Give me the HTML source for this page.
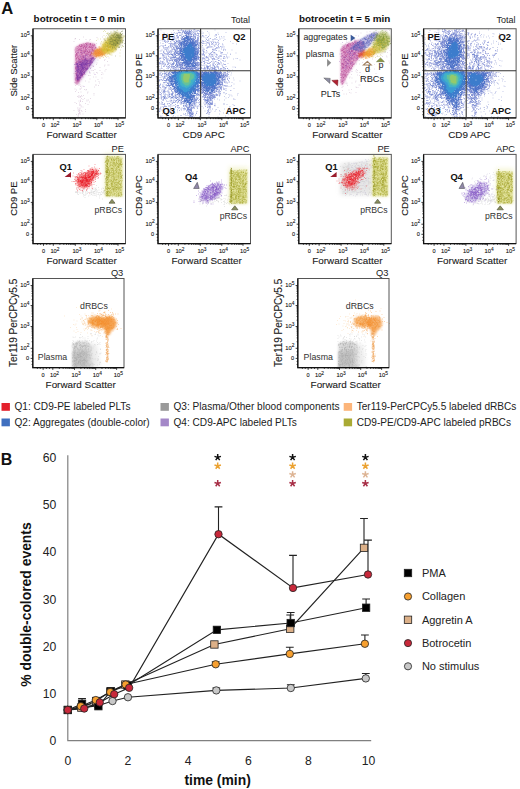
<!DOCTYPE html><html><head><meta charset="utf-8"><style>html,body{margin:0;padding:0;background:#fff;}body{width:520px;height:789px;overflow:hidden}</style></head><body><svg width="520" height="789" viewBox="0 0 520 789" style="font-family:'Liberation Sans',sans-serif;display:block">
<style>.h{stroke:#1a1a1a;stroke-width:0.1px}</style>
<defs><filter id="b1" x="-50%" y="-50%" width="200%" height="200%"><feGaussianBlur stdDeviation="1.2"/></filter><filter id="b2" x="-50%" y="-50%" width="200%" height="200%"><feGaussianBlur stdDeviation="2.2"/></filter><filter id="b3" x="-50%" y="-50%" width="200%" height="200%"><feGaussianBlur stdDeviation="3.5"/></filter></defs>
<rect width="520" height="789" fill="#fff"/>
<path d="M167 74h0m38 0h0m-11 1h0m-43 2h0m0 0h0m-1 1h0m9 1h0m13 0h0m7 1h0m2-1h0m27 0h0m2 1h0m-62 3h0m61 4h0m-8 1h0m-8-1h0m-26 1h0m8 2h0m39 0h0m-2 5h0m-22-2h0m-38 5h0m11-1h0m21 0h0m27 1h0m3-1h0m-5 4h0m-1-1h0m-5 0h0m-21-1h0m-10 1h0m-5 1h0m-10-1h0m0 2h0m33 2h0m6 0h0m14-2h0m-24 3h0m-5 2h0m-8-1h0m1 4h0m20 0h0m2-2h0m23 0h0m-23 4h0m-28 0h0m-4 4h0m15-2h0m8 0h0m26 1h0m5 1h0m-8 3h0m-46 0h0m-4 0h0m-2-2h0m-6 1h0m11 4h0m4-2h0m29 0h0m13 1h0m6 2h0m-39 0h0m-21 1h0m39 2h0m24 4h0m-2 0h0m-6 0h0m-17-1h0m-10 1h0m-33-1h0m5 4h0m32 0h0m0 0h0m22-1h0m-9 3h0m-18 0h0m-10 1h0m-9 1h0m-6 0h0m33 2h0m22 0h0m-2 3h0m-10-1h0m-13 0h0m-3 0h0m-15 0h0m-4 2h0m-13 0h0m-1 0h0m12 3h0m3-2h0m22 2h0m5-1h0m2 1h0m9-1h0m2 3h0m-3 1h0m-41 0h0m-14-2h0m14 5h0m1-1h0m14 0h0m3 0h0m12 3h0m-5 0h0m-37 4h0m30 0h0m24-2h0m-8 3h0m-34 0h0m-3 1h0m12 2h0m7 2h0m13-2h0m7 1h0m1 3h0m-40 0h0m-10-1h0m43 5h0m0 0h0m5 1h0m-39 0h0m-7 0h0m12 5h0m26-2h0m-16 5h0m-4 0h0m-9-1h0m-10 0h0m3 2h0m19 0h0m4 4h0m-14 0h0m-11-1h0m24 3h0m13 1h0m0 3h0m-21 1h0m-4 0h0m-8 2h0m3 1h0m6-1h0m17 4h0m-15 2h0m8 1h0m3 0h0m-3 2h0m-9 1h0m-4-1h0m-11 3h0m29-1h0m-3 5h0m-5-2h0m-18 0h0m18 12h0m-23 2h0m23 2h0m-12 4h0m-6 2h0m4 3h0" stroke="#d8c8d8" stroke-width="1.6" stroke-linecap="round" transform="scale(0.5)"/>
<polygon points="75.2,47.5 80.0,44.5 88.0,42.5 95.0,44.0 97.5,52.0 92.0,62.0 84.0,74.0 78.0,84.0 75.2,84.0" fill="#cc5ca2" opacity="0.6" filter="url(#b1)"/>
<path d="M174 86h0m0 0h0m3 0h0m12 3h0m-1-1h0m-3 0h0m0 1h0m-3-1h0m-1 0h0m0 1h0m0-2h0m-1 0h0m0 1h0m-1 0h0m-1 1h0m-2-2h0m-1 1h0m-2-1h0m0 2h0m0 0h0m-1 0h0m-1-2h0m0 0h0m-3 2h0m0-1h0m-2 0h0m-3 1h0m0 0h0m-3 0h0m-2 2h0m1 0h0m0 1h0m1-2h0m3 2h0m0-1h0m0 1h0m1-1h0m1-1h0m0 1h0m3 0h0m0-1h0m1 0h0m0 2h0m2-1h0m2-1h0m0 1h0m1 1h0m2-2h0m4 0h0m0 2h0m2 0h0m0-2h0m4 2h0m0 0h0m0-1h0m0 0h0m2 0h0m0 1h0m0-2h0m2 0h0m2 5h0m-1 0h0m-4 0h0m0-2h0m-1 2h0m0-1h0m-2 1h0m0-1h0m-1-1h0m-2 2h0m-1 0h0m0-1h0m-1 1h0m0-2h0m-1 0h0m-1 2h0m-3-1h0m-1-1h0m0 2h0m-2 0h0m0-1h0m-1 0h0m-1-1h0m-1 0h0m-1 2h0m0-1h0m-1 1h0m0-2h0m0 1h0m-4 0h0m0-1h0m0 0h0m-1 1h0m-1-1h0m-3 1h0m-1 0h0m-1-1h0m-2 1h0m-2 2h0m3 1h0m1 1h0m1 0h0m4-1h0m0 1h0m0 0h0m1 0h0m1 0h0m1 0h0m1-2h0m0 1h0m1 0h0m2 0h0m4 0h0m0 1h0m0-1h0m4 0h0m8-1h0m1 1h0m1-1h0m1 2h0m3 0h0m2-2h0m0 0h0m-4 5h0m-1 0h0m-1-1h0m0 0h0m0-1h0m-2 2h0m-1-2h0m-1 2h0m-1-1h0m-1 1h0m-1-1h0m0 0h0m-1 0h0m-4-1h0m0 1h0m-1-1h0m-1 1h0m0 0h0m-2 1h0m0-1h0m-1-1h0m-2 2h0m-2 0h0m-2 0h0m-1-1h0m-3 0h0m0-1h0m0 1h0m-3 1h0m-2 0h0m-1-1h0m-2 0h0m1 3h0m3 0h0m2-1h0m0 2h0m6 0h0m0-2h0m0 0h0m2 2h0m2-1h0m2 0h0m0 1h0m2-1h0m1 1h0m0-1h0m0-1h0m3 0h0m1 2h0m0-2h0m1 2h0m0-1h0m0 0h0m1 0h0m1 0h0m1 0h0m0 1h0m1 0h0m2-2h0m0 2h0m0-2h0m2 0h0m2 1h0m1-1h0m1 1h0m1-1h0m1 0h0m0 2h0m1-1h0m1 0h0m0 1h0m1-1h0m1 0h0m-1 2h0m0 2h0m-1 0h0m-1-1h0m-1 1h0m-1 0h0m0 0h0m-2-2h0m0 2h0m-1 0h0m-2 0h0m0 0h0m-1 0h0m0-2h0m0 1h0m-1 1h0m0-2h0m-2 0h0m-1 0h0m-1 2h0m-1-2h0m0 0h0m-4 2h0m-1-1h0m-1 0h0m-1 1h0m-1-2h0m-1 1h0m0 0h0m-2 1h0m-1 0h0m0 0h0m-1 0h0m-1-1h0m-1-1h0m-1 1h0m0-1h0m-1 2h0m-2 0h0m-1-2h0m-1 0h0m-1 1h0m-1 1h0m0-1h0m-1 1h0m0 0h0m-2-2h0m1 5h0m0 0h0m0-1h0m0 1h0m1-1h0m2 1h0m0 0h0m4 0h0m3-1h0m1 1h0m1 0h0m0-2h0m1 1h0m6-1h0m1 1h0m1-1h0m1 1h0m1-1h0m1 0h0m0 0h0m0 0h0m1 1h0m2-1h0m1 2h0m0 0h0m1-1h0m0 1h0m1-1h0m10 0h0m-2 4h0m-6-2h0m-2 1h0m-1 0h0m-1-1h0m-1 1h0m-4 1h0m-1-2h0m-3 2h0m0-2h0m-1 1h0m-2 0h0m0 1h0m-1 0h0m0-2h0m-2 1h0m0 1h0m-1 0h0m-2-2h0m0 2h0m-4 0h0m0-2h0m-2 2h0m-3-2h0m-2 1h0m0 0h0m0 0h0m0 1h0m0 3h0m1-2h0m2 1h0m0 1h0m1-2h0m2 2h0m0 0h0m1-1h0m2 0h0m2 0h0m3-1h0m0 1h0m0-1h0m2 2h0m0-1h0m0 1h0m3-1h0m1 1h0m2 0h0m4-2h0m4 2h0m2-2h0m1 2h0m1-1h0m0 0h0m1 0h0m1 2h0m0 1h0m-1 0h0m-3-1h0m-1 2h0m-2-1h0m0-1h0m-4 0h0m-2 1h0m-1 1h0m-2-2h0m-1 1h0m0 1h0m-1 0h0m-2-2h0m0 1h0m-1 1h0m-1-1h0m0 0h0m-1-1h0m0 2h0m-1-2h0m0 2h0m-1 0h0m-2 0h0m-1 0h0m-1-2h0m-1 0h0m0 2h0m-4-2h0m0 1h0m-1 0h0m-1 2h0m2 2h0m4 0h0m2-2h0m0 0h0m1 2h0m2 0h0m1-1h0m2 0h0m2 1h0m1-2h0m1 2h0m0 0h0m2-2h0m1 2h0m1-1h0m1 1h0m0 0h0m2 0h0m1-1h0m1 1h0m0-2h0m1 2h0m1 0h0m2-1h0m1 1h0m1 0h0m-1 3h0m-1 0h0m-2-1h0m-1 1h0m-3 0h0m-3 0h0m-8-1h0m0-1h0m0 2h0m-2-1h0m0 0h0m0 0h0m-1-1h0m0 1h0m-1 1h0m0-2h0m0 0h0m0 2h0m-2-2h0m-3 2h0m-1-1h0m-1 0h0m-1 0h0m-1 1h0m-1 1h0m2 0h0m0 0h0m1 1h0m3-1h0m0 0h0m0 0h0m2 2h0m0-1h0m0 0h0m0 0h0m0 1h0m1-1h0m2 0h0m0-1h0m1 2h0m3-2h0m0 2h0m4 0h0m2-1h0m0 1h0m0 0h0m0-2h0m1 0h0m1 1h0m1-1h0m3 2h0m3 0h0m1-2h0m0 1h0m-3 3h0m-4 0h0m0 0h0m-2 0h0m0 0h0m-2 1h0m-1-2h0m-1 0h0m-1 0h0m0 2h0m-2 0h0m-3 0h0m-3-2h0m-1 2h0m0-2h0m-2 1h0m0 1h0m-1 0h0m-1 0h0m-2-2h0m-1 1h0m0-1h0m-1 5h0m1-1h0m2 1h0m2-1h0m0 1h0m1-2h0m0 1h0m2-1h0m2 1h0m1 0h0m1 1h0m1 0h0m2-1h0m1-1h0m0 1h0m1 0h0m1 0h0m2 0h0m2 1h0m2-2h0m2 0h0m1 1h0m-3 2h0m-1 2h0m-2 0h0m0-2h0m0 1h0m-1 1h0m0-1h0m-1-1h0m0 1h0m-2-1h0m-1 1h0m-2 1h0m0 0h0m-1 0h0m-1-1h0m-1-1h0m-1 2h0m-2 0h0m-1-1h0m-1-1h0m-1 0h0m-1 2h0m-1-1h0m0 1h0m-1-2h0m0 0h0m-1 2h0m-1-2h0m0 2h0m0-1h0m0 2h0m1 2h0m0-1h0m2-1h0m2 2h0m2-1h0m0-1h0m1 1h0m2 1h0m1 0h0m2-1h0m0 1h0m1 0h0m1-2h0m4 1h0m1-1h0m2 1h0m1-1h0m0 0h0m1 0h0m-5 3h0m-1 2h0m-2-1h0m-2-1h0m0 0h0m-1 1h0m0 1h0m-1-2h0m0 2h0m-1 0h0m-4-2h0m-1 2h0m0-1h0m-1 1h0m-1-2h0m-1 0h0m0 2h0m0-2h0m-1 3h0m0 2h0m1-2h0m1 1h0m0-1h0m1 2h0m1 0h0m0-2h0m2 2h0m0-2h0m0 0h0m2 1h0m2-1h0m0 2h0m5 0h0m0 0h0m0 0h0m0-2h0m1 3h0m-1 1h0m-1 1h0m-2 0h0m0 0h0m-1-2h0m-1 0h0m0 2h0m-2 0h0m0 0h0m-2 0h0m0-2h0m0 1h0m-5 1h0m-1-1h0m-1-1h0m0 1h0m0-1h0m1 4h0m0-1h0m0 1h0m0-1h0m1 1h0m1-1h0m1 0h0m1 1h0m2 1h0m1 0h0m3 0h0m2-1h0m0-1h0m0 0h0m0 2h0m-2 1h0m-3 2h0m-1 0h0m-2-1h0m-1 1h0m0-2h0m-1 0h0m0 2h0m0-1h0m-1 0h0m0-1h0m-1 2h0m-2 1h0m0 2h0m1-2h0m1 0h0m2 1h0m0 1h0m0-2h0m2 2h0m1 0h0m2-2h0m1 0h0m-2 3h0m-3 0h0m0 1h0m0 1h0m0 0h0m-1 0h0m-1-1h0m0 0h0m-2 1h0m-1-1h0m0-1h0m1 5h0m2-2h0m0 2h0m1-2h0m1 1h0m0 1h0m1-2h0m1 0h0m1 0h0m-2 4h0m-3 0h0m-3 0h0m3 2h0m0 0h0" stroke="#b03888" stroke-width="1.8" stroke-linecap="round" stroke-opacity="0.5" transform="scale(0.5)"/>
<path d="M174 86h0m1 0h0m11 2h0m-1 0h0m-7-1h0m0 0h0m-2 2h0m-5 0h0m-3 0h0m-1-1h0m-5 1h0m2 2h0m6 0h0m3 0h0m1 1h0m5-2h0m3 2h0m5 0h0m1-2h0m3 2h0m-1 1h0m-2 1h0m-1 0h0m0 1h0m-2-2h0m-8 0h0m-2 0h0m-8 0h0m-2 2h0m-3 0h0m-7-1h0m-2 0h0m0 2h0m2 2h0m1-2h0m4 1h0m1 1h0m2-2h0m2 1h0m0 0h0m5 1h0m2 0h0m2 0h0m4-1h0m0 1h0m0-2h0m3 2h0m3-1h0m3 0h0m5-1h0m1 2h0m-2 1h0m-8 2h0m-1 0h0m-1-1h0m0 1h0m-3 0h0m-1 0h0m-1-2h0m-3 2h0m-4-1h0m0-1h0m-6 1h0m-8 0h0m0-1h0m-2 2h0m-2 1h0m3 0h0m1 1h0m1 0h0m4 0h0m4-1h0m13 1h0m0-1h0m0 1h0m1-1h0m10 0h0m3 2h0m0 0h0m0 0h0m1-1h0m1 0h0m0-1h0m-3 4h0m-1 0h0m-2-1h0m-1 2h0m0-1h0m-1-1h0m-5 0h0m-1 2h0m-1 0h0m-6 0h0m-1-2h0m0 1h0m-5 0h0m0 0h0m-2 1h0m-2 0h0m-1 0h0m-1-1h0m-1 1h0m0-1h0m-1-1h0m0 1h0m-2 0h0m-1 0h0m2 4h0m1-1h0m1-1h0m6 1h0m2-1h0m1 2h0m1 0h0m0-1h0m1 1h0m5-1h0m2-1h0m2 0h0m6 1h0m5 4h0m-2-2h0m0 2h0m-13-1h0m-1-1h0m-2 2h0m-3-1h0m-4 1h0m-2-2h0m-2 1h0m0 0h0m-2-1h0m0 1h0m-7 0h0m-1 0h0m6 4h0m1-1h0m2 0h0m5 0h0m4-1h0m1 0h0m2 1h0m2-1h0m3 2h0m4-1h0m3-1h0m2 2h0m0-2h0m2 2h0m-3 1h0m-1 2h0m-7-1h0m-10-1h0m-1 0h0m-15 3h0m4 0h0m1 2h0m5-2h0m2 0h0m1 1h0m0-1h0m4 1h0m6 1h0m7 0h0m3-1h0m-4 2h0m-7 1h0m-4 1h0m-2-1h0m-2-1h0m-3 1h0m-4 1h0m-3 0h0m3 1h0m0 1h0m1 0h0m3 1h0m0-2h0m7 0h0m2 0h0m3 1h0m4-1h0m3 1h0m-6 2h0m-1 0h0m-2 1h0m-4-1h0m-3 2h0m-2 0h0m-4 0h0m-2-2h0m-5 1h0m-1 1h0m1 3h0m2-1h0m0-1h0m0 0h0m3 2h0m5-1h0m1 0h0m0 1h0m5-1h0m0 1h0m1 0h0m1-2h0m3 4h0m-1 0h0m0-1h0m-4 0h0m-1 0h0m-5 1h0m-4 1h0m-4-1h0m-3 2h0m0 1h0m3 1h0m1 0h0m3-1h0m2 1h0m4-1h0m4 1h0m-1 1h0m0 1h0m-1-1h0m-2 1h0m-1 0h0m-5-1h0m-5 2h0m-1 0h0m3 1h0m2 1h0m0 1h0m1-2h0m0 1h0m7 0h0m3-1h0m-4 4h0m-2 1h0m0-2h0m-6 1h0m0 1h0m-6 3h0m9 0h0m5 1h0m-2 1h0m-10 4h0m4-2h0m3 4h0m-7-1h0m-1 1h0" stroke="#e0a8d0" stroke-width="1.6" stroke-linecap="round" stroke-opacity="0.7" transform="scale(0.5)"/>
<polygon points="76.5,63.0 86.0,59.5 96.5,56.5 91.0,65.0 83.0,75.0 78.5,81.0 76.5,81.0" fill="#8a4cb4" opacity="0.5" filter="url(#b2)"/>
<path d="M184 116h0m1 0h0m1 0h0m1 0h0m0-1h0m5-1h0m-2 3h0m0 0h0m-1 2h0m-3-1h0m-1-1h0m-1 1h0m-1 0h0m0 1h0m-1-1h0m0-1h0m-6 2h0m-4 0h0m-1 0h0m-5 2h0m3 1h0m1-1h0m0-1h0m0 0h0m3 1h0m0 0h0m2 0h0m0 1h0m1-1h0m3-1h0m2 1h0m1 0h0m2-1h0m0 0h0m3 1h0m1-1h0m-2 3h0m-1 1h0m-1-1h0m0 2h0m-1-2h0m-2 1h0m0-1h0m0 2h0m0-2h0m-2 0h0m-3 0h0m-1 0h0m-1 2h0m-1-1h0m0 0h0m-3 0h0m-1 1h0m-1-2h0m0 2h0m-2 0h0m0 0h0m0-1h0m-1 0h0m-5 1h0m0-1h0m0 1h0m0-1h0m-2 1h0m-5 3h0m1 0h0m0 0h0m1 0h0m0-1h0m0 1h0m1 0h0m2 0h0m4-2h0m1 2h0m0 0h0m1-1h0m1 0h0m1 0h0m0-1h0m1 1h0m1 0h0m1 0h0m1 1h0m1-2h0m0 2h0m0 0h0m1-2h0m0 1h0m0 1h0m2-2h0m2 1h0m0 1h0m1-1h0m1 0h0m1 0h0m1-1h0m0 1h0m2 1h0m0-1h0m2-1h0m-3 4h0m0 0h0m-1-1h0m0 0h0m-1 2h0m0 0h0m-3-1h0m-3 0h0m0-1h0m0 1h0m-2 0h0m0-1h0m-2 1h0m0 0h0m0 1h0m-2-2h0m-1 0h0m-1 1h0m-1 1h0m-1 0h0m0 0h0m-1-1h0m0-1h0m0 0h0m0 0h0m-1 1h0m-1-1h0m0 0h0m0 0h0m-1 0h0m-3 1h0m-1 1h0m-1-2h0m-1 3h0m2 0h0m0 1h0m1 0h0m0-1h0m0 2h0m0-1h0m0 0h0m3 0h0m3 0h0m1 1h0m0-2h0m1 1h0m1 1h0m0 0h0m1-1h0m2 1h0m2 0h0m4 0h0m4-2h0m1 0h0m-3 5h0m-2 0h0m-3 0h0m-2-2h0m0 1h0m-2 1h0m0-1h0m-1 0h0m0 1h0m0-1h0m-1-1h0m0 2h0m0-2h0m-3 0h0m-1 2h0m-3-1h0m0 1h0m-1-2h0m0 2h0m-1-2h0m-1 0h0m-1 1h0m-1 4h0m1 0h0m0-2h0m2 2h0m0-1h0m0-1h0m0 1h0m1 0h0m1 1h0m0 0h0m2-1h0m3-1h0m1 2h0m0-1h0m0 0h0m2-1h0m1 2h0m2-1h0m2 1h0m1-2h0m1 2h0m1-2h0m0 1h0m-2 2h0m-2 2h0m-3-2h0m-2 2h0m-1 0h0m-1-2h0m-1 0h0m-1 2h0m0 0h0m0-2h0m-1 0h0m-2 0h0m-3 2h0m0-2h0m-1 1h0m0 0h0m1 4h0m1-2h0m0 1h0m1-1h0m2 1h0m0 1h0m2 0h0m0-2h0m0 0h0m0 2h0m1-2h0m1 1h0m1 1h0m0-1h0m2-1h0m1 1h0m1 0h0m0 1h0m1-2h0m0 0h0m0 2h0m-4 2h0m0 1h0m0-1h0m-1-1h0m0 1h0m-1 1h0m0 0h0m0-2h0m0 0h0m-1 0h0m-1 1h0m-1-1h0m-1 1h0m-3 0h0m-2 1h0m0-1h0m-1 2h0m2 1h0m1 0h0m0-1h0m0 2h0m1-2h0m3 2h0m1-1h0m0 1h0m0-1h0m2 0h0m0-1h0m0 0h0m1 1h0m0 1h0m-2 3h0m-1 0h0m-1-2h0m0 1h0m-1 1h0m-1-1h0m-2 1h0m0 0h0m0-2h0m0 2h0m-1-2h0m-1 0h0m0 1h0m0 2h0m0 2h0m0-1h0m0 1h0m1 0h0m1-1h0m0-1h0m0 2h0m2-1h0m0-1h0m0 0h0m1 0h0m1 0h0m1 0h0m-3 4h0m0 0h0m-1-1h0m-1 1h0m-1-1h0m0 0h0" stroke="#7434a4" stroke-width="1.8" stroke-linecap="round" stroke-opacity="0.5" transform="scale(0.5)"/>
<path d="M174 92h0m-11 9h0m6 3h0m4-2h0m-7 3h0m-3 1h0m-7-1h0m15 5h0m4 0h0m-2 1h0m-2 1h0m-2 0h0m-3 0h0m-5 1h0m-1-2h0m2 5h0m4-2h0m2 1h0m0 1h0m2 0h0m1 0h0m1 1h0m-2 1h0m-14 4h0m1 0h0m4-2h0m3 1h0m2 1h0m0-1h0m4-1h0m1 2h0m0 0h0m10-1h0m4 4h0m-3 0h0m-3 0h0m-7-1h0m-4-1h0m-5 1h0m-5 0h0m-7 4h0m3-1h0m8 1h0m1-1h0m3-1h0m5 2h0m3 0h0m1-1h0m0 1h0m-6 1h0m-2 0h0m0 1h0m-1 0h0m-1 1h0m-1-1h0m0 1h0m0-2h0m0 0h0m0 1h0m-2 0h0m0 1h0m-1-2h0m-6 0h0m-6 0h0m4 4h0m7 1h0m1-1h0m3 0h0m5 1h0m2 0h0m3-2h0m1 2h0m4 0h0m7-2h0m-5 5h0m-4-2h0m-1 2h0m-1-1h0m-8-1h0m-1 1h0m-1-1h0m-3 0h0m1 4h0m4 1h0m0-1h0m6-1h0m1 0h0m-2 4h0m-8 1h0m-6 0h0m-7 0h0m20 1h0m8 0h0m1 2h0m10 3h0m-20 0h0m-3-1h0m-5 1h0m4 5h0m2 19h0" stroke="#7e3cac" stroke-width="1.8" stroke-linecap="round" stroke-opacity="0.5" transform="scale(0.5)"/>
<ellipse cx="100.5" cy="52.0" rx="8.5" ry="4.3" transform="rotate(-22 100.5 52.0)" fill="#f3a050" opacity="0.85" filter="url(#b1)"/>
<path d="M208 91h0m6 0h0m1 0h0m0 0h0m5 3h0m-11 0h0m-1-1h0m-8 2h0m-1-2h0m-2 1h0m-4 4h0m2 0h0m1 0h0m2 0h0m1-2h0m0 2h0m1-1h0m1 1h0m2-1h0m0 1h0m3 0h0m0-2h0m3 0h0m0 2h0m1 0h0m0 0h0m1-2h0m0 0h0m2 2h0m1-1h0m6 0h0m-1 3h0m-3-1h0m0 1h0m-5 1h0m-1 0h0m-1-1h0m-1 0h0m0-1h0m-1 0h0m0 2h0m0 0h0m0 0h0m0 0h0m-2-1h0m0-1h0m-1 2h0m-1-2h0m0 1h0m0 1h0m-1 0h0m0 0h0m0 0h0m-1-2h0m-2 0h0m0 2h0m0-2h0m-1 2h0m0-1h0m-1 1h0m-1-2h0m0 2h0m0 0h0m0 0h0m0-2h0m0 0h0m-1 2h0m-1-2h0m0 1h0m0 0h0m-1 1h0m-2 0h0m-2 0h0m-1-1h0m2 4h0m0-1h0m1 0h0m0 0h0m0-1h0m1 0h0m1 2h0m1-2h0m0 0h0m0 2h0m1-1h0m1 0h0m0 1h0m1 0h0m1-2h0m0 1h0m0 1h0m1-1h0m0 0h0m0 0h0m0 1h0m1-2h0m0 2h0m0-1h0m1 1h0m1-2h0m0 1h0m0-1h0m1 2h0m0-2h0m0 0h0m1 2h0m0-1h0m1 1h0m0 0h0m0-2h0m0 1h0m1-1h0m0 0h0m0 1h0m1 0h0m0-1h0m0 1h0m1-1h0m1 2h0m2 0h0m1-1h0m0 1h0m1-1h0m1 0h0m-1 2h0m-2 2h0m-2-2h0m0 2h0m-1-1h0m-1 0h0m0-1h0m-1 0h0m0 2h0m-1-1h0m0 0h0m-1-1h0m0 2h0m-1 0h0m0-2h0m0 1h0m-1 0h0m0 1h0m-1-2h0m0 0h0m0 1h0m-1 0h0m0 1h0m0-1h0m-1 1h0m0-1h0m0 1h0m-1-2h0m0 1h0m0-1h0m-1 1h0m0-1h0m0 0h0m0 2h0m-1-1h0m0 0h0m0 0h0m0 1h0m0-1h0m-1 0h0m0 0h0m-1 0h0m-1 1h0m0 0h0m0-1h0m0 1h0m-1-2h0m-1 1h0m0 0h0m-1 1h0m0-2h0m0 2h0m-1-2h0m-2 1h0m-3 1h0m-1-2h0m-1 4h0m2-1h0m3 1h0m3 0h0m1-1h0m0 1h0m0 0h0m2-1h0m1 2h0m0 0h0m0-1h0m1 1h0m1 0h0m0 0h0m0 0h0m1-2h0m0 0h0m0 2h0m1-1h0m1-1h0m1 2h0m0-2h0m0 1h0m0 1h0m1-1h0m1 0h0m0 0h0m1-1h0m1 2h0m0-2h0m0 0h0m0 1h0m0 0h0m1 0h0m0 1h0m1-2h0m1 0h0m1 1h0m0 0h0m1 2h0m-4 0h0m-1 2h0m-1-1h0m-2-1h0m-1 0h0m-1 0h0m-1 1h0m-1 0h0m0-1h0m-2 0h0m-1 1h0m-1 0h0m0-1h0m0 1h0m-1 1h0m0-1h0m-2-1h0m3 3h0m7 0h0m0 3h0" stroke="#f08a30" stroke-width="1.8" stroke-linecap="round" stroke-opacity="0.5" transform="scale(0.5)"/>
<ellipse cx="110.0" cy="45.5" rx="10.0" ry="7.0" transform="rotate(-40 110.0 45.5)" fill="#dcc844" opacity="0.8" filter="url(#b1)"/>
<path d="M223 71h0m8 6h0m-11 0h0m-4 2h0m0 1h0m3-1h0m5 1h0m1 0h0m4 0h0m0-1h0m16-1h0m-2 4h0m-8 0h0m-5-1h0m-1 1h0m-1 0h0m-1 0h0m0 0h0m-1 1h0m-1-2h0m-2 1h0m-4 1h0m-6 0h0m-11 3h0m6-2h0m3 2h0m0-2h0m0 1h0m3 0h0m1 0h0m0-1h0m1 2h0m1-1h0m0-1h0m3 0h0m0 0h0m0 2h0m0 0h0m1-1h0m1 0h0m1 1h0m2-2h0m0 1h0m1 1h0m1 0h0m1-1h0m2 1h0m0-2h0m1 1h0m0-1h0m0 0h0m1 2h0m2 0h0m5 2h0m-5 1h0m0 0h0m-4 0h0m-1-1h0m-1-1h0m0 1h0m-2 0h0m0 1h0m-2-2h0m0 2h0m0-1h0m0 0h0m-1 1h0m0 0h0m-1-2h0m0 0h0m-1 2h0m-1-2h0m0 1h0m0-1h0m0 2h0m0 0h0m0-2h0m-1 2h0m0-1h0m0 1h0m0-2h0m-1 0h0m0 2h0m0 0h0m0 0h0m-1 0h0m0-1h0m0 1h0m-1-1h0m0 1h0m-1-1h0m0 1h0m0-1h0m0 0h0m-1 0h0m-2 0h0m-1 1h0m0 0h0m-2-1h0m-1 0h0m-1 1h0m-2 0h0m1 2h0m1 1h0m1 0h0m1-2h0m1 2h0m1-2h0m1 0h0m0 0h0m0 1h0m0 1h0m2-1h0m0 1h0m0 0h0m1 0h0m2-1h0m1-1h0m0 1h0m0 1h0m0 0h0m2-1h0m0-1h0m1 2h0m0-2h0m0 1h0m0 1h0m1 0h0m1-1h0m0 0h0m1-1h0m1 1h0m0-1h0m1 1h0m0 0h0m0-1h0m1 1h0m0 0h0m1 1h0m1 0h0m1-2h0m3 1h0m1 1h0m0 1h0m-6 0h0m0 1h0m0-1h0m-1 2h0m0-2h0m0 0h0m-1 2h0m0-1h0m-1 0h0m0-1h0m0 0h0m-1 0h0m-2 1h0m0 0h0m0 0h0m0 1h0m-1-2h0m0 0h0m0 2h0m-1-1h0m-1-1h0m0 0h0m0 2h0m-1 0h0m-1-1h0m0 0h0m0 1h0m0-1h0m0 1h0m-1-1h0m0-1h0m-1 1h0m-3-1h0m-1 1h0m0-1h0m0 1h0m-1-1h0m-2 2h0m0-1h0m-3 0h0m-3 4h0m4 0h0m2-2h0m0 2h0m1-1h0m0 1h0m4 0h0m0 0h0m0-1h0m1 1h0m2 0h0m0 0h0m1-1h0m1 1h0m3-2h0m1 1h0m0 1h0m2 0h0m2 0h0m0 0h0m2-1h0m1-1h0m0 1h0m3-1h0m1 4h0m-3-1h0m-1 0h0m-2 1h0m-2 0h0m-2-1h0m0 1h0m-2 1h0m0-2h0m-2 0h0m0 2h0m-1-2h0m0 0h0m0 1h0m0 0h0m0 1h0m-1-1h0m0 0h0m0 0h0m-2 1h0m0 0h0m-1 0h0m-1 0h0m0-2h0m0 1h0m0-1h0m-1 0h0m-1 1h0m-1 0h0m0 1h0m0-2h0m-2 0h0m0 0h0m0 2h0m-2-2h0m0 2h0m-1-1h0m-13 0h0m7 2h0m3 2h0m4-2h0m2 0h0m1 1h0m5 0h0m2-1h0m0 0h0m0 0h0m6 0h0m0 1h0m2-1h0m0 2h0m1-1h0m1-1h0m2 0h0m0 2h0m3-2h0m-9 4h0m-3 0h0m-2 0h0m-1 0h0m-6 0h0m0-1h0m-8 2h0m4 1h0m0 2h0m3-2h0m6 0h0m5 1h0m-4 4h0m-5 0h0m-12-2h0m8 4h0" stroke="#d4b828" stroke-width="1.8" stroke-linecap="round" stroke-opacity="0.5" transform="scale(0.5)"/>
<ellipse cx="115.5" cy="39.5" rx="7.8" ry="7.0" transform="rotate(-40 115.5 39.5)" fill="#b0ac50" opacity="0.75" filter="url(#b1)"/>
<path d="M228 62h0m17 0h0m-1 1h0m-1 0h0m-10 2h0m-1-1h0m-1 0h0m-16 4h0m3 0h0m1-1h0m2-1h0m8 2h0m1-2h0m1 1h0m4-1h0m5 2h0m1-1h0m0-1h0m0 0h0m4 1h0m-1 3h0m-1-1h0m0 0h0m0 1h0m-1-1h0m-1 2h0m-1-2h0m0 2h0m-2 0h0m-1 0h0m0-2h0m-1 2h0m0-1h0m-1 1h0m0 0h0m0-2h0m0 2h0m-2-1h0m0 1h0m0 0h0m0-2h0m-3 1h0m-1-1h0m-1 1h0m-2 1h0m0 0h0m-1 0h0m-2-1h0m-6 0h0m3 2h0m0 2h0m5 0h0m2 0h0m0-2h0m0 2h0m1 0h0m2 0h0m1-1h0m0 0h0m2-1h0m1 2h0m1 0h0m0-2h0m1 1h0m0 0h0m0 1h0m1 0h0m0-2h0m1 0h0m0 0h0m1 0h0m1 2h0m0-1h0m0 1h0m1-2h0m1 1h0m2 2h0m-1 0h0m-1 2h0m0-2h0m-1 2h0m0-2h0m-1 1h0m0-1h0m-1 1h0m0 0h0m0 1h0m-1-2h0m0 0h0m0 0h0m0 2h0m-1 0h0m-1-2h0m0 1h0m0-1h0m0 1h0m-2-1h0m-1 1h0m0-1h0m0 2h0m0-2h0m-1 1h0m0 0h0m-1-1h0m0 2h0m-2-2h0m0 1h0m0-1h0m-6 2h0m0-1h0m-1-1h0m-1 1h0m-5 0h0m2 3h0m2 0h0m1 0h0m0-1h0m2 0h0m1 2h0m0-2h0m0 0h0m1 1h0m0 1h0m1 0h0m1 0h0m1-1h0m2 1h0m0-2h0m1 1h0m0 0h0m0 1h0m1-1h0m0-1h0m0 2h0m1 0h0m0 0h0m1-1h0m0-1h0m0 0h0m1 0h0m0 1h0m2 0h0m1-1h0m0 0h0m0 1h0m0 0h0m1 1h0m0-2h0m1 1h0m2 0h0m4 2h0m0 0h0m-2 2h0m-2-2h0m-1 0h0m0 2h0m0-2h0m0 1h0m-2 0h0m0-1h0m-1 1h0m-1-1h0m0 0h0m0 0h0m-1 1h0m0 0h0m-1-1h0m0 0h0m-1 2h0m-1 0h0m0 0h0m-1-1h0m0 1h0m-1-2h0m-1 1h0m0 0h0m0 0h0m-1-1h0m0 1h0m0-1h0m-1 1h0m-1 1h0m0-1h0m-2 0h0m-1 1h0m0 0h0m-2 0h0m0 0h0m-1 0h0m0 0h0m-1-1h0m-1 0h0m-3-1h0m-5 0h0m1 5h0m1-1h0m5 1h0m2-1h0m1 1h0m2-1h0m0 0h0m1-1h0m0 0h0m1 0h0m1 2h0m1-2h0m1 1h0m0 0h0m0-1h0m0 1h0m1 1h0m0-1h0m1 1h0m0-2h0m1 1h0m1-1h0m1 2h0m0-1h0m1 0h0m0-1h0m0 0h0m1 1h0m0 1h0m0-1h0m0 0h0m2-1h0m0 0h0m3 0h0m0 1h0m2 1h0m0-1h0m3 0h0m0-1h0m4 3h0m-9 1h0m-2 0h0m0 0h0m-1-1h0m-2 0h0m0 0h0m-1 0h0m0 1h0m0-1h0m-1 1h0m-1 1h0m-1 0h0m0-2h0m-1 1h0m0 0h0m0 0h0m-1 0h0m-2 0h0m0 0h0m0 0h0m0 0h0m-2 1h0m-1 0h0m0 0h0m-1-1h0m-1 1h0m-2-2h0m-1 2h0m0-1h0m-4-1h0m1 4h0m8 1h0m0 0h0m3-2h0m0 1h0m2 0h0m1-1h0m1 0h0m0 1h0m0 0h0m3 0h0m8 1h0m3-1h0m2 2h0m-8 2h0m0-1h0m-1 0h0m-1 1h0m-3-1h0m-4 0h0m-1 1h0m-1-1h0m-3 1h0m0 0h0m-5-1h0m0 0h0m-4 0h0m-2-1h0m11 4h0m6 0h0m1 1h0m0 1h0m-17 1h0m16 12h0" stroke="#6c7838" stroke-width="1.8" stroke-linecap="round" stroke-opacity="0.45" transform="scale(0.5)"/>
<path d="M209 61h0m25 0h0m1-1h0m-6 3h0m-7 0h0m-6 2h0m-5-2h0m-4 0h0m7 4h0m0 0h0m2 0h0m7-1h0m3 2h0m2-2h0m8 2h0m12 3h0m-7-2h0m-4 1h0m-5 0h0m-4-1h0m0 2h0m-4 0h0m0-2h0m-1 2h0m-3-1h0m-3 0h0m-4 1h0m-5 0h0m3 3h0m4 0h0m4 0h0m1-1h0m0-1h0m5 0h0m1 1h0m3 0h0m3 1h0m0 0h0m1-2h0m2 0h0m13 2h0m0-2h0m0 1h0m-2 2h0m-10 2h0m-4 0h0m-3-2h0m0 2h0m-1 0h0m-4 0h0m-4-1h0m-4 1h0m-1-1h0m-3 1h0m-4 0h0m-12 1h0m5 0h0m8 0h0m1 1h0m5-1h0m2 2h0m3 0h0m1-2h0m1 2h0m1 0h0m2-1h0m1-1h0m2 2h0m1-2h0m2 0h0m0 0h0m1 0h0m1 0h0m1 1h0m1-1h0m3 2h0m0-1h0m0 0h0m4-1h0m1 4h0m0 0h0m-3 0h0m-3 1h0m0-1h0m-3-1h0m-1 1h0m-1 1h0m-3 0h0m-1 0h0m-1 0h0m-1-1h0m-4 0h0m0 1h0m-3-2h0m-2 2h0m0-1h0m-1-1h0m-4 2h0m-3-2h0m-6 2h0m-10-2h0m18 4h0m6 1h0m1-2h0m0 2h0m1-2h0m0 0h0m3 1h0m1 0h0m0 0h0m1 1h0m1-2h0m0 2h0m1 0h0m0-1h0m2-1h0m1 0h0m0 0h0m1 2h0m0-1h0m0 0h0m1 1h0m2 0h0m1-2h0m3 1h0m8 1h0m-13 2h0m-2 1h0m-7-2h0m-4 2h0m-1 0h0m0 0h0m0-1h0m-1-1h0m-1 1h0m0 1h0m-2 0h0m-4 0h0m0 3h0m1-1h0m2 1h0m5-2h0m5 2h0m1-2h0m3 0h0m2 0h0m5 0h0m1 0h0m1 1h0m1-1h0m8 3h0m-2 2h0m-5-1h0m-1 0h0m-1-1h0m-3 0h0m-1 0h0m0 1h0m-3 0h0m-2-1h0m-3 1h0m-13 1h0m-2-2h0m-2 1h0m2 4h0m3-1h0m10 1h0m1-1h0m1-1h0m1 2h0m2-1h0m0-1h0m2 0h0m3 0h0m0 2h0m9 2h0m-11 1h0m-5-2h0m-2 1h0m-3 1h0m-7-2h0m-6 2h0m-4-2h0m-1 1h0m3 4h0m10-1h0m4-1h0m7 2h0m14 2h0m-22 1h0m4 3h0m2 0h0m16 2h0m-28 0h0" stroke="#c0bc50" stroke-width="1.6" stroke-linecap="round" stroke-opacity="0.55" transform="scale(0.5)"/>
<path d="M157 168h0m3 1h0m6 3h0m-4 0h0m-1 1h0m0 5h0m-4 7h0m1 6h0m-1 3h0m3 0h0m1 0h0m0-1h0m8 4h0m-6 0h0m-2 3h0m0 3h0m0-1h0m-3 0h0m1 4h0m0 4h0m1 0h0m1 0h0m2 2h0m3 2h0m-4 0h0m-7 2h0m3 0h0m2 1h0m3 4h0m-3-1h0m-1 1h0m0-1h0m-2 0h0m-1 0h0m2 3h0m0 0h0m6 0h0m-4 2h0m-1 0h0m-2 3h0m0 0h0m1 0h0m3 0h0m5 0h0m-10 4h0" stroke="#dcc8dc" stroke-width="1.6" stroke-linecap="round" transform="scale(0.5)"/>
<path d="M778 59h0m-8 3h0m2-1h0m2 1h0m5-1h0m-14 4h0m-8-1h0m-4 1h0m-13-2h0m-6 1h0m-12 2h0m23 0h0m7 0h0m8 1h0m14 3h0m-3 1h0m-13-1h0m-4 0h0m-4 1h0m-5-1h0m-7 1h0m-4-2h0m-22 2h0m-10 0h0m-12-2h0m40 4h0m3-1h0m45 0h0m-28 5h0m-2 0h0m-9-1h0m-50 3h0m20 1h0m23 0h0m17 0h0m9-2h0m23 4h0m-6 0h0m-2 0h0m-14 1h0m-9-2h0m-1 1h0m-10 1h0m-46-1h0m16 2h0m9 0h0m11 0h0m1 2h0m5-1h0m13 0h0m27 3h0m-6 1h0m-1 0h0m-35-2h0m-7 0h0m-35 1h0m0 1h0m-9-1h0m4 2h0m13 0h0m11 0h0m6 0h0m14 2h0m40 0h0m0 0h0m-17 1h0m-35 2h0m-13-1h0m-10 0h0m-6-1h0m-6 1h0m3 2h0m3 1h0m7 0h0m80 0h0m4 4h0m-34 0h0m-7-1h0m-7-1h0m-6 2h0m-21-1h0m-12-1h0m44 4h0m14 0h0m18 1h0m6 1h0m-7 0h0m-4 1h0m-73 1h0m-1 0h0m-4 0h0m20 3h0m18-2h0m18 1h0m19 0h0m20-1h0m0 2h0m-8 2h0m-8 1h0m-11 0h0m-8-1h0m-7 1h0m-22 0h0m-25 3h0m30-1h0m4 0h0m48-1h0m-14 5h0m0-1h0m-15 0h0m-56 2h0m5 0h0m17 2h0m5-1h0m3 0h0m17 1h0m42 0h0m-42 2h0m-11 1h0m-18 0h0m-8 0h0m-6-2h0m-10 1h0m28 2h0m2 2h0m6 0h0m13-1h0m47-1h0m-17 4h0m-13-1h0m-60 1h0m71 2h0m-21 3h0m0 2h0m-52 2h0m8-1h0m0 0h0m18 1h0m22-1h0m1 1h0m4 0h0m9-1h0m-34 3h0m-3 1h0m-15-1h0m17 4h0m6 0h0m0 0h0m32 2h0m-49 2h0m-6-1h0m-3 3h0m21-1h0m4 1h0m18 3h0m-4 0h0m-6 1h0m-6 0h0m-21-1h0m-7-1h0m6 3h0m5 0h0m18 2h0m16-2h0m1 2h0m1 0h0m-16 3h0m-38 0h0m-5-1h0m0 3h0m11 1h0m19 0h0m1-2h0m10 1h0m12 0h0m-30 3h0m-10 0h0m-2 1h0m-11-2h0m13 3h0m24 2h0m2 0h0m-25 1h0m-9 2h0m-2 2h0m28-1h0m1 1h0m3 0h0m-13 4h0m-18 2h0m13-1h0m14 5h0m-13 0h0m-11 3h0m5 0h0m9-2h0" stroke="#dccadc" stroke-width="1.6" stroke-linecap="round" transform="scale(0.5)"/>
<polygon points="340.8,49.0 343.5,45.5 350.0,43.0 358.0,40.0 364.0,42.0 363.0,52.0 356.0,62.0 348.0,74.0 343.0,84.5 340.8,84.5" fill="#cc60a6" opacity="0.6" filter="url(#b1)"/>
<path d="M725 83h0m-1 0h0m-3 0h0m0-1h0m-1 0h0m-8 0h0m0 0h0m-3 1h0m-5 2h0m1 0h0m4 0h0m1 0h0m0 0h0m1-1h0m1 2h0m1 0h0m3-1h0m1 0h0m1 1h0m1-1h0m0 1h0m1 0h0m1 0h0m1-1h0m0 1h0m1-1h0m1 0h0m0 0h0m3 3h0m-1 1h0m-1-2h0m-2 1h0m0 0h0m-2 0h0m-1 1h0m0-1h0m0 1h0m-2 0h0m0-1h0m-2 1h0m-1-2h0m-2 1h0m0 0h0m0 0h0m-1 0h0m-1-1h0m-1 2h0m-2 0h0m-1-2h0m0 0h0m-1 2h0m0-2h0m-1 2h0m-1-2h0m-2 1h0m-1 0h0m0 0h0m-1-1h0m-1 2h0m-1-1h0m0-1h0m0 0h0m-1 1h0m-2 1h0m0 0h0m-1 0h0m-6 2h0m2-1h0m3 2h0m1 0h0m0-1h0m0-1h0m1 1h0m0 1h0m1-1h0m0 0h0m0-1h0m1 0h0m0 2h0m1-1h0m0-1h0m1 2h0m2-2h0m0 2h0m1-2h0m0 2h0m2-1h0m1 1h0m1 0h0m0 0h0m3 0h0m1-1h0m2 1h0m0 0h0m0-2h0m1 1h0m1 0h0m0-1h0m1 0h0m1 0h0m0 0h0m1 2h0m1-2h0m1 1h0m3 0h0m0-1h0m1 2h0m1-2h0m0 2h0m0 0h0m2-1h0m0 0h0m1-1h0m0 0h0m0 0h0m-1 3h0m0 2h0m0-2h0m-3 0h0m-3 0h0m-1 1h0m-3-1h0m0 2h0m-1-1h0m-1 0h0m0 0h0m0 1h0m-2-1h0m-1 1h0m0 0h0m-2-1h0m0-1h0m-2 1h0m-1-1h0m-4 1h0m-1 1h0m0-2h0m-2 1h0m-2 0h0m0 0h0m0-1h0m-1 2h0m-2-2h0m-1 2h0m0-1h0m-4 0h0m-1 0h0m0 1h0m-1 0h0m-1-2h0m-1 1h0m-3 4h0m2-1h0m1 1h0m1-1h0m1 0h0m0 1h0m2-1h0m1-1h0m0 1h0m1 1h0m1-1h0m2 0h0m4 0h0m0 1h0m1-2h0m1 0h0m1 1h0m0 1h0m1-2h0m0 0h0m2 0h0m2 0h0m3 2h0m2 0h0m1-2h0m0 0h0m1 1h0m1 0h0m2 0h0m0-1h0m2 1h0m3-1h0m1 1h0m1 1h0m0 0h0m1 0h0m2 0h0m0 3h0m-1-2h0m-1 2h0m-2-1h0m0-1h0m-2 1h0m-1 0h0m-1 1h0m0-2h0m-1 2h0m-2-2h0m0 2h0m0-1h0m0-1h0m-1 0h0m-1 2h0m0-1h0m-1 1h0m0 0h0m-5-1h0m0-1h0m0 0h0m0 0h0m-2 0h0m0 2h0m-1 0h0m0 0h0m-1 0h0m-4-1h0m0 0h0m-1 1h0m0-2h0m-3 2h0m-3 0h0m-1-1h0m-2 1h0m0-1h0m-1-1h0m0 2h0m-1-1h0m-1 0h0m0 0h0m-1 1h0m0 0h0m-1-1h0m0 0h0m-1 1h0m-1-1h0m0 0h0m0 3h0m2-1h0m3 1h0m1 0h0m0 1h0m1-1h0m0 1h0m0 0h0m1-1h0m1 1h0m2-2h0m0 2h0m1-1h0m0 0h0m1-1h0m2 1h0m1 0h0m1-1h0m0 0h0m1 1h0m3 0h0m0-1h0m0 0h0m1 1h0m0-1h0m1 1h0m2-1h0m4 1h0m1-1h0m1 1h0m3-1h0m0 1h0m2 0h0m0-1h0m0 1h0m2-1h0m0 1h0m0-1h0m0 1h0m0 0h0m3-1h0m1 2h0m0-1h0m1 1h0m-2 2h0m0 0h0m-2 1h0m-1 0h0m0-2h0m-1 0h0m-1 1h0m-1-1h0m-1 1h0m-2-1h0m-2 1h0m0-1h0m-1 2h0m0-2h0m-1 0h0m0 2h0m-1-1h0m-1 1h0m0-2h0m0 1h0m-2 1h0m-4-1h0m0-1h0m-1 2h0m0-1h0m0-1h0m-1 2h0m-2 0h0m-1-2h0m-1 1h0m-1 0h0m-3 0h0m0 0h0m-1-1h0m-1 2h0m0-2h0m-2 1h0m-1-1h0m-1 1h0m-3 1h0m1 3h0m4-1h0m0 0h0m0 0h0m1 0h0m1-1h0m1 1h0m0 1h0m2-1h0m1 1h0m0 0h0m1-2h0m1 0h0m0 0h0m2 1h0m1 1h0m1-2h0m3 1h0m3 0h0m1 0h0m1 0h0m0-1h0m0 0h0m1 1h0m1-1h0m1 1h0m1 0h0m0 1h0m1-1h0m3-1h0m1 0h0m2 0h0m0 0h0m0 2h0m2-1h0m1-1h0m-2 5h0m-1 0h0m-1-1h0m0 0h0m0 1h0m-1-1h0m-1-1h0m-1 0h0m0 1h0m-1-1h0m-1 0h0m0 2h0m-1-2h0m-2 2h0m-1-2h0m0 2h0m-3 0h0m-1-2h0m-1 0h0m-1 2h0m0-1h0m-1-1h0m-3 2h0m-1-2h0m0 2h0m-2-2h0m-3 2h0m0-1h0m0 1h0m0-1h0m-2-1h0m0 2h0m0-2h0m0 2h0m-2 0h0m-2-1h0m0 1h0m0 0h0m-1-2h0m-1 0h0m-1 2h0m0-2h0m-2 2h0m1 1h0m4 0h0m0 1h0m0-1h0m1 1h0m0 0h0m0-1h0m0 1h0m1 0h0m0-1h0m2 2h0m1-1h0m0-1h0m1 0h0m2 1h0m1 1h0m0-1h0m1-1h0m1 0h0m0 0h0m2 1h0m0-1h0m0 2h0m0-1h0m0 0h0m2 1h0m1 0h0m1 0h0m4-1h0m0 1h0m0 0h0m1-2h0m1 2h0m1-1h0m0 1h0m0-1h0m2 0h0m1 0h0m1-1h0m0 2h0m1-2h0m0 2h0m2-2h0m-2 3h0m-1 2h0m0-2h0m0 2h0m-2-1h0m0-1h0m-1 0h0m0 1h0m-5 1h0m-1-1h0m0-1h0m-1 0h0m-1 0h0m-2 0h0m-2 2h0m0-1h0m-1 1h0m0-1h0m-1-1h0m0 1h0m0 1h0m-3 0h0m-1 0h0m-2-2h0m-2 2h0m-1-2h0m0 1h0m0 1h0m-1 0h0m-1 0h0m-1-1h0m-1 0h0m0-1h0m-3 2h0m0 1h0m1 0h0m0 2h0m1 0h0m3-1h0m0 0h0m1 1h0m1-1h0m3 1h0m3-2h0m0 1h0m1-1h0m1 2h0m1 0h0m1-1h0m1 0h0m0 0h0m1-1h0m2 2h0m4-1h0m1-1h0m2 1h0m3 0h0m-1 3h0m-6 0h0m0 0h0m-1-1h0m-1 2h0m-1-2h0m-1 2h0m-1-2h0m-1 1h0m-1-1h0m-2 0h0m0 1h0m-3 1h0m-1-1h0m-1-1h0m-1 0h0m-1 1h0m-1 1h0m0-1h0m-2 0h0m0 1h0m-5-1h0m0 2h0m1 1h0m1-1h0m0 0h0m1 1h0m0-1h0m0 1h0m0 1h0m1-1h0m1 1h0m0 0h0m2 0h0m1-2h0m1 0h0m0 1h0m2 0h0m1-1h0m0 2h0m1-2h0m1 1h0m0 0h0m3-1h0m2 0h0m0 2h0m0-1h0m1-1h0m0 1h0m2 1h0m0-1h0m2 1h0m0 0h0m0-1h0m1 1h0m2-1h0m-1 2h0m-2 0h0m-1 2h0m0-2h0m-2 2h0m0-1h0m-1-1h0m0 0h0m-2 1h0m-2 1h0m-2-1h0m-1 1h0m-2 0h0m0-1h0m-1-1h0m-1 2h0m0 0h0m-2-1h0m-2 1h0m0-2h0m0 0h0m-1 1h0m-1 1h0m0-2h0m-1 0h0m-1 0h0m0 2h0m-1 0h0m1 2h0m2 1h0m0 0h0m1 0h0m0 0h0m2 0h0m0 0h0m2-2h0m1 1h0m1-1h0m1 0h0m1 0h0m0 0h0m2 1h0m0 0h0m1 0h0m2 1h0m2 0h0m1 0h0m2-2h0m1 0h0m0 1h0m-2 3h0m0-1h0m-1 2h0m0 0h0m-2 0h0m-1-2h0m0 1h0m0-1h0m-1 1h0m-2-1h0m-1 1h0m-1-1h0m0 1h0m-2-1h0m0 1h0m-3 1h0m-2-2h0m0 1h0m-1-1h0m0 1h0m-1 1h0m0 0h0m-1-2h0m-1 2h0m-1-1h0m1 4h0m0 0h0m3 0h0m1 0h0m1 0h0m3-2h0m0 1h0m2 1h0m0-2h0m3 2h0m0-1h0m1 0h0m1 1h0m3 0h0m1-2h0m-3 3h0m-1 0h0m-1 2h0m-2-1h0m-1 1h0m-2-2h0m-2 1h0m0 1h0m0-1h0m-1-1h0m-3 2h0m-2 0h0m0 0h0m-1 0h0m0 2h0m1 0h0m4 1h0m0-1h0m3-1h0m2 1h0m0 0h0m1-1h0m2 0h0m0 0h0m2 1h0m0-1h0m-3 5h0m-2-1h0m-2 0h0m0 0h0m-1 0h0m-1 1h0m-1-1h0m-1-1h0m0 2h0m0-1h0m-1 1h0m-2-2h0m-2 2h0m0-2h0m0 0h0m0 3h0m0 1h0m0-1h0m2 0h0m0 0h0m0 2h0m1-2h0m0 0h0m2 0h0m2 1h0m1-1h0m1 2h0m0-1h0m1 1h0m0 0h0m2-2h0m-2 5h0m0-1h0m-3-1h0m-1 1h0m0-1h0m-1 2h0m0 0h0m-2-2h0m-1 2h0m0 0h0m0-2h0m-2 2h0m0 0h0m1 1h0m0 2h0m2 0h0m1 0h0m0-2h0m1 0h0m2 0h0m1 0h0m1 2h0m-1 2h0m-1 0h0m-1 1h0m0-2h0m0 2h0m-1 0h0m0 0h0m-1 0h0m-3-1h0m-1-1h0m0 2h0m1 3h0m1-1h0m0 0h0m0-1h0m1 0h0m0 1h0m1 1h0m2 0h0m-1 1h0m-1 2h0m-1-1h0m0 1h0m-2-1h0m2 3h0" stroke="#b03c8c" stroke-width="1.8" stroke-linecap="round" stroke-opacity="0.45" transform="scale(0.5)"/>
<path d="M721 83h0m-2 0h0m-1 0h0m-18 3h0m8-2h0m2 2h0m8-2h0m2 1h0m1 4h0m-3-2h0m-5 1h0m-20 1h0m-4 2h0m9 1h0m1-2h0m3 2h0m3-1h0m0 1h0m1-2h0m3 2h0m2-2h0m4 1h0m1-1h0m0 2h0m1 0h0m1 0h0m0 0h0m0-2h0m1 1h0m1 0h0m3 0h0m3 3h0m-2-1h0m-8 0h0m-3 0h0m-2 1h0m-7 0h0m-2-1h0m0 1h0m-1 0h0m-4 1h0m-7-2h0m0 1h0m-4 0h0m-2 4h0m0 0h0m3-1h0m2-1h0m11 0h0m1 0h0m3 2h0m5-1h0m0-1h0m7 1h0m2 0h0m0 1h0m4-2h0m1 0h0m3 0h0m-3 3h0m0 0h0m-5 2h0m-3-2h0m-2 0h0m-7 0h0m0 0h0m-1 1h0m-5 1h0m-7-1h0m-1-1h0m-2 1h0m-1 1h0m-2 0h0m-3-1h0m-1 4h0m6-2h0m4 0h0m2 1h0m1 0h0m0 1h0m5 0h0m12-1h0m3 1h0m0-2h0m0 0h0m2 0h0m2 2h0m2 0h0m-1 3h0m-2-2h0m-1 1h0m-6-1h0m-8 1h0m-1-1h0m-1 1h0m-1 1h0m-4-1h0m-3 0h0m-2 0h0m-5 1h0m-3 3h0m3-1h0m1-1h0m1 2h0m2-1h0m14 1h0m1 0h0m4 0h0m2-1h0m1-1h0m2 1h0m5 1h0m0 0h0m-10 2h0m-6-1h0m-2 0h0m-1 1h0m-2 0h0m-3-1h0m-2 1h0m-4 1h0m-3-1h0m-3 3h0m3-1h0m1 0h0m4 0h0m1 1h0m1 1h0m1-2h0m0 2h0m2-2h0m1 1h0m3-1h0m7 2h0m3-1h0m2-1h0m3 0h0m1 0h0m-1 4h0m-4 0h0m-2-1h0m-3 0h0m-1 1h0m-8 0h0m-1 0h0m-5 1h0m-1-1h0m-1-1h0m-4 0h0m-4 0h0m1 5h0m3-2h0m2 2h0m2-1h0m1-1h0m2 0h0m1 0h0m2 2h0m0 0h0m2 0h0m2 0h0m4-1h0m0-1h0m5 4h0m-1-1h0m-1 2h0m-3-1h0m-1 1h0m-8-1h0m0 1h0m-2-1h0m-5 1h0m0 0h0m-3-1h0m-1 1h0m0 0h0m2 3h0m4-1h0m0 1h0m3 0h0m5-2h0m1 0h0m3 2h0m2 0h0m1 0h0m2-1h0m2-1h0m-6 4h0m0-1h0m-2 1h0m-2-1h0m-3 2h0m-1-1h0m-1 0h0m0 0h0m-4 0h0m-6 1h0m1 1h0m6 1h0m0 1h0m7-1h0m4 1h0m-1 1h0m-5 0h0m-6 2h0m0-1h0m-1 1h0m-3 0h0m1 2h0m2-1h0m4 0h0m1 1h0m1 0h0m3 1h0m3 0h0m-2 2h0m0-1h0m-2 1h0m-3 0h0m-11-1h0m0 4h0m7 0h0m4-1h0m1 0h0m1 2h0m1 0h0m0-2h0m-7 3h0m-2 0h0m-1 1h0m-3 2h0m0 2h0m7 3h0m-1 0h0m-2-2h0m-4 1h0m-1 4h0m2-2h0m4 0h0m0 5h0m0 0h0m-1-2h0m-1 2h0m-3-1h0m-1 0h0m1 4h0m3 1h0m-3 1h0m-1 2h0m1 1h0" stroke="#e8b0d8" stroke-width="1.6" stroke-linecap="round" stroke-opacity="0.7" transform="scale(0.5)"/>
<path d="M717 72h0m-23 5h0m14 1h0m2 2h0m0 2h0m-25 3h0m9 0h0m4-1h0m8 2h0m9-1h0m0 4h0m-7-1h0m-18 4h0m13 0h0m1-1h0m2-1h0m2 1h0m8-1h0m3 1h0m-10 4h0m0 0h0m0 0h0m-3 0h0m0-2h0m-2 2h0m-3 0h0m1 1h0m1 1h0m0 1h0m4-1h0m3 1h0m0-1h0m1 1h0m-6 3h0m-7-1h0m-1 0h0m-3 0h0m-1 0h0m0 4h0m2 0h0m3-1h0m1 0h0m0 0h0m2 0h0m2 0h0m2 1h0m0-2h0m11 0h0m1 4h0m-5-1h0m-3 0h0m0 0h0m-1 1h0m-2-1h0m-1 2h0m-3-1h0m0 1h0m0-1h0m-1 0h0m0-1h0m0 2h0m-2-1h0m-1 0h0m0 1h0m-1-2h0m-2 0h0m-15 3h0m3 0h0m16 1h0m1 1h0m1 0h0m4 0h0m1 0h0m0-1h0m2 0h0m3 1h0m6 2h0m-3 1h0m-8-2h0m-1 0h0m0 0h0m-3 0h0m-1 0h0m-2 2h0m-1-1h0m-4 0h0m-5 0h0m-4 0h0m-1 4h0m2 0h0m4-1h0m0 0h0m1 0h0m4-1h0m6 1h0m1 0h0m2 0h0m2-1h0m10 1h0m-3 3h0m-6-1h0m-3 2h0m-1 0h0m0-2h0m-5 0h0m0 2h0m-4-2h0m-1 2h0m-2 0h0m-1 2h0m4-1h0m2 1h0m1 0h0m0 0h0m8 4h0m-1 0h0m-5-2h0m-5 2h0m-1-1h0m-2-1h0m-12 0h0m7 5h0m3-2h0m5 1h0m2-1h0m0 2h0m0 0h0m2-1h0m3 1h0m2 0h0m0-2h0m5 2h0m-10 2h0m-5-1h0m-1 2h0m0 0h0m-7 2h0m6-1h0m1 1h0m7 1h0m-8 2h0m-1-1h0m-1 2h0m-2 0h0m-6 3h0m12-2h0m7 0h0m4 0h0m0 5h0m-16 3h0" stroke="#8a48b0" stroke-width="1.8" stroke-linecap="round" stroke-opacity="0.4" transform="scale(0.5)"/>
<polygon points="350.0,49.0 356.0,42.5 366.0,36.0 376.0,31.5 379.0,35.0 371.0,44.0 362.0,52.0" fill="#8078c8" opacity="0.5" filter="url(#b1)"/>
<path d="M752 65h0m-9 2h0m1 0h0m0 1h0m3-2h0m1 2h0m0 0h0m1-2h0m1 1h0m2 1h0m1 0h0m2-1h0m0 0h0m2 3h0m-2 0h0m0 0h0m0-1h0m-2 2h0m0 0h0m0-1h0m-2-1h0m-1 2h0m-1-1h0m-1-1h0m0 1h0m0 1h0m-1 0h0m0-1h0m-1 1h0m-2 0h0m0-1h0m0-1h0m-1 0h0m-1 0h0m0 1h0m-1 0h0m-2 0h0m-1 0h0m-3 1h0m-3 3h0m3-2h0m1 1h0m3-1h0m0 1h0m1-1h0m0 0h0m0 0h0m1 2h0m1-1h0m0-1h0m0 2h0m1 0h0m1-1h0m0-1h0m0 0h0m3 0h0m0 2h0m1-2h0m0 1h0m3 0h0m1 1h0m0-2h0m1 1h0m0 0h0m0 1h0m0 2h0m0-1h0m0 0h0m-2 2h0m0-1h0m0-1h0m0 1h0m-1 0h0m-1-1h0m-1 2h0m0-2h0m-1 2h0m-1 0h0m-1-2h0m0 0h0m-1 2h0m0-2h0m-1 2h0m0-2h0m-2 1h0m-1-1h0m-1 2h0m-1-1h0m-1 1h0m0-2h0m-1 2h0m-3-2h0m-2 1h0m-2 0h0m0 1h0m0-1h0m-1 1h0m0-1h0m-1 0h0m-2 1h0m-4 3h0m0 0h0m2-2h0m2 1h0m3 0h0m2-1h0m1 0h0m0 1h0m0 0h0m0-1h0m2 0h0m0 1h0m1 0h0m1-1h0m0 2h0m2-1h0m2 1h0m2-1h0m0 1h0m2-2h0m1 2h0m0 0h0m1 0h0m0 0h0m1 0h0m3 0h0m0 0h0m0 0h0m1-2h0m0 0h0m-2 3h0m-1 0h0m-4 1h0m0 1h0m-1-2h0m0 1h0m-1-1h0m-2 2h0m0-2h0m-3 1h0m0-1h0m0 1h0m-1 1h0m0-2h0m-8 2h0m0 0h0m-4-2h0m-4 2h0m0 0h0m0 0h0m-7 3h0m3-1h0m0 0h0m0 1h0m2-1h0m0 0h0m1 1h0m1 0h0m1 0h0m0-2h0m2 2h0m2-2h0m0 2h0m0 0h0m1-2h0m1 1h0m0-1h0m0 2h0m1 0h0m0-2h0m0 2h0m0 0h0m1-1h0m0 1h0m1-2h0m4 2h0m0-2h0m0 1h0m1 0h0m0-1h0m2 1h0m1-1h0m0 0h0m1 2h0m0-2h0m1 1h0m3 1h0m-1 1h0m0 0h0m-2 0h0m-1 2h0m0 0h0m-1-1h0m-2-1h0m-1 0h0m-1 1h0m-2-1h0m-1 0h0m0 1h0m-1 0h0m-1 0h0m-2 0h0m0 0h0m0 0h0m0 0h0m-2 0h0m-1 1h0m-3-1h0m-1-1h0m-2 1h0m0 1h0m-1 0h0m-1-1h0m0 0h0m-1-1h0m-3 2h0m0-1h0m-2 1h0m-3 3h0m3-1h0m1 1h0m1-1h0m0 1h0m1-1h0m0 1h0m1 0h0m0-2h0m1 2h0m0 0h0m0-2h0m0 0h0m2 1h0m1-1h0m0 0h0m0 1h0m1-1h0m2 1h0m0 1h0m4-2h0m1 0h0m3 0h0m1 2h0m0-2h0m0 2h0m1-2h0m1 2h0m1 0h0m0-2h0m3 0h0m1 1h0m1 1h0m1-2h0m0 1h0m2-1h0m-4 4h0m-2 0h0m0 1h0m-1 0h0m-2-1h0m0 1h0m-1-1h0m0-1h0m-1 1h0m0 0h0m-1 1h0m-1-1h0m0 0h0m-1-1h0m0 1h0m-1 0h0m-1 0h0m-1 1h0m0-2h0m-2 1h0m-1 1h0m0-1h0m0-1h0m-1 2h0m0-1h0m-1 1h0m0 0h0m-2-1h0m0-1h0m-1 1h0m-3 1h0m-2-2h0m0 2h0m-1-2h0m0 0h0m-1 0h0m0 1h0m-1 1h0m0-2h0m-6 5h0m0 0h0m2-2h0m1 0h0m0 2h0m2-2h0m0 0h0m1 0h0m0 2h0m0-2h0m1 2h0m0 0h0m1-2h0m3 0h0m2 2h0m0 0h0m2-2h0m1 0h0m2 0h0m1 1h0m0 0h0m2 0h0m0-1h0m0 1h0m1-1h0m1 0h0m1 1h0m0-1h0m4 1h0m1 1h0m1-2h0m-2 3h0m-1 1h0m-1 0h0m0 0h0m-1 0h0m-2 0h0m-2 1h0m0-1h0m-1-1h0m-4 1h0m-2 0h0m-2-1h0m0 1h0m-2-1h0m0 2h0m-1-2h0m-1 0h0m-2 0h0m-4 0h0m14 3h0m4 1h0m0-1h0m2 2h0m1-1h0m0 1h0m1-2h0" stroke="#5058b8" stroke-width="1.8" stroke-linecap="round" stroke-opacity="0.45" transform="scale(0.5)"/>
<ellipse cx="363.0" cy="54.0" rx="4.5" ry="2.8" transform="rotate(-30 363.0 54.0)" fill="#e4583a" opacity="0.7" filter="url(#b1)"/>
<path d="M729 101h0m-3 2h0m1-1h0m1 2h0m0 0h0m7-1h0m1 3h0m-2 0h0m-1-1h0m-2 1h0m0-1h0m-1 0h0m0 1h0m0-1h0m-1 0h0m0 2h0m-1-1h0m-1 0h0m0-1h0m-1 2h0m0-1h0m0 0h0m-1 1h0m-2-1h0m-2 0h0m0 1h0m-4 0h0m1 1h0m1 2h0m1 0h0m0-1h0m2 0h0m0 1h0m0-2h0m1 1h0m0-1h0m1 1h0m0 1h0m0-2h0m1 2h0m1-2h0m0 1h0m0-1h0m1 2h0m0 0h0m0-2h0m1 0h0m1 2h0m0-1h0m1-1h0m0 1h0m1 0h0m1 1h0m0-2h0m1 0h0m0 0h0m-5 3h0m-2 2h0m-1-2h0m-3 1h0m0-1h0m0 2h0m-2-2h0m0 0h0m-2 1h0m0 0h0m1 3h0m3 1h0m2-1h0m8 1h0" stroke="#d84030" stroke-width="1.8" stroke-linecap="round" stroke-opacity="0.5" transform="scale(0.5)"/>
<ellipse cx="370.0" cy="52.5" rx="7.5" ry="4.0" transform="rotate(-28 370.0 52.5)" fill="#f3aa44" opacity="0.8" filter="url(#b1)"/>
<path d="M750 88h0m2 4h0m-5 3h0m-1 0h0m-6 0h0m-3 3h0m1 0h0m1-1h0m3 0h0m2 0h0m1 0h0m1 0h0m1 0h0m0-1h0m3 2h0m0 0h0m1-1h0m2 3h0m0 1h0m-1 0h0m-1-2h0m-1 2h0m0-2h0m-2 1h0m-1 1h0m-2-2h0m0 1h0m-3-1h0m-1 2h0m-1 0h0m0-1h0m-1 0h0m-1-1h0m-1 1h0m0 1h0m-4 2h0m1 0h0m1 0h0m1 0h0m1 0h0m1 1h0m1-1h0m0 1h0m0 0h0m1-1h0m1 0h0m0 0h0m1 1h0m1-1h0m0 0h0m0-1h0m1 1h0m1 0h0m2 1h0m0-1h0m1 1h0m0-1h0m0-1h0m0 2h0m1-2h0m0 1h0m0-1h0m1 1h0m1-1h0m3 0h0m-4 3h0m-1 1h0m0-1h0m0 2h0m-1 0h0m0-1h0m-1 1h0m-1-2h0m0 0h0m-1 0h0m0 0h0m-1 0h0m-2 0h0m-1 2h0m-1-1h0m0 1h0m-1 0h0m0-2h0m-1 2h0m0 0h0m0-2h0m0 1h0m0-1h0m-1 2h0m-1 0h0m0 0h0m-1-1h0m0 1h0m0-2h0m-1 1h0m0 1h0m0-2h0m0 2h0m-1 0h0m0-2h0m0 0h0m-1 0h0m0 0h0m-2 1h0m-3 1h0m-1 0h0m-4 3h0m5-2h0m1 0h0m1 2h0m1 0h0m1-2h0m1 1h0m0 0h0m0-1h0m1 2h0m0-2h0m0 0h0m1 1h0m0-1h0m1 2h0m0 0h0m1-1h0m0 0h0m0 0h0m1-1h0m0 2h0m0 0h0m1-1h0m1-1h0m0 2h0m0-1h0m1 1h0m0 0h0m0-1h0m0 1h0m1 0h0m0 0h0m1-1h0m0-1h0m0 1h0m0-1h0m1 0h0m1 2h0m0 0h0m0-2h0m0 2h0m2-2h0m1 0h0m1 1h0m-4 3h0m-1 1h0m-1 0h0m-3-2h0m0 0h0m-2 0h0m0 2h0m0-1h0m-1 0h0m-1-1h0m0 1h0m0-1h0m-5 0h0m0 2h0m-1-2h0m-2 0h0m0 2h0m0 0h0m-1-1h0m-9 1h0m7 3h0m3-2h0m5 2h0m0-1h0m5-1h0m2 0h0m0 1h0m-5 2h0m-3 0h0m-4 2h0" stroke="#f09c28" stroke-width="1.8" stroke-linecap="round" stroke-opacity="0.5" transform="scale(0.5)"/>
<ellipse cx="380.5" cy="44.5" rx="9.5" ry="7.5" transform="rotate(-45 380.5 44.5)" fill="#d0c860" opacity="0.75" filter="url(#b1)"/>
<ellipse cx="383.0" cy="39.0" rx="7.5" ry="7.5" transform="rotate(-45 383.0 39.0)" fill="#b0b85c" opacity="0.7" filter="url(#b1)"/>
<path d="M752 61h0m11 1h0m2-1h0m1 1h0m7 3h0m-2-2h0m-3 2h0m-7-1h0m-13 0h0m0 2h0m5 2h0m2 0h0m7 0h0m0 0h0m3-2h0m1 2h0m5-1h0m3-1h0m-3 4h0m0-1h0m-2 0h0m-1 0h0m0 0h0m-1 2h0m-1 0h0m-1-2h0m0 0h0m-2 1h0m-4 1h0m0-1h0m0 1h0m-3 0h0m0-1h0m-2 1h0m0 0h0m-1-1h0m-2-1h0m-9 5h0m1 0h0m0 0h0m7-2h0m3 2h0m1-1h0m0 0h0m2 1h0m2-1h0m0 0h0m1-1h0m0 1h0m2 0h0m0 0h0m1-1h0m0 1h0m1 0h0m1 0h0m3 0h0m0 0h0m1 0h0m0-1h0m0 2h0m4 0h0m0-1h0m0-1h0m1 1h0m0 1h0m1 0h0m2-1h0m3 1h0m0 3h0m-1-1h0m-1 1h0m0-1h0m-2 1h0m-1-1h0m0 1h0m-1-2h0m-5 2h0m0 0h0m-1-2h0m0 0h0m0 0h0m0 0h0m0 2h0m-1-1h0m0 0h0m0 0h0m0 1h0m-1 0h0m-1-2h0m0 2h0m-3-2h0m0 1h0m-1-1h0m-1 0h0m0 2h0m-1 0h0m0 0h0m-4 0h0m0-2h0m-1 0h0m-3 0h0m-1 2h0m-2 0h0m-10 0h0m5 3h0m6 0h0m2-2h0m3 2h0m0 0h0m1-1h0m0 1h0m1-2h0m1 1h0m0-1h0m1 0h0m0 2h0m0 0h0m1-1h0m0-1h0m1 1h0m0-1h0m1 2h0m0-1h0m1 1h0m0-2h0m2 1h0m1 0h0m0 1h0m0-1h0m0-1h0m1 2h0m0-1h0m1 1h0m0 0h0m0 0h0m0 0h0m1 0h0m0-2h0m0 2h0m1-2h0m0 2h0m1-2h0m0 0h0m0 1h0m1-1h0m3 2h0m1-1h0m5-1h0m0 5h0m0 0h0m-1 0h0m-2 0h0m0 0h0m-1-2h0m-1 0h0m0 1h0m-2-1h0m-3 0h0m-2 1h0m-1 0h0m-1-1h0m-1 0h0m-1 1h0m0 1h0m-1-2h0m0 1h0m0-1h0m0 0h0m-1 0h0m0 1h0m-1-1h0m-1 1h0m0-1h0m-1 2h0m0-2h0m0 1h0m-1 1h0m-1-1h0m0-1h0m-1 0h0m0 2h0m0-1h0m-1 1h0m-2-2h0m-1 0h0m-7 5h0m3-1h0m3 1h0m4 0h0m1 0h0m1-1h0m1 1h0m1-2h0m0 1h0m0-1h0m2 1h0m0 0h0m0 0h0m1-1h0m1 0h0m0 0h0m0 2h0m1-2h0m0 1h0m0 1h0m1-1h0m1 1h0m1 0h0m0-2h0m1 1h0m1-1h0m1 0h0m0 0h0m1 2h0m0-1h0m2 0h0m2 1h0m0-1h0m1 1h0m0-2h0m1 0h0m2 0h0m3 3h0m0 0h0m-1 1h0m-2 1h0m-1-1h0m-1-1h0m0 2h0m0 0h0m-1-1h0m-3-1h0m-1 1h0m-1-1h0m-1 1h0m-3 1h0m0-1h0m-2-1h0m0 2h0m-2-2h0m0 2h0m0-2h0m0 1h0m-1-1h0m-1 0h0m-1 2h0m0 0h0m-1-2h0m-1 0h0m-1 0h0m0 0h0m-1 0h0m-1 2h0m-1-1h0m-1 0h0m-1 0h0m-1 1h0m-2-1h0m-1 1h0m-7 0h0m9 1h0m0 2h0m5-1h0m2-1h0m0 0h0m0 1h0m1 0h0m0 0h0m1 0h0m0 0h0m0-1h0m1 0h0m0 2h0m1-1h0m1 1h0m1-2h0m0 0h0m3 1h0m0 0h0m1 0h0m0-1h0m1 0h0m0 0h0m1 2h0m0 0h0m1 0h0m1-2h0m1 2h0m1 0h0m1-1h0m3-1h0m0 1h0m1 0h0m-5 2h0m-2 1h0m-1 1h0m-1-1h0m0 1h0m0-2h0m-1 2h0m-1 0h0m-1-1h0m0 0h0m-1 1h0m-1-1h0m0 1h0m0 0h0m-10-2h0m-3 2h0m-3-2h0m0 2h0m-1-1h0m12 2h0m1 1h0m5-1h0m0 0h0m1 1h0m0-1h0m3 0h0m2 2h0m2 1h0m-6 0h0m-3 1h0m-4-1h0m-5 2h0m-4 2h0m10 1h0m10-2h0m1 2h0m-21 3h0m-3 2h0m8 3h0" stroke="#7a9838" stroke-width="1.8" stroke-linecap="round" stroke-opacity="0.45" transform="scale(0.5)"/>
<path d="M768 70h0m1 7h0m-10 0h0m6 1h0m2 2h0m2-1h0m7-1h0m3 4h0m-2 0h0m-10-1h0m-3 2h0m-3-1h0m0 0h0m-2 0h0m-1 1h0m-5-2h0m-1 5h0m1-2h0m0 0h0m2 1h0m1 1h0m1-1h0m2 1h0m1 0h0m5 0h0m5 0h0m2 0h0m0 3h0m-3 0h0m-2-1h0m-5-1h0m0 0h0m-1 1h0m0-1h0m-2 2h0m-3-1h0m-1-1h0m0 2h0m-2-1h0m-3-1h0m-2 5h0m1-2h0m0 1h0m3 1h0m1-2h0m0 1h0m3 1h0m0 0h0m2 0h0m0-1h0m1-1h0m2 0h0m1 1h0m5-1h0m3 0h0m-7 4h0m-1 0h0m0 1h0m-1-1h0m0-1h0m-1 2h0m0-2h0m-1 1h0m0-1h0m0 1h0m-1 1h0m-2-1h0m-1 1h0m-1 0h0m-2 0h0m0-1h0m0-1h0m-1 0h0m-1 1h0m0 1h0m-1-2h0m-1 2h0m-1-2h0m-3 0h0m0 0h0m-3 5h0m5-2h0m2 0h0m2 2h0m3-1h0m0-1h0m1 0h0m1 2h0m1-2h0m0 1h0m1 0h0m2 1h0m0 0h0m3-2h0m5 2h0m0-1h0m-6 3h0m-1 1h0m-1-2h0m0 2h0m-1-2h0m-1 0h0m-1 1h0m-1 0h0m-2 0h0m-1 0h0m-1-1h0m0 0h0m0 0h0m0 1h0m0 0h0m-3 1h0m-2-2h0m-2 0h0m-1 1h0m-7 0h0m-1 1h0m1 3h0m5-2h0m0 1h0m5 0h0m1 1h0m0-2h0m0 2h0m3 0h0m3 0h0m2 0h0m0 0h0m1 0h0m1-2h0m9 1h0m-8 2h0m-2 1h0m-5-1h0m-2 0h0m0 2h0m-1-2h0m-2 2h0m-3-2h0m0 0h0m0 4h0m2-1h0m2 1h0m0-1h0m6 0h0m9 3h0m-4 2h0m-14 0h0m2 1h0m5 1h0" stroke="#c8b830" stroke-width="1.8" stroke-linecap="round" stroke-opacity="0.5" transform="scale(0.5)"/>
<path d="M322 60h0m25 1h0m9 0h0m74-1h0m22 5h0m-37-2h0m-11 1h0m-55 1h0m-21 1h0m0 2h0m1 0h0m6 0h0m8-2h0m5 0h0m56 1h0m3-1h0m11 0h0m18 0h0m1 3h0m-18 1h0m-86 0h0m-14-1h0m84 5h0m40-1h0m5 0h0m0 3h0m-4 0h0m-120 4h0m126-1h0m11 4h0m-14-2h0m-127 0h0m1 5h0m152 2h0m-7-1h0m-145 5h0m127 1h0m-44 1h0m-85-1h0m-1 2h0m0 2h0m146 3h0m-14-1h0m-130 3h0m152 4h0m-17 0h0m-135 2h0m141 1h0m0-1h0m-3 6h0m17 3h0m-3 0h0m-5 1h0m13 2h0m-24 7h0m10 7h0m4 0h0m1 1h0m-151 2h0m0 2h0m8 0h0m8 1h0m121 0h0m1 0h0m7 0h0m-5 3h0m3 3h0m-1 4h0m5 6h0m1 4h0m-9 4h0m21-2h0m-16 3h0m4 3h0m-5 3h0m-1 2h0m-4 0h0m10 4h0m-16 3h0m0 1h0m9 0h0m1 0h0m-14 5h0m3 2h0m2-1h0m23 0h0m-1 3h0m-13 0h0m-4-1h0m-9 4h0m10-1h0m5 0h0m-7 3h0m-5 1h0m-17 2h0m4 2h0m10 0h0m18-2h0m1 0h0m2 1h0m-151 6h0m147 4h0m-12 0h0m-5-1h0m-1 0h0m-1 0h0m-17 4h0m38-1h0m1 0h0m-9 2h0m-1 1h0m-23 1h0m-32-2h0m3 3h0m42 2h0m12-1h0m4 4h0m-26 0h0m-6-2h0m-2 1h0m-76 4h0m55-2h0m20 1h0m10 0h0m28 0h0m-3 3h0m-18 0h0m-97 0h0m-15 1h0m1 3h0m8-1h0m95-1h0m18 0h0m11 0h0m-17 4h0m-33 1h0m-18 0h0m-1 0h0m-36-2h0m-2 0h0m-5 1h0m-9-1h0m-1 2h0m-13-1h0m-9 0h0m-2 1h0m-1-1h0m30 2h0m85 0h0" stroke="#b2bae2" stroke-width="1.8" stroke-linecap="round" transform="scale(0.5)"/>
<path d="M389 59h0m-26 0h0m-6 2h0m1 1h0m4-1h0m2 0h0m2 1h0m1-1h0m0 1h0m4-1h0m1-1h0m4 0h0m2 1h0m1-1h0m3 0h0m1 1h0m0 0h0m4-1h0m3 0h0m0 2h0m3 0h0m2-1h0m2 0h0m2 1h0m0 1h0m-5 0h0m-4 0h0m0 2h0m-3 0h0m-1-2h0m-19 0h0m-1 0h0m-1 2h0m-4 0h0m-2 0h0m0 0h0m-2 0h0m-11 3h0m6-1h0m2-1h0m1 1h0m5 1h0m4 0h0m0-2h0m26 1h0m0 0h0m1 1h0m1 0h0m3-1h0m0-1h0m2 1h0m0 1h0m0 0h0m3-1h0m33 3h0m-1-1h0m0 1h0m-20 1h0m-7 0h0m-8 0h0m-2 0h0m-2-1h0m-2-1h0m-3 0h0m-24 0h0m-3 2h0m-1 0h0m-1 0h0m-4-1h0m-1 1h0m-1 0h0m-25-1h0m0 2h0m0 0h0m3 2h0m16-1h0m1 1h0m1-2h0m5 0h0m0 0h0m2 1h0m1 1h0m39 0h0m2-1h0m7-1h0m2 0h0m1 2h0m9-1h0m13-1h0m9 2h0m-6 1h0m-3 2h0m-9 0h0m-6-2h0m-3 1h0m-15-1h0m0 2h0m-1 0h0m-1-2h0m0 1h0m-38-1h0m-1 2h0m0-2h0m-1 0h0m-3 1h0m-3 0h0m-1-1h0m-1 2h0m-2-1h0m-1-1h0m-8 2h0m-2-2h0m-5 5h0m6-1h0m0 1h0m1-2h0m2 1h0m0-1h0m5 2h0m1-1h0m2 1h0m3-2h0m3 0h0m45 0h0m0 2h0m0 0h0m16-1h0m4 1h0m1-2h0m8 1h0m0 1h0m4-1h0m4 0h0m6-1h0m-3 3h0m-11 2h0m-4 0h0m-4-1h0m-3-1h0m-4 1h0m-3 1h0m-1 0h0m-1-1h0m-1 0h0m-53-1h0m-3 2h0m-2-1h0m-2-1h0m-4 2h0m-4-1h0m0 1h0m-5 0h0m-2-2h0m0 1h0m-1 1h0m-3-1h0m5 3h0m3-1h0m1 0h0m7 0h0m7 0h0m1 2h0m1-1h0m47 0h0m1 1h0m1 0h0m3-1h0m3 1h0m7-2h0m2 1h0m1 1h0m2-1h0m5 0h0m4 0h0m3-1h0m1 1h0m2 1h0m3-1h0m0-1h0m9 4h0m-7-1h0m-1 2h0m-5 0h0m0-1h0m-6 0h0m-1-1h0m-1 2h0m-1-1h0m-4 1h0m0-1h0m-1-1h0m-5 1h0m-3-1h0m-4 0h0m0 0h0m-7 0h0m-50 0h0m0 0h0m-1 1h0m0 1h0m-1-1h0m-3-1h0m0 0h0m0 2h0m-2-2h0m0 0h0m-1 2h0m-1-2h0m-2 0h0m-12 0h0m-2 4h0m4 0h0m3-1h0m0 1h0m0 0h0m9 1h0m1-2h0m0 1h0m2 1h0m1 0h0m1-2h0m60 1h0m7 0h0m7 1h0m1 0h0m8-2h0m1 2h0m1 0h0m6-1h0m10-1h0m-2 3h0m0 2h0m-3-2h0m-3 2h0m-1-2h0m-3 2h0m0 0h0m-10-2h0m-2 2h0m0-2h0m-4 2h0m-1-1h0m-1-1h0m-1 2h0m-68 0h0m0 0h0m-2-2h0m-3 2h0m-1-2h0m-4 0h0m-1 2h0m-2 0h0m-2 0h0m-2 0h0m-3-1h0m-1-1h0m1 3h0m3 1h0m4 0h0m1 1h0m3-2h0m5 0h0m3 2h0m0 0h0m60-2h0m2 2h0m5-2h0m2 0h0m11 0h0m4 2h0m1-1h0m2-1h0m1 1h0m4-1h0m5 2h0m5-2h0m3 4h0m-4 0h0m0 0h0m-14 1h0m-3 0h0m0-2h0m-3 1h0m-1 0h0m0-1h0m-1 0h0m-12 2h0m-5-2h0m-3 1h0m-57-1h0m-3 1h0m-1-1h0m-7 1h0m-4 0h0m-1-1h0m-2 0h0m-6 1h0m-2 2h0m5 1h0m1-1h0m5 0h0m1 0h0m1 2h0m3-1h0m1 1h0m1-2h0m1 0h0m1 0h0m1 0h0m0 2h0m3-1h0m60-1h0m1 1h0m0 0h0m0-1h0m1 1h0m6 1h0m11-1h0m1 1h0m12-2h0m3 2h0m4 1h0m-2 0h0m-1 2h0m-12-1h0m-1-1h0m-1 0h0m0 1h0m-5-1h0m-1 1h0m-1 1h0m-3 0h0m-6-1h0m-4-1h0m-1 1h0m0 1h0m-65-2h0m-3 0h0m-2 2h0m0-1h0m-1-1h0m0 2h0m-4 0h0m-3 0h0m-1-2h0m-1 0h0m-3 2h0m-2 0h0m3 3h0m0 0h0m1-1h0m2-1h0m3 0h0m3 1h0m0-1h0m1 0h0m1 2h0m1 0h0m2-1h0m0 0h0m2-1h0m63 0h0m1 2h0m1-2h0m0 1h0m1-1h0m1 1h0m1 1h0m10-1h0m1 0h0m3 0h0m2 0h0m3 1h0m4-2h0m1 1h0m1 0h0m10-1h0m4 1h0m4 0h0m1 3h0m-4 1h0m-6-1h0m-1 1h0m-1-1h0m-1-1h0m-2 2h0m-4-2h0m-2 2h0m-7 0h0m0-1h0m-2 0h0m-3 0h0m-2 0h0m-5 1h0m0 0h0m-4-1h0m-1-1h0m-68 2h0m-3 0h0m-5-1h0m-3 0h0m-2-1h0m0 1h0m-1 0h0m-6 4h0m2 0h0m4 0h0m1 0h0m2-1h0m2 1h0m1 0h0m1-2h0m0 2h0m7-1h0m1 1h0m1 0h0m1 0h0m1 0h0m61 0h0m1 0h0m1 0h0m3 0h0m2-2h0m1 1h0m1-1h0m0 2h0m1-1h0m2 1h0m4-2h0m2 2h0m4-2h0m5 0h0m2 1h0m4-1h0m0 2h0m9-2h0m3 2h0m4-2h0m1 2h0m-7 1h0m-1 0h0m-5 1h0m-5-1h0m-2 1h0m-3 1h0m-3 0h0m0-2h0m-2 1h0m0-1h0m-2 2h0m0-2h0m-7 2h0m-1-1h0m-8-1h0m-3 0h0m0 1h0m-62 1h0m-2-2h0m-1 0h0m-4 1h0m-2 0h0m-2 0h0m-4 1h0m-2-1h0m-6-1h0m-1 0h0m0 0h0m-1 1h0m2 4h0m7-2h0m5 2h0m0-2h0m2 0h0m1 1h0m3 1h0m0-1h0m1-1h0m1 1h0m1 0h0m0-1h0m3 2h0m54-2h0m0 1h0m6-1h0m5 0h0m0 0h0m4 1h0m0 0h0m2 0h0m1 1h0m9 0h0m11-1h0m1 0h0m0 0h0m8 0h0m0 0h0m5 1h0m-3 1h0m-7 1h0m-4 1h0m-1 0h0m-4-2h0m-1 0h0m-3 1h0m-5-1h0m-2 2h0m-1 0h0m-6 0h0m-4 0h0m-1-2h0m-2 0h0m0 0h0m-3 1h0m-1 1h0m-67 0h0m-1-2h0m-1 1h0m-7 0h0m-2 0h0m0 0h0m0 0h0m-1-1h0m-3 1h0m-2 1h0m-1 1h0m1 1h0m2 0h0m1 1h0m2 0h0m0-2h0m1 2h0m2-1h0m2-1h0m2 2h0m5-2h0m1 2h0m0-1h0m1-1h0m2 1h0m2-1h0m3 1h0m54-1h0m0 0h0m9 2h0m1-1h0m0-1h0m6 1h0m2 0h0m2 0h0m7-1h0m0 2h0m1 0h0m2-2h0m5 0h0m3 1h0m2 0h0m1 1h0m3-2h0m4 2h0m4 1h0m-2 0h0m-5 1h0m-6-1h0m-3 0h0m0 1h0m-4-1h0m-4 2h0m0-1h0m-2 0h0m-4 0h0m-1 1h0m-8-1h0m-6 1h0m-3-1h0m-4-1h0m0 1h0m-1 0h0m0 0h0m-53-1h0m-1 1h0m-1-1h0m0 1h0m-1-1h0m-3 2h0m-3-2h0m-1 0h0m-4 0h0m-1 1h0m-2-1h0m-10 0h0m0 4h0m5-1h0m4 1h0m1-1h0m1 0h0m4 1h0m1-1h0m2 2h0m1-1h0m0 0h0m2-1h0m3 1h0m1 0h0m1-1h0m1 1h0m1-1h0m0 2h0m52-1h0m11-1h0m24 0h0m2 1h0m1 1h0m1 0h0m8-2h0m1 2h0m6-1h0m3 4h0m0 0h0m-4 0h0m-2-1h0m-1 0h0m-1-1h0m0 0h0m-4 2h0m-2 0h0m-4 0h0m-1-2h0m-26 2h0m0 0h0m0-2h0m-1 2h0m0-2h0m-3 2h0m-3 0h0m0-2h0m-4 2h0m0 0h0m-51 0h0m-1-1h0m0 1h0m-1-1h0m0 0h0m-3-1h0m-4 0h0m-2 2h0m-1-2h0m-2 2h0m-10 0h0m-1-1h0m18 2h0m0 1h0m3-1h0m4 1h0m1-1h0m1 2h0m1-1h0m1 1h0m0-1h0m0-1h0m0 0h0m2 0h0m2 1h0m1-1h0m1 1h0m3 1h0m7 0h0m1 0h0m25 0h0m3-1h0m0-1h0m0 0h0m1 0h0m9 0h0m3 0h0m0 1h0m4-1h0m1 0h0m1 0h0m3 1h0m0 0h0m1 0h0m4 0h0m0 0h0m2 0h0m3 0h0m1 1h0m0 0h0m0-1h0m1-1h0m1 1h0m0 0h0m1 1h0m4 0h0m3-1h0m2 0h0m4-1h0m2 1h0m3-1h0m4 5h0m-14 0h0m-112 0h0m-11 3h0m4-1h0m7-1h0m3 1h0m116 0h0m1 0h0m2 0h0m0 0h0m0 1h0m4-2h0m3 1h0m-1 4h0m-2-2h0m0 1h0m-1-1h0m0 2h0m-4-2h0m-121 0h0m-3 0h0m-1 1h0m0 0h0m-4 0h0m-1-1h0m-2 2h0m0-1h0m2 3h0m3 0h0m0-1h0m131 2h0m1 0h0m3 2h0m-4 0h0m-1-1h0m-127 0h0m-2 1h0m-4 1h0m7 3h0m128-1h0m4 0h0m-2 4h0m-2-2h0m-4 1h0m-1-1h0m-123 1h0m-2 1h0m-1-1h0m-1-1h0m-3 0h0m0 1h0m-1 1h0m-1-1h0m0 3h0m131 0h0m3 1h0m0 0h0m6 0h0m-3 2h0m-3 0h0m-3-1h0m-120 0h0m0 0h0m-2 0h0m-9 5h0m3-2h0m0 1h0m4 1h0m3-2h0m127 4h0m-3 1h0m0-1h0m0-1h0m-2 0h0m-1 0h0m-1 1h0m-121 0h0m-1 1h0m-6-2h0m-1 1h0m0 0h0m-1 0h0m0 3h0m3 0h0m4-1h0m3 0h0m0 2h0m1-2h0m2 1h0m1 1h0m112-2h0m3 2h0m5 1h0m-3 1h0m-1 1h0m-1-1h0m-4 0h0m0 1h0m0-2h0m-3 2h0m-100-1h0m-1 0h0m-2 0h0m-6-1h0m-1 2h0m-1-1h0m-3 1h0m-4-1h0m-4 1h0m1 1h0m4 2h0m3 0h0m1 0h0m0 0h0m9-1h0m107-1h0m5 5h0m-7-2h0m-2 1h0m-1 0h0m-2 0h0m-32 1h0m-66 0h0m0-1h0m-2-1h0m0 1h0m-4-1h0m-2 1h0m-3 0h0m-1 1h0m-5 0h0m-2-1h0m-1 4h0m5-1h0m4 1h0m1-2h0m3 2h0m7-1h0m61 1h0m4-1h0m34-1h0m2 2h0m1 0h0m0-2h0m1 1h0m-1 3h0m-1 1h0m-3-1h0m-1 1h0m0-2h0m-2 1h0m0 1h0m0 0h0m-34 0h0m-63-2h0m-4 0h0m-10 0h0m-1 0h0m-3 0h0m4 3h0m1 0h0m1 2h0m2 0h0m9-2h0m2 2h0m61-2h0m7 1h0m2 0h0m1 0h0m0-1h0m23 2h0m8-2h0m-30 5h0m-3-2h0m-9 1h0m-59-1h0m-4 2h0m0-1h0m-1 0h0m-2 0h0m-8 1h0m0-2h0m-3 1h0m4 3h0m3 1h0m0-1h0m4-1h0m11 2h0m57-1h0m8 0h0m2 0h0m20-1h0m-4 5h0m-16-1h0m-12-1h0m-46 2h0m-4-1h0m-1 0h0m-3-1h0m0 0h0m-1 1h0m-2 0h0m-4 1h0m-3-1h0m-7-1h0m-3 3h0m2 1h0m17-1h0m2 2h0m1 0h0m2-1h0m0 0h0m2 0h0m2-1h0m3 0h0m1 2h0m1-1h0m4 1h0m34-1h0m4 1h0m0-1h0m1-1h0m9 2h0m3 0h0m14-1h0m5 3h0m-5 0h0m0 1h0m0-2h0m-1 1h0m-10 0h0m-1-1h0m-3 2h0m-11 0h0m0 0h0m-7-1h0m-30 1h0m-11 0h0m-6-2h0m-3 2h0m-3-2h0m-3 0h0m-1 1h0m-6-1h0m0 2h0m-2 0h0m-1 0h0m-2-2h0m0 2h0m-4-1h0m9 4h0m1 0h0m7 0h0m2 0h0m2-2h0m3 2h0m4-1h0m6 1h0m2 0h0m0-1h0m0 0h0m0 0h0m36 1h0m4 0h0m2 0h0m12-2h0m5 0h0m3 2h0m1 0h0m2 0h0m8-1h0m1 0h0m-9 3h0m0 0h0m-1 1h0m-1-2h0m-1 1h0m0-1h0m-3 1h0m0 1h0m-4-2h0m-16 1h0m-1 0h0m-6 0h0m-21-1h0m-8 2h0m-4 0h0m-4 0h0m0-2h0m-10 1h0m-8-1h0m-2 0h0m-2 0h0m-2 2h0m-1-2h0m-4 1h0m-2 3h0m1-1h0m6 0h0m0 0h0m6 1h0m4 1h0m5-1h0m15-1h0m1 0h0m4 2h0m2-2h0m3 1h0m1 1h0m1 0h0m0-2h0m19 1h0m1-1h0m6 1h0m23-1h0m1 0h0m2 2h0m4 0h0m-7 2h0m-1 0h0m0-1h0m-1 2h0m-48-1h0m-5 0h0m-4 1h0m-4-1h0m-8 0h0m-6 0h0m-14 1h0m0-1h0m-3 0h0m-4-1h0m-2 3h0m1 1h0m1-1h0m8 2h0m2 0h0m6-2h0m3 1h0m2 0h0m3 1h0m4-2h0m46 1h0m21-1h0m2 1h0m5-1h0m-2 3h0m-1 1h0m0-1h0m-3 1h0m0 0h0m-1-1h0m-2 2h0m-20-1h0m0 1h0m-6 0h0m-16 0h0m-46 0h0m42 1h0m3 1h0m5 1h0m12 0h0m4 0h0m27-1h0m-33 4h0m-1 0h0m-4 0h0m-2-2h0m-6 0h0m10 3h0m0 0h0m6 0h0" stroke="#98a2dc" stroke-width="2" stroke-linecap="round" transform="scale(0.5)"/>
<path d="M370 62h0m4 0h0m5 0h0m5 2h0m-1 0h0m-1 0h0m-1-1h0m0 1h0m-2-1h0m0 2h0m-1-2h0m0 1h0m0 1h0m-2-1h0m0 0h0m-1-1h0m-1 2h0m-1-1h0m0 1h0m0 0h0m-2-2h0m-1 1h0m-1 0h0m0 1h0m-3-1h0m3 2h0m1 1h0m1-1h0m0 0h0m0 1h0m1-1h0m1 0h0m0 0h0m0 2h0m1-2h0m1 1h0m0 0h0m1 0h0m0-1h0m0 2h0m1-2h0m0 1h0m1 1h0m1-1h0m1-1h0m0 2h0m0-1h0m0 0h0m1 0h0m3 0h0m0 1h0m4 0h0m0 3h0m-1-1h0m-4-1h0m-1 0h0m-4 2h0m0-1h0m-1-1h0m0 1h0m-1-1h0m-3 1h0m0 1h0m-1 0h0m-1-1h0m-1 1h0m-7 1h0m0 0h0m2 2h0m1-1h0m0 0h0m1-1h0m1 1h0m10 0h0m2 0h0m1-1h0m0 0h0m0 2h0m0 0h0m1-2h0m0 2h0m1-1h0m0-1h0m0 1h0m1 0h0m2 1h0m1-2h0m1 0h0m1 2h0m1-1h0m1-1h0m0 3h0m0 2h0m0 0h0m0 0h0m-4-1h0m-1 1h0m-2 0h0m-2 0h0m-1-2h0m-11 0h0m-1 0h0m-1 2h0m-1 0h0m-2-2h0m0 0h0m0 0h0m-1 1h0m-1 0h0m-1 0h0m-5 4h0m6-1h0m1 0h0m0-1h0m1 0h0m0 0h0m1 0h0m18 0h0m2 2h0m1-1h0m0-1h0m0 2h0m2-1h0m0-1h0m0 0h0m0 2h0m3 0h0m3-2h0m0 2h0m1 2h0m-1 1h0m0 0h0m-1-2h0m-1 2h0m-1-2h0m-1 0h0m0 2h0m-1 0h0m-3-2h0m-25 0h0m0 0h0m-1 1h0m-2-1h0m0 1h0m0 0h0m-3 1h0m0-1h0m0 1h0m-2-1h0m-1 1h0m0-1h0m-3 4h0m2-1h0m3 1h0m2-2h0m1 1h0m1-1h0m0 0h0m0 2h0m0 0h0m2-1h0m0 1h0m1-2h0m0 1h0m0-1h0m30 0h0m0 2h0m2-2h0m0 2h0m2-2h0m0 2h0m0 1h0m0 2h0m0-1h0m-1-1h0m0 2h0m0 0h0m0-1h0m-33-1h0m-1 1h0m0 1h0m-1-2h0m0 1h0m-1-1h0m0 1h0m-2 0h0m0 1h0m-5-2h0m0 1h0m-4 4h0m1-2h0m1 0h0m1 2h0m1 0h0m2-1h0m0 1h0m4-2h0m0 2h0m1-1h0m0 1h0m3-2h0m0 1h0m35 0h0m1-1h0m1 0h0m1 3h0m-2 2h0m0 0h0m-1-1h0m0 1h0m-1-2h0m0 0h0m-34 2h0m0 0h0m-1 0h0m0 0h0m-1-1h0m-1-1h0m-2 2h0m-2-2h0m-1 1h0m0 1h0m-1 0h0m-1 0h0m0-2h0m-4 2h0m0 2h0m1 1h0m3 0h0m1-2h0m0 1h0m2 0h0m0-1h0m0 0h0m0 2h0m1-2h0m1 1h0m1-1h0m0 0h0m0 1h0m2 0h0m0 0h0m35 0h0m0 1h0m1-1h0m0-1h0m0 0h0m1 0h0m2 1h0m-2 2h0m0 1h0m0 0h0m-1 1h0m-1-1h0m0 0h0m-35 1h0m-1-2h0m0 1h0m-5-1h0m0 0h0m0 2h0m0-1h0m-3 0h0m-2 0h0m1 3h0m1-1h0m0 2h0m1-1h0m0-1h0m2 2h0m0 0h0m1-1h0m2 0h0m1-1h0m2 2h0m0 0h0m35-2h0m0 1h0m0 1h0m1-2h0m1 0h0m0 2h0m2-2h0m0 0h0m-1 4h0m-1-1h0m0 1h0m0 0h0m-2-1h0m-1 0h0m-34 0h0m-1 2h0m-2 0h0m-1 0h0m0 0h0m0-2h0m-1 2h0m-1-1h0m0 1h0m-1 0h0m0-2h0m-1 0h0m0 2h0m-3-2h0m0 2h0m0 0h0m-1 0h0m0-1h0m0 0h0m-6 2h0m1 1h0m0 0h0m1-1h0m1 1h0m1 0h0m0 1h0m3 0h0m0-1h0m1-1h0m1 1h0m0-1h0m0 0h0m5 0h0m0 2h0m1 0h0m0-1h0m1 0h0m1 1h0m0-1h0m36 1h0m1-2h0m3 1h0m-2 4h0m0 0h0m-1-2h0m-1 1h0m-36 1h0m-5-2h0m-2 0h0m-1 1h0m0 1h0m-3 0h0m-1-1h0m-2-1h0m-1 1h0m0 3h0m2 0h0m1 0h0m1 0h0m1-1h0m1 1h0m0-1h0m0 2h0m2-1h0m1 1h0m2 0h0m2 0h0m0 0h0m1-2h0m0 2h0m1-1h0m0 0h0m1 0h0m0 0h0m35 0h0m0 0h0m0 0h0m1 1h0m0 0h0m0-1h0m1 1h0m0-2h0m0 1h0m1-1h0m1 1h0m0 0h0m-1 3h0m0 0h0m-1 0h0m-1 1h0m0-2h0m-2 2h0m-1-1h0m-1 1h0m0 0h0m0 0h0m-30 0h0m-1 0h0m0-1h0m0-1h0m0 0h0m-1 0h0m0 1h0m0 1h0m-1-1h0m0 1h0m-2-2h0m0 2h0m-2-1h0m-1-1h0m0 2h0m0-2h0m0 1h0m0 0h0m-2 1h0m-1 0h0m-1 0h0m-2-1h0m-2 0h0m-2 2h0m1 1h0m4 0h0m0-1h0m1 1h0m2 0h0m0 1h0m1 0h0m0-1h0m1 0h0m0-1h0m2 1h0m0 0h0m0 1h0m2 0h0m1-2h0m0 0h0m0 1h0m1 0h0m0 0h0m3 0h0m0 0h0m27 1h0m1 0h0m2-2h0m0 1h0m1-1h0m3 5h0m-1 0h0m-1-1h0m-1 0h0m-2 1h0m-2 0h0m0-1h0m0 1h0m-25 0h0m-1 0h0m-2-1h0m-1 1h0m-3-1h0m0-1h0m-2 1h0m0 1h0m0-2h0m-1 1h0m-1 0h0m-1 1h0m0-2h0m-2 0h0m-3 0h0m-1 2h0m-1 2h0m1 0h0m2-1h0m4 1h0m0-1h0m0 0h0m1 2h0m1 0h0m0 0h0m1-1h0m1-1h0m2 2h0m0-2h0m0 0h0m1 1h0m2-1h0m2 1h0m1 0h0m0 0h0m0 0h0m1 1h0m0-1h0m2 1h0m22-2h0m1 0h0m0 1h0m1 1h0m0-2h0m1 2h0m0 0h0m1-1h0m0-1h0m1 1h0m0 1h0m1-1h0m1 1h0m1 0h0m-1 3h0m-1-1h0m-1 0h0m-2 0h0m0 0h0m0 1h0m0-1h0m-1-1h0m-23 1h0m0 1h0m0-1h0m-3 1h0m-1-1h0m0 1h0m0-2h0m0 0h0m-1 2h0m0-1h0m0-1h0m0 0h0m-1 1h0m0-1h0m-1 0h0m0 0h0m0 1h0m-1 0h0m0-1h0m0 0h0m-1 2h0m0-2h0m0 0h0m-2 2h0m0-2h0m-2 1h0m-1 1h0m-1-1h0m-1-1h0m-1 1h0m-1 1h0m0-1h0m-4-1h0m-1 0h0m1 4h0m2 1h0m0-1h0m4 1h0m0-1h0m2 1h0m0 0h0m0 0h0m0-1h0m3 0h0m3 1h0m0-2h0m0 0h0m2 1h0m1 1h0m1 0h0m0 0h0m1-2h0m4 1h0m1 1h0m1 0h0m0 0h0m0 0h0m1 0h0m1 0h0m2 0h0m4 0h0m6 0h0m1 0h0m1 0h0m2-1h0m0 0h0m1 0h0m3 1h0m1-2h0m18 0h0m1 2h0m1-2h0m0 0h0m1 1h0m1 0h0m3 0h0m0 0h0m6 1h0m3-2h0m0 2h0m3 0h0m-2 1h0m-1 2h0m-1 0h0m-2 0h0m-1-1h0m-1 0h0m-2-1h0m-2 2h0m-3-1h0m-1-1h0m-1 2h0m0-2h0m-1 0h0m-16 1h0m0-1h0m-2 2h0m0 0h0m-2-1h0m0-1h0m-1 0h0m-1 0h0m0 0h0m-1 1h0m0-1h0m-1 1h0m0-1h0m-1 1h0m0 1h0m0 0h0m-1 0h0m0-1h0m-2 1h0m-1-1h0m-1 1h0m0-2h0m0 0h0m-1 1h0m0 1h0m0-2h0m0 0h0m-1 2h0m0-1h0m0 0h0m-1 0h0m0 0h0m0 1h0m-1-2h0m-1 2h0m0-2h0m-1 2h0m-1-1h0m-1 1h0m-1-1h0m-1 1h0m0 0h0m-1-2h0m-1 1h0m-1 0h0m0 1h0m-1-1h0m0 1h0m-1-1h0m-1 1h0m-1 0h0m0-1h0m-1 0h0m0 0h0m0-1h0m-2 2h0m0-1h0m0-1h0m-1 2h0m-1-1h0m0 0h0m-1 0h0m0-1h0m-1 0h0m-2 0h0m0 0h0m-7 0h0m0 0h0m10 4h0m0 0h0m0-1h0m0 1h0m2-1h0m0 0h0m2 0h0m1 0h0m2 0h0m4 0h0m1 2h0m0-1h0m0 0h0m1 0h0m0 0h0m0-1h0m2 1h0m0 0h0m1-1h0m0 0h0m0 0h0m2 0h0m1 1h0m0 0h0m0-1h0m1 1h0m0-1h0m1 2h0m0-2h0m2 1h0m1 1h0m0-1h0m1 0h0m2 1h0m3-2h0m1 0h0m0 1h0m1 0h0m2 0h0m0 0h0m36 4h0m-2 0h0m-1 0h0m-8 0h0m-9 0h0m-6 0h0m-65 0h0m-6 1h0m3 2h0m1 0h0m0 0h0m0 0h0m1-1h0m3-1h0m1 1h0m0-1h0m0 1h0m55-1h0m0 0h0m1 0h0m0 0h0m4 0h0m0 2h0m1-2h0m0 0h0m0 1h0m1 0h0m1 0h0m2 0h0m27-1h0m0 1h0m0 0h0m1 0h0m1-1h0m1 2h0m1-1h0m0 1h0m1-2h0m0 2h0m0 0h0m1-1h0m0-1h0m0 2h0m0 0h0m1 0h0m1-1h0m5 1h0m0 0h0m2 3h0m-3 0h0m0-1h0m-3-1h0m-1 2h0m0-1h0m-2-1h0m-1 1h0m-2-1h0m-1 0h0m-33 0h0m0 0h0m-1 1h0m0 0h0m-63 0h0m-2-1h0m0 0h0m0 2h0m-1-1h0m-1 0h0m-3 0h0m0 1h0m0-1h0m-2-1h0m-1 1h0m-1 0h0m0 4h0m2 0h0m2 0h0m1-2h0m1 0h0m2 1h0m66 0h0m0-1h0m1 1h0m0-1h0m0 1h0m38 0h0m0 1h0m1-2h0m1 1h0m0 0h0m0 0h0m1-1h0m0 2h0m0 0h0m1-2h0m1 1h0m0 1h0m0 0h0m1-1h0m0-1h0m1 2h0m2-1h0m0-1h0m1 0h0m2 1h0m-3 3h0m-1 0h0m-1 0h0m-2 1h0m0-1h0m-1 1h0m-1-1h0m-2 1h0m0-2h0m0 0h0m-105 2h0m-1 0h0m-2-1h0m-5 1h0m-1-1h0m-2 2h0m3 0h0m0 1h0m3 1h0m1 0h0m0 0h0m1-1h0m1 1h0m0-2h0m104 0h0m2 2h0m1 0h0m0 0h0m1 0h0m0-2h0m0 0h0m1 1h0m0 0h0m1-1h0m0 0h0m4 1h0m-1 2h0m-1 2h0m-1-2h0m-2 2h0m0-2h0m-1 0h0m-4 2h0m-102 0h0m-1-2h0m-1 1h0m-2 0h0m-1 1h0m0-2h0m0 0h0m-2 2h0m-2 0h0m2 3h0m2 0h0m70 0h0m0-1h0m35-1h0m1 2h0m1-1h0m1 1h0m1-2h0m1 0h0m1 0h0m1 0h0m1 0h0m-1 5h0m0-2h0m0 0h0m-1 1h0m-1-1h0m-3 0h0m-1 1h0m0 1h0m0-2h0m0 0h0m-1 2h0m-34 0h0m0-2h0m-1 1h0m0-1h0m-63 0h0m-3 2h0m-1-2h0m-1 2h0m-3 3h0m1 0h0m4-1h0m3-1h0m2 2h0m0 0h0m1 0h0m60 0h0m0-2h0m1 2h0m0 0h0m0-1h0m32 0h0m1-1h0m0 0h0m1 2h0m1-1h0m1 0h0m1 1h0m0-2h0m1 0h0m0 1h0m1 0h0m2 1h0m0-1h0m1 1h0m-4 2h0m-3 1h0m-1 0h0m0-2h0m-32 1h0m-1 0h0m0 1h0m-2 0h0m0-2h0m-4 1h0m0-1h0m-54 2h0m0-1h0m-3-1h0m-1 0h0m-1 0h0m-1 1h0m0-1h0m-1 0h0m0 0h0m-1 0h0m-1 0h0m-1 0h0m0 0h0m-1 1h0m-2 3h0m6-1h0m3 1h0m2 1h0m3 0h0m57-1h0m29 0h0m1 1h0m0-1h0m1 1h0m0-2h0m1 0h0m0 0h0m1 1h0m0-1h0m1 0h0m0 0h0m0 0h0m2 0h0m1 0h0m0 2h0m2-2h0m0 1h0m1-1h0m-2 3h0m-4 1h0m-2 1h0m0-1h0m-1 1h0m0 0h0m-1-2h0m-1 1h0m-24 1h0m-1-1h0m0 1h0m-1-1h0m-1-1h0m-1 0h0m0 1h0m0-1h0m-1 2h0m0-1h0m0 0h0m-4-1h0m-2 1h0m0 0h0m-1 0h0m0 1h0m0-1h0m-49 0h0m-1 1h0m-2 0h0m-3-1h0m-12 3h0m1 1h0m13-1h0m6 1h0m0-1h0m0-1h0m47 0h0m1 2h0m0-1h0m1 0h0m0 0h0m0-1h0m1 2h0m0-2h0m4 2h0m1 0h0m1-1h0m0 0h0m1-1h0m1 2h0m0-2h0m1 0h0m18 2h0m1 0h0m1-2h0m0 0h0m0 1h0m1-1h0m2 2h0m1 0h0m0 0h0m1-2h0m3 2h0m2 0h0m1-2h0m0 0h0m-6 3h0m0 0h0m-3 2h0m0 0h0m-1-1h0m0-1h0m-1 2h0m0 0h0m-2 0h0m-2-1h0m-10 0h0m0 0h0m-4 1h0m-2 0h0m0-1h0m0 0h0m-1-1h0m-1 1h0m0-1h0m-1 2h0m-1 0h0m-4 0h0m-3-1h0m-2-1h0m-43 2h0m-1-1h0m-3 0h0m-3 0h0m-1-1h0m-15 1h0m-1-1h0m12 5h0m3 0h0m1 0h0m0-1h0m2 0h0m0-1h0m0 1h0m5-1h0m4 2h0m39 0h0m1 0h0m0-2h0m2 2h0m8-2h0m1 0h0m0 0h0m3 1h0m0-1h0m1 2h0m0-1h0m1-1h0m0 1h0m1 1h0m0 0h0m0-1h0m1 1h0m0 0h0m0-1h0m0-1h0m1 2h0m0-2h0m1 0h0m0 0h0m1 2h0m2 0h0m0 0h0m0-2h0m1 2h0m1 0h0m0-1h0m0-1h0m1 1h0m0-1h0m1 0h0m0 1h0m1 0h0m1-1h0m0 0h0m0 1h0m2 1h0m6 0h0m1 0h0m-1 1h0m-2 2h0m-2-1h0m0-1h0m-2 1h0m0 0h0m-1 0h0m-1 0h0m0 1h0m-1-1h0m0 0h0m0 0h0m0 1h0m-1 0h0m0-2h0m-1 2h0m-1-1h0m-2 0h0m-1 1h0m-1-2h0m-2 0h0m-1 1h0m0 0h0m-2 1h0m0-2h0m-2 2h0m0 0h0m-1-1h0m-1 0h0m0-1h0m-9 0h0m-1 0h0m-1 2h0m-2-1h0m0-1h0m-1 0h0m-1 1h0m0 0h0m-34 1h0m-2-2h0m-1 0h0m-1 1h0m0 0h0m-2-1h0m-1 2h0m-1-1h0m-5-1h0m0 1h0m-1-1h0m-1 1h0m-4-1h0m-1 2h0m-9-1h0m-2 3h0m1 0h0m1 1h0m1 0h0m1-2h0m8 1h0m1 0h0m0 0h0m2 1h0m4-1h0m0-1h0m1 1h0m2 1h0m1 0h0m2 0h0m0-2h0m0 0h0m0 1h0m0 0h0m4 1h0m2-2h0m1 1h0m2 1h0m28 0h0m0-1h0m4 1h0m18-1h0m3 1h0m0 0h0m1 0h0m0-1h0m2 1h0m2 0h0m0-1h0m2 1h0m0-2h0m1 0h0m2 2h0m0-1h0m1-1h0m0 0h0m1 2h0m1-1h0m0 0h0m1-1h0m0 0h0m1 1h0m1 1h0m0 1h0m-2 0h0m-2 2h0m0-2h0m-1 2h0m-1 0h0m-1-2h0m-2 1h0m0 1h0m-1-1h0m0-1h0m-2 2h0m0-1h0m0-1h0m-3 1h0m-3-1h0m-1 0h0m-2 0h0m-14 1h0m-3 1h0m0-1h0m-3 1h0m0-1h0m-1 0h0m-25 0h0m-2-1h0m-1 0h0m-2 2h0m-2-2h0m-1 0h0m-2 2h0m0-1h0m-2 0h0m-5 0h0m0-1h0m-1 0h0m-1 0h0m-1 0h0m-1 2h0m-13 0h0m0-2h0m0 0h0m-1 1h0m-1 0h0m21 2h0m7 1h0m1 1h0m0-1h0m2 1h0m1 0h0m2 0h0m3-1h0m24 1h0m1-1h0m2 0h0m1-1h0m1 1h0m2-1h0m15 2h0m0 0h0m1-1h0m1 1h0m2 0h0m0-2h0m1 2h0m0-1h0m1 1h0m0 0h0m1-1h0m3-1h0m0 1h0m0 0h0m1 0h0m1 1h0m1-2h0m0 0h0m1 0h0m0 3h0m-3 0h0m-2 1h0m0 0h0m-1 0h0m0-1h0m-2 1h0m0 1h0m-1-2h0m0 0h0m-1 1h0m-1-1h0m0 0h0m-1 0h0m-1 1h0m-18-1h0m-2 1h0m0-1h0m-1 1h0m0 0h0m0-1h0m-1 2h0m-2 0h0m-19-1h0m-1 0h0m-2 1h0m-2-2h0m-1 2h0m-3-2h0m-2 2h0m-4-2h0m-3 0h0m12 5h0m0-2h0m1 1h0m3-1h0m1 0h0m2 2h0m0-2h0m1 0h0m17 0h0m1 2h0m0-2h0m2 2h0m0-1h0m3-1h0m20 1h0m1 0h0m0-1h0m0 1h0m1 0h0m1 1h0m3-1h0m2 1h0m0 0h0m1-2h0m2 2h0m-1 3h0m0-2h0m-1 2h0m0 0h0m-1-1h0m0 0h0m0-1h0m-2 2h0m-1-1h0m0 1h0m0-2h0m-1 0h0m-27 1h0m-1 0h0m-1 1h0m-2-2h0m-2 1h0m-1 0h0m0 0h0m-1 1h0m-8 0h0m0 0h0m-1-1h0m-1 0h0m-5-1h0m-3 0h0m3 4h0m1-1h0m2 2h0m1 0h0m0-1h0m2 1h0m1-1h0m4-1h0m1 0h0m0 1h0m2-1h0m1 0h0m0 2h0m0-1h0m2 1h0m0-1h0m1-1h0m0 1h0m2 1h0m3-1h0m0 1h0m-3 3h0m-3 0h0m-1 0h0m-3-2h0m-1 2h0m0-2h0m-1 1h0m-1 0h0m-1 1h0m0 0h0m-1-1h0m-2 0h0m-3 3h0m1 1h0m4 0h0m0-2h0m0 0h0m1 1h0m1 1h0m0-2h0m1 2h0m2 0h0m1-2h0m2 1h0m2-1h0m-2 4h0m0 1h0m0-2h0m-1 0h0m-1 2h0m0-1h0m0 0h0m-1-1h0m-1 1h0m-1-1h0m-1 0h0m-1 2h0m0-1h0m-1-1h0m-1 1h0m-1 2h0m2 2h0m2-1h0m1 1h0m0-2h0m0 1h0m2 1h0m1 0h0m1 0h0m1-1h0m3 1h0m-1 2h0m-1 0h0m-2 0h0m0 1h0m-1-1h0m-1-1h0m-1 1h0m-1-1h0m-2 2h0m3 1h0m1 2h0m0-2h0m2 2h0m1 0h0m0-2h0m1 2h0m1-1h0m0-1h0m-1 5h0m-3-2h0m-1 2h0" stroke="#7486d0" stroke-width="2.1" stroke-linecap="round" transform="scale(0.5)"/>
<path d="M372 74h0m1-1h0m0-1h0m0 2h0m1-1h0m0 0h0m0 1h0m1-2h0m0 1h0m0 1h0m2-1h0m4 4h0m0 0h0m-1-1h0m-1 0h0m0 0h0m0 0h0m-1-1h0m-1 0h0m0 0h0m0 0h0m0 2h0m-1-2h0m0 0h0m0 2h0m0-1h0m-1 0h0m0 0h0m0 1h0m-1-2h0m0 2h0m-1-2h0m0 1h0m-1-1h0m0 2h0m0 0h0m0-1h0m-1-1h0m0 1h0m0 0h0m-2 1h0m-1 0h0m-2 2h0m1 1h0m0 0h0m1 0h0m0-1h0m1-1h0m0 0h0m1 1h0m0 0h0m0-1h0m1 0h0m2 2h0m1-1h0m0 0h0m0 0h0m0 0h0m0 0h0m1-1h0m0 1h0m0-1h0m1 1h0m1-1h0m0 0h0m0 1h0m0 0h0m0 1h0m1-2h0m0 1h0m0 0h0m0-1h0m0 2h0m1-1h0m0 0h0m0 1h0m1-1h0m0 1h0m0 0h0m0-2h0m1 0h0m0 0h0m1 0h0m1 1h0m1-1h0m1 2h0m5 3h0m0 0h0m-3 0h0m-1-1h0m0 1h0m-1-1h0m-3-1h0m0 1h0m0 1h0m-1-1h0m-1-1h0m0 2h0m-3-1h0m-1 0h0m-1-1h0m0 2h0m-1-2h0m0 0h0m0 1h0m0 1h0m-1-2h0m0 1h0m-1-1h0m0 0h0m0 1h0m0 0h0m0-1h0m-1 0h0m0 2h0m0-1h0m-1-1h0m0 1h0m0 0h0m0 0h0m0 1h0m0-1h0m-1-1h0m0 2h0m0-1h0m0 1h0m0 0h0m-2 0h0m-2-1h0m0 0h0m0 0h0m-1 1h0m0 0h0m-2 2h0m1 1h0m0 0h0m0 0h0m1-2h0m0 1h0m0 1h0m0-2h0m2 0h0m0 0h0m1 1h0m0 0h0m1 0h0m1 0h0m1 0h0m0 1h0m0-1h0m3 0h0m0 0h0m0 1h0m0 0h0m1-2h0m0 1h0m0-1h0m0 0h0m1 0h0m0 0h0m0 2h0m2-1h0m1-1h0m0 0h0m0 0h0m0 0h0m0 2h0m1-2h0m0 2h0m1-1h0m0-1h0m0 1h0m0 1h0m2-2h0m0 1h0m0-1h0m0 2h0m1-1h0m0 0h0m0 1h0m1-1h0m0 0h0m0-1h0m0 2h0m1-2h0m0 1h0m0 0h0m0 1h0m1-1h0m1 0h0m0 1h0m1-1h0m0 0h0m1 0h0m0 1h0m0 0h0m1-2h0m0 2h0m0 0h0m0-1h0m0 1h0m1 0h0m2 3h0m0 0h0m0 0h0m0 0h0m-1 0h0m-1 0h0m-1-1h0m-2 1h0m0-2h0m0 2h0m-1-2h0m0 0h0m0 2h0m-1-2h0m0 1h0m-1-1h0m0 0h0m0 0h0m0 2h0m-1-1h0m0-1h0m0 1h0m-1 1h0m-1-2h0m0 2h0m0 0h0m-1-2h0m-2 0h0m0 0h0m-2 1h0m0 1h0m0-1h0m-1 0h0m-1 0h0m-1 0h0m-1-1h0m0 2h0m0 0h0m0-1h0m-1-1h0m0 0h0m-1 0h0m0 0h0m0 0h0m0 1h0m-1 0h0m0 1h0m0 0h0m-1-2h0m0 0h0m-1 0h0m0 2h0m-1 0h0m0-1h0m-1 0h0m0 0h0m0-1h0m0 0h0m-2 1h0m-1 0h0m-1 0h0m0 2h0m0 2h0m1-2h0m0 2h0m0 0h0m1-1h0m0-1h0m3 0h0m0 0h0m1 1h0m0 1h0m1-2h0m0 1h0m1 0h0m1-1h0m0 2h0m0 0h0m1-2h0m0 1h0m1-1h0m0 1h0m1-1h0m0 1h0m2 0h0m0-1h0m8 0h0m0 1h0m1-1h0m0 1h0m0 1h0m1-1h0m1-1h0m1 2h0m0 0h0m1-2h0m0 0h0m1 1h0m1-1h0m0 1h0m0-1h0m1 1h0m0 0h0m0-1h0m0 2h0m0 0h0m1-2h0m0 2h0m1-2h0m-2 5h0m-2-2h0m0 1h0m0-1h0m-1 0h0m-1 1h0m0 1h0m0 0h0m0 0h0m-1-2h0m0 1h0m-1 1h0m-15-1h0m0 0h0m0 1h0m-1-2h0m-1 0h0m0 0h0m0 2h0m0 0h0m0 0h0m-1 0h0m0-2h0m-1 0h0m-1 1h0m-1 0h0m-2 0h0m-3 2h0m0 1h0m0-1h0m1 2h0m1-2h0m1 2h0m0 0h0m0 0h0m0 0h0m1-1h0m0 1h0m2-1h0m1 0h0m0 1h0m1-1h0m0-1h0m0 2h0m0-1h0m0 0h0m0 0h0m0-1h0m0 1h0m1 0h0m1-1h0m16 0h0m1 0h0m0 0h0m0 0h0m0 1h0m1-1h0m0 1h0m0 1h0m0-2h0m1 0h0m0 1h0m0 1h0m1-1h0m0 1h0m0-1h0m0 1h0m0 0h0m2-1h0m0-1h0m0 0h0m1 0h0m0 3h0m-1 2h0m-1-2h0m-1 0h0m0 1h0m0 0h0m0-1h0m-1 1h0m0 0h0m0 1h0m-21-1h0m-1 0h0m0 1h0m0 0h0m0 0h0m-1-1h0m-2-1h0m0 1h0m0 0h0m-1-1h0m0 0h0m0 2h0m0 0h0m-2 0h0m0-1h0m-1 3h0m1 0h0m0 1h0m1-1h0m1-1h0m0 0h0m1 1h0m0-1h0m0 0h0m1 1h0m24-1h0m1 1h0m0-1h0m0 2h0m0-2h0m0 0h0m0 2h0m1-1h0m1 0h0m0 0h0m2-1h0m0 2h0m1 3h0m0-1h0m-1 1h0m-2-2h0m0 1h0m0-1h0m-1 2h0m0-1h0m-1-1h0m0 1h0m0 1h0m0 0h0m-1-2h0m0 1h0m0 1h0m-1 0h0m0-1h0m-22 1h0m-1 0h0m0 0h0m0-1h0m0 0h0m0 0h0m-1 1h0m0 0h0m0-1h0m0 1h0m0-1h0m-1 0h0m0 0h0m0 1h0m-1 0h0m-1 0h0m0-1h0m-1 1h0m0-2h0m0 0h0m1 5h0m0 0h0m2 0h0m0-1h0m1 1h0m1 0h0m0 0h0m0-1h0m0-1h0m1 1h0m0-1h0m0 0h0m0 0h0m1 2h0m0-2h0m0 0h0m0 1h0m1-1h0m20 2h0m1 0h0m0-2h0m1 1h0m0-1h0m0 1h0m0 1h0m1-1h0m0-1h0m0 0h0m0 0h0m1 2h0m0 0h0m0-2h0m0 0h0m1 2h0m0-2h0m1 0h0m0 0h0m0 0h0m0 1h0m1-1h0m-1 5h0m-1 0h0m-1-1h0m-1 1h0m0 0h0m-1 0h0m0-1h0m-1 0h0m0-1h0m0 0h0m-1 0h0m0 0h0m0 1h0m0 0h0m0 0h0m-1 1h0m0-1h0m0 0h0m-1 1h0m-17-1h0m-1 0h0m0 0h0m-1 0h0m0 0h0m0 1h0m0 0h0m-1-1h0m-1-1h0m0 0h0m-1 1h0m0 1h0m-1 0h0m0-1h0m-1 0h0m-1 0h0m0-1h0m0 0h0m2 4h0m0-1h0m1 2h0m0-2h0m2 1h0m0-1h0m1 2h0m0 0h0m0-2h0m0 0h0m1 2h0m1 0h0m0-1h0m0-1h0m1 1h0m0 1h0m1-2h0m0 1h0m11 1h0m1 0h0m1-1h0m0 1h0m0 0h0m1-1h0m1-1h0m0 1h0m1-1h0m1 1h0m0-1h0m0 0h0m0 1h0m1 1h0m0-2h0m1 1h0m1 1h0m0 0h0m1-2h0m1 2h0m0-2h0m1 3h0m-1 0h0m-1 0h0m-1 2h0m0-2h0m0 0h0m-1 2h0m0-2h0m-1 1h0m0-1h0m-2 1h0m0 0h0m0-1h0m-1 1h0m-1 1h0m0 0h0m0-1h0m-1 1h0m0-1h0m-1 0h0m0-1h0m-1 2h0m0-1h0m-10-1h0m-1 1h0m0 1h0m0 0h0m0-1h0m0 0h0m0-1h0m0 0h0m-1 2h0m0-1h0m0 0h0m-1 1h0m0-2h0m-1 2h0m0 0h0m0-1h0m-1 0h0m-2 0h0m-1 1h0m0-1h0m0 1h0m-1-2h0m1 4h0m1 0h0m0-1h0m2 1h0m0-1h0m1 2h0m1 0h0m1 0h0m0 0h0m0-2h0m0 0h0m1 1h0m0-1h0m1 0h0m1 2h0m0 0h0m0-2h0m0 1h0m0 0h0m1-1h0m0 0h0m0 0h0m0 2h0m1-1h0m1 0h0m2 1h0m1 0h0m0 0h0m1 0h0m0 0h0m0-1h0m1 1h0m0-2h0m0 1h0m0 0h0m0-1h0m1 1h0m0-1h0m0 2h0m0-1h0m1 0h0m0 0h0m1-1h0m0 0h0m2 1h0m1 1h0m0-2h0m0 1h0m0-1h0m1 2h0m0-2h0m1 0h0m1 0h0m1 0h0m-2 4h0m0 0h0m-1-1h0m0 1h0m-1 1h0m-1 0h0m0-1h0m0 0h0m-1 0h0m-2-1h0m0 0h0m-1 1h0m-1 1h0m0-1h0m-1 0h0m0 0h0m0 1h0m-1-1h0m-1-1h0m-1 2h0m0-2h0m-1 0h0m0 0h0m-1 1h0m0 1h0m0-2h0m-1 2h0m0-1h0m0 1h0m0-2h0m-1 1h0m-1 1h0m0-2h0m-1 1h0m0 0h0m0-1h0m-1 2h0m0-1h0m0 0h0m0-1h0m0 0h0m-1 1h0m-1 1h0m0 0h0m-1 0h0m0-1h0m-1 3h0m0-1h0m3 1h0m2 1h0m0-1h0m2-1h0m0 0h0m0 1h0m1 1h0m0-1h0m0-1h0m0 1h0m0-1h0m0 1h0m1 0h0m1 1h0m0 0h0m0-2h0m0 0h0m1 2h0m0 0h0m0-2h0m0 1h0m0-1h0m1 0h0m1 0h0m0 0h0m0 1h0m0-1h0m1 2h0m0-1h0m0-1h0m0 1h0m0-1h0m1 2h0m0 0h0m0-1h0m1 1h0m0 0h0m0 0h0m0-2h0m0 1h0m1 1h0m1-1h0m0 1h0m2-2h0m0 1h0m2-1h0m1 1h0m1 1h0m0 0h0m1 0h0m0 0h0m0 0h0m1 3h0m-1-2h0m-1 2h0m0 0h0m0 0h0m-1 0h0m-1 0h0m-1 0h0m0-2h0m-1 1h0m0 1h0m-1 0h0m0-2h0m-1 1h0m0-1h0m-1 1h0m-1 1h0m0 0h0m-3-2h0m-1 2h0m0-2h0m0 0h0m-1 2h0m0-2h0m-2 2h0m0 0h0m0-2h0m-1 0h0m-1 0h0m-1 1h0m0-1h0m-2 2h0m0-1h0m3 2h0m0 1h0m1-1h0m0 0h0m1 0h0m0 0h0m1 0h0m0 1h0m2 0h0m1 0h0m1-1h0m1 1h0m1-1h0m2 1h0m0 0h0m2-1h0m0 1h0m1-1h0m1 1h0m0-1h0m0 0h0m1 1h0m-30 10h0m0 0h0m-1 0h0m-7 0h0m-2 0h0m0 0h0m-4 2h0m0-1h0m0 0h0m0 2h0m0 0h0m1-1h0m0-1h0m0 2h0m0 0h0m1-2h0m0 2h0m1-1h0m0 0h0m0-1h0m1 0h0m0 0h0m0 2h0m0 0h0m1-1h0m0-1h0m1 0h0m1 1h0m0-1h0m0 0h0m1 0h0m0 1h0m0-1h0m1 0h0m40 1h0m1 0h0m0 0h0m0-1h0m1 2h0m1 0h0m0 0h0m1-1h0m8 1h0m1 0h0m1-1h0m0 1h0m1-2h0m0 2h0m0 0h0m0 0h0m1-1h0m0 1h0m1-1h0m1 0h0m0 1h0m0 0h0m1-1h0m0-1h0m0 0h0m0 0h0m0 1h0m1-1h0m0 1h0m0-1h0m0 1h0m0-1h0m2 1h0m0 0h0m1-1h0m1 0h0m0 0h0m0 0h0m0 1h0m0 1h0m3-2h0m0 1h0m0 0h0m0 0h0m0 1h0m0 0h0m0 0h0m0 0h0m0 0h0m1-1h0m0-1h0m0 1h0m0-1h0m0 0h0m0 2h0m0 0h0m1-2h0m0 0h0m0 0h0m0 1h0m1 0h0m0 1h0m1-1h0m0 1h0m1-2h0m0 1h0m0 0h0m0 0h0m0 0h0m1 0h0m0 1h0m1-1h0m0 1h0m1-2h0m0 0h0m0 1h0m0 0h0m1-1h0m0 0h0m0 2h0m0 0h0m1-2h0m0 0h0m0 1h0m1 0h0m0-1h0m0 2h0m1-2h0m0 2h0m0 0h0m1-1h0m5 4h0m0 0h0m0 0h0m0-1h0m-2 1h0m0 0h0m-1-2h0m0 1h0m-1-1h0m0 0h0m-1 0h0m0 2h0m-1-2h0m0 2h0m-1-2h0m0 0h0m0 1h0m-1 1h0m-1-2h0m-3 0h0m0 0h0m-1 0h0m0 0h0m-1 0h0m0 0h0m-1 0h0m0 0h0m0 0h0m-2 0h0m0 0h0m0 0h0m-4 0h0m0 0h0m-2 0h0m-2 0h0m0 0h0m0 0h0m-1 0h0m0 0h0m0 0h0m-1 0h0m-1 0h0m0 0h0m-1 2h0m-1-2h0m0 1h0m0 1h0m0-1h0m0 0h0m-1 0h0m-1-1h0m0 0h0m0 0h0m0 2h0m0 0h0m-1 0h0m-1 0h0m-1-1h0m-4-1h0m-1 0h0m0 0h0m0 2h0m0 0h0m0-1h0m0 1h0m0-1h0m-1-1h0m0 1h0m-1-1h0m0 0h0m0 0h0m0 2h0m0-1h0m-1-1h0m0 0h0m0 1h0m-48-1h0m-1 0h0m-1 0h0m0 1h0m-4 0h0m-1 0h0m-3 4h0m2 0h0m0 0h0m3-2h0m0 0h0m1 1h0m0 1h0m1-1h0m0 1h0m1 0h0m50-2h0m0 1h0m2 1h0m0-1h0m1 1h0m0-1h0m0 0h0m4 1h0m0 0h0m1-1h0m1 0h0m0 0h0m0 1h0m0 0h0m1 0h0m1-2h0m0 0h0m1 1h0m22 0h0m0-1h0m0 2h0m1-2h0m0 0h0m0 2h0m1-1h0m0 0h0m1 0h0m0 1h0m1-1h0m1-1h0m0 1h0m0 1h0m1-2h0m2 1h0m0 1h0m0-1h0m0 0h0m0-1h0m1 2h0m0 0h0m1 0h0m0-1h0m2-1h0m-1 4h0m0 0h0m0 1h0m0-2h0m-2 1h0m0 0h0m0 1h0m0 0h0m0-2h0m-2 2h0m0 0h0m0-1h0m0-1h0m-1 0h0m-1 0h0m-1 0h0m0 1h0m-1 1h0m-2-2h0m0 2h0m-26-2h0m0 0h0m0 1h0m-1 0h0m0 0h0m0 0h0m0 1h0m0-1h0m0 1h0m-1-2h0m0 1h0m-4 0h0m0 1h0m0-2h0m-1 2h0m0 0h0m-1 0h0m0-1h0m0 0h0m0 1h0m-1-2h0m-50 1h0m-1-1h0m0 2h0m-1-1h0m0 0h0m-1 0h0m-1-1h0m0 1h0m0 0h0m0 1h0m0-1h0m-2 0h0m0 1h0m-1-2h0m0 0h0m0 5h0m0-2h0m1 1h0m1 1h0m0-2h0m1 0h0m0 2h0m1-1h0m1-1h0m1 2h0m0 0h0m0-1h0m0 0h0m1 0h0m0 0h0m1-1h0m50 2h0m0 0h0m1-1h0m0 0h0m1 0h0m0 0h0m4 1h0m1-1h0m0 1h0m0 0h0m2 0h0m0 0h0m0-2h0m24 0h0m0 1h0m1-1h0m1 0h0m0 1h0m1 0h0m0-1h0m0 1h0m1-1h0m0 2h0m1-2h0m0 2h0m1 0h0m1-1h0m0-1h0m0 1h0m2 1h0m0 0h0m0 3h0m-1 0h0m0 0h0m-1-2h0m0 0h0m-1 1h0m-1-1h0m0 1h0m0 1h0m-1-1h0m0 0h0m-1-1h0m0 2h0m-1-2h0m-24 2h0m-1 0h0m0-1h0m0 1h0m-1-1h0m0 1h0m-1 0h0m0 0h0m0-1h0m0 0h0m-2-1h0m0 0h0m-3 2h0m-1-2h0m0 1h0m-1 0h0m0-1h0m-2 0h0m-48 0h0m0 0h0m-2 2h0m-1-1h0m-1 0h0m0-1h0m-1 2h0m0 0h0m0-2h0m-1 1h0m0-1h0m-4 1h0m0 2h0m2 1h0m0 0h0m0 0h0m0-1h0m1 0h0m1 1h0m0-1h0m0 0h0m1 0h0m0 1h0m1 1h0m0 0h0m1-2h0m0 1h0m1 1h0m1-2h0m1 1h0m0-1h0m0 0h0m1 1h0m1-1h0m46 2h0m0 0h0m2-1h0m0 0h0m0 1h0m0 0h0m1 0h0m5 0h0m1 0h0m1 0h0m1 0h0m0 0h0m1 0h0m22 0h0m2 0h0m0-2h0m0 2h0m1-2h0m1 0h0m1 0h0m0 0h0m1 2h0m0-2h0m1 2h0m0-1h0m0 4h0m0-1h0m-1-1h0m0 0h0m0 1h0m-1 0h0m0 1h0m-1-1h0m0 0h0m-1 0h0m0 0h0m-1 1h0m0-2h0m0 2h0m-1-1h0m0 1h0m-1-2h0m0 0h0m-20 2h0m0 0h0m0 0h0m-1-1h0m-1-1h0m-1 2h0m0 0h0m0-2h0m0 0h0m-1 0h0m0 1h0m0-1h0m-1 0h0m-1 1h0m-4-1h0m-1 2h0m0-2h0m0 0h0m-1 1h0m0 0h0m-1-1h0m0 0h0m0 0h0m-48 2h0m0 0h0m0 0h0m0-2h0m0 0h0m-1 2h0m-2-1h0m0 0h0m0 1h0m-3 0h0m0-1h0m-1 0h0m-1 0h0m-1 0h0m2 2h0m1 1h0m1-1h0m0 1h0m1 0h0m1 0h0m1 0h0m3 1h0m0 0h0m0 0h0m0 0h0m1 0h0m0-1h0m0 0h0m0 0h0m1 0h0m0-1h0m43 2h0m0 0h0m0 0h0m1-2h0m0 2h0m1 0h0m7-2h0m1 2h0m0 0h0m0 0h0m0-2h0m0 1h0m0 0h0m3 0h0m0-1h0m1 1h0m1-1h0m1 1h0m13 1h0m1 0h0m1 0h0m0 0h0m0 0h0m1 0h0m1 0h0m3 0h0m0 0h0m0-2h0m1 1h0m2 0h0m0 1h0m1-2h0m1 1h0m-3 2h0m-1 1h0m-2 0h0m0 1h0m0 0h0m0-1h0m0 0h0m0-1h0m-1 2h0m0-1h0m0-1h0m-1 2h0m0-2h0m-1 1h0m0 1h0m0 0h0m0-2h0m-1 2h0m0-2h0m-1 1h0m0 1h0m0 0h0m0-2h0m-1 2h0m-1 0h0m0 0h0m-1 0h0m0 0h0m0-1h0m-2 0h0m0 0h0m-1 0h0m0 1h0m0-1h0m-1 0h0m0 0h0m0 1h0m-3 0h0m0 0h0m0 0h0m0-1h0m-1 0h0m0 1h0m0-1h0m-1 1h0m0 0h0m0 0h0m-1 0h0m0-2h0m0 2h0m0 0h0m-1-1h0m0 0h0m0 0h0m0 0h0m0 1h0m0-2h0m-1 2h0m-1-1h0m0-1h0m-1 1h0m0-1h0m-1 0h0m-1 0h0m-9 1h0m0 1h0m0-1h0m-1 0h0m0 1h0m-1-1h0m0 1h0m0-2h0m-1 2h0m-1-1h0m-1 0h0m-40 0h0m0-1h0m0 2h0m0 0h0m-3 0h0m-2-1h0m0 1h0m-1 0h0m0-2h0m-1 0h0m3 3h0m1 1h0m1-1h0m0 1h0m0 1h0m2-1h0m0 0h0m1 1h0m40-2h0m1 2h0m0-1h0m1 1h0m0-1h0m1 1h0m0 0h0m2-1h0m8-1h0m0 1h0m1-1h0m0 0h0m0 1h0m1 0h0m0 0h0m0 1h0m0-2h0m1 2h0m0 0h0m0-1h0m1 0h0m0-1h0m0 0h0m1 1h0m2 1h0m0-1h0m0-1h0m0 1h0m0 0h0m1 1h0m1-1h0m0 0h0m1 1h0m0-2h0m0 1h0m0 0h0m1-1h0m1 2h0m0 0h0m0-1h0m0 0h0m0-1h0m1 2h0m1-1h0m1 0h0m1 0h0m0 0h0m1-1h0m0 1h0m1 1h0m0 0h0m0 0h0m0-1h0m1-1h0m1 0h0m0 1h0m2 1h0m0-2h0m1 0h0m0 1h0m0 0h0m1 1h0m1-1h0m0 2h0m-1 0h0m-1 1h0m0 0h0m0-1h0m-1 0h0m0 2h0m-1-1h0m0 0h0m-1-1h0m0 0h0m0 0h0m-1 2h0m0 0h0m0-2h0m0 0h0m-1 2h0m0 0h0m-1-1h0m0 1h0m-1-1h0m-1-1h0m-1 2h0m0-2h0m-1 2h0m0 0h0m-1-1h0m0-1h0m-1 2h0m0-2h0m0 0h0m0 0h0m-1 0h0m-1 1h0m-1 1h0m0 0h0m0 0h0m0-1h0m0-1h0m-1 2h0m0-2h0m-1 1h0m0 1h0m-1-2h0m-3 0h0m-10 0h0m-2 2h0m-2 0h0m-2 0h0m0-1h0m-1-1h0m-1 1h0m0 0h0m0 0h0m-1 0h0m0 1h0m-34 0h0m0-1h0m-1-1h0m0 1h0m-1-1h0m-1 1h0m-1 0h0m-1 0h0m-1 0h0m0-1h0m-1 0h0m3 3h0m0 0h0m1 1h0m0 0h0m1 1h0m1-2h0m1 2h0m0-1h0m1 1h0m2 0h0m29 0h0m1 0h0m1-2h0m1 1h0m0 0h0m1 1h0m0-2h0m0 0h0m1 1h0m1-1h0m2 1h0m14 0h0m0-1h0m1 0h0m0 1h0m1-1h0m1 0h0m1 0h0m0 1h0m1 1h0m1-2h0m0 1h0m0-1h0m1 2h0m0-1h0m0 0h0m0-1h0m0 1h0m0 0h0m1 0h0m0-1h0m1 0h0m2 1h0m2 1h0m1-1h0m0-1h0m0 1h0m1 0h0m0-1h0m0 1h0m0-1h0m1 2h0m0-1h0m1 0h0m1 0h0m-2 2h0m0 0h0m-1 0h0m-1 0h0m-1 2h0m-1 0h0m-1-1h0m0 1h0m0 0h0m-1 0h0m0-1h0m-2-1h0m-1 0h0m0 0h0m-1 1h0m-3-1h0m-1 0h0m-20 2h0m0-2h0m-1 0h0m-1 2h0m-1-1h0m0 0h0m0-1h0m-2 0h0m-26 2h0m-1-1h0m-1 0h0m0 1h0m0-1h0m-3-1h0m-1 0h0m0 2h0m0-1h0m0-1h0m-1 2h0m-2-2h0m5 3h0m1 1h0m0-1h0m1 2h0m1-1h0m0 0h0m2 0h0m0 0h0m1-1h0m1 2h0m0 0h0m0 0h0m21-2h0m1 0h0m0 0h0m0 1h0m1-1h0m2 0h0m1 1h0m0-1h0m0 1h0m2 0h0m0-1h0m1 1h0m0 0h0m-2 4h0m-2 0h0m0-1h0m-1 0h0m-1 1h0m-1 0h0m-1-2h0m0 1h0m-1 0h0m0 1h0m-1 0h0m0 0h0m0-2h0m-1 2h0m0-2h0m-1 1h0m-12 0h0m0 0h0m-1 1h0m0-1h0m-1 1h0m0-1h0m-1 0h0m0 1h0m-1 0h0m0 0h0m0-2h0m0 0h0m-1 0h0m-2 1h0m-2 0h0m0-1h0m4 5h0m1 0h0m0 0h0m1-1h0m0-1h0m1 1h0m0 0h0m0-1h0m0 1h0m2 0h0m2-1h0m10 2h0m1 0h0m0-1h0m0-1h0m1 1h0m0 0h0m1 1h0m1 0h0m0 0h0m0-2h0m0 1h0m1 1h0m1-1h0m1 1h0m0 0h0m0-1h0m1 0h0m-2 2h0m-1 2h0m-1-1h0m-1-1h0m-1 0h0m-1 1h0m0 1h0m-1 0h0m0-2h0m0 1h0m-2 1h0m0-1h0m0 0h0m-4 0h0m-1 1h0m-1 0h0m0-1h0m0 0h0m-1 0h0m0 1h0m-1-1h0m0 1h0m0-1h0m-2 0h0m-2 0h0m0 1h0m0-1h0m0-1h0m-1 1h0m0 0h0m-1 0h0m0 0h0m0 3h0m5 1h0m0-1h0m1 1h0m1 0h0m1 0h0m0-2h0m1 2h0m0 0h0m0 0h0m0-2h0m0 1h0m0 0h0m1 1h0m0 0h0m1-2h0m1 2h0m0-2h0m0 0h0m1 2h0m2 0h0m0-2h0m1 2h0m0 0h0m0 0h0m0-1h0m1-1h0m1 2h0m0 0h0m0-2h0m0 1h0m1 1h0m0-1h0m1-1h0m1 2h0m0-2h0m0 1h0m1-1h0m0 0h0m1 0h0m1 3h0m-3 2h0m-1 0h0m-1 0h0m0-2h0m-1 1h0m-3-1h0m0 0h0m-1 1h0m-1 0h0m-1-1h0m-1 1h0m0 1h0m0 0h0m0-2h0m-2 1h0m0 0h0m0-1h0m-1 1h0m0-1h0m-1 2h0m0-2h0m-1 2h0m0-1h0m0-1h0m-1 1h0m0-1h0m3 5h0m1 0h0m1-2h0m0 1h0m0 0h0m1-1h0m1 1h0m1-1h0m1 2h0m0 0h0m0-2h0m1 1h0m1 1h0m0-2h0m1 2h0m0-1h0m1 0h0m0-1h0m2 0h0m-3 3h0m0 0h0m-1 1h0m0 0h0m-1 0h0m0 1h0m-1-1h0" stroke="#4e72c8" stroke-width="2.3" stroke-linecap="round" transform="scale(0.5)"/>
<path d="M381 89h0m0 0h0m0-1h0m0 1h0m0 0h0m-1 0h0m-1-1h0m0 0h0m0 1h0m-4 3h0m2-1h0m0-1h0m0 2h0m2-2h0m0 1h0m0-1h0m0 1h0m0-1h0m0 1h0m0 0h0m0-1h0m0 1h0m0-1h0m0 1h0m0-1h0m1 1h0m0-1h0m0 1h0m0 0h0m0-1h0m0 0h0m0 2h0m0 0h0m0 0h0m1-1h0m0 0h0m0-1h0m0 0h0m1 0h0m0 1h0m0 1h0m1-1h0m0-1h0m0 1h0m0 0h0m0 0h0m0 1h0m0 0h0m3 3h0m0 0h0m-1 0h0m-1-1h0m0 1h0m0-2h0m-1 2h0m-1-1h0m-1-1h0m-2 2h0m0 0h0m0-1h0m-1-1h0m0 1h0m0 0h0m0 0h0m0 1h0m-1-2h0m0 2h0m0 0h0m0 0h0m-1-2h0m-1 0h0m0 0h0m0 1h0m0 0h0m-1 0h0m-1 1h0m-1-1h0m0 0h0m0 0h0m-4 4h0m1 0h0m1 0h0m0 0h0m1-1h0m1 1h0m1-1h0m0 0h0m1 0h0m0 0h0m0-1h0m0 1h0m0 1h0m0 0h0m1-2h0m0 0h0m0 0h0m0 1h0m1-1h0m0 0h0m0 2h0m0 0h0m1-2h0m0 0h0m0 0h0m0 1h0m0 1h0m0 0h0m0 0h0m0 0h0m1-1h0m0-1h0m0 0h0m0 2h0m0 0h0m1-1h0m1-1h0m0 1h0m0-1h0m0 0h0m0 1h0m1-1h0m0 2h0m1-2h0m0 0h0m0 2h0m0 0h0m0 0h0m0 0h0m1-1h0m0-1h0m0 2h0m1-1h0m0 0h0m1 1h0m0 0h0m1 0h0m2 0h0m0 2h0m-1-1h0m0 0h0m0 2h0m-1 0h0m0-2h0m0 1h0m0 1h0m-1-2h0m0 0h0m0 0h0m0 2h0m0 0h0m-1-2h0m-1 1h0m0 1h0m-1 0h0m0-1h0m0 1h0m-1-2h0m0 0h0m0 2h0m0 0h0m0-1h0m-1 0h0m0-1h0m-1 0h0m0 2h0m0 0h0m0 0h0m0-1h0m0 0h0m0 1h0m-1-2h0m0 0h0m0 1h0m0 0h0m0 0h0m-1-1h0m0 0h0m0 0h0m0 0h0m0 2h0m0-1h0m0 1h0m0-1h0m0 0h0m0 0h0m0 0h0m-1-1h0m0 1h0m-1-1h0m0 0h0m0 1h0m-2-1h0m0 1h0m-1 0h0m-1-1h0m0 0h0m0 1h0m0 1h0m0 0h0m-1-1h0m0 0h0m0-1h0m0 1h0m-1 1h0m0-1h0m0 1h0m-1-2h0m0 1h0m0 0h0m0 0h0m-2 3h0m0-1h0m0 0h0m0 2h0m0 0h0m0 0h0m1 0h0m0 0h0m1 0h0m1-2h0m0 2h0m0 0h0m1 0h0m0 0h0m1 0h0m0-1h0m0 0h0m0 0h0m0 0h0m0 0h0m1 1h0m0-2h0m0 2h0m0-1h0m0 0h0m0-1h0m0 0h0m1 2h0m0-1h0m0 0h0m1 1h0m0-1h0m0-1h0m0 0h0m0 1h0m1 0h0m0-1h0m1 2h0m0-2h0m0 1h0m0-1h0m0 0h0m1 2h0m0 0h0m0 0h0m0 0h0m0 0h0m0-1h0m0-1h0m0 1h0m0-1h0m0 0h0m0 0h0m0 1h0m1 1h0m0 0h0m0-1h0m0-1h0m0 1h0m1 1h0m0 0h0m0 0h0m0 0h0m0-1h0m0 0h0m1-1h0m0 0h0m0 0h0m0 1h0m1 0h0m0-1h0m1 2h0m0 0h0m0-1h0m0 0h0m1 1h0m0-2h0m1 1h0m0 0h0m1-1h0m0 0h0m0 1h0m0 1h0m1-1h0m0 1h0m1-2h0m0 1h0m0 0h0m0-1h0m0 2h0m0 0h0m0 0h0m0 0h0m1-1h0m-1 3h0m0 1h0m0-2h0m0 0h0m-1 0h0m0 1h0m-1 0h0m0 0h0m0 1h0m0-1h0m0-1h0m0 0h0m-1 2h0m0-2h0m0 1h0m-1 0h0m0 0h0m0-1h0m-1 1h0m0 1h0m-1 0h0m0 0h0m0-2h0m0 0h0m0 0h0m-1 2h0m0-2h0m0 1h0m0 1h0m0-1h0m-1 0h0m0 0h0m-1 0h0m0-1h0m-1 1h0m0 1h0m0 0h0m0 0h0m0-1h0m-1 0h0m0 0h0m0-1h0m0 0h0m-1 1h0m-1 0h0m0 0h0m-1 1h0m0-2h0m-1 1h0m0 1h0m0-1h0m0-1h0m-1 2h0m0 0h0m0-1h0m0-1h0m0 0h0m-1 0h0m0 0h0m0 2h0m-1-2h0m0 0h0m-1 0h0m0 0h0m0 0h0m-2 0h0m3 4h0m1 0h0m0 0h0m0 0h0m0 1h0m0-1h0m1 1h0m0 0h0m0-2h0m1 1h0m0-1h0m0 0h0m1 2h0m0 0h0m0-1h0m0 0h0m0 0h0m1-1h0m0 1h0m0 0h0m0-1h0m1 1h0m0-1h0m1 2h0m0-2h0m0 1h0m0 0h0m1 1h0m0-2h0m0 0h0m0 0h0m1 2h0m0-1h0m0-1h0m0 1h0m1-1h0m0 0h0m1 2h0m0-1h0m1 1h0m0-1h0m0 0h0m0 0h0m0 0h0m1 1h0m0 0h0m0 0h0m0 0h0m0-1h0m0-1h0m0 1h0m0-1h0m1 2h0m1 0h0m1 0h0m0-1h0m0-1h0m0 1h0m0-1h0m0 1h0m0-1h0m1 2h0m0-2h0m1 0h0m0 1h0m1-1h0m-1 3h0m-1 2h0m0-2h0m-1 1h0m0-1h0m-1 2h0m0-1h0m0 1h0m0-2h0m-1 2h0m0 0h0m0 0h0m-1 0h0m-1 0h0m0-1h0m0-1h0m-1 1h0m0-1h0m0 0h0m0 0h0m0 0h0m0 0h0m-2 2h0m0-2h0m0 0h0m0 0h0m0 0h0m-1 2h0m0-1h0m-1 0h0m0-1h0m-1 2h0m0 0h0m0-1h0m0-1h0m-1 1h0m0 0h0m0 1h0m0-2h0m0 0h0m-1 2h0m0 0h0m0-1h0m0 1h0m0-2h0m-1 1h0m0 0h0m0 0h0m0 0h0m-1 0h0m0 0h0m0 0h0m0 1h0m0 0h0m1 2h0m1 1h0m0-2h0m1 0h0m1 2h0m0 0h0m0 0h0m0-1h0m1 0h0m0-1h0m1 0h0m0 1h0m0 0h0m0 0h0m0-1h0m1 2h0m0-2h0m0 1h0m1 1h0m0 0h0m0-1h0m0 0h0m0-1h0m0 0h0m1 0h0m1 1h0m2-1h0m0 1h0m1-1h0m-2 5h0m0-1h0m-1 0h0m0 1h0m0 0h0m0-2h0m-1 1h0m0 0h0m0 1h0m0-2h0m0 0h0m-1 1h0m0 1h0m0-2h0m0 0h0m-1 1h0m0 1h0m0-1h0m0-1h0m-1 1h0m0 0h0m0 0h0m0-1h0m-1 2h0m0-1h0m0 1h0m0-2h0m-1 1h0m-1 0h0m0 0h0m0-1h0m2 4h0m2-1h0m0 0h0m1 0h0m0 1h0m0-1h0m1 0h0m7 23h0m-3 0h0m-9 0h0m-1 0h0m0 0h0m-2 0h0m-9 0h0m-12 3h0m1 0h0m3-1h0m0 0h0m0 1h0m0 0h0m1-2h0m1 1h0m0 0h0m0 0h0m0 0h0m0 0h0m1 0h0m0 1h0m0 0h0m1-2h0m0 0h0m0 1h0m1 0h0m1-1h0m1 1h0m0-1h0m0 1h0m1-1h0m0 1h0m26-1h0m0 0h0m0 0h0m0 0h0m0 1h0m1-1h0m0 1h0m0-1h0m0 1h0m0 0h0m0 0h0m0 0h0m1-1h0m0 0h0m1 0h0m1 1h0m0-1h0m37 5h0m-2 0h0m0 0h0m0-1h0m-1 0h0m0 0h0m0 0h0m-1 0h0m-2 0h0m0 1h0m-1 0h0m0-1h0m0 0h0m0 0h0m0 0h0m0 0h0m0 0h0m-1 1h0m-1 0h0m0 0h0m-1-1h0m-2 0h0m0 0h0m0 1h0m0 0h0m-2-1h0m0 1h0m-1 0h0m-1 0h0m-1-1h0m0 1h0m0 0h0m-1-1h0m-1 0h0m-1 0h0m0 1h0m0 0h0m-14-2h0m0 0h0m-1 0h0m0 0h0m-2 0h0m0 2h0m0-1h0m-1 1h0m0-2h0m0 0h0m0 0h0m0 0h0m-1 0h0m0 0h0m-34 0h0m-1 0h0m0 0h0m0 0h0m-1 0h0m0 1h0m-1 1h0m0 0h0m-1-1h0m0 0h0m0 1h0m0 0h0m-1 0h0m-1-2h0m0 0h0m0 0h0m0 2h0m0-1h0m0 1h0m-1-1h0m0 1h0m-3 2h0m0 1h0m0 0h0m1-2h0m0 0h0m0 1h0m0 1h0m1-2h0m1 0h0m0 0h0m0 1h0m1 0h0m0 0h0m1-1h0m1 1h0m0-1h0m0 1h0m1 0h0m38 0h0m1 0h0m1-1h0m0 2h0m1-1h0m0-1h0m0 0h0m0 2h0m1-2h0m0 2h0m11 0h0m0 0h0m0 0h0m1 0h0m1 0h0m1-2h0m0 1h0m1 0h0m0 1h0m1-1h0m0 0h0m0-1h0m0 0h0m0 0h0m0 0h0m0 2h0m0 0h0m0 0h0m1-2h0m0 1h0m0-1h0m0 0h0m0 0h0m0 2h0m0 0h0m0 0h0m1-1h0m0 0h0m0 0h0m0 0h0m1 0h0m0-1h0m1 0h0m0 0h0m0 2h0m1-1h0m0 1h0m0 0h0m1-1h0m0-1h0m0 1h0m0-1h0m0 0h0m1 1h0m0 1h0m1 0h0m1-2h0m1 1h0m0-1h0m0 1h0m0 1h0m1-1h0m1 0h0m0-1h0m0 0h0m0 0h0m1 1h0m0 0h0m0-1h0m0 2h0m1-1h0m0 0h0m0 0h0m0-1h0m0 1h0m0 1h0m0 0h0m1-2h0m0 1h0m0-1h0m0 0h0m0 2h0m0 0h0m1-1h0m0 1h0m0-1h0m0-1h0m0 2h0m1-2h0m0 1h0m0 1h0m0 0h0m1-2h0m0 1h0m0 2h0m0 2h0m-1-2h0m0 0h0m0 2h0m-1-2h0m-1 0h0m0 2h0m0 0h0m-1-2h0m0 0h0m0 1h0m0 0h0m-1 0h0m0 0h0m-1-1h0m0 1h0m0-1h0m-1 0h0m0 0h0m0 0h0m0 2h0m0-1h0m0 1h0m-1 0h0m0-1h0m0 0h0m-1-1h0m0 1h0m0 1h0m0-1h0m-1-1h0m0 2h0m0 0h0m0-1h0m0 1h0m-1-1h0m0 0h0m0 0h0m0 0h0m-1-1h0m0 0h0m0 2h0m0-1h0m-1 0h0m0 1h0m0-1h0m-1-1h0m0 0h0m0 2h0m0 0h0m0 0h0m-1-2h0m0 1h0m-1 1h0m-1-2h0m0 2h0m0 0h0m-1-2h0m0 2h0m0-1h0m0 0h0m-1-1h0m0 0h0m0 2h0m0 0h0m0 0h0m-1-2h0m0 2h0m0 0h0m0-1h0m-1-1h0m0 2h0m-1-1h0m0 1h0m0-2h0m-1 0h0m-1 2h0m-10 0h0m-1-1h0m-1 0h0m0 1h0m-40 0h0m0-1h0m0 0h0m0-1h0m-1 1h0m0 1h0m-1 0h0m-1-2h0m-2 0h0m0 0h0m-1 2h0m0-1h0m0-1h0m-1 1h0m0-1h0m0 0h0m-1 0h0m3 4h0m1-1h0m2 2h0m0-1h0m0 0h0m0-1h0m1 0h0m0 1h0m0 0h0m1-1h0m38 1h0m1-1h0m2 2h0m0-1h0m0-1h0m11 2h0m0-2h0m1 2h0m0-2h0m0 1h0m0 0h0m0-1h0m0 1h0m1 1h0m0-1h0m0 0h0m0-1h0m0 0h0m1 2h0m0-1h0m0 0h0m1 0h0m0 0h0m1 1h0m0-1h0m0-1h0m0 1h0m0 0h0m0-1h0m1 0h0m0 2h0m0 0h0m0-1h0m0-1h0m1 2h0m0-1h0m0-1h0m0 0h0m0 0h0m1 2h0m0-1h0m0 1h0m0 0h0m1-2h0m0 0h0m1 1h0m0 1h0m1-1h0m0 0h0m1-1h0m0 0h0m0 2h0m1-2h0m0 0h0m0 2h0m1 0h0m0-2h0m0 0h0m0 2h0m1 0h0m0 0h0m0-1h0m0 0h0m0-1h0m1 1h0m0 1h0m0-1h0m1 0h0m0-1h0m0 0h0m0 0h0m0 0h0m0 0h0m0 0h0m1 0h0m0 1h0m1-1h0m0 2h0m1-2h0m0 2h0m1-1h0m0 0h0m0 0h0m2-1h0m0 1h0m0 0h0m0 1h0m0 0h0m0 0h0m0 0h0m1 0h0m1 0h0m1 0h0m0 0h0m-1 3h0m0 0h0m0 0h0m0 0h0m-1-1h0m0 1h0m-1-2h0m0 0h0m0 0h0m0 1h0m0 1h0m-1-1h0m-1 1h0m0 0h0m0-1h0m0 0h0m0 1h0m0 0h0m0 0h0m0-1h0m-1-1h0m0 1h0m0 1h0m0-1h0m-1 1h0m0 0h0m-1-2h0m-1 2h0m0 0h0m0 0h0m0-2h0m0 0h0m-1 1h0m0 0h0m-1 0h0m0 1h0m0 0h0m0-2h0m0 0h0m-1 2h0m0-1h0m0-1h0m-1 2h0m0-1h0m0 0h0m0-1h0m-1 0h0m0 1h0m0 0h0m0-1h0m-1 1h0m0 1h0m0-1h0m0 0h0m0 1h0m0-2h0m0 0h0m0 0h0m-1 1h0m0 0h0m0 1h0m0 0h0m0 0h0m0 0h0m0-1h0m-1 0h0m0 0h0m0-1h0m-1 0h0m0 0h0m0 1h0m-1 1h0m0 0h0m-1-2h0m-1 2h0m0-1h0m0-1h0m0 0h0m0 0h0m-1 2h0m0 0h0m0-1h0m0 0h0m0 0h0m-1 1h0m0-2h0m0 0h0m-1 0h0m0 0h0m-1 0h0m-10 1h0m-1-1h0m0 0h0m-2 2h0m-1 0h0m0 0h0m0-2h0m0 0h0m-1 2h0m0 0h0m-39-1h0m0 1h0m0 0h0m0-1h0m-1-1h0m-1 2h0m-1-1h0m0 0h0m0-1h0m-1 0h0m-1 0h0m3 4h0m0-1h0m0 0h0m1 1h0m0-1h0m0 1h0m0-1h0m0 0h0m1 2h0m2 0h0m0-2h0m0 1h0m1 0h0m0 0h0m36 1h0m1-2h0m0 1h0m1 1h0m0-2h0m0 1h0m0-1h0m1 2h0m0-2h0m0 1h0m1-1h0m0 1h0m0 0h0m1-1h0m0 1h0m0 0h0m1-1h0m0 0h0m10 0h0m1 1h0m0 0h0m0 0h0m1 1h0m0 0h0m0-2h0m0 1h0m1 1h0m0 0h0m0 0h0m0-2h0m1 1h0m0 0h0m1 1h0m0-1h0m0-1h0m1 2h0m0 0h0m0 0h0m0-2h0m0 1h0m1-1h0m0 1h0m1 0h0m0 0h0m0-1h0m1 2h0m0 0h0m0-2h0m0 0h0m1 1h0m1 1h0m0 0h0m0-2h0m0 0h0m1 2h0m0-1h0m1 1h0m1 0h0m0 0h0m0-1h0m0-1h0m1 2h0m0-2h0m0 1h0m1 1h0m0-2h0m1 2h0m0 0h0m0 0h0m0-1h0m0 0h0m1 1h0m0-2h0m0 1h0m0 0h0m0-1h0m0 0h0m1 2h0m0-2h0m0 0h0m0 0h0m0 1h0m0-1h0m1 0h0m0 1h0m1 1h0m0 0h0m0 0h0m0-1h0m0-1h0m0 1h0m1-1h0m0 0h0m0 1h0m0 1h0m1-1h0m1 0h0m-2 3h0m-1 0h0m0 1h0m0 0h0m0 0h0m0-2h0m-1 2h0m0 0h0m0-2h0m0 2h0m-1 0h0m0 0h0m0-2h0m0 0h0m-1 1h0m-1-1h0m-1 2h0m0-1h0m0-1h0m-1 2h0m0-1h0m-1 0h0m0 1h0m0-1h0m0-1h0m0 0h0m0 0h0m0 0h0m-1 1h0m0 0h0m0 0h0m-1-1h0m-1 2h0m-1-2h0m0 0h0m-1 2h0m0-2h0m-1 2h0m0-1h0m0 0h0m0 0h0m0 0h0m0 0h0m0-1h0m0 0h0m0 0h0m-1 2h0m0 0h0m0-1h0m0 0h0m0-1h0m0 0h0m0 0h0m-1 2h0m0-2h0m0 0h0m-1 1h0m0-1h0m0 0h0m-1 0h0m0 1h0m0 0h0m0-1h0m-1 2h0m0-2h0m-1 1h0m0 1h0m0-2h0m-1 0h0m0 0h0m0 0h0m-13 2h0m0-2h0m0 0h0m-1 2h0m0-1h0m-1 1h0m0-1h0m0-1h0m-1 2h0m0-1h0m0 1h0m0-2h0m0 0h0m-1 2h0m0-1h0m0 0h0m0-1h0m-1 2h0m0 0h0m0-2h0m0 0h0m-1 2h0m-34-1h0m0 0h0m-1-1h0m0 0h0m0 0h0m-2 2h0m0-1h0m0-1h0m-2 2h0m0 0h0m0-2h0m1 5h0m0 0h0m2 0h0m1-1h0m0 0h0m1-1h0m1 0h0m31 0h0m1 0h0m0 1h0m1 1h0m0 0h0m1 0h0m0-2h0m0 1h0m1 0h0m0 1h0m0-2h0m2 0h0m0 0h0m0 0h0m1 0h0m18 2h0m0-1h0m0 0h0m1 1h0m0-1h0m1-1h0m0 0h0m1 2h0m0-2h0m0 0h0m1 2h0m0-2h0m0 0h0m0 1h0m0-1h0m0 1h0m1 0h0m0 0h0m1 1h0m0 0h0m1 0h0m0-1h0m1 1h0m0-1h0m0 0h0m1-1h0m0 0h0m1 2h0m1 0h0m0-1h0m0-1h0m1 1h0m1-1h0m0 0h0m0 0h0m0 0h0m0 1h0m1 0h0m1-1h0m-5 3h0m-1 0h0m-1 0h0m-2 0h0m-3 0h0m0 0h0m-2 0h0m-1 0h0m-22 2h0m0-1h0m-1 0h0m0-1h0m0 0h0m-1 1h0m0 0h0m0 0h0m0-1h0m-1 2h0m-1-1h0m0 0h0m0 0h0m0-1h0m-1 1h0m0 0h0m0-1h0m0 1h0m-1 1h0m-1 0h0m-26 0h0m0 0h0m0-1h0m-1 0h0m0 0h0m0 0h0m-1 1h0m-2-1h0m0 1h0m0 3h0m0-2h0m2 2h0m0-1h0m0-1h0m0 1h0m0 0h0m0 0h0m1 1h0m0 0h0m0-2h0m0 0h0m1 2h0m0 0h0m0 0h0m1 0h0m1 0h0m0 0h0m21 0h0m1-2h0m1 2h0m0-2h0m0 1h0m1 0h0m1 0h0m0-1h0m1 2h0m0-2h0m1 1h0m0 0h0m1-1h0m0 0h0m0 0h0m1 2h0m1 0h0m1-2h0m0 0h0m-2 3h0m-1 1h0m-1 1h0m0-1h0m0-1h0m0 0h0m-1 1h0m0 1h0m0 0h0m0 0h0m-1-1h0m0-1h0m-1 0h0m-1 1h0m-1 0h0m-1 0h0m-2 1h0m-1 0h0m-14-1h0m-1 1h0m-1-1h0m-1-1h0m-1 2h0m0-1h0m0-1h0m-2 2h0m-1-1h0m0-1h0m-1 0h0m0 3h0m0 0h0m0 0h0m2 1h0m0-1h0m0 2h0m0 0h0m0 0h0m1 0h0m0-2h0m0 0h0m0 1h0m0 0h0m1 1h0m1-2h0m1 2h0m0-2h0m1 2h0m0 0h0m0-1h0m1 0h0m0 0h0m1 1h0m0 0h0m0-2h0m2 2h0m7 0h0m1 0h0m1 0h0m2-2h0m1 0h0m2 2h0m0-2h0m1 2h0m0 0h0m0 0h0m0-2h0m0 1h0m1 1h0m1-1h0m0 0h0m0 0h0m0-1h0m1 0h0m2 1h0m0 0h0m-3 2h0m0 0h0m0 1h0m-1 1h0m0-2h0m0 0h0m-1 0h0m0 2h0m0-1h0m-1 1h0m0 0h0m0-1h0m0 0h0m-1 1h0m0-2h0m0 0h0m-1 1h0m0-1h0m-1 0h0m0 0h0m-1 1h0m-1 1h0m0-2h0m0 0h0m-1 2h0m0-2h0m0 0h0m-1 2h0m0-2h0m0 0h0m-1 1h0m0 1h0m-1 0h0m-1-1h0m0 1h0m0-1h0m0 1h0m0 0h0m-1-1h0m0 1h0m-1 0h0m-1 0h0m-1-1h0m0-1h0m-1 1h0m0 1h0m0-2h0m0 0h0m0 0h0m0 0h0m-1 2h0m0 0h0m0-2h0m-2 1h0m0 0h0m0-1h0m-1 1h0m-1 1h0m-1-2h0m0 0h0m2 4h0m3-1h0m0 1h0m1-1h0m1 0h0m0 0h0m1 0h0m1 0h0m0 1h0m1-1h0m1 2h0m0 0h0m1-2h0m1 2h0m0-2h0m0 1h0m0-1h0m1 1h0m2 0h0m2 1h0m1-1h0m0-1h0m0 1h0m1-1h0m0 1h0m1-1h0m0 1h0m-3 4h0m0-2h0m-1 2h0m0-1h0m0 1h0m0 0h0m0-1h0m0-1h0m0 0h0m-1 1h0m0 1h0m-1-1h0m0 1h0m0-2h0m-2 0h0m0 0h0m-2 2h0m0 0h0m0-2h0m0 0h0m-1 0h0m-1 1h0m-1 0h0m0 1h0m-1-2h0m0 0h0m-1 0h0m-1 0h0m6 3h0m0 0h0m1 1h0m0 0h0m0-1h0m1 2h0m0 0h0m0 0h0m0 0h0m0-2h0m2 2h0m0-1h0m0 0h0m0 0h0m0 0h0m1-1h0m1 1h0m0-1h0m0 0h0m1 2h0m1 0h0m0-2h0m0 0h0m0 3h0m-1 1h0m-2 0h0m0-1h0m0 0h0m-1 1h0m0-1h0" stroke="#3c7ccc" stroke-width="2.6" stroke-linecap="round" transform="scale(0.5)"/>
<path d="M358 146h0m0 0h0m1 0h0m0 0h0m1 0h0m1 0h0m0 0h0m1 0h0m3-2h0m0 1h0m0 0h0m0-1h0m0 0h0m1 1h0m0 0h0m0-1h0m0 1h0m1 0h0m0-1h0m0 1h0m0 0h0m1-1h0m0 0h0m0 1h0m0-1h0m0 1h0m1 0h0m0 0h0m0-1h0m0 1h0m0 0h0m0 0h0m0-1h0m1 1h0m0-1h0m0 0h0m0 1h0m0 0h0m0-1h0m1 0h0m0 0h0m0 1h0m0-1h0m1 1h0m0 0h0m0-1h0m0 1h0m1 0h0m0-1h0m0 1h0m0 0h0m0 0h0m1 0h0m0-1h0m0 0h0m0 1h0m0 0h0m0-1h0m0 1h0m1-1h0m1 1h0m0 0h0m0-1h0m0 0h0m0 1h0m0 0h0m1-1h0m0 0h0m0 1h0m0 0h0m0 0h0m1 0h0m0 0h0m0 0h0m0-1h0m0 1h0m1-1h0m0 0h0m0 0h0m0 1h0m1-1h0m0 1h0m1 0h0m0-1h0m0 0h0m0 0h0m1 0h0m0 0h0m0 0h0m0 1h0m1-1h0m0 1h0m0 0h0m0-1h0m1 1h0m0 0h0m0 0h0m1-1h0m0 1h0m0 0h0m0-1h0m1 0h0m0 1h0m0 0h0m0 0h0m0 0h0m0 1h0m0 0h0m0 0h0m1-2h0m0 1h0m0-1h0m0 2h0m1-1h0m0-1h0m0 0h0m1 2h0m0 0h0m0 0h0m3 2h0m-2 0h0m0-1h0m0 2h0m0 0h0m0-1h0m-1-1h0m0 0h0m0 2h0m0-1h0m-1-1h0m0 1h0m-25-1h0m-2 0h0m0 0h0m0 2h0m0-1h0m-1 1h0m0 0h0m0-1h0m0 1h0m0-1h0m0 0h0m-1 0h0m0 0h0m0 1h0m-1-1h0m-1 0h0m0 1h0m-1-1h0m0 1h0m-2 1h0m0 0h0m0 2h0m0 0h0m1-1h0m0 0h0m0 1h0m1-1h0m0-1h0m0 2h0m1-1h0m0-1h0m0 0h0m0 1h0m0 0h0m0 1h0m0 0h0m1-1h0m0 0h0m0 0h0m1 0h0m0-1h0m0 0h0m0 1h0m0 1h0m1-1h0m0 1h0m0 0h0m31-1h0m0 0h0m0-1h0m0 0h0m0 2h0m1 0h0m2 2h0m-1 0h0m0 0h0m-1 1h0m0 0h0m-1-1h0m0 1h0m-1 0h0m0 0h0m0-1h0m-30-1h0m-1 2h0m0-1h0m0-1h0m-1 1h0m-1 1h0m0 0h0m0 0h0m0-2h0m-1 1h0m0-1h0m0 0h0m-1 1h0m0 1h0m0-1h0m0 1h0m0-1h0m-1 0h0m1 4h0m0-2h0m1 1h0m1 1h0m0-2h0m0 1h0m1 1h0m0-2h0m0 0h0m0 0h0m0 1h0m1-1h0m0 1h0m0-1h0m0 0h0m0 0h0m29 2h0m0 0h0m1 0h0m0 0h0m0 0h0m0 0h0m1 0h0m0-2h0m1 2h0m0-1h0m0-1h0m0 1h0m0-1h0m0 5h0m0-1h0m0-1h0m0 0h0m-1 1h0m0-1h0m0 0h0m0 0h0m0 0h0m0 0h0m-1 0h0m-29 1h0m-1 0h0m-1 1h0m0-2h0m0 2h0m-1-1h0m0 1h0m0 0h0m0 0h0m0 0h0m0-2h0m-1 1h0m0 0h0m0-1h0m0 0h0m-1 2h0m0 0h0m0 0h0m0-1h0m0 0h0m0 0h0m0-1h0m-1 1h0m2 2h0m1 1h0m0-1h0m1 2h0m0-1h0m0-1h0m0 0h0m1 1h0m0-1h0m0 0h0m0 1h0m0 0h0m1-1h0m0 2h0m1 0h0m0 0h0m0 0h0m0 0h0m23 0h0m1 0h0m1 0h0m0 0h0m0-1h0m0 0h0m1 1h0m0-1h0m0 0h0m1 1h0m0-2h0m0 0h0m0 1h0m0 1h0m0-2h0m1 2h0m0-2h0m0 0h0m0 0h0m0 0h0m1 0h0m0 4h0m-1 1h0m0 0h0m0-1h0m-1 0h0m0-1h0m-1 2h0m0-2h0m0 0h0m0 0h0m0 0h0m-1 1h0m0 0h0m-1 1h0m0-1h0m0 0h0m0-1h0m-23 1h0m-1 1h0m0-1h0m0-1h0m-1 2h0m0 0h0m0 0h0m-1-2h0m-1 2h0m0-2h0m-1 2h0m0 0h0m0-1h0m0 1h0m0-1h0m0 0h0m0 0h0m1 4h0m0-2h0m0 1h0m1 1h0m0-1h0m0 0h0m0-1h0m0 1h0m0 0h0m0-1h0m1 0h0m1 2h0m0-2h0m0 0h0m0 0h0m0 0h0m1 2h0m0 0h0m0-1h0m0 1h0m18 0h0m0 0h0m1 0h0m1-2h0m0 2h0m1 0h0m0 0h0m0 0h0m0-1h0m0-1h0m0 0h0m0 1h0m1-1h0m1 2h0m0-2h0m0 0h0m1 0h0m0 1h0m2 0h0m-4 4h0m-1-1h0m0-1h0m0 0h0m-1 2h0m0-1h0m0-1h0m0 0h0m-1 0h0m0 0h0m0 0h0m-1 1h0m0 0h0m0-1h0m-1 1h0m0 0h0m0 1h0m0 0h0m-1 0h0m0-1h0m-11 1h0m0 0h0m-1-1h0m0 0h0m-1 0h0m-1 0h0m0 1h0m0 0h0m-1-1h0m0 0h0m0 0h0m0-1h0m0 0h0m-1 1h0m0 0h0m0 1h0m0-2h0m0 0h0m0 1h0m0 1h0m0-1h0m-1 0h0m0-1h0m0 0h0m-1 1h0m0-1h0m0 0h0m0 1h0m0 1h0m-1-1h0m-1 1h0m3 1h0m0 1h0m0 0h0m0 0h0m1-1h0m0 1h0m2 1h0m0-1h0m0-1h0m0 1h0m1 1h0m1 0h0m0 0h0m0 0h0m0-1h0m0 0h0m1 1h0m0 0h0m0 0h0m1 0h0m0-2h0m1 2h0m0-2h0m1 2h0m0-2h0m0 1h0m1 0h0m1 1h0m1 0h0m0 0h0m1 0h0m1 0h0m0-2h0m1 2h0m0 0h0m0-1h0m0-1h0m0 1h0m0 0h0m0-1h0m1 1h0m0-1h0m0 1h0m0 0h0m1 1h0m0-2h0m0 0h0m1 1h0m0-1h0m0 1h0m1 1h0m0 0h0m0-2h0m0 1h0m1 0h0m0 0h0m0-1h0m0 0h0m-3 4h0m0-1h0m-1 1h0m0-1h0m-1 1h0m0-1h0m0 2h0m0 0h0m0-1h0m-1 0h0m0 1h0m0 0h0m0-2h0m-1 1h0m0 1h0m0 0h0m0-1h0m0-1h0m0 0h0m-1 2h0m0-1h0m0 1h0m0 0h0m0-1h0m0 0h0m0-1h0m-1 0h0m-1 1h0m0 0h0m0 1h0m-1-1h0m0 0h0m0 0h0m0 1h0m-1-1h0m0 0h0m0-1h0m0 0h0m-1 0h0m0 0h0m0 0h0m0 1h0m0-1h0m-1 1h0m0 0h0m0 0h0m-1 0h0m0-1h0m0 0h0m-1 2h0m0 0h0m0-2h0m-1 0h0m-1 0h0m-1 0h0m5 3h0m1 2h0m0-2h0m0 0h0m0 1h0m0 0h0m0-1h0m1 0h0m0 0h0m0 1h0m0-1h0m1 0h0m0 0h0m0 0h0m1 2h0m0 0h0m0 0h0m0-1h0m0 0h0m0 0h0m0 0h0m1-1h0m0 0h0m1 0h0m0 0h0m0 0h0m1 0h0m0 1h0m0 0h0m0 0h0m1-1h0m0 0h0m1 1h0m0-1h0m0 1h0m1 0h0m0-1h0m0 0h0m0 0h0m1 1h0m-5 2h0m-1 0h0m0 0h0m-1 0h0m0 0h0m-2 0h0" stroke="#3a9ad4" stroke-width="3" stroke-linecap="round" transform="scale(0.5)"/>
<path d="M364 146h0m0 0h0m1 0h0m1 0h0m0 0h0m1 0h0m0 0h0m0 0h0m0 0h0m1 0h0m1 0h0m1 0h0m0 0h0m0 0h0m2 0h0m0 0h0m2 0h0m0 0h0m1 0h0m0 0h0m1 0h0m0 0h0m0 0h0m0 0h0m1 0h0m1 0h0m2 0h0m0 0h0m1 0h0m1 0h0m0 0h0m1 0h0m0 0h0m0 0h0m1 0h0m0 0h0m2 0h0m0 0h0m2 3h0m0-1h0m0 0h0m-2 0h0m0 0h0m0 0h0m0 0h0m0 1h0m0-1h0m0 1h0m-1-2h0m0 0h0m0 0h0m0 0h0m0 0h0m0 2h0m-1-2h0m0 0h0m0 0h0m0 1h0m0 1h0m-1-2h0m0 0h0m0 0h0m0 2h0m0-1h0m0 1h0m0-1h0m-1-1h0m0 0h0m0 0h0m0 1h0m-1-1h0m-2 0h0m0 0h0m-1 0h0m-1 0h0m0 0h0m0 0h0m0 0h0m-1 0h0m0 0h0m0 0h0m0 0h0m-1 0h0m-1 0h0m0 0h0m0 0h0m-1 0h0m0 0h0m-1 0h0m-1 0h0m0 0h0m0 0h0m0 0h0m-1 0h0m0 0h0m-1 0h0m0 0h0m0 0h0m0 0h0m-2 0h0m-1 0h0m0 0h0m0 0h0m0 1h0m0 0h0m0 0h0m-1-1h0m0 0h0m0 1h0m0 0h0m0 1h0m0-1h0m0 1h0m0 0h0m0-1h0m-1-1h0m0 2h0m0 0h0m0 0h0m0 0h0m-1 0h0m0-1h0m0 0h0m-3 3h0m0 1h0m0 0h0m1-2h0m0 0h0m0 1h0m0 1h0m0 0h0m0 0h0m1-1h0m0 1h0m0 0h0m0 0h0m1-1h0m0 0h0m0-1h0m0 1h0m23 0h0m0 1h0m0 0h0m1-1h0m0 0h0m0 0h0m0 0h0m0-1h0m0 2h0m0 0h0m1-1h0m0-1h0m0 1h0m0 1h0m0 0h0m1-1h0m0 0h0m0 0h0m0-1h0m0 2h0m0 0h0m0 0h0m0 0h0m1-1h0m-1 3h0m0 0h0m-1 0h0m0 1h0m0-1h0m0 0h0m0 1h0m0 0h0m0-1h0m-1 1h0m0 0h0m0 0h0m0 0h0m0-1h0m0-1h0m0 0h0m0 0h0m-1 2h0m0-1h0m0 1h0m0-2h0m-22 0h0m0 1h0m0 1h0m-1 0h0m-1-2h0m0 0h0m-1 0h0m0 0h0m-1 0h0m0 2h0m0-1h0m0 0h0m0 1h0m0 3h0m0-1h0m0 0h0m1 1h0m0-2h0m0 1h0m0 0h0m0-1h0m1 2h0m0-1h0m0-1h0m0 2h0m0-2h0m0 1h0m1 0h0m0 0h0m19 1h0m2 0h0m0 0h0m0-1h0m0 0h0m0-1h0m0 1h0m0 1h0m0 0h0m1-2h0m0 1h0m1 1h0m0-2h0m0 0h0m0 1h0m1 0h0m0 0h0m0 0h0m1 0h0m0 1h0m0 0h0m0 0h0m0-1h0m0-1h0m1 0h0m0 0h0m0 1h0m1 0h0m-3 3h0m0 1h0m-1-2h0m0 2h0m0-2h0m-1 2h0m0 0h0m0 0h0m0 0h0m0 0h0m0 0h0m0-2h0m0 0h0m-1 0h0m-2 0h0m0 2h0m0-1h0m-1 0h0m-1 1h0m-14-1h0m0 1h0m-1 0h0m0 0h0m0 0h0m0-1h0m-1 0h0m0 1h0m0 0h0m0-2h0m0 1h0m-1 0h0m0-1h0m0 0h0m-1 0h0m0 2h0m-1-1h0m0 1h0m0 0h0m0 0h0m0 0h0m0-2h0m0 0h0m0 0h0m0 0h0m-1 2h0m1 1h0m0 1h0m1 1h0m0-2h0m0 0h0m1 0h0m0 0h0m0 1h0m0-1h0m1 2h0m0-2h0m0 0h0m0 2h0m0-2h0m0 0h0m0 0h0m1 2h0m15-1h0m1-1h0m1 2h0m0 0h0m0-1h0m0-1h0m0 1h0m0 0h0m1 1h0m0 0h0m0 0h0m0-2h0m0 1h0m0 0h0m0-1h0m2 0h0m0 1h0m0-1h0m0 1h0m0 0h0m1-1h0m0 1h0m0-1h0m-2 4h0m0 1h0m0-2h0m-1 1h0m0 0h0m0 1h0m0 0h0m0-2h0m-1 0h0m0 0h0m0 1h0m-1 1h0m0-1h0m-1 1h0m0-1h0m0 0h0m0 0h0m0-1h0m0 1h0m0 0h0m-1 1h0m0-1h0m0 1h0m0 0h0m0 0h0m0 0h0m0-1h0m0 1h0m-1-1h0m0 1h0m-10-1h0m0 0h0m0 0h0m-1 0h0m0 1h0m-1-1h0m0 0h0m-1 0h0m0-1h0m0 0h0m-1 1h0m0 1h0m0-1h0m0 1h0m0-2h0m0 0h0m0 0h0m0 2h0m-1 0h0m0 0h0m0-1h0m0-1h0m-1 2h0m0-2h0m0 0h0m0 4h0m0 0h0m0 0h0m0 0h0m1 0h0m0 0h0m0-1h0m0 0h0m1 2h0m0-1h0m1 1h0m0-1h0m0 0h0m0-1h0m0 0h0m0 1h0m0-1h0m1 2h0m0-2h0m0 0h0m0 1h0m0-1h0m1 2h0m0 0h0m0-2h0m0 1h0m0-1h0m0 1h0m0-1h0m1 2h0m0-2h0m0 0h0m1 2h0m0 0h0m0 0h0m0-1h0m0 0h0m0 0h0m1 1h0m0-2h0m1 2h0m0 0h0m1 0h0m0 0h0m0 0h0m1 0h0m0 0h0m0 0h0m0 0h0m0 0h0m1 0h0m2 0h0m0-2h0m0 1h0m1 0h0m0-1h0m0 1h0m1 1h0m0 0h0m0-1h0m1 1h0m0-1h0m0 0h0m1 0h0m0 0h0m0 1h0m1-2h0m0 1h0m0 0h0m0 0h0m1 0h0m-2 2h0m-1 0h0m-2 2h0m0-1h0m0-1h0m-1 2h0m0 0h0m0 0h0m0-2h0m0 0h0m0 0h0m-1 2h0m0 0h0m0-2h0m0 0h0m0 0h0m-1 2h0m0 0h0m0-1h0m-1 1h0m0-1h0m0-1h0m0 0h0m-1 1h0m0 1h0m0-1h0m0 0h0m0 1h0m0-2h0m-2 1h0m-1-1h0m0 0h0m-1 1h0m0 1h0m0-2h0m-1 0h0m0 0h0m0 0h0m-1 0h0m0 0h0m-1 0h0m0 0h0m-1 0h0m8 3h0m0 0h0m1 0h0m0 1h0m0-1h0m1 0h0m0 0h0m0 0h0" stroke="#42b2c6" stroke-width="3.4" stroke-linecap="round" transform="scale(0.5)"/>
<path d="M382 148h0m0 0h0m-1 0h0m0 0h0m0 1h0m0 0h0m0-1h0m-1 1h0m0 0h0m-1-1h0m0 1h0m0-1h0m0 1h0m0-1h0m0 0h0m0 0h0m-1 1h0m0 0h0m-1-1h0m0 1h0m0 0h0m0 0h0m0-1h0m-1 1h0m0 0h0m-1 0h0m0 0h0m0 0h0m-1-1h0m0 0h0m-1 1h0m0-1h0m0 1h0m0-1h0m-1 1h0m0-1h0m0 0h0m0 1h0m0 0h0m-1-1h0m-1 0h0m0 1h0m0 0h0m-1 0h0m0-1h0m0 1h0m0 0h0m0 0h0m0 0h0m0 0h0m-1 0h0m0 0h0m0 0h0m0-1h0m0 1h0m0 0h0m0 0h0m-4 1h0m0 2h0m0 0h0m1-2h0m0 1h0m0-1h0m0 2h0m0 0h0m1-2h0m0 0h0m0 0h0m0 2h0m0-2h0m0 0h0m0 2h0m1-1h0m0-1h0m0 2h0m1 0h0m0 0h0m0 0h0m10-1h0m0 0h0m1 0h0m0-1h0m0 2h0m1 0h0m0 0h0m0-2h0m1 0h0m0 0h0m0 2h0m0 0h0m1-1h0m0 0h0m0 0h0m0-1h0m0 1h0m0-1h0m0 1h0m0 0h0m0 1h0m0 0h0m1-2h0m0 0h0m0 1h0m0 1h0m0 0h0m1-1h0m0 1h0m0 0h0m0-1h0m0 0h0m0 1h0m1-1h0m0 0h0m0 1h0m1-1h0m0 0h0m0-1h0m0 1h0m0 1h0m0 0h0m0 3h0m0-1h0m-1 0h0m0 1h0m0-1h0m0 1h0m-1 0h0m0 0h0m0-2h0m0 2h0m0-2h0m-1 1h0m0 0h0m0 1h0m0 0h0m0-2h0m-1 0h0m-1 1h0m0 0h0m0-1h0m0 0h0m-1 1h0m0 1h0m0-2h0m0 0h0m-1 2h0m0 0h0m0-1h0m0 0h0m-1 0h0m0-1h0m0 0h0m0 0h0m0 0h0m-10 1h0m0 1h0m0-1h0m-1-1h0m0 0h0m0 0h0m0 0h0m0 1h0m0 1h0m0-1h0m0 1h0m0-1h0m0 0h0m0 0h0m-1 1h0m0-1h0m0 0h0m0 0h0m-1-1h0m0 2h0m0 0h0m0 0h0m-1 0h0m0 3h0m1 0h0m1 0h0m0-2h0m0 0h0m0 0h0m0 1h0m0 0h0m1 1h0m0 0h0m0 0h0m0 0h0m0-2h0m0 0h0m0 1h0m0 0h0m1-1h0m0 1h0m9 1h0m1 0h0m0 0h0m0 0h0m0-2h0m1 0h0m0 1h0m0-1h0m0 1h0m0-1h0m1 1h0m0 0h0m0 1h0m1-1h0m0-1h0m1 0h0m0 0h0m0 0h0m0 1h0m0 0h0m0 1h0m1-2h0m0 1h0m0 0h0m0-1h0m0 1h0m0 0h0m1-1h0m0 1h0m0-1h0m-4 3h0m0 0h0m0 2h0m0 0h0m0 0h0m0-2h0m-1 1h0m0 1h0m0-1h0m0 0h0m0 0h0m0 1h0m0-1h0m0 0h0m0 0h0m0 0h0m0-1h0m0 0h0m-1 1h0m0 0h0m0 1h0m0-2h0m0 1h0m0 1h0m-1 0h0m0-2h0m0 0h0m-1 1h0m0 1h0m0-2h0m-8 1h0m0-1h0m-1 2h0m0 0h0m0 0h0m0 0h0m0 0h0m0-1h0m0-1h0m0 0h0m0 0h0m0 0h0m0 0h0m0 0h0m-1 1h0m0-1h0m-2 0h0m2 5h0m0-1h0m1-1h0m0 0h0m0 1h0m1 1h0m0-2h0m1 2h0m0 0h0m0 0h0m0 0h0m0-1h0m0 0h0m1 0h0m1 1h0m1 0h0m0 0h0m0 0h0m1 0h0m1 0h0m0 0h0m1 0h0m1 0h0m0-1h0m0 1h0m0 0h0m1 0h0m0 0h0m0 0h0m0-1h0m0 0h0m0 0h0m1-1h0m0 2h0m0-2h0m0 1h0m0-1h0m1 1h0m0 0h0m0-1h0m0 1h0m0-1h0m0 0h0m0 1h0m1 1h0m-2 3h0m0-1h0m0 1h0m-1 0h0m0 0h0m0-1h0m0 1h0m0-1h0m0 1h0m0 0h0m0-2h0m0 0h0m-1 1h0m0 0h0m0 1h0m0-1h0m0 0h0m0 1h0m0 0h0m0-2h0m0 0h0m-1 2h0m0-1h0m0 1h0m0-2h0m0 0h0m-1 1h0m0-1h0m-1 1h0m0 0h0m0-1h0m0 0h0m0 0h0m0 0h0m-1 2h0m0-1h0m0 0h0m0 0h0m0-1h0m-1 1h0m0 1h0m0 0h0m0 0h0m0-2h0m0 0h0m-1 1h0m0 0h0m0 1h0m0-1h0m-1 0h0m0 1h0m0-2h0m-1 0h0m0 1h0m0 0h0m0-1h0m-1 0h0m0 0h0m4 3h0m0 1h0m0 0h0m1-1h0m0 1h0m0 0h0m0 0h0m0 0h0m0 0h0m0 0h0m0-1h0m0 0h0m0 0h0m0 1h0m1-1h0m0 1h0m0-1h0m0 0h0m1 0h0m0 1h0m0 0h0m0 0h0m1-1h0m0 1h0m0 0h0m0 0h0m1 0h0m0-1h0" stroke="#64c29c" stroke-width="3.6" stroke-linecap="round" transform="scale(0.5)"/>
<path d="M369 150h0m0 1h0m0 1h0m0 0h0m1-1h0m0 0h0m0 1h0m0 0h0m0 0h0m1-2h0m0 0h0m0 1h0m0-1h0m0 1h0m0 0h0m0 1h0m1-1h0m0-1h0m0 2h0m1-2h0m0 0h0m0 0h0m0 2h0m1-2h0m0 1h0m0-1h0m0 1h0m0 0h0m0 0h0m0 0h0m0-1h0m0 1h0m1 0h0m0 0h0m0-1h0m0 0h0m0 1h0m0-1h0m0 0h0m0 2h0m1-2h0m0 1h0m0 1h0m0 0h0m0 0h0m0 0h0m1-2h0m0 1h0m0 1h0m0 0h0m0 0h0m1-1h0m0-1h0m0 0h0m0 0h0m0 2h0m0 2h0m0 0h0m0 0h0m0-1h0m-1 2h0m0 0h0m0 0h0m0 0h0m0-2h0m-1 2h0m0 0h0m0-2h0m0 0h0m0 2h0m0-1h0m-1-1h0m0 0h0m0 1h0m0 0h0m0 1h0m0 0h0m0-1h0m0 0h0m-1-1h0m0 0h0m0 1h0m0-1h0m0 0h0m0 2h0m0-1h0m0 1h0m-1-2h0m0 0h0m0 0h0m0 0h0m0 1h0m0 0h0m0 1h0m0-1h0m0 0h0m0 1h0m0-1h0m-1-1h0m0 0h0m0 2h0m0 0h0m0 0h0m-1-2h0m0 0h0m0 0h0m0 0h0m0 2h0m0-1h0m0 1h0m0-1h0m0 0h0m-1-1h0m0 0h0m0 1h0m0 0h0m0 1h0m0-2h0m0 0h0m0 2h0m0 0h0m0 0h0m0 0h0m0 0h0m-1 0h0m0 0h0m0 0h0m-1 0h0m0 0h0m0-1h0m0 2h0m0 1h0m0 0h0m0 0h0m1 1h0m0 0h0m0-1h0m0 0h0m0-1h0m0 1h0m0-1h0m0 0h0m0 1h0m1-1h0m0 0h0m0 1h0m0 1h0m0 0h0m0-1h0m0-1h0m1 2h0m0 0h0m0-2h0m0 0h0m0 1h0m0 0h0m0-1h0m0 1h0m1 1h0m0 0h0m0-1h0m0 0h0m1-1h0m0 0h0m0 0h0m0 0h0m1 2h0m0 0h0m0-2h0m0 1h0m0 0h0m0 1h0m1 0h0m0-1h0m0 0h0m1 0h0m0 1h0m0 0h0m0 0h0m1-2h0m0 0h0m0 0h0m0 0h0m0 1h0m-1 3h0m0 0h0m0 0h0m-1 1h0m0-2h0m0 0h0m-1 2h0m0-2h0m0 1h0m0 0h0m0 1h0m0-1h0m-1 1h0m0 0h0m0 0h0m0 0h0m0 0h0m0-2h0m0 0h0m-1 1h0m0 1h0m0-1h0m0 1h0m0-1h0m0-1h0m0 0h0m0 0h0m-1 2h0m0 0h0m0-1h0m0 1h0m0 0h0m0-2h0m0 0h0m0 0h0m-1 1h0m0 1h0m0 0h0m0-2h0m0 0h0m0 0h0m-1 2h0m0-1h0m0 0h0m0 1h0m-1-1h0m2 3h0m0-1h0m1 1h0m0-1h0m0 0h0m0 1h0m0-1h0m0 1h0m0 0h0m0-1h0m0 0h0m0 0h0m1 1h0m0 0h0m0 0h0m0 0h0m0-1h0m0 0h0m0 0h0m0 0h0m1 0h0m0 1h0m0-1h0m1 0h0m0 1h0m1-1h0m0 1h0m0 0h0m0 0h0m1-1h0m0 1h0" stroke="#94ca6c" stroke-width="3.8" stroke-linecap="round" transform="scale(0.5)"/>
<path d="M860 61h0m16-1h0m2 0h0m58 0h0m41 0h0m-18 4h0m-81 0h0m-2 1h0m-3 0h0m-3-1h0m-12 1h0m19 1h0m82 1h0m27 0h0m2 1h0m11-1h0m0 2h0m-31 1h0m-5-1h0m-2 2h0m-100-2h0m-2 0h0m0 0h0m-9 0h0m112 5h0m5 0h0m6 0h0m4-2h0m9 1h0m11 1h0m-18 2h0m-116-1h0m-7 1h0m-6-1h0m0 4h0m1-1h0m8 2h0m8-2h0m130 0h0m-4 5h0m-6-1h0m-126-1h0m0 1h0m-12 4h0m1 0h0m14-1h0m123 1h0m10 0h0m4 2h0m-4 1h0m-14-1h0m-124-1h0m-8 2h0m-1 0h0m7 1h0m138 5h0m-9 0h0m0 0h0m-5 2h0m23 1h0m-9 1h0m-146 8h0m148 11h0m-7 3h0m1 1h0m9-1h0m4 1h0m-12 3h0m-143-2h0m140 5h0m4 0h0m6 3h0m-150-1h0m1 3h0m1 1h0m151-2h0m-16 3h0m-136 4h0m1 0h0m1 0h0m144 6h0m2 0h0m3 2h0m6 6h0m-10 0h0m7 4h0m2 2h0m-8 1h0m7 2h0m5 1h0m-15 4h0m-1-2h0m-5 5h0m8-2h0m13 5h0m-2-1h0m-9 4h0m-3 1h0m-16 5h0m26 1h0m-14 0h0m-1 2h0m-9 0h0m-5 2h0m7-1h0m6 1h0m-4 3h0m-17 2h0m34 2h0m-17 2h0m-22 0h0m0 4h0m34-1h0m5 2h0m-27 3h0m1 5h0m-4 3h0m29 0h0m-27 1h0m0 2h0m-6 0h0m-1 0h0m-32 0h0m24 3h0m1-2h0m0 1h0m13 0h0m12 0h0m2 0h0m-19 2h0m-39 0h0m32 5h0m6-1h0m11-1h0m13 3h0m-10 2h0m-96-1h0m-3 1h0m2 1h0m5 2h0m3-1h0m78-1h0m12 0h0m12 0h0m1 5h0m-13 0h0m-20-1h0m-11 1h0m-6 0h0m-1-2h0m-1 0h0m-17 1h0m-76 1h0m73 1h0m40 0h0m24 0h0" stroke="#b2bae2" stroke-width="1.8" stroke-linecap="round" transform="scale(0.5)"/>
<path d="M920 59h0m-4 0h0m-3 0h0m-23 0h0m-1 0h0m-4 0h0m0 3h0m4-2h0m0 2h0m1 0h0m1-1h0m1 0h0m6 0h0m0 1h0m1 0h0m5-1h0m5-1h0m0 1h0m1 0h0m1 0h0m1-1h0m1 1h0m4 1h0m2-2h0m4 2h0m2-1h0m0-1h0m2 0h0m0 1h0m9 4h0m-6-1h0m-2-1h0m-3 0h0m-4 0h0m-2 2h0m0 0h0m-1-2h0m-2 1h0m-1 1h0m-1-2h0m0 0h0m0 1h0m-4-1h0m-5 1h0m-4-1h0m0 0h0m-2 1h0m-2-1h0m0 2h0m-1 0h0m-1-2h0m-1 0h0m-3 2h0m-1-1h0m-2 0h0m-1-1h0m-2 0h0m2 3h0m4 2h0m2-2h0m1 1h0m5 0h0m0 0h0m0-1h0m21 1h0m2 0h0m0 0h0m2 0h0m5 1h0m7-2h0m1 2h0m0-1h0m1-1h0m6 1h0m7 1h0m4 3h0m-4-2h0m-1 0h0m0 1h0m-7-1h0m-1 1h0m-5 0h0m-1-1h0m-5 0h0m-5 1h0m-2 0h0m-37 1h0m-1-2h0m-4 1h0m-8 4h0m5 0h0m2-2h0m1 0h0m2 2h0m2-1h0m42-1h0m0 0h0m2 2h0m1-1h0m9 0h0m5 1h0m4-2h0m1 2h0m6 1h0m-15 1h0m0 0h0m-1 0h0m-9 0h0m-2 0h0m0-1h0m0 1h0m-44-1h0m-4 1h0m-3 1h0m-2-2h0m-7 5h0m2 0h0m2-1h0m1 1h0m3-1h0m1 1h0m0 0h0m2-1h0m0-1h0m48 0h0m2 2h0m19 0h0m5 0h0m1-2h0m1 0h0m2 2h0m12 1h0m0 2h0m-2-1h0m-16-1h0m-1 1h0m-3-1h0m-2 2h0m-8-2h0m0 1h0m-2 1h0m-2-1h0m-4 0h0m0 1h0m-51 0h0m-5-1h0m-2-1h0m5 3h0m52 0h0m6 0h0m9 0h0m10 1h0m11 1h0m4-1h0m6 0h0m2 0h0m0-1h0m-3 5h0m-6-2h0m-1 2h0m-6 0h0m-4-1h0m-1 0h0m-7 0h0m-6-1h0m-1 0h0m-1 1h0m-4-1h0m-8 2h0m-53-2h0m0 0h0m0 2h0m0-1h0m-1 0h0m0 0h0m0 0h0m-2 1h0m-2-2h0m0 2h0m-3-1h0m-5 1h0m0-1h0m-10 4h0m4 0h0m8-1h0m2 1h0m5-2h0m1 1h0m3-1h0m53 1h0m0-1h0m1 1h0m4-1h0m1 1h0m2 1h0m4-2h0m1 0h0m0 2h0m11-2h0m0 0h0m3 0h0m19 1h0m1 0h0m-1 4h0m-6 0h0m0 0h0m-1-1h0m-2 0h0m-3-1h0m0 0h0m0 2h0m-1-1h0m-1 0h0m-1-1h0m0 1h0m-1-1h0m0 1h0m-3 0h0m-2 1h0m-2-2h0m0 0h0m-5 1h0m-9-1h0m-1 2h0m-1 0h0m-1-1h0m-1-1h0m-3 2h0m-55-2h0m-2 1h0m-3-1h0m-2 1h0m-11 0h0m-3 3h0m3 0h0m6 1h0m2-1h0m1 0h0m3 1h0m1-2h0m0 0h0m1 0h0m3 1h0m0 0h0m1-1h0m1 0h0m52 0h0m2 1h0m3 0h0m1 1h0m2-1h0m1 0h0m0-1h0m2 2h0m1-2h0m10 2h0m4-1h0m2 1h0m0-1h0m2 1h0m3-2h0m2 1h0m4-1h0m4 2h0m2-1h0m0 0h0m6 1h0m11 3h0m-12-2h0m-5 0h0m-6 1h0m0 1h0m-1 0h0m-1 0h0m0-2h0m-13 0h0m-2 1h0m-2 1h0m-1-2h0m-1 1h0m-7 1h0m-3-1h0m-1 0h0m-66 1h0m0 0h0m-3 0h0m-6 0h0m-1-1h0m0 1h0m-4-2h0m-1 0h0m-1 2h0m-1-2h0m-1 2h0m-1 0h0m6 1h0m3 2h0m4-2h0m0 0h0m1 2h0m70-2h0m9 2h0m4-2h0m0 0h0m7 0h0m2 2h0m8-2h0m1 2h0m5 0h0m0-1h0m21-1h0m3 0h0m-2 5h0m-2 0h0m-14 0h0m-3 0h0m-3 0h0m0-1h0m-9 0h0m-1-1h0m-1 2h0m-2-2h0m-1 1h0m-2-1h0m-1 2h0m-10-2h0m0 1h0m-1-1h0m-2 0h0m-3 2h0m-3 0h0m-1-2h0m0 2h0m-4-1h0m-61-1h0m-4 2h0m-2 0h0m-3 0h0m-1-1h0m0 1h0m-1-2h0m-6 1h0m-1-1h0m0 1h0m-2 0h0m3 3h0m2 1h0m2 0h0m2-1h0m1 1h0m0-2h0m1 1h0m1-1h0m2 0h0m1 2h0m1-2h0m69 0h0m1 2h0m1 0h0m2-1h0m7 0h0m10-1h0m11 1h0m0 0h0m1 0h0m7-1h0m12 2h0m4-1h0m0-1h0m-1 3h0m-1 0h0m-2 0h0m-7 0h0m-4 0h0m-6 0h0m0 2h0m-7 0h0m-17-1h0m-7-1h0m-2 0h0m-1 1h0m-64 1h0m-2-1h0m-1 0h0m0-1h0m-4 0h0m-1 2h0m0-1h0m0-1h0m0 0h0m-4 1h0m0 1h0m-2 0h0m-2-2h0m-1 0h0m6 3h0m3 2h0m0-1h0m7-1h0m0 0h0m1 2h0m0 0h0m59 0h0m1-2h0m4 0h0m4 0h0m7 2h0m1-2h0m18 0h0m1 0h0m1 0h0m0 2h0m1-2h0m1 2h0m2-1h0m1-1h0m1 2h0m5 0h0m9-2h0m-7 4h0m-1-1h0m-6 2h0m-2-1h0m-7-1h0m-19 1h0m-9-1h0m-5 2h0m0-2h0m-59 0h0m-5 0h0m0 1h0m-4-1h0m-4 1h0m0 1h0m0 0h0m-1-1h0m0-1h0m-1 1h0m-1 1h0m-4-1h0m2 2h0m2 2h0m6-1h0m0 0h0m2-1h0m4 2h0m1 0h0m1-1h0m58 1h0m3-2h0m0 1h0m10-1h0m2 2h0m3-2h0m23 0h0m0 2h0m4 0h0m2-1h0m3 1h0m0 0h0m0 0h0m6 2h0m-1 0h0m-3-1h0m0 2h0m-2-1h0m-2 1h0m0-1h0m-1-1h0m-1 0h0m-5 2h0m0 0h0m-5-1h0m-1-1h0m-3 0h0m-15 2h0m-1-2h0m-1 2h0m-3 0h0m-9 0h0m-2 0h0m-69 0h0m0 0h0m-5 0h0m0-1h0m-2 1h0m-4-1h0m1 3h0m2 0h0m6-1h0m1 2h0m1-2h0m1 0h0m1 0h0m1 1h0m1 0h0m2 1h0m0-2h0m2 2h0m0-2h0m59 1h0m2 0h0m1-1h0m9 1h0m1 1h0m2 0h0m5 0h0m2-2h0m0 1h0m11-1h0m4 2h0m1-1h0m1 1h0m1-2h0m7 2h0m0 0h0m2-2h0m3 1h0m4-1h0m-3 4h0m-3 1h0m-4 0h0m-3-1h0m-1 1h0m0-1h0m-1-1h0m-1 0h0m-7 2h0m0 0h0m-8-1h0m-3 0h0m-2 0h0m-7 0h0m-5-1h0m-5 2h0m0-1h0m-1 1h0m-1 0h0m-58-1h0m-2-1h0m-1 0h0m-4 1h0m-4 0h0m-3 0h0m-1 0h0m0 0h0m-3-1h0m-1 0h0m7 5h0m2-2h0m1 0h0m1 0h0m3 2h0m5 0h0m1-2h0m1 1h0m4 0h0m1 1h0m49-2h0m3 0h0m1 2h0m7-1h0m2 1h0m0 0h0m9-1h0m16 1h0m0-2h0m6 1h0m4 0h0m1-1h0m0 0h0m2 2h0m1-1h0m2-1h0m3 2h0m0-1h0m-2 4h0m-12-1h0m-6-1h0m-1 2h0m-1-2h0m-8 1h0m-15 0h0m0-1h0m-3 1h0m-4 1h0m0 0h0m-1 0h0m0 0h0m-1-2h0m-3 0h0m-44 1h0m0 1h0m0-1h0m-1 1h0m-3-1h0m-4-1h0m-4 2h0m-3-1h0m-4 1h0m4 1h0m2 1h0m1-1h0m7 2h0m1-2h0m5 1h0m1 1h0m0-1h0m0-1h0m1 2h0m0-1h0m2 0h0m0 0h0m0 0h0m1 0h0m1 1h0m3 0h0m1 0h0m2 0h0m27 0h0m2 0h0m0-1h0m1-1h0m0 1h0m1 1h0m4-2h0m4 2h0m2-2h0m1 0h0m4 0h0m1 0h0m1 2h0m2-2h0m1 1h0m5 1h0m1-2h0m1 1h0m1 0h0m3 0h0m0-1h0m0 0h0m1 0h0m2 0h0m1 0h0m3 0h0m6 2h0m1 0h0m0-1h0m0-1h0m2 2h0m3-1h0m7 4h0m-128 3h0m7-1h0m0 1h0m119-2h0m1 1h0m1 0h0m1-1h0m2 0h0m1 0h0m4 2h0m2-1h0m-1 3h0m-2 1h0m-1-1h0m-3-1h0m0 0h0m-123 0h0m-4 0h0m-1 2h0m-2-2h0m0 1h0m-2-1h0m0 2h0m-3-2h0m0 1h0m-2 0h0m5 2h0m0 1h0m2-1h0m129 2h0m1-2h0m0 0h0m0 0h0m2 2h0m3 0h0m1-1h0m1 2h0m-4 0h0m-5 1h0m-121 1h0m-2-2h0m-4 2h0m-5-1h0m0-1h0m-3 3h0m3 1h0m2 1h0m1-1h0m129 1h0m0-2h0m0 0h0m2 2h0m5 3h0m-3 0h0m-6-1h0m-1 1h0m-120 0h0m-5-2h0m0 1h0m-2 1h0m-2 1h0m1 1h0m1-1h0m3 1h0m3 1h0m123-1h0m3 0h0m3 1h0m-1 2h0m-4-1h0m-1 2h0m-3-2h0m-1 1h0m-119 0h0m-1 1h0m-2 0h0m-8 1h0m1 1h0m3-1h0m1 1h0m0 1h0m1-2h0m3 2h0m121 0h0m0 0h0m0-2h0m2 3h0m-2 1h0m0 1h0m-1-1h0m-120-1h0m-3 1h0m-5 3h0m0 1h0m6-2h0m1 2h0m1-2h0m1 0h0m3 0h0m116 2h0m1-2h0m-2 3h0m-1 0h0m-1 2h0m-2 0h0m-109-2h0m-2 2h0m-3-2h0m0 2h0m-4-1h0m-2 1h0m-4-2h0m2 4h0m2-1h0m12 1h0m0 1h0m1-1h0m1 1h0m4 0h0m99 0h0m6 0h0m-8 3h0m-1 0h0m-97-2h0m-15 1h0m-2 0h0m2 3h0m80-1h0m29 0h0m1 0h0m3 0h0m2 1h0m-1 2h0m-6 1h0m-1-1h0m-1 2h0m-22 0h0m-1 0h0m-2-1h0m0-1h0m-1 0h0m-4 1h0m-1 1h0m0-2h0m-67 2h0m-1 0h0m-3-2h0m-9 0h0m1 3h0m1 1h0m1-1h0m2 2h0m0-2h0m3 1h0m3 1h0m73-2h0m0 0h0m2 2h0m3-2h0m18 2h0m3 0h0m-2 3h0m-3 0h0m-16 0h0m0 0h0m-2-1h0m0-1h0m-1 2h0m-1-2h0m-6 2h0m-2-1h0m-61 0h0m-8-1h0m0 0h0m-3 1h0m-2 0h0m-4 1h0m10 1h0m5 0h0m5 2h0m4 0h0m2 0h0m54-2h0m9 1h0m16-1h0m7 5h0m-3-2h0m0 1h0m-1 0h0m-17 1h0m-5-2h0m-4 1h0m-43 0h0m-1 0h0m-2 1h0m-8-2h0m-2 0h0m-3 2h0m-11-1h0m-5-1h0m-1 0h0m-2 0h0m0 4h0m1 1h0m2-1h0m0 1h0m3-1h0m2-1h0m3 2h0m5-2h0m7 0h0m1 2h0m3-2h0m3 1h0m2 0h0m3 1h0m38 0h0m3-2h0m10 1h0m1 1h0m1 0h0m0-2h0m1 1h0m1 0h0m13-1h0m2 2h0m0-1h0m2 3h0m0 0h0m-3 0h0m-1 0h0m-1-1h0m-1 2h0m0-2h0m-9 2h0m0 0h0m-7-2h0m-2 0h0m-8 1h0m-1 1h0m-40 0h0m-9-1h0m-8 1h0m-2-2h0m-1 0h0m-7 0h0m-1 2h0m-2-2h0m-1 1h0m-1 0h0m-2-1h0m-3 1h0m0 0h0m8 4h0m5 0h0m1-1h0m4 0h0m5 0h0m0-1h0m1 2h0m0-2h0m4 2h0m2-1h0m3-1h0m2 1h0m4-1h0m1 0h0m2 0h0m2 0h0m33 0h0m1 2h0m16-2h0m1 0h0m0 1h0m1-1h0m6 2h0m1 0h0m1-2h0m2 3h0m-5 2h0m-1 0h0m-2-1h0m-2 1h0m-1-1h0m-1-1h0m-17 2h0m-1-1h0m-2 1h0m-26 0h0m0-1h0m-1 0h0m-1 0h0m-7 1h0m-1-2h0m-7 2h0m-1 0h0m-6-2h0m-5 2h0m-4-2h0m-1 0h0m-1 2h0m-6-2h0m-5 5h0m3-1h0m1 1h0m30-1h0m2-1h0m10 0h0m47 0h0m2 2h0m0-2h0m1 2h0m0-1h0m5 1h0m1-1h0m3 2h0m-6 2h0m-2-1h0m-1-1h0m-1 0h0m-1 2h0m-18-1h0m-8 0h0m-21 1h0m0-1h0m-4-1h0m-1 2h0m-2-2h0m-1 0h0m-11 1h0m-2 1h0m0-2h0m-6 0h0m-5 2h0m-3-1h0m-4-1h0m-4 1h0m-3-1h0m2 3h0m7 1h0m3 1h0m4 0h0m4 0h0m8-2h0m10 1h0m4 1h0m3 0h0m1-1h0m24 1h0m1 0h0m0-1h0m20 0h0m5 1h0m3-1h0m1 2h0m-1 0h0m-1 0h0m0 1h0m-1 1h0m-1-1h0m-24-1h0m-1 2h0m-5 0h0m0 0h0m-18 0h0m-30-1h0m-1-1h0m-2 1h0m-4 1h0m-2-1h0m-7 1h0m1 1h0m2 1h0m3-1h0m0 1h0m2 1h0m4-1h0m1 0h0m2 1h0m1-1h0m2 1h0m1-2h0m2 0h0m0 1h0m28 1h0m0-1h0m3 1h0m0-1h0m3 1h0m3 0h0m1-2h0m1 1h0m5 1h0m5-1h0m25 0h0m1-1h0m1 0h0m-3 4h0m0-1h0m-35 1h0m0 1h0m-2 0h0m-3 0h0m-39-1h0m-5 0h0m5 2h0m36 0h0m13 0h0m2 0h0" stroke="#98a2dc" stroke-width="2" stroke-linecap="round" transform="scale(0.5)"/>
<path d="M913 64h0m-2 0h0m0 0h0m-1 0h0m-14 4h0m2 0h0m5 0h0m3-2h0m0 1h0m1-1h0m1 0h0m0 2h0m1-2h0m1 2h0m2-1h0m1 1h0m1 0h0m4 0h0m4 2h0m0 1h0m0 0h0m-1-1h0m-2 0h0m-1-1h0m-2 2h0m-2 0h0m-1-1h0m0 0h0m-1 0h0m-1-1h0m0 2h0m-1-1h0m-3-1h0m-1 0h0m-2 0h0m0 2h0m-2-2h0m0 2h0m-1 0h0m0 0h0m-4-2h0m-4 2h0m-1 0h0m-1 0h0m0 0h0m0 0h0m-1 0h0m0 0h0m-1 3h0m1-1h0m1-1h0m0 0h0m1 1h0m0 1h0m1 0h0m1-2h0m1 1h0m1 1h0m3-2h0m1 0h0m0 1h0m0 1h0m1 0h0m1 0h0m0 0h0m2-1h0m0 0h0m1 0h0m0 1h0m3-2h0m0 0h0m0 0h0m1 0h0m0 2h0m1-1h0m2-1h0m0 2h0m1-2h0m0 2h0m2-2h0m0 0h0m2 0h0m1 0h0m0 0h0m2 0h0m2 0h0m0 0h0m0 1h0m3 0h0m1 1h0m0 1h0m-2 0h0m0 0h0m0 1h0m-1 0h0m-1-1h0m-1 0h0m0 2h0m-2-2h0m0 2h0m-1 0h0m-1-1h0m-1 1h0m0 0h0m-1-2h0m0 1h0m0 1h0m-1 0h0m-5-2h0m-1 0h0m-1 0h0m0 0h0m0 0h0m-7 0h0m0 0h0m0 0h0m0 0h0m-1 0h0m0 2h0m-1-1h0m-1 0h0m-1 1h0m0 0h0m-1-2h0m-1 1h0m-2 1h0m-3 0h0m-1-1h0m-3 0h0m0 0h0m0 2h0m1 2h0m1-2h0m0 1h0m0-1h0m0 2h0m1-1h0m1 1h0m1 0h0m1 0h0m1-1h0m2 0h0m1 1h0m21-1h0m2-1h0m1 0h0m1 1h0m0 1h0m1 0h0m1 0h0m1-1h0m1-1h0m2 0h0m1 4h0m-1 1h0m-1-1h0m-1 0h0m0 1h0m-2-1h0m-1-1h0m0 1h0m0 1h0m-4-2h0m-23 2h0m0-1h0m-1 0h0m0 1h0m0 0h0m-1-2h0m0 2h0m-1 0h0m-1-2h0m-1 0h0m0 2h0m0-1h0m-2 1h0m-1-2h0m-1 1h0m0 1h0m-3-1h0m-3 1h0m2 1h0m1 0h0m1 2h0m1-1h0m0 0h0m0-1h0m1 1h0m0 1h0m0-2h0m1 1h0m0 0h0m1-1h0m0 2h0m0-2h0m1 0h0m1 0h0m0 2h0m0 0h0m1-1h0m0-1h0m3 1h0m26 0h0m1 0h0m1 0h0m0 0h0m1-1h0m0 0h0m0 1h0m2 0h0m0 1h0m1-1h0m0 0h0m1 0h0m1 0h0m0 0h0m0 3h0m0 0h0m-2 0h0m-2 0h0m0 0h0m-30-1h0m-2 2h0m-1 0h0m0-1h0m-1 1h0m-1-2h0m0 0h0m-2 2h0m-1 0h0m0 0h0m-1-2h0m-1 2h0m-1-2h0m0 0h0m-1 1h0m0-1h0m-1 5h0m3 0h0m1 0h0m0-2h0m1 2h0m0-2h0m2 0h0m0 1h0m0-1h0m1 2h0m0-2h0m1 2h0m1-2h0m0 2h0m1-2h0m32 0h0m3 2h0m1-1h0m0-1h0m0 0h0m1 1h0m0-1h0m0 0h0m1 2h0m-1 3h0m-1-1h0m-3 0h0m0 0h0m-1-1h0m0 0h0m0 1h0m0 0h0m-1-1h0m-31 1h0m-2 0h0m0-1h0m-1 2h0m-1 0h0m-1-1h0m-1 0h0m0 1h0m-1-2h0m-3 2h0m-1-2h0m-2 1h0m0 2h0m0 0h0m1 2h0m1-1h0m4 0h0m0 1h0m4-2h0m3 2h0m31-2h0m1 0h0m1 1h0m0 1h0m1-1h0m0-1h0m2 0h0m0 2h0m0 0h0m1-2h0m-1 4h0m-3-1h0m-34 1h0m-1 1h0m0 0h0m0-1h0m-1 0h0m0 1h0m-1 0h0m0 0h0m0-1h0m-3-1h0m0 0h0m0 2h0m0 0h0m0-1h0m-1 1h0m-3-2h0m-2 0h0m0 2h0m-2-1h0m-7 2h0m1 0h0m0 1h0m2 0h0m3 1h0m0 0h0m0 0h0m0-2h0m2 2h0m0 0h0m1 0h0m0 0h0m2-1h0m0 0h0m1 0h0m0 0h0m0-1h0m1 2h0m1-2h0m0 2h0m0 0h0m1-2h0m3 0h0m0 0h0m0 1h0m0 1h0m1-1h0m1 0h0m0 1h0m0 0h0m34-2h0m3 2h0m0 0h0m1-2h0m0 2h0m0 0h0m1-1h0m0 1h0m0 0h0m1 0h0m21 0h0m1 0h0m-2 1h0m-20 0h0m-1 2h0m-3-2h0m-1 2h0m0 0h0m-35 0h0m-1-2h0m-2 2h0m0-2h0m0 0h0m-2 2h0m-1-2h0m0 1h0m0 0h0m0 1h0m0-1h0m-1-1h0m0 0h0m0 1h0m-2 1h0m-2 0h0m-1-1h0m-1 1h0m-2-2h0m-1 1h0m0 0h0m0 1h0m-1-1h0m-1-1h0m0 0h0m-1 0h0m-1 3h0m2 0h0m2 1h0m1-1h0m3 1h0m0 0h0m0 1h0m1 0h0m0-1h0m0-1h0m1 2h0m1-1h0m1 1h0m0-2h0m3 0h0m0 1h0m1 1h0m0-2h0m3 1h0m36-1h0m1 2h0m0 0h0m1 0h0m0 0h0m0 0h0m1-2h0m0 2h0m18-1h0m2-1h0m0 1h0m1 0h0m0 1h0m1-2h0m0 2h0m4 0h0m3 0h0m0 1h0m-1 2h0m0-2h0m-2 1h0m-1-1h0m0 1h0m-2-1h0m-1 2h0m0-1h0m-21-1h0m-1 2h0m0-2h0m-1 1h0m-1-1h0m-1 2h0m-1-2h0m-34 0h0m-1 2h0m0-2h0m0 0h0m-1 2h0m-1 0h0m-1 0h0m0-2h0m-2 1h0m0-1h0m0 0h0m0 0h0m-1 2h0m0 0h0m-1 0h0m-3 0h0m-1-1h0m0-1h0m-2 2h0m-1 0h0m0-2h0m-3 0h0m-1 0h0m3 4h0m0 0h0m2-1h0m4 2h0m2 0h0m2 0h0m1 0h0m1-1h0m2 0h0m0 0h0m1 0h0m1 0h0m2-1h0m31 0h0m0 1h0m1 0h0m0-1h0m2 0h0m1 2h0m0-1h0m1-1h0m0 1h0m0 0h0m2-1h0m0 0h0m20 0h0m1 1h0m1 1h0m2 0h0m0-2h0m2 2h0m1-1h0m0 0h0m0 1h0m2 0h0m2 0h0m1-2h0m0 2h0m2-2h0m0 5h0m-3 0h0m0-2h0m-6 2h0m-1 0h0m-1-1h0m-1 0h0m0 0h0m-1 1h0m-21-2h0m-1 1h0m0-1h0m-1 1h0m-1 1h0m-1-2h0m-1 1h0m0-1h0m-5 1h0m-29 1h0m-1-2h0m-1 2h0m0-1h0m-1-1h0m0 0h0m-3 2h0m0-2h0m-1 2h0m-1-1h0m0 0h0m-1-1h0m-1 1h0m-1 1h0m0-2h0m-5 0h0m-3 5h0m1-2h0m0 1h0m1-1h0m1 0h0m2 0h0m5 0h0m0 2h0m2-2h0m1 2h0m5-1h0m1 1h0m28 0h0m2-1h0m0-1h0m0 1h0m3 0h0m0 0h0m1 1h0m27 0h0m0-1h0m0 0h0m1 0h0m3-1h0m2 2h0m0-2h0m2 0h0m2 0h0m-4 4h0m-3 0h0m-1 1h0m0-2h0m-4 0h0m-22 0h0m-1 2h0m0-2h0m0 0h0m-1 1h0m0 1h0m-2-2h0m-2 0h0m-2 1h0m0 0h0m0-1h0m-1 1h0m0 0h0m0-1h0m0 0h0m-27 0h0m-2 1h0m0 0h0m0-1h0m0 0h0m-2 0h0m0 1h0m0 0h0m-1-1h0m0 1h0m-2 0h0m-2-1h0m-2 0h0m0 1h0m0 1h0m-1-1h0m0 1h0m-1-2h0m0 2h0m-1-2h0m0 2h0m-2 0h0m0 0h0m0-1h0m-2 1h0m-1-1h0m-1 1h0m-2-2h0m1 3h0m1 2h0m2-1h0m1 1h0m0 0h0m1-1h0m0 0h0m1 0h0m0 0h0m1-1h0m3 0h0m1 0h0m2 0h0m2 2h0m0 0h0m0 0h0m1-2h0m0 1h0m1-1h0m0 0h0m2 1h0m0 0h0m2 0h0m0 0h0m2-1h0m23 2h0m1-2h0m2 0h0m1 0h0m0 0h0m1 0h0m1 2h0m2 0h0m1-1h0m0 0h0m1 1h0m0-2h0m28 0h0m0 0h0m2 2h0m2 0h0m0-2h0m-1 5h0m0-2h0m-1 0h0m-29 0h0m-3 1h0m-4 1h0m-1-1h0m0 1h0m0-2h0m-1 0h0m-1 2h0m0-2h0m-1 2h0m0-2h0m-1 0h0m0 2h0m-18 0h0m-1 0h0m-2-2h0m0 0h0m-1 2h0m0-2h0m-1 1h0m0-1h0m-1 1h0m-4 0h0m0-1h0m-1 0h0m-1 0h0m-1 2h0m-2-2h0m-2 0h0m-1 0h0m-1 2h0m-2 0h0m0-1h0m-2 1h0m0-2h0m-1 0h0m-3 0h0m11 3h0m1 0h0m2 2h0m1 0h0m0-1h0m2 1h0m0-2h0m0 1h0m2 1h0m0-1h0m0-1h0m1 2h0m1-2h0m0 0h0m3 1h0m0 0h0m1 0h0m1 1h0m1-2h0m18 2h0m0-1h0m1 0h0m1 1h0m0 0h0m0-1h0m1 1h0m2-2h0m1 2h0m0-2h0m2 2h0m2 0h0m0 0h0m14-2h0m1 1h0m5-1h0m1 0h0m0 2h0m1 0h0m8-1h0m0-1h0m2 2h0m1 3h0m-1 0h0m0-2h0m-1 1h0m0-1h0m-10 2h0m0-1h0m-1 1h0m0 0h0m-1-1h0m-3-1h0m0 1h0m-1 1h0m0-1h0m-1 1h0m-16-1h0m-3 1h0m0-2h0m-1 1h0m0-1h0m-1 1h0m-1 0h0m0 0h0m-1 0h0m0 0h0m0-1h0m0 0h0m-1 2h0m0 0h0m0 0h0m-1-1h0m-1-1h0m-1 2h0m0-2h0m-1 1h0m0 0h0m-1 1h0m-1-1h0m0 0h0m-1 1h0m0-1h0m-1 0h0m-4 0h0m-3 0h0m-1 1h0m0-1h0m0-1h0m-1 0h0m-1 2h0m-1 0h0m0 0h0m-1 0h0m0-1h0m-1 1h0m0-2h0m-1 0h0m-4 0h0m-1 2h0m-3 0h0m0-1h0m-1 1h0m-2-2h0m8 4h0m0 0h0m5-1h0m1 0h0m2 1h0m0 0h0m0-1h0m1 2h0m1-2h0m0 0h0m1 2h0m0-1h0m1 1h0m1-1h0m1-1h0m0 1h0m0-1h0m1 2h0m0-1h0m0-1h0m0 0h0m0 0h0m1 0h0m1 2h0m0-2h0m0 1h0m1 0h0m1-1h0m1 2h0m1 0h0m0-1h0m0-1h0m0 1h0m2 0h0m1 1h0m0-1h0m0 0h0m1 0h0m0 0h0m1 1h0m0 0h0m0-1h0m1-1h0m2 2h0m0 0h0m0-1h0m1 0h0m0 0h0m1 1h0m1-2h0m1 1h0m46 4h0m-1 0h0m-4 0h0m-1 0h0m-5 0h0m-2 0h0m-4 0h0m-5 0h0m-19 0h0m-53 0h0m-11 3h0m3 0h0m3-2h0m1 1h0m2 1h0m1-1h0m1-1h0m1 1h0m1 0h0m52-1h0m1 0h0m1 1h0m3-1h0m0 2h0m0 0h0m1-2h0m0 1h0m0 1h0m1-1h0m0 1h0m0 0h0m1-1h0m0-1h0m0 2h0m0 0h0m2-1h0m19 0h0m1 0h0m0-1h0m1 0h0m0 0h0m1 0h0m1 0h0m0 0h0m2 0h0m0 0h0m1 0h0m0 1h0m1 0h0m0-1h0m1 0h0m1 1h0m1-1h0m1 0h0m1 2h0m1 0h0m0 0h0m1-2h0m1 1h0m0-1h0m0 0h0m0 2h0m1-1h0m0 1h0m1-2h0m0 0h0m1 1h0m0 0h0m1 1h0m1-2h0m0 1h0m3 1h0m-1 1h0m0 1h0m-1 0h0m-1 0h0m-1 1h0m0-1h0m0 1h0m-1-1h0m-2-1h0m-1 0h0m-1 1h0m0-1h0m-36 0h0m-2 0h0m0 0h0m-1 2h0m-62-2h0m-1 1h0m-1-1h0m0 1h0m-2 0h0m0 1h0m-1-2h0m0 1h0m-1 1h0m-4-1h0m0 1h0m1 2h0m0 0h0m2-1h0m2 0h0m2 0h0m0 2h0m1-2h0m64 0h0m0 2h0m1-1h0m0 1h0m41-1h0m1 1h0m1 0h0m0 0h0m1-1h0m1 0h0m1-1h0m1 2h0m0-2h0m0 5h0m0-2h0m-4 1h0m-1-1h0m-1 1h0m-1 0h0m-1 0h0m0-1h0m-1 0h0m-38 1h0m0-1h0m-1 2h0m-65-2h0m-1 2h0m-2-1h0m-2 2h0m1 1h0m1 1h0m3 0h0m0 0h0m65-2h0m0 2h0m1-2h0m0 1h0m39 1h0m1 0h0m0-2h0m0 1h0m1 1h0m1-1h0m0 0h0m1 0h0m3-1h0m-4 4h0m0 1h0m-1-2h0m0 0h0m-1 1h0m0 0h0m0-1h0m-1 0h0m-1 1h0m-1 1h0m0-1h0m-38-1h0m-70 0h0m0 1h0m0 0h0m-1 3h0m2 0h0m0 0h0m2-1h0m2 0h0m65 2h0m1-1h0m37 0h0m1 0h0m1 1h0m0-1h0m0-1h0m2 2h0m0-2h0m1 1h0m2 0h0m-1 2h0m-5 1h0m-2 0h0m0 0h0m-1 1h0m0 0h0m-1 0h0m-34-1h0m-1-1h0m-62 2h0m0 0h0m-1-1h0m-2 0h0m-1 1h0m-1-2h0m-1 1h0m0 1h0m-5 2h0m0-1h0m4 2h0m3-1h0m0-1h0m3 2h0m0 0h0m0-2h0m1 0h0m63 1h0m35 0h0m0-1h0m2 1h0m0 0h0m1 0h0m1 1h0m0-1h0m1-1h0m1 2h0m-2 2h0m-2 1h0m-1-1h0m-1 0h0m-1 0h0m-1 1h0m-1 0h0m-30-1h0m-1 1h0m0 0h0m-1-1h0m-1 0h0m0-1h0m0 0h0m-55 1h0m0 0h0m-1 1h0m-1 0h0m-1 0h0m0-2h0m-3 0h0m0 2h0m-1-2h0m-4 1h0m0-1h0m-1 0h0m-2 1h0m0 1h0m-2-2h0m-1 0h0m3 3h0m3 0h0m2 0h0m1 1h0m1 1h0m0 0h0m1-1h0m4 1h0m0 0h0m1-2h0m0 0h0m1 2h0m0-1h0m52 0h0m3 1h0m0-2h0m29 2h0m3 0h0m1-2h0m1 1h0m0 0h0m1 1h0m0-1h0m0-1h0m2 1h0m0-1h0m1 1h0m1-1h0m-3 5h0m0-2h0m0 0h0m-2 1h0m-2 1h0m0-1h0m0-1h0m-2 1h0m-1 0h0m0 0h0m-1 1h0m0 0h0m-21 0h0m-2 0h0m-1 0h0m-1 0h0m-1-1h0m0 0h0m0 0h0m0 1h0m0 0h0m-1-1h0m0 1h0m0-2h0m-1 0h0m-3 1h0m-1 0h0m0 1h0m0-2h0m-49 1h0m-3-1h0m-5 2h0m-16 3h0m1-2h0m0 0h0m18 1h0m0 0h0m1-1h0m4 0h0m1 1h0m46 1h0m0-2h0m1 2h0m0-2h0m2 1h0m4 1h0m1-2h0m0 1h0m1-1h0m1 0h0m0 0h0m1 1h0m0 0h0m1 0h0m2 1h0m0-1h0m0 0h0m1 0h0m1 1h0m12 0h0m4 0h0m0-2h0m0 0h0m0 1h0m0-1h0m2 1h0m1 1h0m0-1h0m0-1h0m2 0h0m1 0h0m2 0h0m-2 3h0m-1 0h0m-2 1h0m0-1h0m-1 1h0m-1-1h0m-2 2h0m-1 0h0m-2-1h0m-1 0h0m0 0h0m0 0h0m0 1h0m-1-1h0m0 1h0m-8 0h0m0-1h0m-1 0h0m0 1h0m-1 0h0m0-1h0m0-1h0m-1 2h0m0-2h0m-1 2h0m0-1h0m-1 0h0m0-1h0m-1 1h0m-1-1h0m-3 1h0m-6 1h0m-1 0h0m-1 0h0m-2 0h0m0-1h0m-45 1h0m0 0h0m0-2h0m-1 0h0m-5 1h0m-3 1h0m-3-1h0m-3 1h0m-5-2h0m0 0h0m0 1h0m-2-1h0m-1 1h0m0 1h0m-1-1h0m0-1h0m2 4h0m2 1h0m3 0h0m2 0h0m3-1h0m3 1h0m1-1h0m1-1h0m5 2h0m1-2h0m1 2h0m1 0h0m1-2h0m0 1h0m1-1h0m1 2h0m0 0h0m0-2h0m1 2h0m38 0h0m2-2h0m1 2h0m2 0h0m12-2h0m3 0h0m0 0h0m2 2h0m1-2h0m1 2h0m1 0h0m0 0h0m0-2h0m1 2h0m0-1h0m0 0h0m1-1h0m1 2h0m1 0h0m2 0h0m0-2h0m1 2h0m0-2h0m1 2h0m0-2h0m1 2h0m3-2h0m2 1h0m-4 2h0m0 0h0m-1 2h0m-1-2h0m-2 1h0m0 0h0m-2 1h0m0 0h0m-3-1h0m0 1h0m0 0h0m-1 0h0m0 0h0m0-1h0m-1-1h0m-2 2h0m-1 0h0m0-2h0m-1 1h0m-1 1h0m0-2h0m-4 0h0m-1 0h0m-11 2h0m-3-1h0m-37 0h0m-1 1h0m-2-2h0m-1 1h0m-1 0h0m0-1h0m-1 2h0m0-2h0m-2 0h0m-2 2h0m0-2h0m-2 2h0m-1-2h0m-2 2h0m-1 0h0m0-1h0m-1 0h0m-4 0h0m-2-1h0m-1 0h0m-1 0h0m6 4h0m2-1h0m2 1h0m1 0h0m2-1h0m1 2h0m1 0h0m3-2h0m1 0h0m2 2h0m0 0h0m0-1h0m37 1h0m2-1h0m0-1h0m18 2h0m1-1h0m4 1h0m1 0h0m3-2h0m1 1h0m1 1h0m0-1h0m1-1h0m0 0h0m5 0h0m0 0h0m-4 3h0m-1 1h0m-1 0h0m-2 0h0m0-1h0m-1 0h0m-1 2h0m-1 0h0m-1 0h0m-2 0h0m0-2h0m0 0h0m-1 2h0m-1-1h0m-19-1h0m-2 1h0m-27 1h0m-1 0h0m0-2h0m-3 0h0m-1 1h0m-1 0h0m-2 0h0m-1 0h0m-1 1h0m-2-2h0m-1 0h0m-5 2h0m0 0h0m-1-1h0m-1 0h0m0-1h0m-1 0h0m-1 2h0m0-2h0m-1 2h0m0-2h0m0 0h0m-3 1h0m5 3h0m1 0h0m3 0h0m16-1h0m0 1h0m1 0h0m2 0h0m23-1h0m1 1h0m2 0h0m0-1h0m1 1h0m1 0h0m1 0h0m18 0h0m1-1h0m0 1h0m1-1h0m4 0h0m1 1h0m1 1h0m0-2h0m0 1h0m0-1h0m3 0h0m0 5h0m0 0h0m0 0h0m-1-1h0m-1 0h0m0-1h0m-4 2h0m-2-2h0m0 0h0m0 0h0m-1 1h0m-1 0h0m-1 1h0m0-2h0m-1 2h0m-18 0h0m-1-2h0m-4 1h0m0 1h0m0 0h0m0-2h0m-22 1h0m0 0h0m-1-1h0m-2 2h0m-1-1h0m2 3h0m3 0h0m1 1h0m0-2h0m0 1h0m1 0h0m20 0h0m2-1h0m1 0h0m1 1h0m22 0h0m1-1h0m2 0h0m2 2h0m0-2h0m0 0h0m2 1h0m1 2h0m-1 2h0m0 0h0m0 0h0m0 0h0m-5 0h0m-22-2h0m-2 0h0m-3 1h0m-1-1h0m-1 2h0m0 0h0m-1-2h0m-12 2h0m0-1h0m-2 0h0m0-1h0m-3 0h0m-1 2h0m0-1h0m-1 0h0m0-1h0m-3 0h0m0 0h0m-1 2h0m2 2h0m5-1h0m4 0h0m1 0h0m0 1h0m0-1h0m0 0h0m1 2h0m8 0h0m3 0h0m0-1h0m5 0h0m2-1h0m0 0h0m22 0h0m1 0h0m1 1h0m1 0h0m2 0h0m-2 2h0m0 0h0m-28 2h0m-2-2h0m-2 0h0m-1 0h0m0 2h0m-2-1h0m-1 0h0m-1 1h0m-5 0h0m-1-1h0m0-1h0m-5 1h0m3 2h0m0 1h0m2 1h0m0-1h0m1-1h0m2 2h0m2 0h0m0-1h0m1-1h0m0 1h0m1 1h0m1 0h0m3 0h0m2-1h0m0-1h0m2 0h0m-4 4h0m0-1h0m0 0h0m-1 0h0m-2 0h0m0 0h0m-2 1h0m0-1h0m-1 1h0m-1 0h0m0 1h0m-1-2h0m-3 2h0m-2 0h0m1 1h0m2 0h0m0 0h0m2 2h0m1-2h0m2 2h0m0-1h0m3-1h0m-3 5h0m-1-2h0m-1 2h0m-2-2h0m0 0h0m-1 1h0m-3-1h0m2 3h0m0 1h0m2-1h0" stroke="#7486d0" stroke-width="2.1" stroke-linecap="round" transform="scale(0.5)"/>
<path d="M913 77h0m0-1h0m-3 0h0m0 1h0m-1-1h0m0 0h0m-2 1h0m-1 0h0m0 0h0m0-1h0m-1 0h0m0 0h0m-2 0h0m-1 0h0m-2 0h0m0 0h0m0 0h0m-1 0h0m-3 4h0m0 0h0m0 0h0m1-1h0m1 0h0m0-1h0m0 2h0m1-2h0m0 1h0m0 0h0m0 1h0m1-1h0m0 1h0m1-2h0m0 0h0m0 2h0m0 0h0m1-1h0m0-1h0m0 2h0m0 0h0m1-2h0m0 2h0m0 0h0m3-1h0m0-1h0m0 2h0m0 0h0m1 0h0m1-2h0m0 1h0m0-1h0m0 1h0m1 0h0m0 1h0m2-1h0m0 1h0m0 0h0m0 0h0m0 0h0m1-1h0m1 1h0m0 0h0m1-1h0m0 1h0m0 0h0m1-1h0m0 1h0m2 0h0m1 3h0m-2-1h0m0 1h0m0-1h0m-1-1h0m-1 1h0m0 0h0m-1-1h0m0 2h0m-1 0h0m-1 0h0m0 0h0m0 0h0m0-1h0m-1 1h0m-1-1h0m-1-1h0m0 0h0m0 1h0m0 0h0m-1-1h0m-1 0h0m0 2h0m0-1h0m0 0h0m-1-1h0m0 0h0m0 2h0m-1 0h0m0-1h0m-1 0h0m-1-1h0m0 0h0m0 1h0m0 1h0m0-1h0m0 0h0m-1 0h0m-1-1h0m0 2h0m-1 0h0m0-2h0m-2 0h0m-1 0h0m0 1h0m-3 4h0m3 0h0m1-2h0m0 2h0m0 0h0m0 0h0m1-1h0m0 1h0m1-1h0m0 0h0m0 1h0m1-1h0m0 0h0m0 1h0m2-1h0m0 1h0m1-1h0m0 1h0m0 0h0m1 0h0m0 0h0m1-2h0m0 2h0m0-1h0m0 0h0m1-1h0m0 0h0m0 0h0m0 1h0m0 0h0m1 0h0m3-1h0m0 1h0m0-1h0m0 1h0m0 0h0m1 0h0m0 0h0m0 0h0m0-1h0m1 0h0m1 1h0m0 0h0m0 1h0m0-1h0m1-1h0m0 0h0m0 0h0m0 2h0m1-2h0m3 1h0m0 1h0m0 0h0m1-1h0m0 0h0m2 4h0m-1-2h0m-2 0h0m0 1h0m-1-1h0m-1 0h0m0 2h0m0 0h0m-2 0h0m0 0h0m0 0h0m0-1h0m-9-1h0m0 0h0m-1 0h0m0 0h0m-1 0h0m0 1h0m-1-1h0m0 0h0m0 0h0m0 0h0m-2 0h0m-1 0h0m-1 0h0m0 0h0m0 1h0m0 0h0m-1-1h0m-2 1h0m0 1h0m-1-1h0m0 0h0m-1 0h0m-1 3h0m1 0h0m1 0h0m1 1h0m0 0h0m1-1h0m0-1h0m0 2h0m1-1h0m0-1h0m0 0h0m1 1h0m0-1h0m1 1h0m0 1h0m1-1h0m1-1h0m0 0h0m0 1h0m0 1h0m0-1h0m1 0h0m14-1h0m0 1h0m0 0h0m0 1h0m2-1h0m0 0h0m1 0h0m0 0h0m0 1h0m1-2h0m0 0h0m0 1h0m1-1h0m0 1h0m0 1h0m-1 1h0m0 2h0m0 0h0m-1-2h0m0 1h0m0 1h0m-1-2h0m-1 1h0m-1 0h0m0 0h0m-16-1h0m0 0h0m-1 0h0m0 2h0m-1 0h0m-1 0h0m-1 0h0m-1-2h0m0 0h0m0 2h0m0 0h0m-1-2h0m0 1h0m0 1h0m0-1h0m-1 0h0m0 0h0m0 0h0m0 0h0m0 0h0m0 1h0m-1-1h0m0 1h0m0 0h0m2 3h0m1-2h0m0 0h0m0 2h0m0-2h0m0 2h0m2-2h0m0 1h0m0-1h0m1 1h0m0 1h0m1-1h0m0 0h0m0-1h0m0 2h0m0 0h0m16-2h0m1 2h0m1-1h0m0-1h0m0 2h0m1-2h0m0 1h0m0 1h0m1-1h0m0-1h0m2 0h0m0 0h0m2 3h0m0 2h0m-1-2h0m0 1h0m-1 0h0m-1 0h0m0 0h0m-1 0h0m0-1h0m0 1h0m-1-1h0m-1 0h0m-18 1h0m0 1h0m0-1h0m-1 1h0m-1-1h0m0-1h0m-1 0h0m-1 0h0m0 2h0m-1-1h0m0 0h0m-1-1h0m-1 0h0m0 2h0m-3 1h0m1 2h0m2-2h0m0 2h0m2-2h0m1 2h0m0 0h0m1-2h0m0 2h0m1 0h0m20-1h0m1 0h0m1-1h0m0 0h0m1 2h0m0 0h0m1-2h0m0 2h0m1-1h0m0-1h0m0 2h0m1-2h0m0 2h0m-1 1h0m0 0h0m0 0h0m0 1h0m-1 0h0m-1-1h0m0 0h0m0 0h0m0 0h0m-1 0h0m0 0h0m-1 1h0m0 0h0m-1-1h0m-20 1h0m-1-1h0m0 0h0m0 0h0m0 0h0m0 2h0m0 0h0m-1-1h0m0 0h0m0 1h0m0-1h0m-1 1h0m0-1h0m0 1h0m-1-2h0m0 1h0m0 0h0m0-1h0m0 2h0m-1 0h0m-1-2h0m-2 3h0m1 2h0m0-2h0m1 0h0m0 0h0m0 0h0m1 0h0m0 0h0m1 0h0m0 2h0m1 0h0m0-1h0m0-1h0m0 0h0m0 0h0m1 2h0m1-1h0m1 1h0m0-1h0m19 1h0m0 0h0m0 0h0m2 0h0m1 0h0m0-2h0m1 0h0m0 1h0m0 0h0m1 0h0m1 0h0m1 0h0m0 3h0m-1 0h0m0 0h0m-1 1h0m0 0h0m-1-1h0m0 0h0m0 1h0m0 0h0m0-2h0m-2 0h0m-1 0h0m-1 1h0m0-1h0m0 0h0m-1 1h0m-1 1h0m-15-1h0m-1 0h0m0 0h0m-1 0h0m0 1h0m-1 0h0m-2-1h0m0-1h0m-2 2h0m0-2h0m0 0h0m0 3h0m1 2h0m1-1h0m0 0h0m1 0h0m1 1h0m0 0h0m0-1h0m0-1h0m0 0h0m1 2h0m0-1h0m0 0h0m1 1h0m0-2h0m0 1h0m1-1h0m1 2h0m0 0h0m0 0h0m2 0h0m1 0h0m1 0h0m4 0h0m1 0h0m0 0h0m0 0h0m0-1h0m1-1h0m0 0h0m1 2h0m0 0h0m1-2h0m0 1h0m0-1h0m0 0h0m0 0h0m1 1h0m1 1h0m0 0h0m1 0h0m0 0h0m0-2h0m1 2h0m0-1h0m1 0h0m1 0h0m0 0h0m0-1h0m0 0h0m1 2h0m1-2h0m-1 3h0m0 1h0m0-1h0m0 0h0m-1 1h0m0-1h0m0 0h0m-1 2h0m0-2h0m0 0h0m0 0h0m-1 2h0m0-1h0m-1 0h0m0 0h0m0-1h0m-2 0h0m-1 2h0m0-1h0m0-1h0m0 0h0m-1 0h0m0 0h0m-1 2h0m0 0h0m-1-2h0m0 0h0m-1 2h0m0 0h0m0 0h0m0-2h0m-1 2h0m0-1h0m0 1h0m0-1h0m-1 0h0m0 0h0m0-1h0m-1 0h0m0 0h0m-1 0h0m-1 1h0m-1 0h0m0 0h0m-1 1h0m0-2h0m0 0h0m-1 2h0m0-2h0m-1 2h0m0-1h0m0 0h0m0-1h0m0 1h0m-1 0h0m0 1h0m0-1h0m-1 0h0m-1 0h0m0 0h0m0 0h0m0 0h0m0-1h0m-1 1h0m0-1h0m-1 1h0m0-1h0m-1 2h0m-1-1h0m0 0h0m0-1h0m-1 2h0m0 2h0m1 1h0m0-2h0m1 1h0m1 1h0m0 0h0m0-2h0m1 1h0m0 0h0m1 1h0m1 0h0m0-1h0m0 1h0m0-1h0m1 1h0m0-2h0m1 2h0m0 0h0m0-1h0m1-1h0m1 0h0m1 2h0m1 0h0m0-1h0m0 0h0m1 1h0m0-2h0m0 1h0m0-1h0m1 1h0m1 1h0m0-1h0m1 1h0m0-2h0m0 1h0m1 1h0m0 0h0m0-2h0m0 0h0m0 0h0m1 2h0m0-2h0m1 2h0m1-1h0m1 1h0m0-2h0m1 1h0m0-1h0m0 0h0m0 0h0m1 1h0m1 0h0m0 1h0m0-2h0m0 0h0m1 2h0m0-2h0m1 2h0m2-1h0m-2 4h0m0-2h0m-1 1h0m0-1h0m0 0h0m-1 1h0m0-1h0m-2 1h0m-2 0h0m0 1h0m0-1h0m0 0h0m-1 1h0m0 0h0m0 0h0m0 0h0m0-2h0m-1 2h0m0 0h0m-1 0h0m0 0h0m0-1h0m0 0h0m0-1h0m0 0h0m-1 1h0m0 1h0m0 0h0m0-1h0m0 1h0m0-2h0m-1 2h0m0-2h0m-1 0h0m-1 2h0m0-1h0m0-1h0m0 0h0m-1 2h0m0-1h0m0-1h0m0 0h0m0 0h0m-1 2h0m0 0h0m0-1h0m-1-1h0m-1 1h0m0 1h0m0 0h0m0-2h0m-1 2h0m0-2h0m0 0h0m-1 2h0m-1 0h0m0 0h0m-1-2h0m0 0h0m-1 0h0m0 2h0m0 0h0m-1-1h0m-1-1h0m-1 0h0m-1 0h0m3 3h0m0 1h0m0 0h0m1-1h0m1 0h0m0 0h0m0 0h0m1 0h0m0 0h0m0 2h0m1 0h0m1 0h0m1 0h0m0-2h0m1 2h0m0-2h0m2 1h0m1-1h0m1 2h0m0 0h0m0-1h0m1 1h0m0 0h0m0 0h0m0 0h0m0 0h0m0 0h0m1-2h0m0 1h0m1 1h0m1 0h0m1-2h0m1 2h0m0 0h0m1-2h0m0 0h0m0 0h0m1 2h0m1-1h0m1 1h0m0-2h0m-2 5h0m0-1h0m0-1h0m0 0h0m-1 2h0m0-1h0m0-1h0m-1 1h0m-2 0h0m0 1h0m0-1h0m-2 1h0m-1 0h0m-1 0h0m0 0h0m0 0h0m0 0h0m0-2h0m-1 1h0m0-1h0m0 0h0m-1 2h0m0 0h0m0-2h0m-2 2h0m0-1h0m0 1h0m-1-1h0m0 1h0m0-1h0m-1-1h0m-2 0h0m-1 0h0m0 0h0m0 0h0m-1 0h0m5 3h0m1 2h0m0-1h0m0 0h0m1 0h0m0-1h0m1 2h0m0-2h0m0 1h0m0-1h0m0 0h0m0 0h0m1 2h0m0-2h0m1 2h0m0-2h0m1 2h0m0 0h0m0-1h0m0 0h0m1 0h0m0-1h0m0 1h0m1-1h0m1 1h0m3-1h0m0 0h0m0 0h0m-5 5h0m0-2h0m-1 1h0m0-1h0m-1 1h0m-1 1h0m0-1h0m0 1h0m0-2h0m-2 0h0m0 0h0m25 8h0m-2 0h0m-8 0h0m-1 0h0m-3 0h0m0 0h0m-21 0h0m-17 3h0m1 0h0m2 0h0m1-2h0m0 0h0m0 1h0m1-1h0m0 1h0m0 1h0m1-1h0m0 1h0m0 0h0m1-2h0m0 1h0m0-1h0m0 2h0m0 0h0m1-1h0m0 1h0m1-2h0m0 0h0m3 0h0m37 0h0m0 1h0m0 0h0m1 0h0m0 0h0m0-1h0m0 0h0m1 1h0m0 0h0m1-1h0m0 1h0m1 0h0m0 0h0m0-1h0m0 2h0m0 0h0m0 0h0m2 0h0m0 0h0m0 0h0m8 0h0m1 0h0m1-2h0m0 0h0m0 1h0m0 0h0m0 1h0m0 0h0m0 0h0m0 0h0m1-2h0m0 1h0m0 0h0m1-1h0m0 1h0m1 0h0m0 1h0m1-2h0m0 0h0m1 0h0m0 0h0m2 2h0m1-1h0m0 1h0m1-1h0m0 1h0m0 0h0m0 0h0m1-1h0m0 0h0m0-1h0m0 2h0m0 0h0m1-2h0m1 0h0m1 0h0m0 2h0m1-2h0m0 2h0m0 0h0m1-1h0m1-1h0m0 1h0m2 1h0m2 0h0m0 0h0m1 0h0m2 0h0m1 0h0m0 0h0m0 0h0m1 0h0m1 0h0m0 0h0m0 0h0m1 0h0m4 0h0m0 1h0m0 1h0m-1-1h0m0 2h0m0-1h0m-1-1h0m0 2h0m0 0h0m0 0h0m-1-2h0m0 0h0m0 0h0m0 2h0m0-1h0m0 1h0m-1 0h0m-1-2h0m0 1h0m-2 0h0m-1 1h0m0-1h0m0 1h0m-1-2h0m-1 2h0m-1 0h0m0 0h0m-1-1h0m-1-1h0m0 1h0m0 0h0m0 0h0m-1 1h0m0-1h0m0 0h0m0 1h0m-1-2h0m0 2h0m0 0h0m-1 0h0m-1-2h0m0 1h0m-1-1h0m0 1h0m-2-1h0m0 0h0m-1 0h0m0 0h0m-2 0h0m-1 0h0m0 0h0m0 0h0m-1 0h0m0 0h0m-1 0h0m-1 0h0m-1 0h0m0 1h0m0 1h0m0-1h0m0 1h0m0-1h0m-1 0h0m0 0h0m-1-1h0m0 1h0m-1-1h0m0 1h0m-1 1h0m0-1h0m0 0h0m-1-1h0m-1 1h0m0 0h0m-1 1h0m-6-2h0m0 0h0m0 0h0m0 2h0m0 0h0m0 0h0m0-1h0m-1 1h0m-2-2h0m-45 0h0m0 0h0m-3 0h0m0 2h0m-1-2h0m0 1h0m-1-1h0m0 0h0m0 1h0m0 1h0m-1 0h0m0 0h0m-1-2h0m0 1h0m0 0h0m-1-1h0m0 2h0m0 0h0m-1 0h0m-1 3h0m0 0h0m1 0h0m2-1h0m0 0h0m1 0h0m0 0h0m53 0h0m1-1h0m5 2h0m1-2h0m1 0h0m0 0h0m1 1h0m0 1h0m0 0h0m1-1h0m0 0h0m0 1h0m1-1h0m0 0h0m0 0h0m1 0h0m21-1h0m1 0h0m0 0h0m0 1h0m1 0h0m0 0h0m1-1h0m0 2h0m0 0h0m0-1h0m0 0h0m1-1h0m0 1h0m1-1h0m0 2h0m1-2h0m0 1h0m0 0h0m0 1h0m1-1h0m1-1h0m1 2h0m0-2h0m0 0h0m1 0h0m0 0h0m1 1h0m0-1h0m-2 5h0m0 0h0m0 0h0m-2-1h0m0-1h0m0 1h0m-1-1h0m0 0h0m0 1h0m0 1h0m0-1h0m0 0h0m-1-1h0m0 2h0m-1-1h0m0 0h0m-1-1h0m0 0h0m-27 0h0m0 0h0m-1 2h0m0-2h0m0 0h0m0 1h0m-1-1h0m0 0h0m-5 0h0m0 1h0m-1-1h0m0 1h0m0 0h0m-55 0h0m0 0h0m-1-1h0m0 2h0m0 0h0m0-1h0m0 1h0m-1-1h0m0 0h0m-1 0h0m-1 1h0m0-1h0m0 2h0m0 0h0m1 2h0m0-1h0m1 1h0m0-1h0m0-1h0m1 2h0m1-1h0m1 1h0m1-2h0m0 1h0m52 0h0m1 1h0m0-1h0m1 1h0m0-2h0m0 1h0m6 0h0m0 0h0m0 1h0m2-1h0m27 1h0m0 0h0m1 0h0m0-1h0m1 1h0m0 0h0m0-2h0m0 1h0m1 1h0m3 0h0m1-1h0m0 0h0m0 2h0m-2 0h0m-2 0h0m-1 2h0m0 0h0m-1 0h0m0-2h0m0 2h0m0-1h0m0 1h0m0 0h0m0-2h0m-1 2h0m0 0h0m-1 0h0m-26-2h0m-1 0h0m0 0h0m0 0h0m0 1h0m0 1h0m0-1h0m0 1h0m-1-2h0m0 0h0m0 2h0m0-1h0m0 1h0m0-1h0m0 1h0m-1 0h0m0 0h0m0 0h0m-5-2h0m-1 0h0m-53 1h0m-1 0h0m-1-1h0m-1 1h0m0 1h0m0-1h0m-1 1h0m0-1h0m0 0h0m0 1h0m-1-1h0m-2 1h0m0-1h0m1 3h0m1 1h0m0-2h0m0 0h0m2 0h0m1 1h0m0 1h0m2-1h0m1 0h0m1 1h0m1 0h0m49-2h0m1 2h0m0 0h0m0-1h0m1 1h0m0-1h0m4 1h0m0-1h0m1-1h0m1 2h0m1-1h0m0 0h0m1-1h0m0 0h0m23 2h0m1 0h0m0 0h0m1-2h0m1 2h0m0 0h0m0-1h0m0 0h0m0 0h0m1-1h0m0 1h0m2 1h0m1 0h0m0-2h0m0 1h0m1 1h0m0-1h0m-1 2h0m0 2h0m-1-1h0m0 1h0m0 0h0m-1 0h0m0 0h0m-1-1h0m0 1h0m-1 0h0m-2-1h0m0 1h0m0-1h0m0 1h0m0 0h0m-1-1h0m0 0h0m0 0h0m0-1h0m-1 0h0m-20 1h0m-1 0h0m-1 1h0m0-1h0m0-1h0m0 0h0m0 0h0m0 0h0m-1 2h0m0-1h0m-1 1h0m0-2h0m0 1h0m0 0h0m-1 0h0m0-1h0m-1 0h0m-4 2h0m-1-1h0m0 0h0m-1 1h0m0-1h0m0 0h0m0 0h0m-1 1h0m-1-1h0m-44 0h0m-3 1h0m0-2h0m-1 2h0m-2-1h0m0-1h0m-1 1h0m0 1h0m0-2h0m-2 0h0m-1 0h0m2 4h0m1 0h0m1-1h0m0 0h0m1 2h0m1-1h0m1-1h0m1 0h0m1 0h0m3 1h0m43 1h0m1-2h0m0 1h0m2 1h0m0 0h0m4-1h0m0-1h0m1 2h0m0-1h0m0 0h0m0-1h0m1 0h0m1 0h0m0 0h0m0 0h0m0 0h0m1 2h0m1-2h0m0 0h0m0 1h0m0-1h0m0 1h0m0-1h0m0 0h0m1 2h0m0 0h0m0 0h0m0-2h0m0 1h0m1-1h0m0 0h0m1 2h0m0 0h0m0-2h0m1 2h0m1 0h0m2 0h0m0 0h0m0 0h0m0 0h0m8 0h0m4 0h0m0-1h0m1 1h0m0-1h0m1 1h0m0-1h0m0 1h0m0-1h0m0 0h0m2 0h0m1 0h0m0-1h0m1 2h0m0 0h0m0-2h0m0 0h0m1 1h0m1 1h0m0 0h0m0-1h0m1-1h0m0 0h0m0 3h0m-1 0h0m-1 0h0m-1 1h0m0 1h0m0-2h0m-1 0h0m-1 1h0m0 0h0m0-1h0m-1 2h0m0 0h0m-1-1h0m0 0h0m0 1h0m-1-1h0m0 1h0m0-2h0m-2 1h0m0 0h0m0-1h0m0 0h0m-1 1h0m0 0h0m0 1h0m0-1h0m-3 1h0m0 0h0m0-1h0m0 1h0m-1-1h0m-1 0h0m-1 1h0m0-1h0m0 0h0m-1 1h0m0 0h0m0 0h0m-2 0h0m0 0h0m0 0h0m-1 0h0m0 0h0m0-2h0m-2 1h0m0-1h0m-1 2h0m0-2h0m0 0h0m-1 0h0m-1 2h0m0-2h0m0 0h0m-2 2h0m0-1h0m0-1h0m-1 0h0m-1 1h0m0 0h0m0-1h0m-7 1h0m-1 0h0m0-1h0m-1 2h0m0 0h0m-2-1h0m-41 0h0m-1 0h0m0 1h0m-1 0h0m0-2h0m-1 2h0m-2-2h0m-1 2h0m-1 2h0m2 0h0m1 1h0m0 0h0m0-2h0m1 1h0m1 1h0m1 0h0m0-1h0m1 1h0m0-2h0m0 0h0m0 0h0m39 2h0m1 0h0m0-1h0m0 0h0m1 0h0m0 1h0m1 0h0m0-2h0m0 1h0m0-1h0m1 2h0m9-2h0m1 1h0m1 0h0m1-1h0m0 1h0m0-1h0m1 1h0m0 0h0m2-1h0m1 0h0m1 2h0m1 0h0m0 0h0m2-2h0m1 2h0m0-1h0m0 0h0m1 1h0m0-2h0m1 2h0m0 0h0m0-2h0m0 1h0m2 1h0m0 0h0m0-2h0m0 0h0m1 2h0m0-1h0m0 0h0m0-1h0m0 1h0m1 1h0m0-1h0m1 0h0m0-1h0m0 0h0m1 2h0m0-1h0m0-1h0m0 1h0m1 1h0m1-2h0m1 1h0m1 1h0m0-1h0m2-1h0m1 1h0m-2 2h0m-2 0h0m-2 1h0m0-1h0m0 0h0m-1 0h0m-1 2h0m-1-2h0m0 0h0m-1 2h0m0-1h0m0 0h0m-2 0h0m0 0h0m0 1h0m0-2h0m-1 1h0m0 1h0m0 0h0m0-1h0m0 0h0m0 1h0m0-2h0m0 0h0m-1 2h0m0-1h0m0 0h0m0-1h0m0 0h0m0 0h0m-2 2h0m0-2h0m0 0h0m-1 2h0m-1-1h0m-1 1h0m0 0h0m0-2h0m-1 0h0m0 0h0m0 1h0m-1-1h0m0 0h0m0 0h0m-1 0h0m-1 1h0m0 1h0m0 0h0m-1-2h0m0 0h0m-1 0h0m-11 1h0m-1-1h0m0 0h0m-1 1h0m0 1h0m0 0h0m0-1h0m-1 0h0m0 1h0m0 0h0m-1-1h0m-1 0h0m0 1h0m0 0h0m-1-2h0m-1 2h0m-35-1h0m0 0h0m-2 0h0m0-1h0m0 0h0m-1 2h0m0-1h0m0 1h0m0 0h0m0-2h0m-2 0h0m-1 0h0m3 5h0m3-2h0m0 2h0m1 0h0m0-2h0m0 1h0m1-1h0m1 2h0m29-2h0m1 0h0m0 0h0m0 1h0m1-1h0m0 1h0m2 1h0m1-1h0m22 0h0m1-1h0m1 2h0m0-2h0m0 0h0m1 1h0m1 0h0m0 0h0m1-1h0m0 0h0m0 0h0m1 1h0m0 0h0m1-1h0m1 2h0m0-1h0m3-1h0m-3 3h0m-1 2h0m0-2h0m-1 1h0m0 0h0m0 0h0m0-1h0m-1 0h0m-2 2h0m0-1h0m0 0h0m0 0h0m0-1h0m-1 2h0m0-2h0m-23 0h0m-1 2h0m0-2h0m-2 2h0m0 0h0m-1 0h0m-3-2h0m-26 2h0m-1-1h0m0 1h0m0-2h0m0 1h0m-1 0h0m-2 0h0m-2 0h0m-1 0h0m-1 0h0m1 2h0m1 0h0m1 1h0m1 1h0m1-2h0m1 1h0m1 0h0m0-1h0m1 2h0m0 0h0m1 0h0m0 0h0m0 0h0m23 0h0m0-2h0m0 1h0m1 0h0m1 1h0m1-1h0m0 1h0m0-1h0m1 1h0m2-2h0m1 0h0m0 0h0m0 2h0m0-2h0m2 0h0m0 0h0m-2 3h0m-1 1h0m0 0h0m0-1h0m0 0h0m-1 2h0m0-2h0m0 0h0m0 2h0m0 0h0m0-1h0m-3 0h0m0 0h0m-1 0h0m-3 0h0m0 0h0m0 1h0m0 0h0m-1-1h0m-17 1h0m-1-2h0m0 1h0m-1 0h0m0 0h0m-1-1h0m-1 2h0m0-1h0m-1 1h0m-1-1h0m1 2h0m2 0h0m1 2h0m1-2h0m0 2h0m1-2h0m0 1h0m1 1h0m1-2h0m0 1h0m1 1h0m1 0h0m2 0h0m0 0h0m1 0h0m8 0h0m1 0h0m0-2h0m0 1h0m1-1h0m0 1h0m1-1h0m0 0h0m0 1h0m3 1h0m0 0h0m0 0h0m1-2h0m2 0h0m1 0h0m-2 3h0m-2 2h0m0-2h0m-2 1h0m-1 0h0m-2 0h0m-1-1h0m0 2h0m0-2h0m-2 2h0m0 0h0m0 0h0m0 0h0m-1 0h0m-1-1h0m-1 0h0m-1 0h0m-1 1h0m-2-1h0m0 1h0m0-2h0m-1 1h0m0 0h0m0-1h0m-1 1h0m-1 1h0m-1-1h0m-1 1h0m0-1h0m-1-1h0m-1 1h0m0 1h0m-1-1h0m0 1h0m-1 0h0m0-1h0m4 4h0m1 0h0m0-2h0m0 1h0m0-1h0m2 0h0m2 0h0m1 2h0m0-1h0m1 1h0m0 0h0m1-1h0m0-1h0m1 2h0m0-1h0m1 1h0m0-1h0m0 0h0m0-1h0m0 0h0m0 1h0m0-1h0m1 0h0m1 0h0m0 0h0m1 1h0m0 0h0m1-1h0m0 0h0m1 1h0m0-1h0m0 0h0m1 1h0m0 0h0m1 1h0m0-1h0m2 1h0m1-2h0m0 1h0m0 3h0m-1 0h0m-1 0h0m0 0h0m-2 1h0m0-2h0m-3 1h0m0 0h0m0-1h0m0 0h0m-1 0h0m-1 2h0m-1-2h0m-1 1h0m-2 1h0m0-1h0m0-1h0m-2 1h0m0-1h0m-1 0h0m-1 2h0m-2-1h0m0-1h0m0 0h0m-2 0h0m4 3h0m2 0h0m1 0h0m1 1h0m0 0h0m0-1h0m2 0h0m2 0h0m1 0h0m0 0h0m1 2h0m0-2h0m0 1h0m0-1h0m1 0h0m1 2h0m0-2h0m0 1h0m1 1h0m0 0h0m0-2h0m0 1h0m1 1h0m0-2h0m2 1h0m0 0h0m1 4h0m-1-1h0m-2 0h0m0 1h0m-1-2h0m0 2h0m0 0h0m-2-1h0m-1-1h0m-2 2h0m-2 0h0m-1-2h0m0 1h0m3 2h0m1 2h0m0-1h0m0 0h0m1-1h0m0 1h0m2-1h0m1 1h0m1-1h0m0 0h0m0 1h0m0 2h0m-1 2h0m0-2h0m-1 0h0m-1 1h0m0 1h0m-1 0h0m0-1h0m-2-1h0m0 0h0" stroke="#4e72c8" stroke-width="2.3" stroke-linecap="round" transform="scale(0.5)"/>
<path d="M907 86h0m0 0h0m1 0h0m1-2h0m0 2h0m0 0h0m1 0h0m1 0h0m1 0h0m0 0h0m0 0h0m0 0h0m1 2h0m0 0h0m-1-1h0m0 1h0m0 1h0m0-1h0m-1 1h0m0-1h0m0 1h0m0 0h0m-1-2h0m0 0h0m0 2h0m0 0h0m0 0h0m-1-1h0m0 1h0m0 0h0m-1 0h0m-1-2h0m0 0h0m0 2h0m-1-2h0m0 0h0m0 1h0m-1 0h0m0 1h0m-1-1h0m0 0h0m-1 2h0m1 0h0m0 1h0m0 1h0m1-2h0m0 0h0m0 0h0m0 1h0m1 0h0m1 0h0m0 1h0m0 0h0m1-2h0m1 0h0m0 2h0m1-2h0m0 1h0m0 0h0m0 1h0m0 0h0m1-2h0m0 0h0m0 0h0m0 2h0m1-2h0m0 0h0m0 1h0m0 1h0m0 0h0m1-2h0m0 0h0m0 0h0m0 2h0m0 0h0m1-1h0m0 0h0m0 0h0m0-1h0m0 1h0m0 1h0m0 0h0m1-2h0m0 4h0m-1-1h0m0 1h0m0 1h0m0 0h0m0 0h0m-1-2h0m0 0h0m0 2h0m0 0h0m-1-2h0m0 1h0m0 0h0m-1-1h0m0 1h0m0 0h0m-1-1h0m0 1h0m0 0h0m-1-1h0m-1 1h0m0 1h0m0 0h0m-1-2h0m0 1h0m0 1h0m0-1h0m0 1h0m0-1h0m0 0h0m-1-1h0m0 2h0m-1-2h0m0 2h0m0-1h0m0 0h0m0 1h0m0 0h0m-1-2h0m0 0h0m0 0h0m0 0h0m0 1h0m0 0h0m-1-1h0m0 1h0m0 0h0m0 0h0m-1 0h0m-1 0h0m0 0h0m0 0h0m-1 1h0m0-1h0m0 0h0m-1 1h0m0-1h0m1 3h0m0-1h0m1 2h0m0 0h0m0 0h0m1-1h0m1-1h0m0 1h0m1-1h0m0 0h0m0 0h0m0 1h0m0 1h0m1-2h0m0 2h0m0 0h0m0-2h0m0 2h0m1-1h0m0-1h0m0 0h0m0 2h0m0 0h0m0 0h0m0 0h0m1-2h0m0 1h0m0 1h0m0 0h0m1-2h0m0 1h0m0 0h0m0 1h0m1-2h0m0 1h0m0 0h0m0 0h0m0 1h0m1-2h0m0 2h0m1-2h0m0 1h0m1 0h0m0-1h0m0 1h0m1 0h0m0 0h0m0-1h0m0 1h0m0 0h0m0-1h0m1 0h0m0 0h0m0 1h0m0 1h0m1-2h0m0 0h0m1 4h0m-1 1h0m0-1h0m-1-1h0m0 1h0m0 0h0m0 1h0m-1 0h0m0-1h0m0 1h0m0-1h0m-1-1h0m0 0h0m0 0h0m0 0h0m0 2h0m0 0h0m0 0h0m-1-2h0m0 0h0m0 2h0m0 0h0m-1 0h0m0 0h0m0-1h0m0 0h0m-1 1h0m0-2h0m0 2h0m0-1h0m0 1h0m-1-2h0m0 0h0m0 1h0m0 1h0m-1-2h0m0 0h0m0 0h0m0 0h0m0 2h0m0-1h0m-1-1h0m0 0h0m0 1h0m0 0h0m0 1h0m-1-1h0m0 0h0m0 1h0m-1-2h0m0 0h0m0 1h0m0 0h0m0 1h0m-1 0h0m0 0h0m0 0h0m-1 0h0m0-1h0m0 0h0m-1-1h0m0 1h0m0 0h0m-1 1h0m0 0h0m0-1h0m-1-1h0m-2 4h0m0 0h0m1 0h0m0 0h0m0-1h0m0 1h0m0 1h0m0 0h0m1-2h0m1 0h0m1 2h0m0 0h0m0 0h0m1-1h0m0 0h0m0 0h0m1 1h0m0-1h0m1 1h0m0 0h0m0-1h0m0-1h0m0 0h0m0 1h0m0-1h0m0 0h0m1 1h0m0-1h0m0 1h0m0-1h0m0 0h0m1 2h0m0-1h0m0 0h0m0 0h0m1 1h0m0-2h0m0 1h0m1 1h0m0-2h0m0 0h0m0 1h0m1 0h0m0 0h0m0-1h0m0 0h0m0 1h0m0 0h0m0-1h0m0 1h0m1 1h0m0 0h0m0-2h0m0 0h0m0 0h0m0 1h0m1 1h0m0 0h0m0 0h0m0 0h0m0-2h0m1 2h0m1-2h0m0 2h0m0-1h0m1-1h0m0 1h0m0 0h0m0 0h0m0 0h0m0 1h0m1-1h0m0 1h0m1-1h0m0-1h0m0 0h0m0 2h0m0 0h0m1-1h0m0 1h0m0 2h0m0 0h0m0 0h0m0 0h0m0-1h0m0 0h0m-1 1h0m0 1h0m0 0h0m0 0h0m-1-1h0m0-1h0m0 2h0m0-2h0m-1 2h0m0 0h0m0-1h0m-1-1h0m0 1h0m0-1h0m0 0h0m0 0h0m-1 1h0m0 0h0m0-1h0m0 0h0m-1 0h0m0 1h0m-1 0h0m0 1h0m0-2h0m-1 2h0m0 0h0m0 0h0m0-2h0m0 0h0m-1 1h0m0 0h0m0-1h0m-1 2h0m0 0h0m0 0h0m0-1h0m0-1h0m0 0h0m0 0h0m-1 0h0m0 0h0m-1 2h0m0-1h0m0 1h0m0-1h0m-1 0h0m0-1h0m0 0h0m0 0h0m-2 1h0m0 0h0m0 1h0m0 0h0m0-1h0m0-1h0m-1 1h0m0-1h0m0 0h0m0 2h0m0-2h0m-1 0h0m-1 0h0m0 2h0m0 0h0m0-2h0m-1 0h0m0 0h0m0 0h0m0 2h0m-1-1h0m1 3h0m0 0h0m0 0h0m1 1h0m0-2h0m0 2h0m1 0h0m0 0h0m0-2h0m0 1h0m1 1h0m0-1h0m1 1h0m0-1h0m0 0h0m0 0h0m0-1h0m1 1h0m1 1h0m0-1h0m0 0h0m0 0h0m1 1h0m0 0h0m0-2h0m0 1h0m1 1h0m0 0h0m0 0h0m0 0h0m0-1h0m0-1h0m0 0h0m0 0h0m1 2h0m0 0h0m0 0h0m0-1h0m1 1h0m1 0h0m0-2h0m0 1h0m1 1h0m0-1h0m0-1h0m1 2h0m0 0h0m0-2h0m0 1h0m0-1h0m0 0h0m1 1h0m1 1h0m0 0h0m0 0h0m0 0h0m0-1h0m0-1h0m0 0h0m0 1h0m0 0h0m0-1h0m0 1h0m1-1h0m0 1h0m1 1h0m0 0h0m1-2h0m0 1h0m0 0h0m0 0h0m0 0h0m-2 2h0m-1 0h0m-1 1h0m0 0h0m0 0h0m0-1h0m0 0h0m0 0h0m-1 1h0m-1 0h0m0 1h0m0-2h0m-1 1h0m0 1h0m0-2h0m-1 2h0m0-2h0m-1 1h0m0-1h0m-1 0h0m-1 2h0m0 0h0m0-1h0m-1 1h0m0 0h0m0-2h0m-1 0h0m0 0h0m0 0h0m-1 2h0m0-1h0m0-1h0m0 0h0m-1 1h0m0 0h0m0 1h0m0 0h0m0-2h0m0 0h0m0 0h0m-1 2h0m0 0h0m0-1h0m0 1h0m0-1h0m0 1h0m-1-2h0m-2 0h0m2 4h0m1 0h0m0 0h0m0-1h0m1 1h0m0-1h0m1 0h0m1 0h0m1 1h0m0 0h0m0-1h0m0 0h0m1 1h0m0 0h0m1 0h0m2-1h0m0 0h0m1 0h0m2 29h0m-1 0h0m0 0h0m-1 0h0m-2 0h0m-6 0h0m-15 3h0m0 0h0m0 0h0m1 0h0m1-1h0m1 0h0m0 1h0m1-2h0m0 0h0m0 0h0m0 0h0m1 0h0m1 1h0m0-1h0m0 1h0m0-1h0m0 1h0m0-1h0m0 0h0m0 1h0m1 0h0m0 0h0m0 0h0m0 0h0m0-1h0m0 1h0m1-1h0m0 1h0m1-1h0m0 1h0m14-1h0m0 1h0m1 0h0m0 0h0m0 0h0m0 0h0m1 0h0m0-1h0m0 1h0m0 0h0m1 0h0m0-1h0m0 0h0m1 1h0m2-1h0m0 1h0m1 0h0m0-1h0m1 0h0m0 1h0m0 0h0m0-1h0m1 1h0m0 0h0m0 0h0m1 0h0m0 1h0m1 0h0m1-2h0m0 1h0m0 0h0m0 1h0m1-1h0m0 0h0m0-1h0m1 1h0m0-1h0m0 2h0m0 0h0m0 0h0m3 0h0m26 3h0m0-1h0m-1 0h0m0 0h0m0 1h0m-1 0h0m0 0h0m0-1h0m0 1h0m0 0h0m0-1h0m-1 0h0m0 0h0m0 1h0m0-1h0m-1 0h0m-1 1h0m0 0h0m0-1h0m-1 1h0m0-1h0m0 0h0m-1 0h0m-1 1h0m0-1h0m-18-1h0m0 0h0m0 2h0m0 0h0m-1-2h0m0 0h0m0 2h0m0 0h0m0-1h0m-1-1h0m0 2h0m-1 0h0m0 0h0m-1-2h0m-1 0h0m-2 0h0m-31 0h0m0 0h0m-1 1h0m-1-1h0m0 1h0m-1 0h0m0 0h0m-1-1h0m0 1h0m0 0h0m0 1h0m0-1h0m-2 0h0m0 1h0m0-1h0m-1 0h0m0 1h0m-1 0h0m-1 0h0m-1 2h0m0 0h0m1 1h0m1-1h0m1 1h0m1-1h0m0 1h0m0 0h0m0 0h0m2-2h0m0 0h0m0 0h0m0 1h0m40-1h0m0 1h0m0 0h0m1 0h0m0 0h0m1-1h0m0 0h0m0 1h0m1 1h0m0 0h0m0-1h0m0-1h0m1 1h0m0-1h0m0 2h0m1-1h0m0 0h0m0 1h0m11 0h0m0 0h0m1 0h0m0 0h0m0-1h0m1-1h0m0 0h0m0 1h0m0 0h0m0 0h0m0 0h0m0 0h0m0 1h0m1-1h0m0 1h0m0-1h0m1 0h0m0 0h0m0-1h0m0 2h0m1-2h0m0 1h0m1 0h0m0-1h0m0 1h0m0 0h0m0 1h0m1-2h0m0 2h0m1-1h0m0-1h0m0 0h0m0 2h0m1-2h0m0 2h0m0 0h0m1 0h0m1-2h0m0 0h0m0 2h0m0 0h0m1-2h0m0 1h0m0 1h0m0 0h0m0 0h0m1-1h0m0 1h0m0 0h0m0 0h0m1 0h0m1-1h0m0 0h0m0 1h0m1 0h0m1-2h0m0 0h0m0 1h0m0 0h0m0 1h0m0 0h0m0 0h0m1-1h0m0 0h0m0 0h0m1 0h0m0 0h0m0-1h0m0 1h0m0 1h0m0 0h0m1-1h0m0 0h0m0-1h0m1 1h0m0 0h0m0 0h0m1 1h0m1 0h0m2 2h0m0 1h0m-1 0h0m-1 0h0m0 0h0m-1-2h0m0 0h0m0 1h0m0 1h0m0 0h0m-1-2h0m0 1h0m-1 1h0m-1-2h0m0 0h0m0 2h0m0 0h0m0 0h0m-1-1h0m-1-1h0m0 0h0m0 0h0m0 2h0m-1-1h0m0 0h0m-1-1h0m0 0h0m0 0h0m0 2h0m0-1h0m0 0h0m-1 1h0m0-1h0m0 0h0m-1 1h0m0 0h0m0-1h0m0 1h0m-1-1h0m0 1h0m0-1h0m-1 1h0m-1-2h0m0 0h0m0 1h0m0 0h0m0 1h0m0-1h0m0 0h0m-1-1h0m0 0h0m0 2h0m0-1h0m-1-1h0m0 0h0m0 0h0m0 2h0m0 0h0m0 0h0m-1-2h0m0 1h0m0 0h0m-1 0h0m-1-1h0m-2 1h0m0 0h0m-1-1h0m0 2h0m0-1h0m0 1h0m0 0h0m0 0h0m-1-2h0m0 1h0m0-1h0m0 1h0m-1-1h0m0 0h0m-11 0h0m-1 0h0m-1 2h0m0-1h0m0 0h0m-1 1h0m0 0h0m0-1h0m0 1h0m-1 0h0m-42-2h0m0 1h0m-1-1h0m0 1h0m0 1h0m-1 0h0m0-1h0m0 1h0m0-1h0m0 1h0m-1-2h0m0 1h0m-1 0h0m0 1h0m-1-2h0m0 0h0m0 5h0m0 0h0m0 0h0m0 0h0m1 0h0m0 0h0m2 0h0m0 0h0m0-2h0m0 0h0m0 0h0m1 0h0m0 1h0m44-1h0m0 1h0m1 1h0m0-2h0m0 0h0m1 2h0m0-2h0m0 0h0m0 1h0m1 1h0m0-1h0m10 1h0m1-1h0m0 1h0m1-2h0m0 2h0m1-2h0m0 0h0m0 2h0m1-2h0m0 2h0m0 0h0m0-2h0m0 0h0m0 1h0m1-1h0m0 0h0m0 1h0m0-1h0m0 0h0m0 2h0m0 0h0m0 0h0m0 0h0m1-1h0m1-1h0m0 1h0m0 0h0m1-1h0m0 1h0m0-1h0m0 2h0m0 0h0m0 0h0m0-2h0m1 2h0m0 0h0m0-2h0m0 1h0m0-1h0m0 0h0m0 1h0m1 1h0m0 0h0m0-1h0m0-1h0m1 2h0m0-1h0m0 0h0m0 0h0m0 0h0m1 1h0m0 0h0m0-2h0m0 1h0m1 1h0m0 0h0m0-1h0m0 0h0m1 1h0m0-2h0m0 0h0m0 0h0m0 1h0m1 1h0m0-1h0m0-1h0m0 1h0m1 1h0m0-2h0m1 0h0m1 2h0m0 0h0m1-2h0m0 0h0m0 2h0m0 0h0m0 0h0m1-1h0m0 1h0m0-2h0m0 1h0m0 0h0m0 0h0m1 0h0m0 1h0m1-1h0m0 0h0m0-1h0m0 2h0m1-2h0m0 0h0m0 1h0m0-1h0m0 1h0m0 1h0m0 0h0m0 0h0m1-2h0m0 1h0m0 0h0m1 1h0m0 0h0m0-2h0m0 1h0m1 1h0m0 0h0m0-2h0m0 1h0m0 4h0m0-2h0m0 0h0m0 0h0m-1 1h0m0 1h0m-1-1h0m0 1h0m0-1h0m-1 0h0m0 0h0m0-1h0m-1 2h0m0-2h0m0 0h0m0 1h0m0 0h0m-1 0h0m0 1h0m0-1h0m0 1h0m-2 0h0m0 0h0m0-1h0m0 1h0m0 0h0m0-1h0m-1 1h0m0 0h0m0 0h0m0-1h0m0-1h0m-1 2h0m0-1h0m0-1h0m-1 2h0m0-1h0m0 1h0m0-2h0m0 0h0m-1 1h0m0-1h0m0 0h0m0 0h0m-4 1h0m0 1h0m0 0h0m0-2h0m-1 0h0m0 0h0m-1 2h0m0 0h0m0-2h0m-1 2h0m0 0h0m0-1h0m0-1h0m-1 1h0m0 0h0m0-1h0m-1 2h0m0-2h0m0 2h0m0 0h0m0 0h0m-1 0h0m0 0h0m0-2h0m-1 2h0m0 0h0m0-2h0m0 0h0m0 1h0m-1 1h0m0-1h0m0 0h0m0 1h0m0 0h0m0 0h0m0-2h0m0 0h0m-1 0h0m-1 1h0m0 0h0m-11 0h0m0-1h0m0 0h0m-1 0h0m-2 2h0m0-2h0m-1 1h0m-1 0h0m0 1h0m0-1h0m-1 0h0m-38 1h0m-1 0h0m0 0h0m0 0h0m0-1h0m-1 1h0m0-2h0m-1 0h0m-1 2h0m0-2h0m0 1h0m-1 0h0m-2-1h0m0 0h0m2 3h0m1 0h0m0 0h0m0 1h0m0 0h0m1 1h0m0 0h0m0-2h0m0 0h0m1 2h0m0-2h0m1 1h0m0 0h0m0-1h0m1 2h0m0-1h0m2 0h0m0-1h0m2 2h0m34-1h0m1 1h0m1 0h0m0-1h0m0 1h0m0-1h0m0 0h0m0-1h0m0 0h0m0 1h0m1 1h0m0-2h0m0 1h0m0 0h0m1 1h0m1-1h0m0 0h0m1 1h0m0-2h0m0 1h0m0 0h0m10 1h0m1 0h0m0-2h0m0 0h0m0 1h0m0 0h0m1 1h0m0-1h0m1 0h0m0-1h0m0 0h0m1 2h0m0-1h0m1 1h0m0-2h0m1 0h0m0 1h0m1-1h0m0 1h0m1 1h0m0-2h0m0 0h0m0 1h0m1 1h0m0 0h0m0 0h0m0 0h0m0 0h0m0-2h0m0 0h0m1 2h0m0-2h0m0 0h0m0 1h0m0-1h0m1 2h0m0-1h0m0-1h0m0 1h0m1-1h0m0 0h0m1 1h0m0-1h0m0 1h0m1-1h0m1 2h0m0-2h0m1 2h0m0-1h0m0-1h0m0 0h0m0 0h0m1 2h0m0 0h0m0-1h0m0-1h0m0 0h0m0 0h0m1 1h0m0-1h0m0 1h0m1 1h0m0 0h0m0-2h0m0 0h0m0 0h0m1 2h0m0 0h0m0 0h0m0 0h0m0-2h0m2 2h0m0 0h0m0-2h0m1 1h0m-2 4h0m0-2h0m-1 2h0m-1 0h0m0-1h0m0 1h0m0-2h0m0 0h0m-1 1h0m0-1h0m0 0h0m-1 2h0m0 0h0m0-2h0m0 0h0m0 0h0m-1 2h0m0-1h0m0-1h0m-1 2h0m0 0h0m-1-1h0m0 1h0m0-2h0m0 0h0m-1 1h0m0 0h0m0 1h0m0-1h0m0-1h0m-1 2h0m-1 0h0m0-2h0m0 0h0m-1 1h0m0-1h0m-1 2h0m0 0h0m0-2h0m-1 0h0m0 0h0m-1 2h0m0-2h0m-1 2h0m0-1h0m0 1h0m0-2h0m0 0h0m-1 2h0m0-2h0m-2 1h0m0 0h0m0 1h0m0-2h0m-1 0h0m0 0h0m-1 0h0m-11 0h0m-1 0h0m0 0h0m-1 0h0m0 1h0m-1 0h0m0 0h0m-1 0h0m0-1h0m0 0h0m-1 2h0m0 0h0m-1 0h0m0 0h0m-1-1h0m-31 0h0m-1 0h0m0 1h0m-2 0h0m-1 0h0m0-2h0m0 0h0m-1 1h0m-1 0h0m0-1h0m0 0h0m0 1h0m0 1h0m-2-2h0m-1 0h0m0 0h0m4 3h0m0 0h0m0 1h0m0 0h0m0-1h0m1 1h0m0 0h0m0 0h0m1 0h0m0 0h0m1 1h0m0-1h0m1 1h0m0 0h0m0 0h0m0-2h0m0 0h0m0 0h0m0 0h0m1 1h0m0 1h0m29 0h0m0 0h0m0 0h0m1-1h0m1 1h0m0-2h0m1 2h0m0-2h0m1 2h0m0 0h0m0-2h0m0 1h0m0 0h0m0 0h0m1 0h0m1 1h0m0-1h0m0-1h0m1 2h0m0-1h0m16-1h0m0 1h0m1-1h0m1 0h0m0 1h0m1-1h0m0 0h0m0 0h0m1 0h0m0 0h0m2 2h0m0 0h0m0 0h0m0-2h0m0 1h0m0 0h0m1 1h0m0-2h0m0 0h0m0 1h0m0-1h0m1 1h0m0-1h0m1 2h0m0-1h0m0-1h0m0 0h0m1 1h0m0-1h0m1 2h0m0-2h0m0 0h0m1 2h0m0 0h0m1-1h0m0-1h0m0 1h0m0 0h0m0 0h0m0-1h0m1 0h0m0 1h0m-4 2h0m-3 0h0m0 0h0m0 0h0m-1 0h0m-2 0h0m-22 2h0m0 0h0m0 0h0m-1-1h0m0 1h0m-1-2h0m-1 1h0m0-1h0m-1 2h0m0-2h0m0 0h0m-1 1h0m0-1h0m-1 1h0m0-1h0m0 2h0m0-1h0m-1 0h0m-1 0h0m-24 1h0m0-1h0m0-1h0m0 0h0m-1 1h0m0 1h0m-1-1h0m-2 1h0m-1 0h0m-1 0h0m-2-2h0m3 5h0m0-1h0m0-1h0m1 1h0m0 1h0m0-1h0m1-1h0m0 0h0m1 2h0m0-2h0m0 0h0m1 2h0m0-2h0m0 0h0m1 2h0m0-1h0m0-1h0m20 2h0m1 0h0m1 0h0m0 0h0m0 0h0m1 0h0m0 0h0m1-1h0m0 0h0m1 1h0m1-1h0m0 0h0m1 0h0m0-1h0m0 0h0m0 0h0m1 1h0m1 0h0m0-1h0m1 1h0m-2 3h0m0 0h0m-1 1h0m0-2h0m0 0h0m0 0h0m-1 1h0m-1 1h0m0-2h0m-1 2h0m-2-1h0m0 1h0m0-1h0m0-1h0m-1 2h0m0 0h0m0 0h0m0-1h0m0 0h0m0 1h0m0-2h0m-1 1h0m0 1h0m0-1h0m0 1h0m-19 0h0m0-1h0m0 1h0m-1 0h0m0-1h0m0-1h0m0 1h0m0 0h0m-1 1h0m0-2h0m0 0h0m-1 0h0m0 2h0m0-2h0m-1 1h0m0 0h0m0 0h0m-1 1h0m0-1h0m0-1h0m0 2h0m-1-1h0m1 2h0m2 1h0m1 1h0m0 0h0m0-2h0m1 1h0m0 1h0m0-2h0m1 0h0m0 1h0m1 1h0m1 0h0m0 0h0m0-2h0m1 2h0m10 0h0m0 0h0m1 0h0m0 0h0m1-2h0m0 1h0m1-1h0m0 0h0m1 2h0m0 0h0m0-1h0m1 0h0m2 1h0m0-2h0m0 1h0m1 1h0m0-1h0m0 0h0m0-1h0m1 1h0m0 0h0m1 0h0m1 0h0m-1 4h0m0-1h0m-1 0h0m0-1h0m-1 2h0m-1-1h0m0 1h0m0-2h0m0 0h0m-1 2h0m-1-1h0m0-1h0m0 0h0m0 0h0m-1 1h0m-1 1h0m0 0h0m-1 0h0m-2 0h0m0-1h0m-1 1h0m-1 0h0m0-1h0m-1 1h0m0-1h0m-1 1h0m0-1h0m-2 1h0m0-1h0m-1 1h0m0-1h0m0 1h0m0-1h0m-1 1h0m-1-1h0m0 0h0m-1-1h0m0 2h0m-1-2h0m-1 2h0m0-1h0m-1 0h0m0 1h0m0-2h0m0 0h0m-1 2h0m2 1h0m0 1h0m1 0h0m1 1h0m0-1h0m1 1h0m0-1h0m1 1h0m0-1h0m2 1h0m0 0h0m0 0h0m0-1h0m0-1h0m0 0h0m1 1h0m0 0h0m1 0h0m0 0h0m1 1h0m0-2h0m0 1h0m0 0h0m0-1h0m1 2h0m0 0h0m2 0h0m0-1h0m0-1h0m0 0h0m2 2h0m0 0h0m0-1h0m0-1h0m0 0h0m0 1h0m1-1h0m0 1h0m0 0h0m0 0h0m1 0h0m0-1h0m1 2h0m0-1h0m0-1h0m0 1h0m1-1h0m0 2h0m0 0h0m0-1h0m0-1h0m1 2h0m0-1h0m0 0h0m0-1h0m1 0h0m0 0h0m-3 3h0m-1 2h0m0-1h0m0 1h0m0 0h0m0 0h0m0-1h0m-2 1h0m-1 0h0m-1-1h0m0-1h0m-1 2h0m0-2h0m-1 1h0m-1 0h0m0 0h0m0-1h0m-1 2h0m0 0h0m-1-2h0m-1 1h0m0 0h0m0-1h0m-1 1h0m0-1h0m0 0h0m0 0h0m0 0h0m-2 2h0m0 0h0m-1-2h0m3 3h0m0 0h0m1 0h0m0 1h0m0 0h0m0 0h0m1-1h0m1 1h0m3 0h0m1 1h0m0-2h0m0 1h0m2-1h0m2 0h0m0 1h0m0-1h0m0 1h0m-3 2h0m-1 0h0m-2 0h0m0 0h0m0 0h0m-1 0h0" stroke="#3c7ccc" stroke-width="2.6" stroke-linecap="round" transform="scale(0.5)"/>
<path d="M890 146h0m0 0h0m1 0h0m0 0h0m2 0h0m0 0h0m1 0h0m1-1h0m0 1h0m1-2h0m0 2h0m0 0h0m0 0h0m1 0h0m0 0h0m0 0h0m0 0h0m0 0h0m1-2h0m0 1h0m0 0h0m0-1h0m0 2h0m1-2h0m0 1h0m1 0h0m0-1h0m0 1h0m0 1h0m0 0h0m0 0h0m1-2h0m0 1h0m0 0h0m0-1h0m1 0h0m0 1h0m0 0h0m0 0h0m0-1h0m0 1h0m1 0h0m0-1h0m0 0h0m0 1h0m0 0h0m1 0h0m0 0h0m0 0h0m0-1h0m1 1h0m0-1h0m1 0h0m0 0h0m0 0h0m1 0h0m0 1h0m1-1h0m0 0h0m0 2h0m0 0h0m0 0h0m0 0h0m3 0h0m2 0h0m0 0h0m2 0h0m0 0h0m1 0h0m0 0h0m0 0h0m0 0h0m0 0h0m1 0h0m0 0h0m4 2h0m-1 0h0m-1 1h0m0-1h0m-1 0h0m0 0h0m0 1h0m0-1h0m0 1h0m-1-1h0m0 0h0m0 0h0m0 0h0m-1-1h0m0 1h0m0 1h0m0 0h0m0-1h0m-1-1h0m0 2h0m0 0h0m0-1h0m0 1h0m0 0h0m-1-2h0m-1 0h0m-1 0h0m-2 0h0m0 0h0m-2 0h0m-1 0h0m-6 0h0m0 0h0m0 0h0m0 0h0m-1 0h0m-2 0h0m0 0h0m0 0h0m-1 0h0m-1 0h0m-1 0h0m0 0h0m0 0h0m0 0h0m0 0h0m-1 0h0m0 0h0m0 0h0m-1 0h0m0 0h0m0 0h0m0 0h0m-1 0h0m0 0h0m-1 0h0m0 1h0m0 0h0m-2 1h0m0-1h0m-1 0h0m0 0h0m-1 1h0m-3 3h0m1 0h0m0-1h0m0 1h0m1 0h0m0 0h0m1-1h0m0 0h0m0-1h0m0 2h0m0 0h0m1-2h0m0 2h0m1-1h0m0-1h0m0 2h0m0 0h0m0 0h0m28-2h0m1 0h0m0 1h0m0-1h0m0 1h0m1 0h0m0 0h0m0 0h0m1 0h0m0 1h0m1-2h0m0 2h0m0 0h0m0 0h0m0 0h0m1 0h0m1-1h0m0 0h0m2 1h0m0 1h0m0 0h0m0 1h0m0 0h0m-1-1h0m0 2h0m0-1h0m-1 1h0m0-2h0m0 2h0m-1-2h0m0 0h0m0 2h0m0-1h0m0 1h0m-1-2h0m0 0h0m-1 1h0m0 1h0m-1 0h0m-30-2h0m-2 1h0m0 0h0m0 0h0m-1-1h0m0 1h0m0 0h0m0 1h0m0 0h0m-1-2h0m0 1h0m0 0h0m0 0h0m0-1h0m-1 2h0m-1-2h0m0 3h0m1 2h0m0 0h0m0-2h0m1 2h0m0-2h0m0 1h0m0 0h0m0-1h0m0 1h0m0 0h0m0-1h0m1 2h0m0-1h0m0-1h0m0 0h0m0 0h0m1 1h0m0-1h0m1 2h0m1 0h0m30 0h0m0-2h0m0 0h0m1 0h0m0 0h0m0 1h0m0 0h0m1-1h0m0 1h0m0 0h0m0-1h0m0 0h0m0 1h0m1-1h0m0 1h0m1 0h0m0 1h0m0-2h0m1 2h0m0 0h0m0 0h0m0 0h0m0-1h0m0-1h0m1 1h0m0-1h0m-1 3h0m-1 2h0m0-2h0m-1 1h0m0 0h0m0 0h0m0 1h0m-2-1h0m0 0h0m-29 1h0m0-1h0m0 0h0m0 0h0m-1 0h0m0 0h0m0 0h0m0 1h0m-1 0h0m0-1h0m-1 0h0m0 0h0m-1 1h0m0-2h0m-1 1h0m0 1h0m0-2h0m0 0h0m0 0h0m-1 0h0m0 2h0m0-2h0m-1 0h0m3 4h0m0-1h0m1 1h0m1-1h0m0 1h0m1 1h0m0-1h0m0-1h0m0 0h0m1 1h0m0-1h0m0 1h0m1 1h0m0 0h0m0 0h0m0 0h0m0-1h0m0 0h0m0-1h0m0 0h0m1 2h0m0 0h0m0 0h0m0 0h0m0-2h0m1 2h0m1 0h0m0 0h0m0 0h0m22 0h0m1 0h0m0-1h0m0-1h0m0 0h0m0 0h0m1 2h0m0 0h0m1 0h0m0-2h0m0 1h0m1 0h0m1 1h0m0 0h0m0-1h0m0-1h0m1 3h0m-1 0h0m-1 2h0m0-1h0m0 1h0m0 0h0m0-2h0m0 0h0m-1 2h0m0-2h0m-1 2h0m0 0h0m-1 0h0m0 0h0m0 0h0m0-1h0m0 1h0m0-2h0m0 0h0m-21 1h0m-1 1h0m0-1h0m0 1h0m0 0h0m-1-1h0m0 0h0m0 0h0m0 0h0m-1 0h0m-2 1h0m0-1h0m0-1h0m-1 0h0m0 2h0m1 1h0m0 0h0m1 0h0m0 2h0m0-1h0m1 1h0m0-1h0m0 0h0m1-1h0m0 0h0m1 2h0m0-2h0m1 0h0m1 2h0m1 0h0m0 0h0m14 0h0m2 0h0m1-2h0m1 2h0m1 0h0m0 0h0m0-2h0m0 0h0m0 1h0m2 0h0m0 0h0m0-1h0m0 1h0m1-1h0m-2 3h0m-1 0h0m-1 0h0m-1 1h0m0 1h0m0-2h0m0 0h0m-1 2h0m0-1h0m-1 0h0m0 0h0m0-1h0m0 0h0m0 0h0m0 0h0m0 0h0m-1 1h0m0 1h0m0-1h0m-1 0h0m-13 0h0m-1 1h0m0 0h0m0 0h0m0 0h0m0-2h0m0 0h0m-1 1h0m0 0h0m0-1h0m-1 1h0m0 1h0m0 0h0m0-2h0m-1 1h0m0 0h0m0-1h0m-1 2h0m0 0h0m0 0h0m0-1h0m0 4h0m0-2h0m1 0h0m0 0h0m0 0h0m0 0h0m0 1h0m0 0h0m0-1h0m1 2h0m0-1h0m1-1h0m1 2h0m0 0h0m0 0h0m0 0h0m0 0h0m0-1h0m0-1h0m1 2h0m0-1h0m1 1h0m0 0h0m0 0h0m0-2h0m0 0h0m0 1h0m0 0h0m0 0h0m1 1h0m0 0h0m0-1h0m0-1h0m1 2h0m0-2h0m1 2h0m0 0h0m0-1h0m1 1h0m0 0h0m0 0h0m0-1h0m1-1h0m0 0h0m1 2h0m0-1h0m0-1h0m1 2h0m0 0h0m0-1h0m0 0h0m1-1h0m0 1h0m1-1h0m0 1h0m2 1h0m0 0h0m0-1h0m0 0h0m0 0h0m0-1h0m0 0h0m1 1h0m1 0h0m0 0h0m0-1h0m0 0h0m0 1h0m0 0h0m1 0h0m0-1h0m0 0h0m1 0h0m0 0h0m1 1h0m1-1h0m0 0h0m-6 4h0m0-1h0m0 0h0m-1 2h0m0 0h0m0-1h0m0-1h0m-1 0h0m0 0h0m-1 1h0m-1 0h0m0-1h0m0 0h0m0 0h0m-1 0h0m0 0h0m-1 1h0m0 0h0m0 1h0m0-1h0m0 1h0m-1 0h0m0-1h0m0 1h0m-1 0h0m0-1h0m0 0h0m0 0h0m0-1h0m-1 2h0m0-1h0m0 0h0m0 0h0m0 0h0m0 0h0m0-1h0m-1 2h0m0-1h0m0 0h0m0 0h0m0-1h0m-1 0h0m-1 2h0m0-2h0m-1 2h0m0-2h0m0 0h0m-1 2h0m0-2h0m-1 1h0m0-1h0m0 0h0m-1 0h0m0 1h0m-2-1h0m4 5h0m1-1h0m1 1h0m0-2h0m0 0h0m0 1h0m0 0h0m1 1h0m0 0h0m0 0h0m0-2h0m0 1h0m0 0h0m1 1h0m0-1h0m1 1h0m0 0h0m0 0h0m0-1h0m0 0h0m1 1h0m0-2h0m0 1h0m0-1h0m1 0h0m0 1h0m0-1h0m0 0h0m1 2h0m0-1h0m0 1h0m0 0h0m0-1h0m1 1h0m0-1h0m1 1h0m0-2h0m0 1h0m-1 2h0m-1 0h0m0 0h0m-2 1h0m0 1h0m0-2h0m-1 1h0m0 1h0m0-2h0m-1 0h0m0 0h0m-1 0h0m-1 0h0m0 0h0m-2 0h0m0 0h0" stroke="#3a9ad4" stroke-width="3" stroke-linecap="round" transform="scale(0.5)"/>
<path d="M902 146h0m0 0h0m1 0h0m1 0h0m1 0h0m0 0h0m0 0h0m1 0h0m0 0h0m1 0h0m8 3h0m0 0h0m0-1h0m-1 1h0m-1-1h0m0 0h0m0 0h0m-1 0h0m0 0h0m0 0h0m-1 0h0m0 0h0m0 1h0m0 0h0m-1-1h0m0 0h0m0 1h0m-1-1h0m0 0h0m-1 0h0m0 0h0m0 1h0m0 0h0m0 0h0m-1-2h0m0 1h0m0 0h0m-1-1h0m0 1h0m0 1h0m0-1h0m0 0h0m0 0h0m0 0h0m0 1h0m0 0h0m0-1h0m0 0h0m0 0h0m-1-1h0m0 0h0m0 2h0m0-1h0m0 0h0m0 1h0m-1-2h0m0 0h0m0 2h0m0-1h0m0 1h0m-1-2h0m0 2h0m0-1h0m-1-1h0m0 0h0m0 2h0m0-1h0m-1 0h0m0 1h0m-1 0h0m0-1h0m-1 0h0m0 0h0m0 1h0m-1-1h0m0 1h0m0-1h0m-1 1h0m-1 0h0m0 0h0m0-1h0m-1 0h0m0 0h0m0 0h0m0 1h0m0-1h0m-1 0h0m0 0h0m0 1h0m0 0h0m-1 0h0m0-1h0m0 0h0m0 1h0m-1-1h0m0 1h0m-1-1h0m-2 2h0m1 1h0m0-1h0m0 0h0m0 1h0m0-1h0m0 2h0m1-2h0m0 1h0m0 1h0m0-1h0m0 0h0m0-1h0m0 2h0m1-1h0m0-1h0m0 0h0m0 2h0m0 0h0m0 0h0m1-2h0m0 1h0m0 1h0m0-2h0m1 0h0m0 0h0m0 1h0m0-1h0m0 2h0m0 0h0m1-1h0m0 0h0m0 1h0m2-1h0m0-1h0m0 1h0m0 0h0m14-1h0m1 0h0m0 1h0m0 0h0m0-1h0m0 0h0m1 1h0m0 0h0m0 0h0m0 0h0m0 0h0m1 0h0m0-1h0m0 0h0m0 2h0m1-1h0m0-1h0m1 1h0m0 1h0m0 0h0m1 0h0m0-1h0m0 0h0m0 1h0m1 0h0m0 0h0m1 0h0m0 0h0m0 1h0m0 2h0m0-1h0m-1 0h0m0 0h0m0 1h0m0-1h0m-1-1h0m0 1h0m0 0h0m0 0h0m0 1h0m-1 0h0m0 0h0m0-1h0m0 1h0m-1-2h0m0 2h0m0 0h0m0 0h0m0-2h0m0 0h0m0 0h0m0 0h0m0 0h0m0 0h0m-1 0h0m0 0h0m0 0h0m-19 1h0m0 0h0m-1-1h0m0 0h0m0 1h0m0 1h0m0-1h0m0 1h0m0-1h0m-1-1h0m0 0h0m0 1h0m0 0h0m0 1h0m-1-2h0m0 0h0m0 0h0m-1 0h0m0 1h0m0 1h0m-1-1h0m0 0h0m0 1h0m0 0h0m0 0h0m0 0h0m0-1h0m-1 0h0m0 1h0m0 0h0m-1-1h0m0 0h0m0 0h0m0 1h0m0 0h0m0-1h0m0 3h0m0 0h0m1-1h0m0 0h0m0 1h0m1 1h0m0 0h0m1 0h0m0-1h0m0-1h0m0 2h0m0-2h0m0 1h0m0-1h0m1 2h0m0-1h0m0-1h0m0 1h0m0-1h0m1 1h0m0-1h0m0 1h0m0 0h0m1 1h0m0 0h0m0 0h0m0-2h0m2 2h0m0 0h0m0 0h0m0 0h0m0 0h0m0 0h0m20 0h0m0 0h0m0 0h0m0-1h0m0-1h0m0 0h0m0 0h0m0 0h0m1 2h0m0-1h0m0 1h0m0 0h0m1 0h0m0 0h0m0 0h0m0 0h0m0-1h0m0 0h0m0-1h0m1 0h0m0 4h0m0 1h0m0 0h0m0 0h0m0 0h0m0-2h0m-1 1h0m0 0h0m0-1h0m0 0h0m0 0h0m0 0h0m-1 2h0m0-2h0m-1 2h0m0 0h0m0 0h0m0-2h0m0 0h0m-17 1h0m0 1h0m-1-1h0m0 0h0m0 1h0m0-1h0m-1 0h0m0 1h0m0 0h0m0-2h0m0 0h0m0 2h0m-1-1h0m0 0h0m0 1h0m0 0h0m0-1h0m0 0h0m0-1h0m-1 2h0m0-1h0m0 1h0m0-2h0m0 0h0m0 0h0m-1 2h0m0 0h0m0 0h0m0 0h0m0-2h0m-1 1h0m0 0h0m0 0h0m0 0h0m0-1h0m0 0h0m-1 2h0m0-1h0m0-1h0m-1 0h0m0 0h0m0 0h0m0 1h0m-1-1h0m0 0h0m3 4h0m1-1h0m0 1h0m1-1h0m1 2h0m0 0h0m0-2h0m0 1h0m0 0h0m0-1h0m1 0h0m0 1h0m0 0h0m0-1h0m0 1h0m2-1h0m0 1h0m0 1h0m0 0h0m1 0h0m1 0h0m13 0h0m0 0h0m0 0h0m0 0h0m0 0h0m2-2h0m1 2h0m0-1h0m0 4h0m0 0h0m-1 0h0m-1 0h0m0-2h0m0 1h0m0 1h0m0 0h0m0-2h0m-1 2h0m0-1h0m-1-1h0m-12 1h0m-1 1h0m0-1h0m0 0h0m0 1h0m0 0h0m0 0h0m0-2h0m-1 1h0m0 0h0m0 0h0m0 0h0m0 0h0m-1 1h0m0-1h0m0 1h0m0-1h0m-1-1h0m0 1h0m-1-1h0m1 3h0m1 1h0m1 0h0m0 1h0m0 0h0m1 0h0m0 0h0m0-2h0m0 0h0m0 0h0m1 2h0m0-1h0m1 1h0m0-2h0m0 0h0m0 1h0m1 1h0m0-2h0m0 0h0m0 0h0m0 1h0m0-1h0m0 1h0m1 1h0m0 0h0m0 0h0m0 0h0m0 0h0m0-1h0m0-1h0m1 2h0m0 0h0m0 0h0m0 0h0m0-1h0m1 1h0m1 0h0m1 0h0m1 0h0m0 0h0m0 0h0m0 0h0m0 0h0m0 0h0m1 0h0m1 0h0m0-2h0m1 2h0m0-2h0m0 0h0m0 0h0m0 0h0m0 1h0m1-1h0m0 2h0m0-1h0m0-1h0m1 0h0m0 1h0m0 0h0m1 0h0m-2 2h0m-1 0h0m-1 2h0m0-1h0m0 1h0m0-1h0m0-1h0m0 0h0m-1 1h0m0 1h0m-1-1h0m0 0h0m0 0h0m0-1h0m0 0h0m0 0h0m0 0h0m0 0h0m-1 1h0m0 0h0m0 1h0m0 0h0m0-1h0m0-1h0m0 0h0m0 0h0m-1 1h0m0 0h0m0 1h0m-1 0h0m-1-1h0m0-1h0m0 0h0m-1 1h0m0 1h0m0 0h0m0 0h0m-1-1h0m0 0h0m0 0h0m-1 1h0m0-2h0m0 0h0m0 0h0m-1 1h0m0 0h0m0 1h0m0-1h0m0-1h0m-1 2h0m0 0h0m0-1h0m0 0h0m-1 0h0m0 1h0m0-1h0" stroke="#42b2c6" stroke-width="3.4" stroke-linecap="round" transform="scale(0.5)"/>
<path d="M895 152h0m1 0h0m0 0h0m0 0h0m0 0h0m0 0h0m0 0h0m0 0h0m0 0h0m0 0h0m1 0h0m0 0h0m1 0h0m0 0h0m0 0h0m1 0h0m0 0h0m1-1h0m0-1h0m0 0h0m0 2h0m0 0h0m1-1h0m0 0h0m0 0h0m0 1h0m0 0h0m1-2h0m0 1h0m0 0h0m0 1h0m0 0h0m1-1h0m0-1h0m0 0h0m0 0h0m0 0h0m0 2h0m1-2h0m0 0h0m0 0h0m0 1h0m0 0h0m1 0h0m0 0h0m0 0h0m0-1h0m0 1h0m0-1h0m1 0h0m0 1h0m0-1h0m0 0h0m1 0h0m0 1h0m0 0h0m0 1h0m1-2h0m0 2h0m0 0h0m0 0h0m1-1h0m0-1h0m0 0h0m0 1h0m0 1h0m1-2h0m0 1h0m0 0h0m0 0h0m0 1h0m0 0h0m0 0h0m1-1h0m0 0h0m0-1h0m0 1h0m0-1h0m0 2h0m1 0h0m1 0h0m2 3h0m-1 0h0m0 0h0m0 0h0m0 0h0m-1-1h0m0-1h0m0 1h0m-1-1h0m0 2h0m0-1h0m-1 0h0m0 1h0m-1-2h0m0 0h0m-1 0h0m0 0h0m-1 0h0m-1 0h0m-6 0h0m0 0h0m0 0h0m0 2h0m-1-2h0m0 0h0m0 1h0m0 0h0m0 1h0m-1-2h0m0 0h0m0 0h0m0 1h0m0 1h0m0-1h0m0 0h0m0-1h0m0 0h0m0 0h0m-1 0h0m0 0h0m0 1h0m-1 0h0m0 0h0m0 0h0m0-1h0m0 1h0m0 0h0m-1 1h0m-1 1h0m1 1h0m0-1h0m0 1h0m0 0h0m0 0h0m1 0h0m0-1h0m1 0h0m0 0h0m0 0h0m1 2h0m0-2h0m0 0h0m0 2h0m0 0h0m0-2h0m0 0h0m1 2h0m0 0h0m0-1h0m0 0h0m0-1h0m0 1h0m0 0h0m0 0h0m0 0h0m0-1h0m0 0h0m1 2h0m0-2h0m0 1h0m11 0h0m0-1h0m0 1h0m0 0h0m0 0h0m0 1h0m1-2h0m0 2h0m1-1h0m0-1h0m0 1h0m0 1h0m1-1h0m0 0h0m0 1h0m0 0h0m0 3h0m-1-1h0m0 1h0m0 0h0m0 0h0m0 0h0m0-1h0m-1 1h0m0-2h0m0 1h0m0 0h0m0 1h0m0 0h0m-1-2h0m0 0h0m0 1h0m0 1h0m0-1h0m0 0h0m0 0h0m-1-1h0m0 0h0m-8 2h0m-1 0h0m0 0h0m0-1h0m-1-1h0m0 2h0m-1 0h0m0-1h0m-1-1h0m0 0h0m0 0h0m0 2h0m-1-2h0m1 4h0m2-1h0m0 0h0m0 1h0m1 1h0m0 0h0m0 0h0m0-2h0m0 0h0m1 0h0m0 1h0m0-1h0m0 0h0m0 0h0m0 1h0m0 1h0m0 0h0m1 0h0m0 0h0m0 0h0m0 0h0m1 0h0m6 0h0m1 0h0m0 0h0m0 0h0m0 0h0m0-1h0m0 0h0m0-1h0m0 0h0m0 1h0m0-1h0m0 1h0m0 0h0m0-1h0m1 2h0m0 0h0m0 0h0m0 0h0m0-1h0m0-1h0m0 0h0m0 1h0m1 0h0m0 0h0m0 0h0m-1 3h0m0 1h0m0-1h0m0-1h0m-1 1h0m0 0h0m0 0h0m0 1h0m0 0h0m0-2h0m0 0h0m0 0h0m-1 2h0m0-2h0m0 2h0m0-1h0m0 0h0m-1 1h0m0 0h0m0 0h0m0-1h0m0 0h0m0 1h0m0 0h0m0 0h0m0 0h0m0-1h0m-1 0h0m0 1h0m0 0h0m-1-1h0m0 0h0m0 0h0m0 1h0m0-1h0m0 0h0m-1 1h0m0 0h0m0-1h0m-1 0h0m-1 0h0m0 0h0m0 1h0m0-2h0m-1 2h0m0-1h0m0 0h0m0 1h0m0-2h0m0 0h0m-1 2h0m0-1h0m0 1h0m0-1h0m0 0h0m0-1h0m0 2h0m0-2h0m0 0h0m-1 1h0m0 1h0m0-1h0m0 0h0m0 1h0m-1-1h0m0 1h0m0-2h0m0 0h0m5 4h0m1-1h0m0 1h0m0 0h0m0 0h0m1 0h0m0-1h0m1 1h0m0-1h0m1 1h0m1-1h0" stroke="#64c29c" stroke-width="3.6" stroke-linecap="round" transform="scale(0.5)"/>
<path d="M903 152h0m1 0h0m0 0h0m0 0h0m0 0h0m1 0h0m0 0h0m0 0h0m0 0h0m0 0h0m0 0h0m0 0h0m2 0h0m0 0h0m4 2h0m0 1h0m-1 0h0m0 0h0m0-1h0m-1 0h0m0 1h0m0 0h0m-1-1h0m-1-1h0m0 0h0m0 0h0m0 0h0m0 2h0m0-1h0m0 0h0m0 0h0m-1-1h0m0 0h0m0 2h0m0 0h0m0 0h0m0-1h0m-1 0h0m0 1h0m0 0h0m0-1h0m-1-1h0m0 0h0m0 1h0m0 1h0m0-1h0m0 0h0m0 0h0m0 1h0m0 0h0m-1 0h0m0 0h0m0 0h0m0-2h0m0 1h0m0 0h0m-1 1h0m0-1h0m0 0h0m-1 0h0m0 1h0m0 3h0m1 0h0m0 0h0m0-2h0m0 0h0m1 2h0m0-2h0m0 1h0m1 1h0m0-1h0m0-1h0m0 1h0m1 1h0m0 0h0m0 0h0m0-1h0m0 1h0m1-2h0m0 0h0m0 2h0m1-1h0m0 0h0m0-1h0m0 1h0m0-1h0m0 1h0m0-1h0m0 0h0m0 2h0m0 0h0m1-2h0m0 0h0m0 1h0m0-1h0m0 0h0m0 0h0m0 2h0m0 0h0m1-1h0m0 1h0m0-2h0m0 0h0m0 2h0m0 0h0m0 0h0m1-2h0m0 1h0m0 0h0m0 1h0m1-1h0m0 0h0m0 0h0m0 0h0m0 0h0m0 0h0m0 1h0m0 1h0m0 0h0m0 2h0m0-1h0m0 0h0m0 1h0m-1-2h0m0 0h0m0 0h0m0 0h0m0 1h0m0 0h0m0 1h0m0 0h0m0-1h0m0 1h0m-1 0h0m0 0h0m0-1h0m0 1h0m0-2h0m0 0h0m0 1h0m0 1h0m0 0h0m0-1h0m0 0h0m0 1h0m0-1h0m-1-1h0m0 2h0m0-1h0m0 0h0m0 1h0m-1-1h0m0 0h0m0 0h0m0 0h0m0 0h0m0-1h0m0 0h0m-1 1h0m0 1h0m0-1h0m0 0h0m-1 0h0m0 0h0m0 0h0m0-1h0m0 0h0m0 0h0m0 0h0m0 0h0m0 0h0m0 0h0m0 0h0m-1 1h0m0 0h0m0 0h0m0 0h0m0 1h0m0-2h0m0 0h0m0 0h0m-1 0h0m0 0h0m-1 0h0m0 0h0m0 0h0m1 4h0m1-1h0m0 1h0m0-1h0m0 1h0m1 0h0m0 1h0m1 0h0m0 0h0m0 0h0m0-2h0m0 0h0m0 0h0m0 0h0m0 0h0m0 0h0m0 1h0m1 1h0m0-1h0m0 0h0m1 1h0m0 0h0m0 0h0m0-2h0m0 0h0m1 2h0m0 0h0m0-2h0m0 0h0m0 1h0m0-1h0m0 1h0m0 0h0m0-1h0m0 0h0m0 1h0m1 1h0m0 0h0m0-2h0m0 0h0m0 0h0m1 2h0m0-2h0m0 0h0m0 3h0m-1 0h0m-1 0h0m0 0h0m0 0h0m-1 0h0m0 0h0m0 0h0m-1 0h0m0 0h0m0 0h0" stroke="#94ca6c" stroke-width="3.8" stroke-linecap="round" transform="scale(0.5)"/>
<path d="M193 371h0m-15 2h0m33 2h0m-4 2h0m0 0h0m-1-1h0m-9-1h0m-5 1h0m-1 1h0m-3-1h0m-30-1h0m-4 2h0m4 3h0m4 0h0m6-2h0m0 0h0m0 2h0m14 0h0m3-1h0m3 0h0m3 1h0m0 0h0m2 0h0m0-1h0m5 1h0m5-2h0m6 5h0m0-2h0m-1 2h0m0-1h0m0-1h0m-5 2h0m-8-1h0m-5 0h0m-1 1h0m0 0h0m-2 0h0m-3-1h0m-1 0h0m-9 0h0m-7 1h0m-1-1h0m-14 2h0m0 1h0m0-1h0m0 0h0m1 0h0m2 1h0m0 1h0m3-2h0m2 2h0m2 0h0m3-2h0m1 2h0m0-1h0m5-1h0m1 0h0m3 0h0m2 1h0m4 1h0m1-2h0m0 1h0m1 0h0m3 0h0m0-1h0m1 2h0m1 0h0m4-2h0m1 0h0m3 1h0m1 1h0m2-1h0m3 0h0m3 1h0m1-1h0m1-1h0m0 2h0m3-1h0m0 2h0m-7 2h0m-1 0h0m-1-1h0m-4 1h0m-3 0h0m-2-2h0m-3 0h0m-3 1h0m-3 0h0m0 1h0m-8-2h0m-2 1h0m-2 0h0m-4 1h0m-2-2h0m-8 2h0m-2-1h0m12 4h0m3-1h0m0-1h0m7 2h0m3-2h0m6 1h0m4 0h0m0-1h0m3 2h0m6 0h0m1-2h0m-30 5h0m29 1h0m6 2h0" stroke="#d8d8d8" stroke-width="1.6" stroke-linecap="round" transform="scale(0.5)"/>
<polygon points="104.6,153.3 123.2,153.3 123.2,196.3 104.6,196.3" fill="#f0f0c0" opacity="0.6" filter="url(#b2)"/>
<polygon points="105.6,157.3 122.2,157.3 122.2,196.3 105.6,196.3" fill="#cccc60" opacity="0.6" filter="url(#b1)"/>
<path d="M214 323h0m-1-2h0m-1 2h0m-1 0h0m0-1h0m-1 3h0m1 0h0m1 0h0m0 4h0m-1 1h0m1 2h0m0 0h0m1-2h0m0 0h0m0 3h0m-2 2h0m1 2h0m1 0h0m0 3h0m-1 0h0m0-1h0m-1 4h0m0-1h0m2 3h0m-1 0h0m0 1h0m0 3h0m1-1h0m1 3h0m-5 1h0m4 3h0m0 1h0m1 0h0m-3 2h0m0-1h0m1 3h0m0 2h0m1 0h0m0 2h0m0 0h0m-1-1h0m0 2h0m-2 0h0m2 3h0m1 0h0m1 1h0m-3 4h0m3-1h0m-2 3h0m-1 1h0m-1 4h0m2 0h0m1-2h0m-3 3h0m2 4h0m-2 3h0m2 2h0m0 2h0m1-1h0m0 1h0" stroke="#9a9c20" stroke-width="1.6" stroke-linecap="round" stroke-opacity="0.5" transform="scale(0.5)"/>
<path d="M217 319h0m0 1h0m0 3h0m0-1h0m0-1h0m-1 2h0m1 1h0m1 4h0m-3 2h0m1 2h0m3 0h0m-3 1h0m-1 0h0m2 5h0m0-2h0m-1 4h0m0-1h0m1 3h0m0 1h0m2 0h0m0 2h0m-1 2h0m0-2h0m-2 4h0m2-1h0m0 0h0m0 2h0m0 0h0m1-1h0m-1 3h0m-1 0h0m0-1h0m-1 0h0m1 5h0m1 3h0m-2 1h0m0 1h0m2 2h0m0 2h0m-1-2h0m0 7h0m-2 2h0m3 2h0m1 2h0m-1 0h0m-1 1h0m0 0h0m0-1h0m-1-1h0m-1 1h0m0 3h0m4-1h0m-2 5h0m0 1h0m1 1h0m0 2h0m-2 1h0m0 4h0m0-2h0m1 1h0" stroke="#9a9c20" stroke-width="1.6" stroke-linecap="round" stroke-opacity="0.5" transform="scale(0.5)"/>
<path d="M223 319h0m0-1h0m0 1h0m1 1h0m0 1h0m0 1h0m-1-1h0m0 2h0m0-2h0m-2 5h0m2-1h0m1-1h0m-2 4h0m0 0h0m2 4h0m1-1h0m-1 6h0m1 0h0m0 4h0m-1 0h0m-1 2h0m0-1h0m1 3h0m-2 0h0m2 4h0m0 0h0m0 0h0m-1 5h0m0 2h0m1 1h0m-2 2h0m0 1h0m0 2h0m4 1h0m0 1h0m-3 4h0m0-1h0m1-1h0m0 0h0m0 0h0m-1 3h0m0 1h0m0 2h0m1 1h0m0 0h0m2-1h0m-2 3h0m-3 0h0m1 4h0m1 0h0m1 1h0m0 0h0m0-1h0m0 2h0m0 2h0m-2 2h0m1 0h0m1 1h0m0-1h0m0 4h0" stroke="#9a9c20" stroke-width="1.6" stroke-linecap="round" stroke-opacity="0.5" transform="scale(0.5)"/>
<path d="M227 318h0m0 1h0m3 1h0m-2 2h0m-3 4h0m3 0h0m0-1h0m0 3h0m-1 1h0m0-1h0m0 1h0m0 0h0m-1-1h0m0 4h0m3-2h0m-1 3h0m0 1h0m-1 0h0m-2 3h0m3 1h0m-1 2h0m2 3h0m-1 3h0m-1 0h0m0 3h0m0-1h0m1 0h0m0 2h0m-1 3h0m0-2h0m0 1h0m-2 0h0m2 2h0m0 2h0m1-1h0m0 1h0m0 3h0m0 0h0m-1 6h0m1 1h0m1 1h0m-2 5h0m0 1h0m2 0h0m0 2h0m-1 0h0m0 2h0m-3 0h0m2 1h0m0 2h0m0 0h0m3-2h0m-3 5h0m0-2h0m0 0h0m1 5h0m1 2h0m-2 1h0m-1-2h0m-1 5h0" stroke="#9a9c20" stroke-width="1.6" stroke-linecap="round" stroke-opacity="0.5" transform="scale(0.5)"/>
<path d="M231 320h0m2-2h0m0 4h0m-4-1h0m3 3h0m1 2h0m0 0h0m0-1h0m0 4h0m-1-2h0m-1 3h0m1 1h0m0 1h0m-1 4h0m3 1h0m0 1h0m-1 1h0m-1 1h0m-1 1h0m0-2h0m0 0h0m1 4h0m1 1h0m0-2h0m1 5h0m-2 0h0m1 5h0m-1 2h0m0 0h0m2 0h0m0 5h0m-1-1h0m-2 1h0m0 2h0m1-1h0m2 1h0m0 4h0m0 0h0m-1-1h0m-2 1h0m3 1h0m-1 4h0m-1 0h0m0-1h0m0 1h0m-1 3h0m2 3h0m0-1h0m0 0h0m-1 0h0m-2 6h0m2 5h0m0 0h0m0-2h0m0 2h0m1-1h0m1 2h0m-1 5h0m0 0h0m1 0h0" stroke="#9a9c20" stroke-width="1.6" stroke-linecap="round" stroke-opacity="0.5" transform="scale(0.5)"/>
<path d="M237 317h0m-1 0h0m0 3h0m2-2h0m0 3h0m-1 1h0m0 0h0m0 0h0m0 2h0m1 4h0m-1 1h0m-2-2h0m1 5h0m1 0h0m2 0h0m0 2h0m-1 1h0m-1-2h0m0 2h0m-1-2h0m1 5h0m1 0h0m0 3h0m-1-2h0m0 2h0m-1 0h0m2 3h0m0 2h0m-2 0h0m0 1h0m0 0h0m1 6h0m0 3h0m0-2h0m1 1h0m0-1h0m-1 5h0m1 5h0m-2 2h0m1 2h0m1 0h0m1 1h0m-2 4h0m0 1h0m1 1h0m0 2h0m-2-1h0m0 3h0m1 1h0m-2 3h0m2 3h0m0 0h0m0 2h0m0 2h0m0 2h0m0 0h0m1-1h0m0-1h0m0 2h0m1-1h0" stroke="#9a9c20" stroke-width="1.6" stroke-linecap="round" stroke-opacity="0.5" transform="scale(0.5)"/>
<path d="M243 319h0m-1 4h0m0-1h0m0 0h0m0 3h0m0 0h0m3 3h0m-2 1h0m-1 0h0m0 0h0m-1 0h0m2 3h0m0-2h0m-1 4h0m-1 3h0m2 4h0m0 2h0m0-1h0m0 4h0m-2 2h0m0 1h0m2 2h0m0 2h0m-1-1h0m-1 0h0m1 2h0m0 0h0m1 0h0m0 1h0m0 0h0m-1 2h0m-1 5h0m0-1h0m3 1h0m0-1h0m-1 2h0m0 1h0m-1 1h0m-1 1h0m1 1h0m0 1h0m1-1h0m-1 2h0m0 2h0m-1-1h0m2 7h0m-1-2h0m0 1h0m-1 0h0m0-1h0m1 5h0m1 1h0m-1 5h0m1-2h0m0 1h0m1 4h0m-1 0h0m-1-1h0m0 4h0m1-1h0" stroke="#9a9c20" stroke-width="1.6" stroke-linecap="round" stroke-opacity="0.5" transform="scale(0.5)"/>
<path d="M213 314h0m1 0h0m1-1h0m0-1h0m1 1h0m0 1h0m-1 3h0m0-2h0m0 0h0m-1 2h0m0-2h0m0 3h0m1 1h0m-2 3h0m0 4h0m1-1h0m0-1h0m1 2h0m0 2h0m0-1h0m0 1h0m-1-1h0m0 5h0m0-1h0m1-1h0m0 2h0m0 3h0m-2 2h0m2-1h0m0 1h0m0 3h0m-1 1h0m0 0h0m0 3h0m0 0h0m0 0h0m0 0h0m1 0h0m0 0h0m0 3h0m0-2h0m-1 1h0m0-1h0m0 0h0m0 3h0m0 5h0m-1 0h0m1 3h0m0-1h0m1-1h0m0 1h0m0 0h0m1 0h0m-1 4h0m-1-1h0m-1 3h0m2 4h0m-1-1h0m0 2h0m1 2h0m1-2h0m-2 5h0m0-2h0m0 1h0m0 2h0m1 3h0m0 2h0m-1-2h0m0 0h0m1 4h0m1 1h0m-1 3h0m-1 0h0m0 0h0m0 2h0m1 0h0m-1 2h0m0 1h0m0-1h0m-1 0h0m1 3h0m1 2h0m0-2h0m0 0h0m0 1h0m0 0h0" stroke="#8a8c18" stroke-width="1.8" stroke-linecap="round" stroke-opacity="0.6" transform="scale(0.5)"/>
<path d="M215 314h0m3 0h0m1 0h0m1 0h0m2 0h0m2-1h0m0 1h0m1 0h0m4 0h0m0-1h0m4 1h0m1-1h0m1 1h0m0-1h0m1 0h0m1 0h0m1 1h0m6 3h0m-6-2h0m-4 2h0m0-1h0m0 0h0m0-1h0m-3 1h0m-3 0h0m-2 0h0m-1 0h0m-3 0h0m-1 0h0m-1 0h0m-1 1h0m-1-2h0m-3 1h0m-1-1h0m-1 0h0m-1 2h0m1 3h0m1 0h0m1-2h0m0 0h0m3 2h0m0-1h0m4-1h0m0 1h0m1-1h0m4 2h0m1-1h0m1-1h0m2 1h0m0 1h0m0-2h0m1 0h0m1 0h0m4 0h0m1 2h0m2-1h0m0 1h0m1-2h0m0 2h0m1 3h0m0-2h0m-1 0h0m-2 1h0m-6 0h0m0-1h0m-2 1h0m-2-1h0m-1 0h0m-1 2h0m-2 0h0m-2-1h0m-1-1h0m-2 1h0m-4 0h0m-1 0h0m0-1h0m-1 0h0m-3 4h0m1-1h0m1 1h0m1 1h0m2 0h0m5-1h0m2 0h0m1 1h0m3-1h0m1-1h0m1 1h0m11 1h0m2-1h0m0-1h0m2 5h0m-2-2h0m-1 0h0m0 0h0m-1 2h0m0-2h0m-1 0h0m-1 1h0m-3-1h0m-1 0h0m-1 2h0m0-1h0m-1 1h0m-1-2h0m0 1h0m0 0h0m-2-1h0m-1 1h0m0 1h0m-3-2h0m-1 2h0m0-2h0m-4 1h0m-4-1h0m-1 0h0m0 2h0m-1-2h0m-1 2h0m0-1h0m-1 3h0m1 0h0m0 1h0m2 0h0m3 0h0m2 0h0m1-2h0m1 1h0m0-1h0m0 0h0m4 2h0m3-2h0m2 1h0m0 0h0m5-1h0m2 0h0m1 0h0m1 2h0m1-2h0m1 2h0m2 2h0m-3 1h0m-1-2h0m-2 1h0m-1 1h0m-1 0h0m-1-2h0m0 0h0m-3 2h0m0-1h0m0 1h0m-1-1h0m0 0h0m-2 1h0m-1 0h0m-4-2h0m-4 2h0m-3 0h0m0 0h0m-2-2h0m0 0h0m0 2h0m-3 2h0m1-1h0m0 0h0m2 1h0m0-1h0m0 2h0m0 0h0m1-1h0m2 0h0m4 0h0m1 0h0m0 1h0m0-1h0m1-1h0m3 1h0m2 1h0m4-2h0m7 2h0m3 3h0m-4-1h0m0 0h0m-1-1h0m-2 2h0m-1 0h0m-4-2h0m-1 2h0m-3-1h0m-2-1h0m-2 1h0m-3-1h0m0 2h0m-1-1h0m-1 1h0m0 0h0m0-2h0m0 0h0m-1 1h0m-1-1h0m0 0h0m0 0h0m-2 2h0m-3 3h0m2 0h0m0-2h0m0 0h0m0 1h0m1-1h0m0 1h0m0 0h0m4 1h0m1-2h0m0 0h0m3 2h0m5 0h0m0-1h0m0 1h0m1-2h0m0 0h0m3 2h0m1-1h0m4 1h0m1-2h0m3 2h0m1-2h0m0 0h0m1 0h0m0 1h0m2 1h0m-2 2h0m-1-1h0m0 0h0m0 1h0m-3 0h0m0 1h0m-2-2h0m-3 1h0m0-1h0m-2 1h0m-2 0h0m-1 0h0m0-1h0m0 2h0m-2-1h0m-2-1h0m-3 2h0m-1-1h0m0 1h0m-1 0h0m-1 0h0m0-2h0m0 0h0m0 1h0m-3-1h0m-2 4h0m2-1h0m5 2h0m1 0h0m6-1h0m1 1h0m1 0h0m3-2h0m0 0h0m0 1h0m5 1h0m1 0h0m0 0h0m4-2h0m1 0h0m1 2h0m0 0h0m0 1h0m0 0h0m-2 1h0m-6-1h0m-2 1h0m-4-1h0m-2 1h0m-3 1h0m-2 0h0m0-2h0m-3 0h0m-1 2h0m-5 1h0m1 1h0m1 1h0m0 0h0m1-1h0m0-1h0m0 0h0m2 0h0m0 2h0m1-1h0m9-1h0m1 0h0m4 1h0m0-1h0m3 2h0m4-2h0m0 2h0m3 0h0m0 1h0m-3 1h0m-1-1h0m-2 2h0m-1-1h0m-3 1h0m-1-1h0m0-1h0m0 2h0m-2-2h0m-1 2h0m-1-1h0m0-1h0m0 0h0m0 0h0m-1 0h0m-1 0h0m0 1h0m-3 1h0m-9-1h0m-1 0h0m-2-1h0m0 1h0m3 3h0m3 1h0m1 0h0m3-2h0m1 1h0m0 0h0m4 1h0m0-1h0m1 0h0m0-1h0m8 1h0m1 1h0m2-2h0m0 0h0m3 2h0m1 0h0m0 0h0m0-1h0m1-1h0m-5 4h0m0-1h0m0 0h0m0 2h0m-1 0h0m-1-1h0m-1 1h0m-6 0h0m0-1h0m-4-1h0m-2 0h0m0 0h0m-1 1h0m-1-1h0m-2 0h0m0 2h0m-1 0h0m-3-1h0m0-1h0m-1 2h0m0 0h0m-3 3h0m4 0h0m1-1h0m1 1h0m3-1h0m3-1h0m0 0h0m1 2h0m4-2h0m1 1h0m0 1h0m3 0h0m2 0h0m0-2h0m1 1h0m1-1h0m2 2h0m1-2h0m1 2h0m2 0h0m-1 3h0m-2-2h0m-3 2h0m0 0h0m-2-1h0m-1 1h0m-1 0h0m-3-1h0m0 1h0m0-1h0m-1 0h0m-3-1h0m0 0h0m-1 2h0m0-2h0m-2 2h0m0-2h0m-1 2h0m-2-2h0m-7 0h0m-1 4h0m6 1h0m0 0h0m5-1h0m1 1h0m1-1h0m1 1h0m4-1h0m5 0h0m4 0h0m1 1h0m1 0h0m0-2h0m2 0h0m1 2h0m0-1h0m-1 2h0m-3 1h0m-1 1h0m-1-2h0m-1 0h0m-1 0h0m-1 0h0m0 2h0m-2-2h0m-2 1h0m-1-1h0m-6 1h0m-2 1h0m-1 0h0m-3 0h0m0 0h0m-1-1h0m-1 1h0m-2 0h0m0-1h0m0 0h0m-1 1h0m0 0h0m0 0h0m0-2h0m-1 1h0m-1 1h0m1 2h0m0 0h0m2-1h0m1 0h0m0 2h0m5-2h0m0 0h0m1 2h0m3 0h0m2-2h0m0 0h0m1 0h0m1 0h0m1 0h0m1 0h0m1 0h0m2 2h0m0-1h0m0 0h0m1 0h0m3-1h0m0 0h0m1 1h0m0 1h0m3 0h0m0 0h0m3-2h0m-1 4h0m-7 0h0m-5 1h0m-1 0h0m0-1h0m0 0h0m-4-1h0m-1 1h0m-4-1h0m-1 2h0m-5-2h0m0 2h0m0-2h0m0 2h0m-2 0h0m-1 1h0m2 1h0m1-1h0m1 0h0m0 1h0m1-1h0m1 1h0m1-1h0m1 1h0m0-1h0m2 2h0m1-1h0m1 0h0m3-1h0m9 2h0m3-2h0m2 0h0m0 1h0m1 0h0m1 1h0m0 2h0m0 1h0m-3 0h0m-2-1h0m-4 1h0m-1-1h0m-4 0h0m-1 0h0m-3 0h0m-1 0h0m0-1h0m-3 0h0m-3 0h0m0 1h0m0-1h0m-2 2h0m-4-1h0m1 3h0m2 0h0m3 0h0m0 1h0m0-1h0m1 1h0m1-2h0m0 2h0m1-2h0m0 0h0m3 0h0m0 1h0m2 0h0m2 0h0m2 1h0m1 0h0m3-2h0m0 0h0m1 2h0m6 0h0m0 0h0m2-1h0m1 1h0" stroke="#a8a830" stroke-width="1.6" stroke-linecap="round" stroke-opacity="0.5" transform="scale(0.5)"/>
<path d="M212 314h0m4 0h0m7 0h0m9 0h0m8 0h0m-10 3h0m-10-1h0m-2-1h0m-2 1h0m-1-1h0m-2 0h0m-1 2h0m4 1h0m0 0h0m3 2h0m2-1h0m10 1h0m1 0h0m4 0h0m4 0h0m-4 3h0m-5-1h0m0-1h0m0 2h0m-3 0h0m-4 0h0m0-1h0m-2-1h0m-1 0h0m-9 5h0m0-1h0m0 1h0m2-2h0m2 0h0m7 0h0m1 0h0m0 2h0m7 0h0m2 2h0m-1 0h0m-5 1h0m-3-1h0m0-1h0m-1 1h0m-1-1h0m-2 2h0m-3-2h0m0 2h0m-4 0h0m-1 2h0m3 0h0m3 0h0m5 1h0m7-2h0m4 2h0m9 3h0m-1 0h0m-1-2h0m-1 0h0m-1 1h0m-7-1h0m-1 2h0m0 0h0m-3-1h0m-3-1h0m-2 0h0m-3 2h0m-3-2h0m0 0h0m-3 3h0m0 0h0m4 0h0m1 2h0m8-2h0m2 0h0m8 1h0m0 1h0m3-2h0m1 0h0m3 4h0m-7 1h0m-1 0h0m0-1h0m-5-1h0m-2 1h0m0-1h0m-6 1h0m-4 0h0m-2 3h0m4 0h0m3 0h0m4 1h0m1 0h0m1 0h0m1-1h0m7 0h0m3 0h0m2 0h0m0 1h0m0 2h0m0 0h0m-8 0h0m-2 1h0m-1 0h0m-14-1h0m-3 1h0m-3 3h0m9-2h0m1 1h0m5 1h0m5-1h0m3-1h0m8 1h0m-1 2h0m-10 1h0m-3-1h0m-1 1h0m-6 1h0m-11 3h0m4 0h0m3-2h0m1 1h0m1-1h0m0 2h0m7 0h0m5 0h0m1-2h0m3 1h0m4 0h0m2 3h0m-1 1h0m-3-2h0m0 2h0m-1 0h0m-4-2h0m-2 1h0m-1-1h0m-4 1h0m-3 0h0m-1 0h0m-3-1h0m-5 5h0m2 0h0m19-1h0m1 1h0m3-2h0m3 0h0m1 2h0m0 0h0m-2 2h0m0 0h0m0 0h0m-1 1h0m-1 0h0m-5-1h0m-11 0h0m-3 1h0m-1-1h0m-5-1h0m2 3h0m2 1h0m0 0h0m1-1h0m0 1h0m1-1h0m1 2h0m6-2h0m3 2h0m4-1h0m8 0h0m2 1h0m0 1h0m0 2h0m-5 0h0m-1-1h0m-1 0h0m-5 1h0m-4-1h0m-1 0h0m-3 0h0m-5 1h0m-2-2h0m0 4h0m4-1h0m1 1h0m6 1h0m9 0h0m3-1h0m4 4h0m-1 0h0m-2-1h0m-17-1h0m-5 0h0m-3 0h0m-3 0h0m0 1h0m-1 3h0m3-1h0m2 1h0m4 0h0m0 0h0m2-1h0m1 0h0m11 2h0m2 0h0m7 3h0m-1-2h0m-2 2h0m-6-1h0m-5 0h0m-2 0h0m-2-1h0m-1 2h0m0-2h0m-2 0h0m-9 1h0m0-1h0m0 0h0m-2 5h0m5-1h0m5 1h0m2-1h0m1 1h0m3-1h0m3-1h0m0 1h0m0 1h0m2 0h0m2 0h0m2-2h0m5 0h0m1 0h0m-3 5h0m-7-2h0m-6 1h0m-1-1h0m0 1h0m-2 0h0m-1 1h0m-4-1h0m-1 0h0m-3 4h0m9-1h0m2 0h0m6-1h0m2 2h0m1-2h0m7 2h0m0-1h0m2-1h0" stroke="#eeeeb0" stroke-width="1.6" stroke-linecap="round" stroke-opacity="0.8" transform="scale(0.5)"/>
<ellipse cx="84.2" cy="180.7" rx="8.0" ry="7.0" transform="rotate(-35 84.2 180.7)" fill="#f04848" opacity="0.65" filter="url(#b1)"/>
<ellipse cx="91.7" cy="174.7" rx="8.0" ry="4.5" transform="rotate(-35 91.7 174.7)" fill="#f04848" opacity="0.55" filter="url(#b1)"/>
<path d="M180 338h0m-3 3h0m-2 0h0m-7-2h0m-6 2h0m2 3h0m15-2h0m8 2h0m1 2h0m-7-1h0m-1 1h0m-2 1h0m-1-2h0m-3 1h0m-2 1h0m0-2h0m-3 0h0m-1 0h0m-1 2h0m-3 0h0m-1 0h0m-1-2h0m-2 0h0m-2 2h0m-1 0h0m-10-1h0m7 3h0m3 0h0m2 1h0m1-1h0m1 1h0m2-1h0m1-1h0m1 1h0m3-1h0m2 0h0m1 0h0m1 0h0m1 0h0m1 1h0m1 1h0m0 0h0m2-1h0m6 0h0m3-1h0m7 1h0m-10 2h0m-1 2h0m-1 0h0m0 0h0m0-1h0m0 1h0m-1 0h0m0-1h0m0-1h0m0 2h0m-2-1h0m0 1h0m0-1h0m-1 0h0m-1-1h0m0 0h0m0 2h0m-1-2h0m-1 0h0m-2 1h0m0 0h0m-1-1h0m-2 0h0m-2 2h0m0-2h0m-1 0h0m0 1h0m-3 1h0m-1-1h0m-3 0h0m-3 0h0m-1 0h0m-2 1h0m-1 0h0m-2 0h0m-4-1h0m-5 3h0m9 1h0m1-1h0m3 0h0m0-1h0m1 1h0m0 0h0m2 0h0m2-1h0m1 1h0m0 1h0m0-2h0m1 2h0m1 0h0m0 0h0m0-1h0m1-1h0m1 2h0m1-2h0m0 2h0m1-1h0m0 1h0m0-1h0m0 0h0m0 0h0m1 1h0m1 0h0m1-1h0m0-1h0m1 0h0m1 2h0m0-2h0m0 0h0m0 2h0m1-1h0m0 0h0m1 0h0m0 0h0m0-1h0m0 1h0m1-1h0m0 1h0m1 0h0m0 0h0m0-1h0m0 0h0m0 1h0m0 1h0m1 0h0m0-1h0m0-1h0m1 2h0m0-1h0m1-1h0m1 0h0m1 1h0m5 0h0m2 0h0m4 4h0m-7-1h0m-3 0h0m-1 1h0m-2-1h0m-1 0h0m0-1h0m-1 0h0m0 2h0m-2-1h0m0-1h0m0 2h0m0-1h0m0 0h0m0 1h0m-1 0h0m-1 0h0m0-2h0m0 2h0m0 0h0m-1-1h0m0 1h0m0-2h0m0 1h0m0 0h0m0-1h0m0 0h0m-2 1h0m0 0h0m0 1h0m-1-2h0m0 0h0m0 1h0m0-1h0m-1 1h0m0 0h0m0-1h0m0 2h0m-1-1h0m0 0h0m0 1h0m0-2h0m-1 2h0m0-1h0m0 0h0m-1 1h0m-2 0h0m-1-2h0m-1 1h0m0-1h0m-3 2h0m0-2h0m-1 2h0m0-2h0m-1 1h0m0 1h0m-3-1h0m-3 1h0m2 3h0m0-2h0m1 2h0m1-1h0m3-1h0m0 2h0m1-1h0m0 1h0m0-2h0m1 0h0m1 0h0m1 2h0m0 0h0m1 0h0m0-1h0m0 1h0m0 0h0m0 0h0m1-2h0m1 0h0m0 2h0m0-2h0m1 0h0m0 0h0m0 1h0m0-1h0m1 0h0m0 1h0m0 0h0m0 1h0m0-1h0m1 1h0m0-1h0m0 1h0m0-1h0m0-1h0m0 2h0m0 0h0m1-2h0m0 1h0m0 1h0m0 0h0m0 0h0m1-1h0m0-1h0m0 1h0m0 1h0m1 0h0m0-2h0m1 2h0m0-1h0m1 0h0m1 0h0m0 0h0m1 0h0m0 0h0m0 1h0m0-2h0m1 2h0m0-2h0m0 0h0m0 1h0m1 1h0m0 0h0m1-2h0m0 2h0m0 0h0m1-2h0m0 1h0m1 0h0m0 1h0m0-1h0m1 1h0m1-1h0m0-1h0m3 2h0m1-2h0m0 0h0m0 2h0m4 0h0m3 1h0m-3 2h0m-5 0h0m-2-2h0m-2 1h0m0 0h0m-1-1h0m0 2h0m-1-2h0m-1 1h0m0-1h0m-1 0h0m-1 2h0m-1-2h0m0 0h0m0 0h0m-1 1h0m0 0h0m-1 0h0m-1 1h0m0 0h0m0-1h0m0 1h0m0-2h0m-1 1h0m-1 1h0m0-2h0m-1 1h0m-1 0h0m0-1h0m0 0h0m-1 2h0m0 0h0m0-1h0m0 1h0m0 0h0m0-2h0m0 1h0m0 0h0m-1 1h0m0-2h0m-1 2h0m0 0h0m0-2h0m0 2h0m-1-2h0m0 0h0m0 1h0m-1 0h0m-1 0h0m-1-1h0m-1 2h0m-1-1h0m0-1h0m-1 0h0m-1 2h0m-1-2h0m-5 0h0m-2 0h0m-3 0h0m7 4h0m0 1h0m3-1h0m3 1h0m2 0h0m2-1h0m1 1h0m0-1h0m0-1h0m1 0h0m0 2h0m1 0h0m0-2h0m0 0h0m0 1h0m3-1h0m0 2h0m0-2h0m0 2h0m1 0h0m1-1h0m1 0h0m0 1h0m0-2h0m0 0h0m1 1h0m0 0h0m2-1h0m0 0h0m0 2h0m0-2h0m2 0h0m0 1h0m1 0h0m0-1h0m0 0h0m0 1h0m0 0h0m0-1h0m1 1h0m1 1h0m0 0h0m0-1h0m1 1h0m0 0h0m1 0h0m0-1h0m2-1h0m0 0h0m1 0h0m5 3h0m-4 0h0m-1 1h0m-2 0h0m-1 1h0m-4-2h0m-1 2h0m0 0h0m-1-1h0m0-1h0m-1 1h0m0-1h0m0 0h0m0 2h0m0 0h0m0-2h0m-1 1h0m0 1h0m0-2h0m-1 2h0m0 0h0m0 0h0m0-2h0m0 1h0m-1 0h0m0 0h0m0 0h0m-1 1h0m-1-2h0m0 1h0m0 1h0m-1-1h0m0 0h0m-1-1h0m-1 2h0m0-1h0m-1 1h0m0-1h0m0 1h0m-1-1h0m0-1h0m0 0h0m-2 1h0m-1 0h0m-2 0h0m0 0h0m-3 1h0m-3-1h0m5 2h0m2 1h0m0 0h0m2 0h0m1-1h0m3 1h0m1-1h0m1 0h0m2 1h0m1 1h0m0 0h0m0-1h0m2-1h0m1 1h0m0 1h0m2-2h0m0 0h0m2 1h0m1 0h0m0 0h0m1-1h0m5 0h0m1 5h0m-1-1h0m-6 0h0m-3 0h0m-7 1h0m0-2h0m-4 0h0m-7 1h0m-3-1h0m-1 3h0m2 2h0m4-1h0m1-1h0m6 0h0m7 1h0m2-1h0m-2 3h0m-8 1h0m0-1h0m-3 0h0m-7 1h0m24 4h0" stroke="#e8202c" stroke-width="1.8" stroke-linecap="round" stroke-opacity="0.55" transform="scale(0.5)"/>
<path d="M190 329h0m-12 3h0m11 2h0m-5 1h0m-2 2h0m3 1h0m6 0h0m8-1h0m-2 4h0m0 0h0m-4-1h0m0 1h0m-6 0h0m-1-2h0m-1 0h0m0 0h0m0 0h0m-2 0h0m-2 0h0m-1 1h0m-4 1h0m-12 1h0m10 2h0m2 0h0m0-2h0m1 1h0m0-1h0m1 2h0m1-1h0m1 1h0m0 0h0m1-2h0m1 1h0m1 0h0m1 0h0m0-1h0m0 0h0m0 2h0m1 0h0m0-1h0m1 0h0m0 1h0m0-1h0m1-1h0m0 1h0m0 1h0m0 0h0m1 0h0m0 0h0m2-1h0m1 1h0m1-2h0m1 1h0m2 0h0m0 1h0m7 3h0m-1-1h0m-4 1h0m-3 0h0m0 0h0m0-2h0m-1 0h0m-1 2h0m0 0h0m-2 0h0m-1-2h0m0 0h0m0 1h0m0 0h0m-1-1h0m-1 2h0m0-1h0m0 1h0m-1-1h0m0-1h0m0 2h0m0-1h0m-1 1h0m0-1h0m0 1h0m-1 0h0m0-1h0m0 1h0m0 0h0m-1-2h0m0 1h0m-1 0h0m0-1h0m-1 0h0m0 2h0m0-1h0m0 0h0m-1 0h0m-1 1h0m0 0h0m-1-1h0m-1 1h0m-2 0h0m0-2h0m-3 1h0m-1-1h0m-1 1h0m-2 0h0m3 3h0m0-1h0m1 1h0m1 0h0m1-1h0m2 2h0m0 0h0m0 0h0m1 0h0m0-1h0m1 0h0m0-1h0m0 0h0m2 0h0m0 2h0m0 0h0m1-2h0m0 1h0m1 1h0m0 0h0m0-1h0m0-1h0m0 2h0m0 0h0m0 0h0m0-1h0m1 1h0m0-2h0m1 2h0m0-2h0m0 0h0m0 2h0m0-1h0m0 1h0m0 0h0m1-2h0m0 2h0m0 0h0m0-1h0m0-1h0m0 1h0m3-1h0m0 0h0m0 0h0m1 1h0m0 1h0m0 0h0m0-2h0m1 2h0m0 0h0m0-2h0m0 2h0m0-2h0m0 1h0m1-1h0m0 0h0m1 0h0m0 0h0m0 0h0m1 0h0m1 0h0m1 1h0m1-1h0m1 0h0m2 0h0m2 0h0m-4 3h0m-3 2h0m0 0h0m-3-2h0m-1 2h0m-2-1h0m-1 1h0m0-2h0m-1 2h0m-1-2h0m0 2h0m0 0h0m-1-2h0m0 0h0m0 1h0m-1-1h0m0 0h0m0 1h0m0 0h0m-1 0h0m0 1h0m0 0h0m0-2h0m-1 1h0m0 1h0m0-1h0m-1-1h0m0 2h0m0-2h0m0 0h0m-1 1h0m0-1h0m0 1h0m0-1h0m0 0h0m-1 0h0m0 0h0m-2 2h0m-1-1h0m0 0h0m0 0h0m-3-1h0m0 2h0m0 0h0m-9 3h0m1 0h0m2 0h0m5-2h0m1 0h0m0 1h0m1-1h0m0 2h0m0-2h0m1 2h0m0-2h0m1 1h0m0 0h0m1 1h0m1-2h0m0 2h0m0-1h0m0 1h0m1-1h0m0 0h0m0 0h0m1 0h0m0 0h0m1 1h0m0 0h0m1 0h0m0 0h0m0-1h0m1 1h0m1-1h0m1 1h0m1 0h0m1 0h0m1-2h0m0 1h0m0-1h0m1 0h0m1 1h0m1 0h0m1 1h0m6-1h0m-1 2h0m-8 1h0m-2-1h0m0 1h0m-1-1h0m0 1h0m0-1h0m0 2h0m0-2h0m-2 0h0m0 1h0m-1 1h0m0-1h0m-1-1h0m0 0h0m-1 2h0m-2 0h0m-1-2h0m-1 2h0m-2-2h0m-2 0h0m-1 0h0m0 1h0m-2 0h0m-2-1h0m-1 0h0m0 0h0m-1 2h0m-3 3h0m0-1h0m11-1h0m2 1h0m0-1h0m1 1h0m1-1h0m1 1h0m3-1h0m1 0h0m1 0h0m0 0h0m1 1h0m3 0h0m-4 4h0m-1-1h0m-14 3h0m3-1h0" stroke="#e8202c" stroke-width="1.8" stroke-linecap="round" stroke-opacity="0.55" transform="scale(0.5)"/>
<path d="M199 339h0m-15 1h0m-16 4h0m12 0h0m9 0h0m12-2h0m-12 4h0m-1 1h0m-6 0h0m-1-2h0m-3 2h0m-6-2h0m-3 2h0m-3 2h0m3-1h0m4 1h0m0 1h0m2 0h0m1 0h0m2-2h0m3 1h0m6 0h0m3 0h0m2 1h0m-6 2h0m-2 1h0m-3-2h0m-2 0h0m-3 2h0m-3 0h0m-7-2h0m-6 5h0m14-2h0m1 2h0m6 0h0m2 0h0m6-1h0m9 4h0m-14-1h0m-6-1h0m-2 0h0m-6 2h0m-3-2h0m-2 1h0m-2-1h0m-1 2h0m-1-1h0m0-1h0m3 3h0m4 0h0m9 0h0m5 1h0m-2 4h0m-12-2h0m-6 5h0m6-2h0m4 0h0m2 0h0m-6 4h0m-4 3h0" stroke="#ffffff" stroke-width="1.6" stroke-linecap="round" stroke-opacity="0.5" transform="scale(0.5)"/>
<path d="M442 389h0m-1 0h0m-16-2h0m-20 5h0m6-2h0m5 2h0m18-2h0m16 1h0m0 0h0m3 0h0m0-1h0m4 3h0m-17 0h0m-3 2h0m-5-2h0m-8 1h0m-2 1h0m-1-1h0m0 0h0m-1 1h0m-1 0h0m-6-1h0m-1 1h0m-1-1h0m0 1h0m-1-1h0m-3 1h0m-3-1h0m-2 1h0m-3 1h0m5 1h0m1 0h0m3-1h0m14 2h0m1-2h0m2 1h0m1-1h0m2 2h0m2-1h0m1 1h0m0-1h0m1-1h0m2 0h0m1 1h0m2 0h0m1 0h0m2 0h0m2 1h0m6-1h0m3 1h0m7 0h0m1 1h0m-4 1h0m-11-1h0m-1 0h0m-1 1h0m-8 1h0m-1 0h0m0 0h0m-4-1h0m-5-1h0m-4 2h0m-3 0h0m-3-2h0m-2 2h0m-2 0h0m-1-2h0m-2 2h0m0-1h0m0 0h0m-2 1h0m-1-1h0m0 1h0m-3 0h0m0-2h0m-1 1h0m0 4h0m0-2h0m1 0h0m2 0h0m10 1h0m3 1h0m2 0h0m1-2h0m2 0h0m5 2h0m4-1h0m6-1h0m1 2h0m0-1h0m10 0h0m2-1h0m0 2h0m9 3h0m-3-2h0m-2 2h0m-3-2h0m-7 0h0m-17 0h0m-4 1h0m-5 0h0m-4 1h0m-13 1h0m5 0h0m18 0h0m25 1h0m1-1h0m10 0h0m-10 5h0m-36-1h0" stroke="#d8d8d8" stroke-width="1.6" stroke-linecap="round" transform="scale(0.5)"/>
<polygon points="228.8,166.8 248.1,166.8 248.1,203.5 228.8,203.5" fill="#f0f0c0" opacity="0.6" filter="url(#b2)"/>
<polygon points="229.8,170.8 247.1,170.8 247.1,203.5 229.8,203.5" fill="#cccc60" opacity="0.6" filter="url(#b1)"/>
<path d="M461 344h0m0 1h0m0 1h0m-2 0h0m2 3h0m1 0h0m1 1h0m0 0h0m1-2h0m0 4h0m-2 1h0m-1-1h0m-1 1h0m2 2h0m1 2h0m-1 1h0m0 0h0m-1 0h0m-1 7h0m-1 3h0m3 0h0m0 0h0m1 3h0m-1 0h0m0-1h0m-2-1h0m0 1h0m0 1h0m0 1h0m1 1h0m-1 3h0m0 1h0m0 2h0m2-1h0m0 1h0m0 2h0m0 0h0m-1 0h0m0 0h0m1 4h0m-1 7h0m1-2h0m0 2h0m0-2h0m1 2h0m1 3h0m-1-2h0m-2 2h0m0 0h0m0 2h0m0-1h0m1 1h0m-2 2h0m0 4h0m0 0h0m0-1h0m0 0h0m1 2h0m0-1h0m1 2h0" stroke="#9a9c20" stroke-width="1.6" stroke-linecap="round" stroke-opacity="0.5" transform="scale(0.5)"/>
<path d="M466 344h0m0 3h0m-1 3h0m1-1h0m2 1h0m0-2h0m1 0h0m-2 3h0m0 0h0m0 2h0m0-1h0m0-1h0m-2 2h0m1 2h0m0 1h0m2-1h0m2 2h0m-2 0h0m-1 0h0m-1 2h0m1 3h0m0-2h0m2 4h0m-2 1h0m-1-2h0m0 4h0m1-1h0m0 2h0m0-2h0m1 2h0m0 2h0m0 1h0m-1-2h0m0 1h0m-1 4h0m1 0h0m0-2h0m0 2h0m1-1h0m0 1h0m0-1h0m1 0h0m-1 2h0m0 0h0m0 3h0m-1 6h0m2 0h0m-1 4h0m-3 3h0m3-1h0m-3 6h0m1 1h0m1 1h0m0-1h0m1 0h0m0 2h0m-1 0h0m-1 1h0m2 4h0m-1 2h0" stroke="#9a9c20" stroke-width="1.6" stroke-linecap="round" stroke-opacity="0.5" transform="scale(0.5)"/>
<path d="M473 344h0m-1 2h0m0-1h0m0 0h0m-1 3h0m3 0h0m0 5h0m-1-2h0m-1 1h0m-1 4h0m1 0h0m1 2h0m-1 1h0m-1 0h0m0 3h0m1 0h0m2 3h0m-2-1h0m-1 4h0m0 0h0m0 0h0m1-2h0m1 0h0m1 5h0m-1-1h0m-2 0h0m0 0h0m-1 2h0m3 1h0m0 4h0m0-2h0m-1 2h0m-1 2h0m1 0h0m1-1h0m1 2h0m-1 3h0m-2 2h0m2 0h0m0 2h0m-2 2h0m1 1h0m0 0h0m1 2h0m1-1h0m-2 2h0m0 2h0m0-2h0m-1 1h0m0 1h0m0 1h0m1 2h0m0-1h0m1 0h0m-1 3h0m0-1h0m0 2h0m-2-2h0m0 5h0m1 0h0" stroke="#9a9c20" stroke-width="1.6" stroke-linecap="round" stroke-opacity="0.5" transform="scale(0.5)"/>
<path d="M477 346h0m0 0h0m0 0h0m-1 0h0m0-1h0m-1 5h0m3 2h0m0 0h0m-1 0h0m-1-1h0m0 3h0m1 1h0m1 0h0m0 3h0m-1 1h0m-1 0h0m2 3h0m0 1h0m-1 0h0m-1 4h0m3 1h0m-3 3h0m0-1h0m1 4h0m1-1h0m0-1h0m0 1h0m1 0h0m0 3h0m-1 0h0m0 1h0m0-1h0m-1 0h0m0 7h0m0-2h0m-1 1h0m1 3h0m1-1h0m0 0h0m-1 5h0m0 2h0m0 1h0m1 0h0m0 0h0m2 2h0m-2 1h0m0-1h0m0 0h0m-1-1h0m0 4h0m1 0h0m0 2h0m-1 2h0m1 2h0m0-1h0m0 0h0m0 0h0m1 0h0m0 4h0m-2-1h0" stroke="#9a9c20" stroke-width="1.6" stroke-linecap="round" stroke-opacity="0.5" transform="scale(0.5)"/>
<path d="M481 344h0m-1 1h0m1 5h0m0-1h0m0 0h0m0 1h0m-1 3h0m0 0h0m0 0h0m0-2h0m-1 4h0m0 0h0m1 0h0m2 1h0m-1 2h0m-1-1h0m-1 1h0m1 2h0m1 1h0m1 2h0m-1 2h0m-1-2h0m0 2h0m-1 0h0m1 1h0m1 1h0m0 0h0m0 2h0m-2 4h0m4 2h0m-2 1h0m0 0h0m-1 0h0m0 3h0m2 0h0m0-1h0m-1 3h0m0 0h0m1 4h0m-1 4h0m-2-1h0m1 3h0m0 1h0m1 0h0m0-1h0m0 2h0m-2 1h0m2 2h0m1 1h0m1-1h0m-1 4h0m-1 0h0m0 0h0m-1 4h0m1 0h0m1-1h0m0 4h0m-1-1h0m0 0h0m-2 0h0" stroke="#9a9c20" stroke-width="1.6" stroke-linecap="round" stroke-opacity="0.5" transform="scale(0.5)"/>
<path d="M487 344h0m0 1h0m-2 4h0m3-1h0m-1 5h0m0 0h0m-1-2h0m-1 2h0m1 1h0m1 0h0m0 5h0m-2-2h0m0 1h0m0-1h0m0 4h0m1-1h0m0 1h0m0 0h0m1 3h0m-1 0h0m0-1h0m-1 2h0m1 2h0m0 0h0m0-1h0m0 0h0m0 2h0m0-2h0m1 2h0m-1 3h0m1 1h0m0 2h0m-1 6h0m2-2h0m0 4h0m-2 3h0m1-1h0m0 5h0m-1-1h0m0 4h0m1 0h0m0 0h0m0-2h0m2 5h0m-2-1h0m0 0h0m0 0h0m-2 1h0m1 1h0m1 0h0m0 3h0m0 1h0m-1 0h0m0 1h0m-1 3h0m1-2h0m1 0h0m-1 4h0m-1 0h0m0 0h0" stroke="#9a9c20" stroke-width="1.6" stroke-linecap="round" stroke-opacity="0.5" transform="scale(0.5)"/>
<path d="M491 344h0m2 2h0m-2-1h0m0 5h0m1 1h0m-1 2h0m-1-2h0m1 3h0m0 0h0m2 4h0m-2 1h0m0 1h0m1 5h0m-1 2h0m0 1h0m0-2h0m1 2h0m0 1h0m0 2h0m-1-2h0m0 0h0m-1 0h0m-1 5h0m1-1h0m2 1h0m0 2h0m-1 0h0m-1 1h0m0 3h0m0-1h0m1-1h0m1 1h0m0 1h0m1 0h0m0 0h0m0 1h0m0 2h0m-1-2h0m-1 1h0m0 1h0m-1 0h0m-2-2h0m4 3h0m-2 7h0m1 1h0m0-2h0m1 2h0m0 2h0m0 0h0m-1 2h0m1 4h0m0-1h0m-1 1h0m-1-1h0m0 0h0m2 3h0m0 1h0m0-1h0m0 4h0m-2-1h0" stroke="#9a9c20" stroke-width="1.6" stroke-linecap="round" stroke-opacity="0.5" transform="scale(0.5)"/>
<path d="M462 336h0m1 1h0m0 1h0m0-1h0m0 4h0m0 0h0m-1-2h0m0 1h0m0 0h0m-1 2h0m1 0h0m0 2h0m1-1h0m0 1h0m1-2h0m0 5h0m0-1h0m-1 0h0m0 0h0m-1 0h0m-1 1h0m1 3h0m1-2h0m1 0h0m-2 8h0m1 0h0m0-1h0m2 1h0m-3 3h0m0 2h0m1 0h0m0-1h0m0 0h0m0 0h0m1 1h0m0 3h0m-1 0h0m0 1h0m0 0h0m-2 1h0m2 2h0m0-1h0m0 3h0m0-1h0m0 1h0m-1 0h0m-1-1h0m0 5h0m2 3h0m0-1h0m-1-1h0m1 3h0m1 1h0m-1 2h0m0 2h0m0-2h0m0 0h0m-1 1h0m0 0h0m1 2h0m0 1h0m1 0h0m0 4h0m-1-1h0m0-1h0m-1 0h0m0 0h0m0 2h0m-1 1h0m2 2h0m0 0h0m1-2h0m-1 3h0m-1 0h0m-1 0h0m1 4h0m1-1h0m0 0h0m0 1h0m0 4h0m0-2h0m-1 1h0m-1 1h0m1 3h0m1-2h0m0 1h0m1-1h0m0 0h0m0 4h0m-1 1h0" stroke="#8a8c18" stroke-width="1.8" stroke-linecap="round" stroke-opacity="0.6" transform="scale(0.5)"/>
<path d="M494 340h0m-1 1h0m0-1h0m-1 1h0m0-1h0m-3 0h0m-2 0h0m-1 1h0m-3-1h0m-2 1h0m-2-1h0m0 0h0m-3 1h0m-1 0h0m-5 0h0m-2 0h0m-6-1h0m0 1h0m0 2h0m1 1h0m1-2h0m1 0h0m2 2h0m0 0h0m0-1h0m3 1h0m2-2h0m2 2h0m1-1h0m2-1h0m1 0h0m2 2h0m2-2h0m1 2h0m1-2h0m0 2h0m0 0h0m1 0h0m1 0h0m5 0h0m1 0h0m1-2h0m1 3h0m0 2h0m-1 0h0m-2 0h0m0 0h0m-4-2h0m0 1h0m-1-1h0m-1 0h0m0 2h0m-1-1h0m0-1h0m-1 1h0m-3 0h0m-2 1h0m-3 0h0m-1-2h0m0 2h0m0-2h0m-2 1h0m-1 0h0m-1-1h0m0 0h0m-1 2h0m0 0h0m-8 0h0m0-1h0m0 1h0m-1 0h0m0-2h0m3 5h0m1-2h0m1 2h0m1 0h0m2-2h0m1 2h0m0-1h0m0 1h0m0-2h0m0 1h0m1-1h0m3 1h0m0 0h0m3 0h0m0 0h0m0-1h0m0 2h0m1 0h0m1-1h0m0 0h0m0-1h0m1 1h0m2-1h0m0 2h0m1-1h0m2 1h0m0 0h0m1-1h0m0 1h0m1 0h0m2-1h0m4-1h0m1 2h0m0-1h0m-1 2h0m-3 0h0m-2 0h0m0 0h0m-3 1h0m0 1h0m-4-2h0m-2 2h0m-2-2h0m-2 0h0m-2 2h0m-1-1h0m-1 1h0m-4-2h0m-1 2h0m-1-2h0m-2 0h0m0 1h0m-1 1h0m-1 3h0m3-2h0m1 2h0m0-1h0m4 0h0m1-1h0m1 2h0m1-1h0m1-1h0m3 0h0m3 0h0m1 0h0m0 1h0m1 1h0m0-1h0m3 1h0m3-1h0m2 1h0m1-1h0m2-1h0m2 2h0m1-2h0m-3 5h0m-1-1h0m0 0h0m-1 0h0m-1-1h0m-1 2h0m-4 0h0m0-2h0m-1 2h0m-1 0h0m-1-1h0m-1 1h0m-1 0h0m-5 0h0m0-1h0m-1-1h0m-2 2h0m0-1h0m-1 0h0m-3 1h0m0-2h0m0 0h0m-1 2h0m-1-1h0m0 0h0m-4 0h0m0 4h0m0-2h0m1 1h0m2 0h0m0 1h0m4-1h0m0 1h0m3 0h0m0-2h0m5 0h0m1 2h0m1-2h0m1 0h0m1 0h0m4 2h0m1 0h0m2 0h0m0 0h0m1-1h0m0 1h0m1-2h0m3 1h0m1 1h0m0-2h0m0 1h0m2 2h0m0 1h0m-1-1h0m-9 0h0m-1 1h0m-1 1h0m-1-1h0m-1-1h0m0 2h0m-1-2h0m-1 0h0m0 1h0m0-1h0m-1 0h0m0 2h0m-1-1h0m-1 0h0m0 1h0m-3 0h0m0 0h0m-1 0h0m-2-1h0m0-1h0m0 1h0m-1-1h0m-4 0h0m-2 0h0m0 1h0m-2 1h0m0 3h0m1-1h0m1 0h0m0 1h0m1-2h0m0 0h0m3 0h0m0 2h0m1-2h0m2 1h0m6-1h0m9 0h0m0 2h0m6 0h0m2 0h0m1-1h0m0-1h0m1 1h0m-4 4h0m-1-2h0m0 2h0m-2 0h0m0 0h0m0-1h0m-1-1h0m0 0h0m-1 0h0m-2 2h0m-3 0h0m-1-1h0m0 0h0m-1-1h0m-1 1h0m-2 0h0m-1 0h0m-4-1h0m-1 1h0m-5-1h0m-1 1h0m-1 0h0m-2 1h0m0-1h0m0 3h0m2 0h0m0 1h0m0-2h0m2 2h0m1-1h0m0 1h0m1 0h0m2-1h0m0 0h0m1 1h0m0-2h0m2 0h0m1 0h0m2 1h0m0 0h0m0-1h0m5 1h0m3-1h0m0 1h0m2 0h0m1-1h0m2 0h0m0 0h0m0 0h0m0 1h0m1-1h0m0 0h0m1 1h0m0-1h0m4 3h0m-4 0h0m0 2h0m-3-2h0m0 0h0m-1 1h0m-1 0h0m-3 0h0m-3 0h0m-1-1h0m-1 1h0m0 1h0m-2 0h0m0-2h0m-1 1h0m-2 0h0m-1 1h0m-1-1h0m0-1h0m-1 0h0m-1 0h0m-1 1h0m-4-1h0m0 2h0m0 3h0m0-2h0m2 1h0m1 0h0m2 0h0m0 0h0m0 1h0m1-1h0m0 1h0m4-2h0m2 1h0m0 1h0m2-1h0m1 1h0m1-2h0m1 2h0m0 0h0m1-2h0m0 2h0m1 0h0m0-1h0m1 1h0m1-2h0m1 2h0m1-2h0m2 0h0m0 1h0m1 0h0m1 1h0m1-2h0m1 0h0m0 0h0m2 5h0m-6-1h0m-1 1h0m-2-2h0m-2 1h0m-1 0h0m-3-1h0m-1 2h0m0 0h0m-4-1h0m-5 1h0m-2 0h0m-4-1h0m0-1h0m-1 2h0m0 1h0m1 0h0m1 0h0m2 2h0m1-2h0m1 2h0m0-1h0m2 1h0m1 0h0m6-2h0m0 2h0m2-2h0m0 1h0m1 1h0m0-2h0m2 1h0m0-1h0m1 0h0m1 1h0m2 0h0m1 1h0m2 0h0m1-2h0m2 2h0m3 0h0m-2 3h0m0-2h0m0 2h0m-1-2h0m-4 1h0m-3 1h0m-4 0h0m0-2h0m0 1h0m-4 1h0m0-1h0m-1 0h0m0-1h0m-6 2h0m-1-1h0m0 1h0m0-1h0m0-1h0m-3 0h0m-1 1h0m-1 0h0m-3 2h0m1 1h0m2 1h0m0-1h0m1 1h0m0 0h0m3 0h0m0-1h0m3-1h0m1 2h0m0-2h0m2 2h0m0-1h0m1-1h0m3 2h0m0-2h0m1 2h0m4-1h0m0 0h0m3 0h0m2 0h0m5-1h0m0 2h0m0-1h0m1-1h0m1 4h0m-2-1h0m-1 0h0m0 2h0m-1-2h0m-1 1h0m-1 1h0m-3-2h0m0 0h0m-1 1h0m-1-1h0m-1 0h0m-1 1h0m-4 0h0m-1-1h0m-3 2h0m-3-2h0m-3 2h0m-1-1h0m-2 1h0m-1-1h0m0 1h0m-3-2h0m1 4h0m0 0h0m0 1h0m1 0h0m5-1h0m1 1h0m1 0h0m1-2h0m1 2h0m0-1h0m1-1h0m3 2h0m2-1h0m2-1h0m1 2h0m3-1h0m0-1h0m1 0h0m1 1h0m0 1h0m1-2h0m2 2h0m1 0h0m0-2h0m3 0h0m1 5h0m-3-2h0m-5 2h0m0-1h0m0 0h0m-1-1h0m-1 1h0m-3 0h0m-1 0h0m0-1h0m-1 0h0m-1 2h0m-1 0h0m0-2h0m0 2h0m-3 0h0m-2 0h0m-1-2h0m-1 2h0m0-1h0m-1 1h0m-2-2h0m-2 2h0m-3-2h0m-1 5h0m0 0h0m9 0h0m3-2h0m1 1h0m1 1h0m1-1h0m5 0h0m2 1h0m1 0h0m1-1h0m0 0h0m1 1h0m1 0h0m1 0h0m1-2h0m0 1h0m1-1h0m3 0h0m1 3h0m-2 1h0m-5 0h0m-2 0h0m0-1h0m-4 1h0m0-1h0m-6 1h0m0 0h0m-1-1h0m-2 2h0m-1 0h0m-1-2h0m0 2h0m-2-1h0m-2 0h0m-3-1h0m0 0h0" stroke="#a8a830" stroke-width="1.6" stroke-linecap="round" stroke-opacity="0.5" transform="scale(0.5)"/>
<path d="M491 340h0m-5 1h0m-2 0h0m0-1h0m-2 1h0m-10 0h0m-1 3h0m6 0h0m2-1h0m0-1h0m2 0h0m0 2h0m4-1h0m4-1h0m1 1h0m2 0h0m1-1h0m0 1h0m0 2h0m-1 0h0m-2 0h0m-1 1h0m-2 1h0m-2-2h0m-1 2h0m-8-1h0m-3 0h0m0 1h0m-3-1h0m-1 1h0m-4-2h0m-5 0h0m1 3h0m3 1h0m1 1h0m1-1h0m0 0h0m3 1h0m9 0h0m1-1h0m2-1h0m1 0h0m3 2h0m0 0h0m0-2h0m2 0h0m7 2h0m-4 2h0m-4 1h0m-1-2h0m-2 2h0m-2-2h0m-9 0h0m-1 1h0m-5-1h0m-1 2h0m1 2h0m2 1h0m0-1h0m2 1h0m5 0h0m3 0h0m2-2h0m3 1h0m0-1h0m4 2h0m2 0h0m3-2h0m0 1h0m-2 4h0m-1 0h0m-3-1h0m-1 0h0m-1-1h0m-2 2h0m-6 0h0m-7 0h0m-2-2h0m-2 2h0m-5 3h0m1 0h0m7-2h0m1 2h0m4-1h0m5 0h0m0 0h0m4 1h0m1 0h0m3-2h0m4 2h0m0 0h0m1-1h0m2 0h0m0 3h0m-3-1h0m-3 1h0m-6 1h0m-2-2h0m-1 0h0m-2 0h0m-1 0h0m-2 1h0m-3 0h0m-3 1h0m-3 3h0m2 0h0m5 0h0m6 0h0m0-2h0m0 0h0m1 0h0m7 0h0m9 5h0m-1-1h0m-5 0h0m-1 1h0m0-1h0m-3 0h0m-1 0h0m-1-1h0m-3 0h0m-1 0h0m0 0h0m-7 2h0m-1 0h0m-4 0h0m-1-2h0m-4 1h0m-1-1h0m0 0h0m1 4h0m14 0h0m3-1h0m2 2h0m1-1h0m0 1h0m11 0h0m0 2h0m-3 1h0m-5-2h0m-1 0h0m-3 0h0m-3 0h0m-4 2h0m0-1h0m-4 0h0m-3-1h0m0 2h0m-2-2h0m-1 1h0m5 2h0m3 1h0m1 1h0m10-2h0m0 2h0m2-2h0m7 0h0m2 0h0m1 3h0m-2 0h0m-1 2h0m-2-2h0m0 1h0m-2 0h0m-3-1h0m-4 1h0m-5-1h0m-6 1h0m-1 0h0m0-1h0m-3 0h0m-1 2h0m-3-2h0m0 1h0m6 4h0m1-1h0m2 1h0m4-2h0m12 0h0m7 4h0m-4-1h0m-2 2h0m-25-2h0m-2 4h0m8 1h0m2-2h0m7 1h0m4-1h0m1 2h0m4-1h0m2 1h0m3-2h0m1 0h0m1 2h0m-1 1h0m-2 0h0m0 2h0m-6-1h0m-1 1h0m-1-1h0m-2 0h0m-11 0h0m-1 0h0m-2-1h0m-5 4h0m2 1h0m3 0h0m2-1h0m2 1h0m9-2h0m2 0h0m0 0h0m1 1h0m1 1h0m3-1h0m4 0h0m1 1h0m1-1h0m0-1h0m1 1h0m1-1h0m0 4h0m-1-1h0m-2 2h0m-4 0h0m0 0h0m-1-2h0m-5 2h0m-3-1h0m0 0h0m-2 0h0m-4 1h0m-1 0h0m-2 0h0m-2 1h0m3 2h0m0-1h0m7 1h0m1-1h0m2-1h0m2 0h0m2 1h0m5-1h0m3 1h0m-4 3h0m-6 1h0m-12-2h0m-3 0h0m-2 1h0m-1-1h0" stroke="#eeeeb0" stroke-width="1.6" stroke-linecap="round" stroke-opacity="0.8" transform="scale(0.5)"/>
<ellipse cx="211.4" cy="192.3" rx="12.5" ry="6.2" transform="rotate(-35 211.4 192.3)" fill="#a888d8" opacity="0.75" filter="url(#b1)"/>
<path d="M421 362h0m22-2h0m0 4h0m-5 0h0m0 0h0m-5 0h0m-9 3h0m1 0h0m0-1h0m4 1h0m2 1h0m3-2h0m1 0h0m1 1h0m0 1h0m2 0h0m6-1h0m9 3h0m-4 0h0m-1 0h0m-3-1h0m-2 0h0m-2 0h0m0 0h0m0 2h0m-4 0h0m0-2h0m-1 2h0m-1-2h0m0 2h0m-2 0h0m-2-1h0m0 1h0m-1 0h0m-1 0h0m-1-1h0m-1-1h0m0 1h0m-1 0h0m-1-1h0m-1 0h0m-2 0h0m0 0h0m-1 2h0m-2 0h0m-5 0h0m3 1h0m0 1h0m1-1h0m0 1h0m6 1h0m1-1h0m1-1h0m0 0h0m0 1h0m1 1h0m0-1h0m0 0h0m0 1h0m0-1h0m0 1h0m1-1h0m0 1h0m0 0h0m1 0h0m0-2h0m0 1h0m2 1h0m0 0h0m1-1h0m0 1h0m0 0h0m0 0h0m1-1h0m0 1h0m1-1h0m0 1h0m1 0h0m1-2h0m3 0h0m0 2h0m0 0h0m1 0h0m2-1h0m1 0h0m3 0h0m6 4h0m-2-2h0m-4 1h0m-2-1h0m0 2h0m-3-1h0m0 1h0m-1-1h0m-2 0h0m0 1h0m0 0h0m-1 0h0m-2 0h0m0-1h0m0-1h0m-1 2h0m0-2h0m0 2h0m0-1h0m0 1h0m0-1h0m0 0h0m-1-1h0m0 0h0m0 2h0m-1 0h0m0 0h0m0 0h0m-1-2h0m0 1h0m-1 1h0m0-1h0m0-1h0m0 2h0m-2 0h0m0-1h0m-1 0h0m0 1h0m0 0h0m0 0h0m0-1h0m0-1h0m-1 2h0m0-1h0m0 0h0m0-1h0m0 1h0m-1-1h0m0 1h0m0 1h0m-1-2h0m0 0h0m0 2h0m-1 0h0m0-2h0m-1 2h0m0-1h0m0 1h0m0-1h0m-1-1h0m0 1h0m0-1h0m0 2h0m0-1h0m0 0h0m-2 1h0m-1-2h0m0 2h0m0-2h0m0 2h0m0 0h0m-2-1h0m-1 1h0m0-1h0m0-1h0m-2 0h0m0 0h0m-2 0h0m-3 2h0m-1 1h0m0 2h0m2-2h0m1 1h0m0 0h0m0 0h0m1 0h0m1-1h0m0 1h0m1 0h0m0 1h0m0-1h0m1 0h0m1-1h0m1 2h0m1-2h0m0 2h0m0 0h0m0 0h0m1 0h0m1-2h0m0 2h0m0 0h0m2-1h0m0-1h0m0 0h0m1 0h0m0 1h0m0 1h0m0-1h0m2 0h0m0-1h0m0 2h0m0 0h0m0 0h0m0-2h0m1 2h0m0 0h0m0-1h0m0 1h0m0 0h0m0-1h0m1-1h0m0 1h0m0-1h0m0 2h0m0 0h0m1 0h0m0 0h0m0 0h0m0 0h0m1 0h0m0 0h0m1 0h0m0 0h0m1-2h0m0 0h0m0 1h0m0 1h0m1-1h0m0 1h0m0-1h0m1 1h0m0-1h0m1 0h0m0 1h0m0-2h0m0 2h0m1 0h0m0-2h0m1 0h0m1 0h0m0 2h0m0-2h0m1 0h0m0 1h0m0-1h0m2 0h0m0 1h0m0 1h0m1-1h0m1-1h0m3 1h0m-3 3h0m-1 1h0m0-1h0m0 0h0m-4-1h0m0 2h0m-1-2h0m0 0h0m-1 2h0m0-2h0m0 2h0m0 0h0m-1 0h0m0 0h0m0 0h0m0-2h0m-1 1h0m0-1h0m-2 2h0m0 0h0m0 0h0m0-2h0m0 0h0m0 1h0m-1 1h0m0-1h0m0-1h0m0 2h0m-1 0h0m0-1h0m0-1h0m-1 1h0m0-1h0m0 2h0m0-1h0m-1 0h0m0-1h0m0 1h0m0 0h0m0 0h0m-1 0h0m0 1h0m0 0h0m0-2h0m0 2h0m-1-2h0m0 1h0m0-1h0m0 1h0m0 1h0m0-2h0m0 0h0m0 1h0m-1 1h0m0 0h0m0 0h0m0-1h0m0 0h0m0 0h0m-1 1h0m0-1h0m0-1h0m0 1h0m0 1h0m-1 0h0m0-2h0m0 0h0m0 1h0m0 1h0m0-1h0m-2 1h0m0-1h0m0 1h0m-1-2h0m0 2h0m0 0h0m-1-2h0m0 0h0m0 0h0m0 0h0m0 1h0m0 1h0m-1 0h0m0-1h0m0-1h0m0 0h0m-1 2h0m0-1h0m0 1h0m-1-2h0m0 2h0m0 0h0m-1 0h0m0-2h0m-1 2h0m-1 0h0m0 0h0m-1-1h0m0 1h0m-1-1h0m0-1h0m-2 2h0m-1-1h0m0 1h0m-2-1h0m-7 0h0m3 3h0m4 1h0m2-1h0m1 0h0m2-1h0m2 1h0m1-1h0m0 1h0m0 1h0m0 0h0m1-2h0m1 0h0m0 2h0m0 0h0m1 0h0m0-1h0m0 0h0m0 0h0m0 1h0m1-2h0m0 2h0m1 0h0m0-1h0m0-1h0m0 2h0m1 0h0m0-2h0m0 0h0m1 2h0m0-1h0m0-1h0m0 0h0m0 0h0m0 2h0m0 0h0m1-1h0m0-1h0m0 2h0m0-2h0m1 0h0m0 1h0m0-1h0m0 2h0m0-2h0m0 1h0m0 0h0m0-1h0m1 1h0m0 1h0m0-1h0m0-1h0m1 0h0m1 0h0m0 1h0m0-1h0m0 2h0m0 0h0m1 0h0m0 0h0m0 0h0m0-1h0m0 1h0m1 0h0m0 0h0m0-1h0m0 1h0m0 0h0m1-1h0m0-1h0m1 1h0m0 1h0m0 0h0m0-2h0m1 0h0m1 2h0m0-2h0m1 0h0m0 0h0m0 1h0m2 0h0m0-1h0m1 0h0m0 1h0m0-1h0m1 1h0m0-1h0m0 2h0m0-2h0m0 2h0m1 0h0m0 0h0m0 0h0m1-2h0m0 1h0m1-1h0m0 2h0m1 0h0m0 0h0m0-1h0m1 1h0m1-1h0m1-1h0m2 2h0m-5 2h0m-3 1h0m0-1h0m-1 1h0m-1-2h0m0 0h0m-1 2h0m-1-1h0m0-1h0m0 0h0m-1 1h0m0-1h0m0 0h0m-1 0h0m0 0h0m-1 0h0m0 1h0m0 0h0m0 0h0m0 0h0m-1 0h0m0 0h0m0 0h0m0 0h0m0 0h0m-1 1h0m0 0h0m0-1h0m0 0h0m0-1h0m-1 2h0m0-1h0m0 1h0m-1 0h0m0 0h0m0-2h0m-1 2h0m0 0h0m0-1h0m0 0h0m0 0h0m0 0h0m-1 0h0m0-1h0m0 1h0m0-1h0m0 1h0m-1-1h0m0 0h0m0 0h0m0 0h0m0 1h0m0 0h0m-1 0h0m0-1h0m0 2h0m0 0h0m0-1h0m0-1h0m0 1h0m-1 0h0m0 0h0m0 0h0m-1-1h0m0 1h0m0-1h0m0 2h0m-1-2h0m0 1h0m0 0h0m0 0h0m-1 0h0m0 1h0m0-1h0m-1 0h0m0 0h0m0-1h0m-1 0h0m0 1h0m0 1h0m-1-2h0m0 2h0m-1 0h0m0-1h0m-1 0h0m-1 1h0m0-1h0m0 1h0m0 0h0m-1-2h0m0 1h0m-1 0h0m0-1h0m-1 2h0m-3 0h0m0-1h0m-1 1h0m0-1h0m-3 0h0m-4 0h0m-4 3h0m7 1h0m4 0h0m0 0h0m1 0h0m2 0h0m0-1h0m1 0h0m0 1h0m0-2h0m1 2h0m1-2h0m1 0h0m1 1h0m0 0h0m0 0h0m0 0h0m0 0h0m0 0h0m1 0h0m0 1h0m0-1h0m0-1h0m0 0h0m0 0h0m0 2h0m0-1h0m1 0h0m0 0h0m0 1h0m0 0h0m1 0h0m1 0h0m0-1h0m0 1h0m0 0h0m1 0h0m0-1h0m0 0h0m0-1h0m0 1h0m0 0h0m1 1h0m0-1h0m0 1h0m0 0h0m1-1h0m0 0h0m0 0h0m1 1h0m0-1h0m0-1h0m0 0h0m0 0h0m0 0h0m0 0h0m1 2h0m0-1h0m0-1h0m1 0h0m0 0h0m0 0h0m0 1h0m0 1h0m0-2h0m1 1h0m1 1h0m0-2h0m1 1h0m0 0h0m0-1h0m0 1h0m0 0h0m0 1h0m1-1h0m0 0h0m0-1h0m0 0h0m1 0h0m0 2h0m1-1h0m0 0h0m1 0h0m0 0h0m1-1h0m0 0h0m1 0h0m0 0h0m0 0h0m0 0h0m2 0h0m1 2h0m0-2h0m0 2h0m2-2h0m1 2h0m3-2h0m3 2h0m0-1h0m-5 3h0m0 1h0m-4 0h0m-4-1h0m0-1h0m0 1h0m-1 1h0m0-2h0m-2 1h0m-1 1h0m0 0h0m-1-2h0m0 2h0m0 0h0m-1-2h0m0 0h0m0 1h0m0-1h0m-1 1h0m0 0h0m0 0h0m0-1h0m-1 2h0m0-2h0m-1 1h0m0-1h0m-1 1h0m0 1h0m0 0h0m-1-1h0m0 0h0m0-1h0m0 0h0m-1 0h0m0 0h0m0 0h0m0 0h0m-1 2h0m0-2h0m-1 1h0m0 0h0m0-1h0m0 0h0m-1 1h0m0-1h0m0 1h0m0 0h0m0 1h0m0-2h0m-1 1h0m0 1h0m0-1h0m0 1h0m0-2h0m-1 1h0m-1-1h0m0 0h0m-1 0h0m0 2h0m0-2h0m-1 2h0m0-1h0m-1 0h0m-1 0h0m-3 0h0m0-1h0m-1 1h0m-1-1h0m-1 2h0m-1-1h0m-2 0h0m-1 4h0m7-1h0m0-1h0m1 0h0m2 2h0m1-1h0m1 0h0m0 0h0m1 0h0m1 1h0m1-2h0m1 1h0m0 1h0m0-1h0m1-1h0m1 1h0m0-1h0m1 0h0m1 0h0m1 0h0m0 0h0m0 0h0m1 2h0m1-1h0m0-1h0m0 2h0m0 0h0m0-2h0m0 0h0m1 0h0m0 0h0m1 2h0m0 0h0m0 0h0m1 0h0m1-2h0m0 2h0m3 0h0m0 0h0m1 0h0m2-1h0m1 1h0m2-2h0m-9 4h0m-1 0h0m-3 0h0m-2-1h0m-3 1h0m-1-1h0m0 2h0m0 0h0m-1-1h0m-2 0h0m0-1h0m-9 2h0m-1-2h0m-14 3h0m10 1h0m3 0h0m5-1h0m6 2h0m2 0h0m1-1h0m2-1h0m0 4h0m-1-1h0m-4 1h0m-6 0h0m0 0h0m-18-1h0m27 3h0m7 0h0m4 0h0" stroke="#8a5ec8" stroke-width="1.8" stroke-linecap="round" stroke-opacity="0.6" transform="scale(0.5)"/>
<path d="M442 362h0m3 3h0m-7 6h0m-5-2h0m-1 2h0m-1 0h0m-9 3h0m5-1h0m2 1h0m5-2h0m0 0h0m3 1h0m11-1h0m-8 5h0m-2-1h0m-2-1h0m-1 1h0m0 0h0m-4 1h0m0-1h0m-1 0h0m-2 1h0m-4 0h0m-3-2h0m0 2h0m-2 0h0m0 0h0m-5 1h0m0 2h0m8 0h0m0 0h0m1 0h0m1-2h0m2 1h0m3-1h0m0 1h0m0-1h0m1 0h0m9 1h0m1 0h0m-3 3h0m-1 1h0m-1-1h0m-1 0h0m0-1h0m-2 1h0m-3 1h0m0-2h0m0 2h0m-3-2h0m-1 1h0m-1 0h0m-1 1h0m-1 0h0m-1-1h0m-1 1h0m0 0h0m-1-1h0m-1 0h0m0-1h0m-1 0h0m-1 1h0m-3 1h0m0-1h0m-5 0h0m4 3h0m1-1h0m0 0h0m1 0h0m1 2h0m1 0h0m1 0h0m1-2h0m0 1h0m1-1h0m0 1h0m3 1h0m0-2h0m1 0h0m0 2h0m2 0h0m0 0h0m2 0h0m0-2h0m2 0h0m2 1h0m8-1h0m8 4h0m-4 0h0m-7 0h0m-9-1h0m-3 0h0m0 1h0m0 1h0m-1 0h0m-1 0h0m0 0h0m0-2h0m-2 0h0m0 2h0m-1-2h0m-1 1h0m0 0h0m-1 0h0m-1 0h0m-4 1h0m-1 0h0m0-2h0m-13 5h0m7-1h0m5 1h0m3-2h0m1 2h0m1-2h0m1 2h0m1-1h0m1 1h0m1 0h0m0-2h0m2 0h0m1 2h0m1-2h0m1 0h0m1 2h0m1-2h0m1 1h0m10 2h0m-3 0h0m-11 2h0m-4-2h0m0 1h0m-1 0h0m-2 0h0m-6-1h0m-2 1h0m-14 0h0m-10 3h0m22-1h0m2 0h0m7 0h0m3 2h0m0-1h0m1 0h0m1-1h0m2 5h0m-6-2h0m0 0h0m-1 0h0m-9 0h0m3 4h0" stroke="#ffffff" stroke-width="1.6" stroke-linecap="round" stroke-opacity="0.5" transform="scale(0.5)"/>
<polygon points="340.5,163.4 372.6,160.4 372.6,195.1 340.5,195.1" fill="#dcdcdc" opacity="0.7" filter="url(#b2)"/>
<path d="M736 323h0m-2-1h0m-38 4h0m1 0h0m2 0h0m9 0h0m7 0h0m3-2h0m1 1h0m3-1h0m4 2h0m2 0h0m5-2h0m11 2h0m-1 1h0m-9 2h0m0-2h0m0 0h0m-3 2h0m-8-1h0m-10-1h0m0 2h0m-1-2h0m-14 2h0m-7-1h0m-2-1h0m7 4h0m2-1h0m3 0h0m4 1h0m6 0h0m6 0h0m1 1h0m5-2h0m20 2h0m2 2h0m-3-1h0m-6 1h0m-6 1h0m-1 0h0m-3 0h0m-4-2h0m-5 2h0m-6-1h0m0 1h0m-7 0h0m-1-1h0m-7-1h0m-2 1h0m0 1h0m-2-2h0m-3 2h0m-2 0h0m-1-1h0m-5-1h0m6 3h0m10 0h0m0 2h0m0 0h0m1-2h0m1 1h0m7 1h0m6 0h0m1 0h0m1-2h0m2 1h0m1 1h0m1 0h0m4-1h0m4 0h0m7 1h0m6 2h0m0 1h0m-11-1h0m-5-1h0m-8 1h0m-1 1h0m-2-1h0m-3-1h0m-5 1h0m-2-1h0m-6 1h0m-1 1h0m-1-2h0m-2 1h0m-2-1h0m-2 4h0m4-1h0m1 2h0m0 0h0m1-2h0m2 0h0m0 2h0m3 0h0m5-1h0m3-1h0m5 0h0m6 2h0m1 0h0m17-2h0m9 4h0m-14 1h0m-1-2h0m-7 2h0m-1 0h0m-1-1h0m-6-1h0m-7 2h0m-3 0h0m-14 0h0m-10 3h0m2-1h0m6 0h0m3 0h0m0 0h0m0 0h0m12 0h0m5 1h0m12-1h0m4-1h0m0 1h0m1 1h0m0-1h0m8 0h0m10 2h0m-4 2h0m-9-2h0m-5 0h0m-3 2h0m-4-2h0m-2 2h0m-5 0h0m-7 0h0m-1 0h0m-20 0h0m0-2h0m0 0h0m11 5h0m1-1h0m13-1h0m1 0h0m1 1h0m10 0h0m1 1h0m4 0h0m8-1h0m3 1h0m6-2h0m-3 3h0m0 0h0m-3 0h0m0 0h0m-1 1h0m-3-1h0m-6 0h0m-3 2h0m-2 0h0m-1-2h0m-15 2h0m-2 0h0m-4-1h0m-1 0h0m0-1h0m-4 2h0m-8-1h0m-2 0h0m-2 3h0m4-1h0m7 2h0m4-2h0m0 2h0m10-2h0m1 2h0m10-2h0m5 2h0m2 0h0m6-1h0m1-1h0m8 0h0m2 4h0m-2 0h0m-1 1h0m-2-1h0m0-1h0m-8 1h0m-1-1h0m-2 0h0m-2 0h0m-3 0h0m-1 2h0m-3-1h0m-1-1h0m-10 0h0m-19 1h0m-1-1h0m-6 4h0m2-1h0m5 2h0m2-1h0m7 1h0m2-1h0m9-1h0m2 1h0m1 0h0m6-1h0m2 0h0m18 0h0m1 1h0m5 0h0m-9 4h0m-3 0h0m-7 0h0m-4 0h0m0 0h0m-3 0h0m-7-1h0m-7-1h0m-4 2h0m-1-2h0m-1 1h0m-2 1h0m-4-1h0m-1 0h0m0 1h0m-4-1h0m-3 1h0m-1-1h0m0 3h0m8 1h0m2-2h0m3 2h0m10 0h0m5-1h0m1 1h0m8-1h0m11 0h0m10 1h0m1 1h0m-3 1h0m-7 0h0m-7 1h0m-5 0h0m-6-2h0m-5 2h0m-5-1h0m-1 1h0m-3 0h0m-11-1h0m-3 3h0m4 1h0m3-1h0m2 0h0m5 1h0m4-1h0m2 1h0m1-1h0m12 0h0m21-1h0m2 2h0m-12 1h0m-6 2h0m-1 0h0m-10 0h0m-4 0h0m0 0h0m-3-1h0m-9 0h0m-1-1h0m-7 2h0m-2 1h0m3 2h0m5-2h0m0 2h0m1-2h0m10 0h0m9 1h0m3 0h0m4-1h0m10 1h0m7 1h0m1-2h0m1 1h0m3-1h0m1 2h0m-1 2h0m-6 1h0m0-1h0m-4 1h0m-2-1h0m-1 1h0m-16-1h0m-1 1h0m-12 0h0m-8 0h0m-2-2h0m-5 0h0m13 3h0m15 0h0m11 0h0m8 0h0" stroke="#c4c4c4" stroke-width="1.6" stroke-linecap="round" stroke-opacity="0.6" transform="scale(0.5)"/>
<path d="M731 319h0m1 1h0m5-1h0m6 1h0m2-2h0m-3 3h0m-3 1h0m-6 1h0m-9 0h0m-12 3h0m0-1h0m10 0h0m3-1h0m5 2h0m0-2h0m-7 5h0m-14-2h0m-1 1h0m-2-1h0m-3 0h0m-5 1h0m-1 4h0m7-1h0m11 0h0m4 1h0m4 0h0m2-1h0m7 0h0m2-1h0m5 0h0m4 5h0m-1-1h0m-7 0h0m-1-1h0m-5 0h0m0 0h0m-10 1h0m-9-1h0m-1 0h0m-4 2h0m-1 0h0m-1-1h0m-4 0h0m8 4h0m5 0h0m18-1h0m1 1h0m2-2h0m8 0h0m1 0h0m-12 4h0m-10 1h0m-1-1h0m-2-1h0m-2 0h0m-2 0h0m-2 0h0m-1 0h0m-5 2h0m-3 0h0m11 1h0m1 2h0m10-2h0m6 1h0m1 0h0m8 2h0m-3 0h0m-15 1h0m-13 1h0m-5-2h0m-7 3h0m11 0h0m1 1h0m3-1h0m20 1h0m-14 4h0m-3-2h0m-22 4h0m1 1h0m2-1h0m6-1h0m3 2h0m29 0h0m11 3h0m-43-1h0m0 1h0m-2 2h0m21 0h0m2 1h0m0-2h0m0 1h0m12 0h0m3 0h0m4 4h0m-4-1h0m-3-1h0m-6 1h0m-7 1h0m-9-2h0m-1 1h0m-13 1h0m2 3h0m9 0h0m9 0h0m0-2h0m0 1h0m4-1h0m5 1h0m3-1h0m10 0h0m1 0h0m3 4h0m-6-1h0m-2 1h0m-8 0h0m-2 1h0m0 0h0m-10-1h0m-7-1h0m-8 1h0m-10 0h0m25 2h0m15 2h0m-5 3h0m-9-1h0m-11 0h0m-15 4h0m11-1h0m1 1h0m0 0h0m36-2h0m-10 4h0m-17-1h0m-15 0h0m-6 4h0m9 1h0m3-2h0m5 1h0m7 0h0m5 0h0m0-1h0m6 1h0m0-1h0m4 1h0m1 1h0m9-1h0m3 1h0m0 1h0m-11 1h0m-2 0h0m-15 0h0m-1 1h0m-11 0h0m-12 2h0m16 0h0m4 1h0m10-2h0m15 2h0m0-1h0m5-1h0" stroke="#d0cce0" stroke-width="1.6" stroke-linecap="round" stroke-opacity="0.7" transform="scale(0.5)"/>
<polygon points="371.6,154.3 388.9,154.3 388.9,196.1 371.6,196.1" fill="#f0f0c0" opacity="0.6" filter="url(#b2)"/>
<polygon points="372.6,158.3 387.9,158.3 387.9,196.1 372.6,196.1" fill="#cccc60" opacity="0.6" filter="url(#b1)"/>
<path d="M749 323h0m-1-1h0m-1 0h0m1 3h0m0 0h0m1 4h0m-2-2h0m0 0h0m-1 2h0m-1 2h0m1 0h0m1 1h0m1-2h0m1 4h0m-2-1h0m0 4h0m0 0h0m0 2h0m0 2h0m0-1h0m0 3h0m0 0h0m1 4h0m0 0h0m0-1h0m-1 0h0m0 2h0m1 0h0m-1 5h0m-1-2h0m0 4h0m0 1h0m3-2h0m0 0h0m-1 4h0m0 0h0m-1 1h0m1 1h0m-1 5h0m1 2h0m0 1h0m1-2h0m0 3h0m0 2h0m0-1h0m-1 1h0m-1 0h0m0 3h0m0-1h0m0 4h0m0 0h0m1 2h0m0 2h0m0 0h0m-1 0h0m0 2h0m0 2h0m4-1h0m-2 4h0m-2 2h0" stroke="#9a9c20" stroke-width="1.6" stroke-linecap="round" stroke-opacity="0.5" transform="scale(0.5)"/>
<path d="M750 320h0m2 3h0m0 0h0m-1-2h0m-1 1h0m0 1h0m2 2h0m0 0h0m-2 5h0m2 0h0m0 4h0m0-1h0m-1 0h0m0 2h0m-1-1h0m0 0h0m2 2h0m1 2h0m-2 6h0m1-1h0m0 4h0m0-2h0m-1 4h0m2 4h0m-3 2h0m1 0h0m1 0h0m0 1h0m0 2h0m-1 1h0m0-1h0m1 4h0m0 3h0m0-2h0m0 0h0m0 0h0m-2 5h0m2 3h0m-2 3h0m0-1h0m0 0h0m1 1h0m1-2h0m0 2h0m1-2h0m-2 3h0m-1 1h0m0 1h0m0 0h0m1 3h0m0-2h0m0 1h0m1-1h0m1 4h0m-3 2h0m0 1h0m1 3h0m0 1h0m-3 1h0m3 1h0" stroke="#9a9c20" stroke-width="1.6" stroke-linecap="round" stroke-opacity="0.5" transform="scale(0.5)"/>
<path d="M755 319h0m1 0h0m1 0h0m-1 4h0m0-1h0m0-1h0m-2 5h0m3 2h0m-1 0h0m0-1h0m-1 2h0m-1 1h0m2 2h0m1 2h0m-1 0h0m-1 0h0m-1 2h0m1 0h0m0 0h0m1 0h0m0 2h0m1 0h0m-2 1h0m0 2h0m0 2h0m1-1h0m0 2h0m0-2h0m2 1h0m-2 3h0m-2 2h0m1 1h0m1-1h0m1 2h0m0 0h0m-1 2h0m0 1h0m0 0h0m0 2h0m1 1h0m0 2h0m0 0h0m-2-1h0m0 8h0m-1 1h0m1 1h0m2 1h0m-1 3h0m-1-1h0m-1 0h0m2 2h0m0 3h0m0 2h0m-2 2h0m1 0h0m1 0h0m-1 2h0m0 5h0m1-1h0m1 5h0" stroke="#9a9c20" stroke-width="1.6" stroke-linecap="round" stroke-opacity="0.5" transform="scale(0.5)"/>
<path d="M762 319h0m0 0h0m-1 3h0m-3 2h0m3 0h0m0 0h0m1 1h0m1 4h0m-1-2h0m0 2h0m0 3h0m1 0h0m0-1h0m0 4h0m-2 0h0m0 2h0m0 0h0m1 1h0m1 0h0m-2 3h0m1 3h0m2 0h0m-1 3h0m-2 0h0m0-1h0m2 3h0m1-1h0m-2 8h0m0-1h0m1 1h0m0 3h0m-1-1h0m-1 4h0m0-1h0m1-1h0m0 1h0m-3 5h0m2 1h0m0 0h0m1-1h0m2 2h0m-1 1h0m0 1h0m0 7h0m-1-1h0m-1-1h0m1 5h0m0-1h0m0-1h0m0 2h0m1 1h0m0 1h0m-1 1h0m0-1h0m3 7h0m-1 0h0m-2-1h0m0-1h0m-1 2h0m-1-2h0" stroke="#9a9c20" stroke-width="1.6" stroke-linecap="round" stroke-opacity="0.5" transform="scale(0.5)"/>
<path d="M767 322h0m-2 1h0m-2 0h0m2 1h0m1 1h0m-1 3h0m0 0h0m-1 1h0m1 3h0m1 0h0m0 1h0m-1 0h0m0 2h0m1 4h0m-4 0h0m3 3h0m1 2h0m-2 6h0m1 0h0m1-2h0m-2 4h0m0 0h0m0 4h0m0 0h0m1-2h0m0 1h0m0 0h0m0-1h0m2 4h0m-3 0h0m-1 2h0m1 2h0m1-1h0m1 1h0m1-1h0m0-1h0m-1 5h0m-1-1h0m0-1h0m0 2h0m0 0h0m-1 1h0m2 2h0m0 1h0m-1 0h0m0 2h0m-1-2h0m-1 2h0m2 3h0m0-2h0m1 2h0m0 0h0m0 1h0m0 3h0m0 0h0m1 0h0m-2 5h0m-1 3h0m1 6h0m1-1h0" stroke="#9a9c20" stroke-width="1.6" stroke-linecap="round" stroke-opacity="0.5" transform="scale(0.5)"/>
<path d="M767 320h0m1 6h0m0 2h0m0 0h0m0 0h0m-1 2h0m1 3h0m0 2h0m-3 3h0m0-1h0m1 1h0m0-1h0m2 0h0m-1 2h0m-1 0h0m0 0h0m-1 0h0m2 3h0m0 1h0m1 4h0m-2 2h0m0 0h0m1 1h0m0 6h0m0-1h0m1 4h0m-1-2h0m0 4h0m0-1h0m0 0h0m1 1h0m0 1h0m0 2h0m-1-1h0m0 2h0m-1 2h0m0-1h0m1 0h0m0 0h0m1 1h0m0-1h0m-1 4h0m-1 1h0m0-2h0m-1 1h0m0-1h0m2 3h0m1 1h0m0 2h0m0 0h0m0 1h0m-2 3h0m3 2h0m0 0h0m-1 0h0m-1 2h0m-1-1h0m0 7h0m0-1h0m1 4h0" stroke="#9a9c20" stroke-width="1.6" stroke-linecap="round" stroke-opacity="0.5" transform="scale(0.5)"/>
<path d="M770 319h0m2 1h0m1-1h0m-1 2h0m-2 0h0m1 5h0m1-2h0m1 3h0m-2 1h0m0 0h0m2 5h0m0 2h0m-1 0h0m-1 2h0m0 1h0m1-2h0m1 1h0m0 0h0m-1 2h0m-1 3h0m2 1h0m0 2h0m0 0h0m0 2h0m-2 3h0m2-1h0m-3 4h0m2 2h0m0 0h0m0 1h0m0 0h0m0 1h0m-2 2h0m0 1h0m1 1h0m1 0h0m0 5h0m1 5h0m0-2h0m-2 1h0m0 2h0m1 0h0m0 1h0m0 0h0m2 2h0m-1 1h0m-1 0h0m0 1h0m-1 0h0m-2-1h0m2 2h0m2 1h0m0 4h0m-1-1h0m-1 1h0m1 2h0m1-1h0m-1 5h0m-1 3h0m2 0h0" stroke="#9a9c20" stroke-width="1.6" stroke-linecap="round" stroke-opacity="0.5" transform="scale(0.5)"/>
<path d="M748 311h0m-1 1h0m2 2h0m1 1h0m-1 2h0m-1 1h0m0 2h0m1-1h0m0 2h0m0 2h0m-1-2h0m0 1h0m0 0h0m0 1h0m0 0h0m1 5h0m0 1h0m0 0h0m0 0h0m-1 0h0m2 4h0m-2 2h0m0 2h0m0-1h0m1 3h0m0 2h0m-1 0h0m0-1h0m0 2h0m0 2h0m0-1h0m0 0h0m1 0h0m0 1h0m0 2h0m0-1h0m-1 0h0m0 1h0m0 2h0m0 2h0m2 1h0m-1 2h0m0-2h0m0 2h0m-1-2h0m0 1h0m0 0h0m0 3h0m0 1h0m1-1h0m0 2h0m0 1h0m-1 1h0m0 0h0m-1-1h0m1 4h0m0-1h0m2 2h0m-2 1h0m-1 1h0m1 1h0m1 1h0m1 3h0m-1-1h0m0 0h0m0 2h0m0-1h0m-1 1h0m-1 2h0m1-1h0m0 0h0m0 0h0m1 0h0m0 5h0m0 0h0m-1-1h0m0 3h0m1 0h0m0-1h0m0 4h0m-2 1h0m-1-2h0m3 7h0m0-1h0m-1 1h0m-1 0h0m1 3h0m0-1h0m0 1h0m1-1h0" stroke="#8a8c18" stroke-width="1.8" stroke-linecap="round" stroke-opacity="0.6" transform="scale(0.5)"/>
<path d="M775 316h0m-2 0h0m-3-1h0m-2 1h0m-1 0h0m-2-1h0m-4 0h0m-1 2h0m0-1h0m-1 1h0m0-2h0m-1 2h0m-1-1h0m-6 1h0m0-1h0m-1 0h0m-1 0h0m-2 1h0m-2 0h0m2 1h0m4 1h0m1 0h0m0-1h0m4 1h0m4 0h0m0 0h0m2-1h0m0 0h0m0 2h0m1-1h0m1 1h0m2-1h0m4 1h0m1-1h0m1 1h0m0-1h0m2-1h0m2 0h0m-1 3h0m-1 1h0m-4 0h0m-1 1h0m0-2h0m-1 2h0m0-2h0m-1 1h0m0-1h0m-2 2h0m-3 0h0m-6 0h0m0-1h0m-1 1h0m-1 0h0m-1-1h0m-1-1h0m0 2h0m0 0h0m-1-2h0m-2 2h0m-1 0h0m-2 0h0m1 2h0m1 0h0m1-1h0m2 2h0m3 0h0m1 0h0m4 0h0m1-2h0m0 0h0m1 2h0m4 0h0m1-2h0m1 0h0m1 2h0m1-2h0m0 0h0m0 1h0m2-1h0m0 1h0m0 0h0m1 0h0m1 0h0m0 1h0m1-2h0m1 3h0m-3 1h0m0-1h0m-2 2h0m-4-2h0m-1 1h0m-2 0h0m-3-1h0m0 1h0m-1-1h0m-2 2h0m-3-1h0m-2 0h0m0-1h0m-2 2h0m-1-1h0m-1-1h0m-2 4h0m1 1h0m0-1h0m3 0h0m0 0h0m1 0h0m0 0h0m1 1h0m0 0h0m3-2h0m2 2h0m2 0h0m1-2h0m1 0h0m1 2h0m4-2h0m3 1h0m1-1h0m2 0h0m3 3h0m0 0h0m-1 0h0m-1 0h0m-1 1h0m0-1h0m-1 0h0m0 0h0m-1 2h0m-1-2h0m-1 1h0m-4 1h0m0-1h0m-1 1h0m0-2h0m-2 1h0m-1 0h0m-2 0h0m-1-1h0m-1 0h0m-2 0h0m-1 1h0m-1-1h0m0 2h0m-2-2h0m-1 2h0m0-1h0m-1 1h0m-1-1h0m-1 1h0m2 1h0m7 1h0m1 0h0m1 1h0m2 0h0m2 0h0m0-2h0m1 1h0m1-1h0m1 2h0m0 0h0m1-1h0m0 1h0m3 0h0m2-2h0m2 0h0m2 1h0m0-1h0m1 4h0m-1 0h0m-2 0h0m0 1h0m-1-1h0m0-1h0m0 2h0m-2 0h0m0 0h0m-3-2h0m-5 0h0m0 2h0m0 0h0m-1 0h0m-1-2h0m-1 1h0m-1 1h0m0-2h0m-2 2h0m-1-2h0m-1 2h0m0-2h0m-1 0h0m-2 0h0m-4 4h0m3 0h0m0 1h0m0 0h0m1-2h0m1 0h0m3 2h0m5-2h0m0 1h0m1 0h0m0 0h0m2-1h0m2 2h0m5 0h0m1-2h0m2 0h0m0 2h0m3-2h0m-1 4h0m-2 1h0m-1-2h0m-2 2h0m-1 0h0m-1-1h0m0 0h0m-1 1h0m-3 0h0m-1 0h0m-1-2h0m-2 1h0m-1 1h0m-3-1h0m-1 0h0m0-1h0m-2 0h0m-4 1h0m-2-1h0m0 4h0m3-1h0m1 2h0m2-2h0m1 1h0m2 1h0m0-2h0m1 2h0m0 0h0m4-1h0m0-1h0m0 2h0m1-2h0m1 2h0m0-1h0m2-1h0m3 0h0m1 1h0m0 1h0m1-1h0m2 0h0m0-1h0m0 0h0m1 0h0m0 0h0m0 1h0m3 4h0m0-1h0m-1 0h0m-3-1h0m0 0h0m-3 0h0m0 0h0m-1 1h0m0 1h0m-1-1h0m-1 0h0m-7 1h0m-1 0h0m-1 0h0m-6-2h0m-1 2h0m-2-1h0m0 0h0m-2-1h0m1 4h0m0-1h0m1 0h0m0 1h0m3 0h0m1-1h0m1 1h0m0 0h0m2 1h0m1-2h0m0 2h0m1-2h0m2 2h0m0 0h0m3-2h0m6 0h0m1 2h0m1-1h0m0 0h0m0-1h0m0 0h0m6 3h0m-1 0h0m-1 1h0m-2 1h0m-1-2h0m0 2h0m0 0h0m-1-2h0m-1 1h0m-1 0h0m-1 0h0m0 0h0m-1-1h0m0 0h0m-2 0h0m0 2h0m-1-1h0m0 0h0m-3 0h0m-1 1h0m-3 0h0m-4-2h0m-1 2h0m-1-2h0m-2 2h0m-1-1h0m0 4h0m3-2h0m3 2h0m2 0h0m1-2h0m0 0h0m4 2h0m0 0h0m2-1h0m1 1h0m0 0h0m1-1h0m0 1h0m1 0h0m1-1h0m1-1h0m0 2h0m2-2h0m0 1h0m2 0h0m1 1h0m0 0h0m1 0h0m2 3h0m-1 0h0m0-1h0m-1 1h0m-2-2h0m-2 2h0m-1-2h0m-3 0h0m-1 2h0m-1 0h0m-1 0h0m0-1h0m-2-1h0m-1 0h0m0 1h0m-1 0h0m0 1h0m-3 0h0m0-2h0m-1 1h0m0 1h0m-1-1h0m-1 0h0m-3 0h0m-2 0h0m0-1h0m0 1h0m1 2h0m1 0h0m1 0h0m0 2h0m0 0h0m1-2h0m5 1h0m0-1h0m1 2h0m0-1h0m0 1h0m2-1h0m5-1h0m0 1h0m2-1h0m0 1h0m1 1h0m1 0h0m1 0h0m0-2h0m2 0h0m3 2h0m2 3h0m-3 0h0m-1-1h0m-1 0h0m-1 0h0m-5-1h0m-2 2h0m-2-2h0m-1 1h0m-1 1h0m0-1h0m-5 0h0m-1 0h0m-1-1h0m-2 2h0m0 0h0m-2-1h0m-1 4h0m2 0h0m1-1h0m1-1h0m0 2h0m1-1h0m3-1h0m2 0h0m3 0h0m1 1h0m2-1h0m2 0h0m4 0h0m1 0h0m0 2h0m0-1h0m1-1h0m4 2h0m1-1h0m-5 3h0m-1 0h0m-2-1h0m0 0h0m0 0h0m-1 0h0m-3 0h0m0 2h0m-4-2h0m0 2h0m-1-1h0m0 1h0m-1-2h0m-3 1h0m-1-1h0m-1 1h0m-1 1h0m-1-2h0m-3 5h0m1-1h0m1-1h0m1 2h0m1 0h0m0 0h0m2-2h0m1 0h0m1 1h0m0 0h0m1 1h0m2-2h0m3 2h0m0-1h0m1-1h0m1 2h0m0-1h0m1 1h0m1-2h0m2 0h0m0 1h0m2 1h0m1-2h0m0 1h0m1 1h0m2-2h0m2 0h0m0 4h0m0 1h0m-3-1h0m-2-1h0m-1 1h0m-4-1h0m0 2h0m-5-2h0m-1 1h0m-1 0h0m-3-1h0m-1 2h0m-1-1h0m-1 0h0m-3 1h0m-1-2h0m-2 0h0m0 3h0m0 2h0m1-1h0m1-1h0m0 2h0m1-2h0m2 0h0m3 1h0m2 1h0m1 0h0m0-2h0m1 1h0m1 1h0m0 0h0m6 0h0m1-2h0m1 0h0m1 0h0m0 2h0m1 0h0m2-1h0m2 1h0m1-1h0m1 1h0m0 2h0m0 1h0m-1-1h0m-2 0h0m0 0h0m-3-1h0m-1 2h0m-1 0h0m-1 0h0m-4-1h0m-1 0h0m-1 0h0m-2 1h0m-1-2h0m-1 0h0m-1 1h0m0-1h0m-2 2h0m-1 0h0m-1-1h0m-1 1h0m-4-1h0m0 1h0m0 1h0m1 0h0m0 2h0m4-2h0m0 2h0m10-1h0m9-1h0m1 0h0m1 0h0m2 0h0m1 0h0" stroke="#a8a830" stroke-width="1.6" stroke-linecap="round" stroke-opacity="0.5" transform="scale(0.5)"/>
<path d="M774 315h0m-4 0h0m0 1h0m0 1h0m-7-2h0m-2 2h0m-5 0h0m-5 0h0m-3-2h0m-2 4h0m4 0h0m1 0h0m4 0h0m16-1h0m1 3h0m-1 2h0m0-1h0m-15-1h0m0 0h0m-2 1h0m-5 1h0m0 2h0m5-1h0m4 1h0m1 1h0m1-1h0m6-1h0m0 1h0m3 1h0m2-2h0m1 1h0m2 0h0m1 0h0m1-1h0m-3 4h0m-8 1h0m-2-2h0m-1 1h0m-2-1h0m0 1h0m-2-1h0m-1 2h0m-6-1h0m-4 0h0m-1 2h0m2 1h0m3 0h0m1 0h0m3-1h0m14 0h0m0 2h0m0 0h0m6 0h0m0 0h0m-2 1h0m-7 2h0m-3 0h0m-4-2h0m-12 5h0m1-2h0m1 2h0m3 0h0m1 0h0m4 0h0m2-2h0m1 1h0m6-1h0m3 0h0m2 0h0m3 1h0m-3 4h0m-1 0h0m-3-1h0m-4-1h0m-3 0h0m-3 0h0m-3 1h0m-6 0h0m-1 2h0m4 0h0m3 2h0m2-1h0m0 0h0m3 1h0m1 0h0m1 0h0m5-1h0m0-1h0m2 0h0m0 0h0m1 2h0m6 1h0m-6 1h0m-8 1h0m-2-2h0m-4 1h0m-1 1h0m-6-2h0m-2 1h0m0 1h0m10 2h0m1 0h0m13 0h0m-2 3h0m-3 0h0m-1 0h0m-1-1h0m-3 2h0m-2-1h0m-1 0h0m0 1h0m-3 0h0m-1 0h0m-1-1h0m-1 1h0m-3-1h0m-1 0h0m2 2h0m2 0h0m1 2h0m2-2h0m1 0h0m0 1h0m2 1h0m4 0h0m1-2h0m1 1h0m12 3h0m-1-1h0m-1 2h0m-1-2h0m-6 2h0m-1 0h0m0 0h0m-4-1h0m-1-1h0m-10 2h0m-2-1h0m-2-1h0m2 4h0m0 1h0m1-2h0m1 0h0m7 2h0m3-1h0m3 1h0m0-1h0m5 1h0m6 0h0m-5 3h0m-6 0h0m0-1h0m-9-1h0m-2 0h0m0 2h0m-1-1h0m-4 3h0m0 0h0m3-1h0m0 0h0m8 2h0m4 0h0m4-1h0m0-1h0m4 1h0m1 1h0m1-2h0m1 0h0m1 1h0m0 2h0m-1 0h0m-1 2h0m0-2h0m-10 1h0m-4-1h0m-8 1h0m-2 0h0m2 4h0m11 0h0m3-1h0m9 3h0m-1-1h0m-1 2h0m0-1h0m-3-1h0m-7 1h0m-1-1h0m0 1h0m-8-1h0m-2 1h0m0-1h0m-1 1h0m-4 1h0m7 1h0m1 2h0m1-1h0m8 0h0m4 0h0m0-1h0m1 2h0m4 0h0m1-1h0m-1 3h0m-5 0h0m-4 0h0m-1 1h0m0-1h0m-6-1h0m-1 2h0m0 0h0m0 0h0m-2 0h0m-2-2h0m-1 1h0m-3 4h0m0-2h0m2 2h0m2-1h0m2-1h0m5 0h0m1 0h0m1 2h0m0 0h0m1-2h0m3 2h0m3 2h0m-1-1h0m-1 2h0m-9-1h0m-1-1h0m0 0h0m-2 1h0m0 0h0m-3 1h0m-2-1h0m-2 0h0m1 4h0m1 0h0m1 0h0m3 0h0m0-1h0m1 0h0m2-1h0m3 2h0m2-1h0m6 0h0m0 1h0m3-1h0m1 1h0m3 0h0" stroke="#eeeeb0" stroke-width="1.6" stroke-linecap="round" stroke-opacity="0.8" transform="scale(0.5)"/>
<ellipse cx="350.0" cy="180.7" rx="8.0" ry="7.0" transform="rotate(-35 350.0 180.7)" fill="#f06464" opacity="0.45499999999999996" filter="url(#b1)"/>
<ellipse cx="357.5" cy="174.7" rx="8.0" ry="4.5" transform="rotate(-35 357.5 174.7)" fill="#f06464" opacity="0.385" filter="url(#b1)"/>
<path d="M696 338h0m4 3h0m-11 0h0m15 3h0m1 0h0m5-2h0m3 2h0m-2 1h0m-4 2h0m-4 0h0m0 0h0m-2-2h0m-4 0h0m-5 2h0m-10 2h0m7-1h0m3 2h0m0-2h0m0 2h0m5 0h0m0 0h0m1-1h0m1-1h0m1 0h0m2 2h0m0-2h0m1 2h0m1-2h0m1 2h0m1-2h0m1 1h0m0-1h0m0 1h0m2-1h0m1 1h0m7 1h0m1 0h0m1-2h0m0 2h0m-6 1h0m-5 2h0m0 0h0m-2-1h0m0 1h0m-4-2h0m0 2h0m0 0h0m-1 0h0m-2 0h0m0-2h0m-1 0h0m-2 1h0m0 1h0m-3-2h0m-2 2h0m-1-1h0m-3 1h0m-5 0h0m10 3h0m0 0h0m1-1h0m1-1h0m0 0h0m0 1h0m1 0h0m0 1h0m1 0h0m0-2h0m0 1h0m2-1h0m0 2h0m0-2h0m0 2h0m0 0h0m1-2h0m1 2h0m0-2h0m0 2h0m0-2h0m1 2h0m0 0h0m0 0h0m1-2h0m1 2h0m0-2h0m1 0h0m0 2h0m1-2h0m1 0h0m0 2h0m2-1h0m0-1h0m1 1h0m1 0h0m0 1h0m1 0h0m4-2h0m1 2h0m3-1h0m7 4h0m-11-1h0m-2 0h0m-2 0h0m0-1h0m0 2h0m-1-1h0m-2 1h0m0-1h0m-2 1h0m0-1h0m0 1h0m-1-2h0m0 1h0m-1 0h0m0 1h0m0-2h0m-1 0h0m-2 2h0m0 0h0m0-1h0m0 1h0m-1 0h0m0-1h0m0 1h0m-1 0h0m0-1h0m-3 1h0m0 0h0m0-1h0m-1-1h0m0 2h0m-3 0h0m0 0h0m-1 0h0m0 0h0m-1-2h0m-2 1h0m0 0h0m-1 1h0m-2-1h0m-7 0h0m-4 4h0m4 0h0m7-2h0m1 1h0m2 1h0m1-2h0m0 0h0m1 0h0m2 0h0m1 2h0m0 0h0m1 0h0m0-1h0m1 1h0m0-1h0m0 0h0m1-1h0m2 2h0m1 0h0m1-2h0m1 0h0m0 2h0m1 0h0m0-2h0m1 0h0m0 1h0m0 1h0m0-1h0m2 0h0m1 1h0m0-2h0m0 1h0m0 0h0m1 0h0m0 1h0m1 0h0m0-1h0m1-1h0m1 1h0m1-1h0m1 2h0m8-1h0m-1 4h0m-1 0h0m-1-2h0m-1 2h0m-1-1h0m-1-1h0m0 1h0m-1-1h0m-1 1h0m-1 1h0m-1-2h0m0 0h0m0 1h0m-3 1h0m-1-2h0m0 0h0m-1 1h0m0 1h0m-2 0h0m-1-2h0m-2 0h0m-1 0h0m0 2h0m-1 0h0m0-2h0m0 0h0m0 2h0m-1-1h0m0 0h0m0 1h0m0-2h0m0 0h0m-1 1h0m-1 0h0m-2 0h0m0 1h0m0-1h0m-1 0h0m-2 1h0m-5 0h0m-1-1h0m0 0h0m-1 1h0m-3 0h0m-2 2h0m1-1h0m5 0h0m2 2h0m0-2h0m3 1h0m2 0h0m1 1h0m0 0h0m3-2h0m1 1h0m1-1h0m0 0h0m0 2h0m1 0h0m0-2h0m0 1h0m1 1h0m0-2h0m1 0h0m0 0h0m0 0h0m1 0h0m0 2h0m1 0h0m0-2h0m1 2h0m0 0h0m0-1h0m0-1h0m0 2h0m1-1h0m1 0h0m0 0h0m1 1h0m1 0h0m1-2h0m0 2h0m0 0h0m1-1h0m0-1h0m0 1h0m1-1h0m0 1h0m3 0h0m3 0h0m-3 3h0m-3 0h0m-2 0h0m-3-1h0m-1 0h0m0 0h0m0 2h0m-2-2h0m0 2h0m-1-1h0m-1 1h0m0-2h0m-1 1h0m-2 1h0m-1-1h0m-1-1h0m0 2h0m-1-1h0m0 1h0m-2-1h0m-1 1h0m0-1h0m-3 1h0m0 0h0m-1 0h0m5 3h0m0 0h0m2 0h0m0-2h0m1 0h0m0 1h0m2 0h0m2-1h0m1 2h0m2-2h0m3 1h0m4-1h0m3 0h0m4 2h0m0 0h0m17-2h0m-18 5h0m-3-2h0m-4 1h0m0-1h0m0 1h0m-3-1h0m-1 1h0m-2-1h0m-2 2h0m-4-1h0m-2-1h0m-12 1h0m9 4h0m4-2h0m4 2h0m5-2h0m0 2h0m2-1h0m4 1h0m2-2h0m10 0h0m-31 9h0" stroke="#e8202c" stroke-width="1.8" stroke-linecap="round" stroke-opacity="0.55" transform="scale(0.5)"/>
<path d="M731 331h0m9-1h0m-26 6h0m2 1h0m2 1h0m0-2h0m1 2h0m1-2h0m1 1h0m4-1h0m2 1h0m1 1h0m1-2h0m1 1h0m4 0h0m0 0h0m0-1h0m4 2h0m-5 3h0m-7-1h0m-1 1h0m0 0h0m-1-1h0m0 1h0m-2 0h0m-3-1h0m-1-1h0m-10 2h0m-1 2h0m5-1h0m1 1h0m3 1h0m1-1h0m0-1h0m0 2h0m0-2h0m1 2h0m0 0h0m0 0h0m0 0h0m2-1h0m0 1h0m1 0h0m0-1h0m0-1h0m2 0h0m1 0h0m0 0h0m1 2h0m2-1h0m3 1h0m2 2h0m-3 1h0m-1 0h0m-1-2h0m0 2h0m-2-2h0m-1 2h0m-3-1h0m-1-1h0m0 2h0m-3-2h0m0 1h0m-1 1h0m-1 0h0m-1-2h0m0 0h0m0 0h0m0 2h0m-1-2h0m0 1h0m-2 0h0m-2 1h0m0-1h0m-2 0h0m-2-1h0m-4 2h0m-2 2h0m1 1h0m2-1h0m1-1h0m5 2h0m1 0h0m1 0h0m0 0h0m0-1h0m0 0h0m1 0h0m0 0h0m0 1h0m0-2h0m0 2h0m1-1h0m0 0h0m0-1h0m1 0h0m0 2h0m0-1h0m1-1h0m1 2h0m1-2h0m0 0h0m0 0h0m0 0h0m0 0h0m1 0h0m0 1h0m0-1h0m1 2h0m0-1h0m0-1h0m1 0h0m0 2h0m0 0h0m0-2h0m0 2h0m1 0h0m4 0h0m1-1h0m0 1h0m1 0h0m0 0h0m1-1h0m0 1h0m-1 2h0m0 0h0m0 1h0m-2-1h0m-1 0h0m-1-1h0m-2 1h0m-2 0h0m0-1h0m-1 1h0m0 0h0m0 0h0m0 0h0m-1-1h0m0 1h0m-1 0h0m-1 1h0m0-1h0m-1 0h0m0 1h0m-1-2h0m0 2h0m0 0h0m-1 0h0m0 0h0m0-2h0m-1 0h0m0 1h0m-1 1h0m0 0h0m-1 0h0m-2 0h0m0-2h0m0 2h0m-2-2h0m0 1h0m-3 1h0m0 2h0m1-1h0m1 2h0m3-1h0m1-1h0m1 1h0m0 0h0m1-1h0m0 2h0m1 0h0m1-1h0m1-1h0m3 0h0m0 1h0m3 0h0m0-1h0m3 0h0m1 1h0m7 0h0m2 2h0m-7 2h0m-1 0h0m-3-1h0m-4-1h0m0 2h0m0-1h0m-2-1h0m0 0h0m-1 0h0m-2 2h0m-3-2h0m0 2h0m-1-2h0m0 2h0m0 0h0m-2 0h0m-3-1h0m0 0h0m0 1h0m-2-1h0m-4 0h0m-2-1h0m-2 0h0m11 4h0m9-1h0m4 0h0m-11 5h0m-3 3h0m12 0h0" stroke="#e8202c" stroke-width="1.8" stroke-linecap="round" stroke-opacity="0.55" transform="scale(0.5)"/>
<path d="M731 331h0m3 15h0m-26-1h0m-8 1h0m17 4h0m2 2h0m-4 1h0m-5-1h0m-1 1h0m0 0h0m-9-2h0m1 5h0m3-1h0m1 0h0m1 1h0m0-2h0m2 0h0m2 0h0m16 2h0m-5 2h0m-2 1h0m0 0h0m-6 0h0m0-1h0m-5 1h0m-3-2h0m-9 1h0m-3-1h0m-2 2h0m2 3h0m7-1h0m2 0h0m16 1h0m1-1h0m-24 2h0m0 5h0m19-2h0m0 1h0m-18 5h0m0 2h0m6 3h0m-9 2h0" stroke="#ffffff" stroke-width="1.6" stroke-linecap="round" stroke-opacity="0.5" transform="scale(0.5)"/>
<path d="M979 388h0m-34 1h0m-8 0h0m-4-1h0m4 2h0m10 2h0m17-2h0m6 2h0m1-2h0m7 0h0m11 2h0m4 2h0m-7-1h0m-1 1h0m-6-1h0m-12 1h0m0 0h0m-2 0h0m0 0h0m-6 1h0m0 0h0m-1-1h0m-1-1h0m-4 2h0m-4 0h0m-2-2h0m-3 0h0m-6 0h0m-8 0h0m0 3h0m0 0h0m3 0h0m3 0h0m2 0h0m1 0h0m6 2h0m3-2h0m1 0h0m1 1h0m1-1h0m1 0h0m1 0h0m5 1h0m8 1h0m5-1h0m1 1h0m2 0h0m1-2h0m13 0h0m2 1h0m1-1h0m2 3h0m-4 0h0m0 0h0m-1 1h0m0 0h0m-1-1h0m-2 0h0m-2 2h0m0-2h0m-1 2h0m-1-1h0m-3 1h0m0-1h0m-1-1h0m-1 2h0m-4-2h0m0 1h0m0-1h0m-1 1h0m-9 1h0m-5-1h0m-1-1h0m-2 2h0m-2-2h0m0 0h0m-7 1h0m-2-1h0m-1 0h0m-3 2h0m-1-1h0m-6 2h0m3 1h0m17 0h0m5-1h0m5 0h0m1 2h0m3-2h0m4 0h0m5 2h0m0 0h0m5-2h0m2 1h0m0-1h0m0 0h0m3 0h0m5 1h0m1 2h0m0 0h0m-12 2h0m-17 0h0m-8-1h0m-4 1h0m-11-2h0m7 5h0m12-2h0m7 0h0m5 1h0m6 0h0m3-1h0" stroke="#d8d8d8" stroke-width="1.6" stroke-linecap="round" transform="scale(0.5)"/>
<path d="M994 345h0m-2 1h0m-5-1h0m-8 2h0m-6 3h0m2-2h0m11 1h0m3 0h0m3 2h0m-2 1h0m-9 0h0m-9 1h0m-3-1h0m-1-1h0m-1 2h0m-22 3h0m16 0h0m19-2h0m0 2h0m6-1h0m-4 2h0m-10 2h0m-13-2h0m-15 1h0m8 3h0m3 0h0m9-1h0m16 1h0m6 0h0m1 0h0m1-1h0m0 0h0m5 1h0m0 4h0m0-2h0m-14 1h0m-2-1h0m-9 0h0m-10 0h0m-8 2h0m-1-2h0m2 4h0m4 1h0m5-1h0m2 0h0m5-1h0m13 1h0m1 0h0m-9 3h0m-22-1h0m-3 2h0m-6 3h0m24-2h0m7 1h0m3 0h0m1-1h0m10 0h0m6 0h0m-4 4h0m-10 0h0m0-1h0m-2 2h0m-3-1h0m-2 1h0m-1-2h0m-1 0h0m-23 2h0m3 3h0m19 0h0m2-2h0m1 0h0m3 2h0m2-2h0m7 1h0m2 0h0m1-1h0m5 1h0m2 1h0m-14 2h0m-7 0h0m-3 1h0m-2-2h0m-4 0h0m-12 1h0m-7-1h0m-7 5h0m2-1h0m10-1h0m1 1h0m0 0h0m0 0h0m12 0h0m0-1h0m5 0h0m19 0h0m0 5h0m-2-1h0m0-1h0m-1 2h0m-17-1h0m0-1h0m-2 1h0m-1-1h0m-7 1h0m-6 1h0m-12 3h0m1 0h0m1-2h0m5 1h0m13-1h0m1 1h0m5 0h0m5 0h0m1 0h0m8 1h0m2-2h0m2 2h0m0 0h0m7-1h0m0-1h0m-2 4h0m-1-1h0m-8 0h0m-12 2h0m-10-2h0m-11 1h0m-4 4h0m21-1h0m5-1h0m10 2h0m4-2h0m0 0h0m4 0h0m9 0h0m0 3h0m-13 2h0m-1-1h0m-14-1h0m-5 2h0m0-2h0m-2 2h0m-6 0h0m-6-1h0m-9 4h0m0-2h0m1 2h0m6-1h0m11-1h0m8 2h0m5-2h0m8 1h0m9-1h0m4 2h0m0 0h0m-8 1h0m-1 1h0m-10 0h0m-14 1h0m-2 0h0m-1-1h0" stroke="#d0cce0" stroke-width="1.6" stroke-linecap="round" stroke-opacity="0.7" transform="scale(0.5)"/>
<polygon points="496.0,168.4 513.5,168.4 513.5,203.3 496.0,203.3" fill="#f0f0c0" opacity="0.6" filter="url(#b2)"/>
<polygon points="497.0,172.4 512.5,172.4 512.5,203.3 497.0,203.3" fill="#cccc60" opacity="0.6" filter="url(#b1)"/>
<path d="M993 347h0m1 3h0m2 0h0m0 3h0m-1-1h0m0 2h0m1 1h0m1 4h0m-1-2h0m0 0h0m-1 0h0m0 0h0m0 1h0m0 1h0m-1 3h0m1-2h0m1 0h0m0 4h0m0 4h0m1 2h0m-2 1h0m0 0h0m-1 3h0m0-1h0m0 0h0m0 1h0m2-1h0m0 0h0m1-1h0m0 0h0m-1 3h0m-2 2h0m-1 1h0m2 1h0m0 3h0m0 1h0m0 2h0m0-1h0m1 0h0m0 1h0m0-1h0m0 0h0m0 4h0m-3 4h0m2-2h0m0 1h0m1-1h0m-1 4h0m-1 1h0m1 2h0m1 0h0m1 0h0m0 3h0m-2 0h0m-1 1h0m1 3h0m2-2h0m0 1h0m0 3h0m0 0h0" stroke="#9a9c20" stroke-width="1.6" stroke-linecap="round" stroke-opacity="0.5" transform="scale(0.5)"/>
<path d="M1002 347h0m-3 1h0m0 0h0m0 2h0m0 0h0m3 0h0m2 1h0m-3 1h0m-1 1h0m-1-2h0m1 5h0m1-1h0m0 2h0m-2 2h0m1 1h0m0 2h0m0 0h0m0 0h0m2 3h0m-1 0h0m-2-2h0m0 5h0m1 0h0m0 0h0m0 2h0m-1 0h0m-2 1h0m2 3h0m3 2h0m-2 0h0m0-1h0m-1 0h0m0 4h0m2 3h0m-1 1h0m0 0h0m0-1h0m-1 2h0m0 2h0m1-2h0m0 1h0m2 1h0m-1 3h0m-1-1h0m-1 4h0m1-1h0m0 1h0m0-1h0m0 4h0m-1-2h0m0 1h0m0 3h0m2 0h0m0 4h0m-1-1h0m-1-1h0m-1 2h0m3 2h0m-1 3h0m-1 0h0" stroke="#9a9c20" stroke-width="1.6" stroke-linecap="round" stroke-opacity="0.5" transform="scale(0.5)"/>
<path d="M1004 350h0m1-1h0m0 3h0m-1 0h0m-1 0h0m0 2h0m1 0h0m0 1h0m3 3h0m-1-1h0m0 1h0m-1-1h0m-1 1h0m-1 1h0m0 2h0m2 2h0m-1 1h0m0 0h0m-2 0h0m3 2h0m0 1h0m1-1h0m0 4h0m-1 0h0m-1-1h0m0 3h0m0 2h0m2 1h0m-2 0h0m-1 2h0m-1-2h0m2 3h0m0 3h0m0 0h0m2 3h0m0 4h0m-2-1h0m0 2h0m-2 3h0m2 0h0m1-2h0m0 2h0m0 3h0m0-1h0m0 0h0m0 0h0m-1 0h0m0-1h0m0 2h0m-2-2h0m2 3h0m2 5h0m-1-2h0m-1 2h0m-1-2h0m0 3h0m0 0h0m1 2h0m0-2h0m3 2h0" stroke="#9a9c20" stroke-width="1.6" stroke-linecap="round" stroke-opacity="0.5" transform="scale(0.5)"/>
<path d="M1008 347h0m0 0h0m0 2h0m0 0h0m1 1h0m1 0h0m0 0h0m-2 1h0m-1 2h0m2 2h0m1-1h0m-1 4h0m0 1h0m0-1h0m-1 1h0m2 2h0m-1 4h0m-1 2h0m2-1h0m0 5h0m-1 0h0m0-2h0m0 1h0m-1-1h0m2 4h0m0 0h0m0-1h0m1 1h0m-2 2h0m0 0h0m1 4h0m1 2h0m-2 2h0m-3 2h0m3 0h0m0 0h0m1 1h0m0-2h0m0 5h0m-2-2h0m0 4h0m0 0h0m0 1h0m1 0h0m0-1h0m1 3h0m-2-1h0m0 1h0m1 4h0m0-2h0m0 2h0m2-2h0m-2 3h0m-2 1h0m1 4h0m0 0h0m1 0h0m2 1h0m-2 0h0m-2 2h0" stroke="#9a9c20" stroke-width="1.6" stroke-linecap="round" stroke-opacity="0.5" transform="scale(0.5)"/>
<path d="M1016 347h0m0 0h0m-1 5h0m-1 1h0m1 3h0m0 2h0m0-1h0m0 3h0m1 1h0m-1 3h0m0 0h0m0 0h0m0-1h0m-1 4h0m1 0h0m1-1h0m0 1h0m2 0h0m-1 3h0m-1-1h0m-1 2h0m0-2h0m-1 2h0m1 1h0m2 3h0m-1 2h0m-1-1h0m-1 4h0m1-1h0m0 0h0m1 0h0m-1 3h0m-1 3h0m2 0h0m-2 2h0m0 0h0m1 3h0m0 2h0m1 2h0m0-1h0m-1 2h0m0-1h0m-1 3h0m1 0h0m0-1h0m0 2h0m1 0h0m1 1h0m0 0h0m-1 0h0m0 1h0m0 0h0m0 0h0m-2 1h0m0 0h0m0 3h0m2 1h0m0 1h0m-1-1h0m0 0h0" stroke="#9a9c20" stroke-width="1.6" stroke-linecap="round" stroke-opacity="0.5" transform="scale(0.5)"/>
<path d="M1017 348h0m1 1h0m1 1h0m0-1h0m0-1h0m1 1h0m1 2h0m-1 0h0m0 2h0m-1 0h0m0-2h0m-1 1h0m0 0h0m0 2h0m0 1h0m0 0h0m0 1h0m1-1h0m0 0h0m2 3h0m-2 1h0m0-1h0m0-1h0m-1 1h0m0 3h0m-1 3h0m0-1h0m0 4h0m0 1h0m1-2h0m1 1h0m1 1h0m0-2h0m0 5h0m-2 0h0m0 2h0m1 0h0m0 1h0m0-2h0m1 1h0m-1 4h0m0-2h0m-2 4h0m2 3h0m-1-1h0m0 11h0m0-2h0m0 1h0m0 0h0m0 3h0m-1 3h0m4-1h0m-1 3h0m0 2h0m-2-2h0m0 0h0m-1 4h0m1 0h0m1-1h0m0 3h0" stroke="#9a9c20" stroke-width="1.6" stroke-linecap="round" stroke-opacity="0.5" transform="scale(0.5)"/>
<path d="M1023 347h0m-1 1h0m2 4h0m0 1h0m-1 0h0m-1-1h0m-1 0h0m0 2h0m1 0h0m1 0h0m1 5h0m0-2h0m0 2h0m-1 0h0m0 0h0m0-1h0m-2 2h0m2 1h0m1 1h0m1 2h0m-1-1h0m-1 2h0m-1 0h0m2 1h0m0 4h0m-1-1h0m-1 1h0m0 2h0m1 2h0m1 0h0m0 0h0m0 1h0m0 2h0m0-2h0m0 4h0m1 0h0m-2 3h0m0 1h0m0-2h0m0 2h0m1 3h0m0-2h0m-1 4h0m0 0h0m-1 2h0m3 2h0m-2 2h0m-1 1h0m0 2h0m0-1h0m1 2h0m2-2h0m1 5h0m-3 0h0m0 0h0m-1 2h0m1 1h0m1 0h0m0-1h0m-1 3h0" stroke="#9a9c20" stroke-width="1.6" stroke-linecap="round" stroke-opacity="0.5" transform="scale(0.5)"/>
<path d="M998 339h0m-1 1h0m0-1h0m0 4h0m0 1h0m1 0h0m0-1h0m0 4h0m0-1h0m0 0h0m-1 1h0m-1 0h0m0 3h0m1-1h0m0 1h0m2-2h0m-1 3h0m-1 2h0m0-1h0m0 3h0m1-1h0m0 5h0m0-2h0m-1 0h0m-1 3h0m0 1h0m1 1h0m0 0h0m0 0h0m0 1h0m0 2h0m0 2h0m0 0h0m0 4h0m0-2h0m-1 1h0m0 4h0m1-2h0m0 1h0m1 1h0m0 3h0m0-1h0m0-1h0m-1 0h0m0 3h0m0 1h0m0-1h0m0 0h0m0 0h0m1 0h0m0 1h0m0-1h0m-1 3h0m0 1h0m0 0h0m-1 4h0m0-2h0m0 1h0m0 0h0m2 0h0m1 2h0m-2 2h0m-2-1h0m2 4h0m1 2h0m0 1h0m-1 0h0m0-1h0m0 4h0m0 0h0m0-2h0m0 1h0m1-1h0m0 2h0m0-1h0m0 3h0m0 1h0m-1-1h0m0-1h0m0 2h0m-1 0h0m0 1h0m0 1h0m1 0h0m0 1h0m0-2h0m0 1h0m0 1h0m1-1h0m-1 3h0" stroke="#8a8c18" stroke-width="1.8" stroke-linecap="round" stroke-opacity="0.6" transform="scale(0.5)"/>
<path d="M994 343h0m2 1h0m4-1h0m1 0h0m4 0h0m1 1h0m1-1h0m2 0h0m1 0h0m0 0h0m1 1h0m2 0h0m2 0h0m3 0h0m1-1h0m0 0h0m5 0h0m1 4h0m0-1h0m-1-1h0m-1 1h0m0 1h0m-5-2h0m-1 1h0m-4 0h0m-2-1h0m-1 2h0m-2 0h0m-1 0h0m-2 0h0m-1-2h0m0 0h0m-1 2h0m0-1h0m-2-1h0m0 2h0m0-1h0m-1-1h0m0 2h0m-1-2h0m0 2h0m0 0h0m-1-1h0m0 0h0m-1 0h0m-3-1h0m0 3h0m0 0h0m1 2h0m2-1h0m0 1h0m0-2h0m1 2h0m0 0h0m2 0h0m1 0h0m0-1h0m0-1h0m1 0h0m0 0h0m5 1h0m1 0h0m3 0h0m1 0h0m1 0h0m0 0h0m1-1h0m0 0h0m2 0h0m1 0h0m2 2h0m0-2h0m1 0h0m0 2h0m1 0h0m1-1h0m1 1h0m2-1h0m0 4h0m-2-2h0m-2 1h0m-2 0h0m-1-1h0m0 0h0m0 2h0m-2 0h0m0 0h0m-1 0h0m0-2h0m-1 2h0m-2-2h0m-1 1h0m0 0h0m0 1h0m-2-1h0m0 0h0m-2 1h0m0-2h0m-1 0h0m0 1h0m0 1h0m0-1h0m-1 1h0m-1 0h0m-1-1h0m-1-1h0m0 2h0m-1-2h0m-3 2h0m-2-2h0m0 0h0m-2 3h0m2 0h0m0 2h0m1-2h0m6 0h0m0 0h0m3 2h0m1-1h0m0-1h0m2 1h0m2 1h0m0-1h0m2 0h0m1 1h0m1 0h0m1-1h0m1 0h0m0-1h0m1 0h0m0 2h0m1 0h0m2-1h0m2 1h0m0-1h0m1 3h0m0 0h0m-1 0h0m-2 1h0m-2-2h0m-1 2h0m-1-2h0m0 0h0m-2 1h0m-1 1h0m-1-2h0m0 0h0m-3 1h0m0-1h0m-4 0h0m-1 0h0m-6 1h0m-3-1h0m-2 2h0m9 1h0m1 1h0m1-1h0m2 2h0m1-1h0m5-1h0m0 2h0m0 0h0m0-1h0m1-1h0m2 2h0m0-2h0m1 0h0m1 1h0m0-1h0m5 2h0m1-2h0m0 1h0m1 2h0m-2 2h0m-1-2h0m0 1h0m-1-1h0m0 0h0m-1 0h0m-2 1h0m-6 0h0m0 1h0m0-1h0m-2 1h0m-1-1h0m0-1h0m-1 0h0m-2 2h0m0-2h0m-2 0h0m-3 2h0m-1-1h0m-3-1h0m-1 2h0m0-2h0m0 0h0m0 0h0m-1 0h0m-1 2h0m1 3h0m0 0h0m1-1h0m2 1h0m1-1h0m0 0h0m1 1h0m0 0h0m2-2h0m2 1h0m0 1h0m4-1h0m0 1h0m1-1h0m0 0h0m1 0h0m2-1h0m3 0h0m3 2h0m1 0h0m0-2h0m1 2h0m1-1h0m1 1h0m0-1h0m1 0h0m0 1h0m1-1h0m1 4h0m-3-2h0m-1 1h0m-1 0h0m-1-1h0m-1 1h0m-1-1h0m-3 0h0m0 0h0m-1 2h0m0-2h0m-1 2h0m-5 0h0m-1-2h0m0 0h0m-2 1h0m-1-1h0m-1 0h0m-1 2h0m-1-1h0m-4 1h0m0-1h0m-2 0h0m1 2h0m0 0h0m1 1h0m3 0h0m0-1h0m1 2h0m1-1h0m1-1h0m0 2h0m8 0h0m0-1h0m0 1h0m0 0h0m1 0h0m3 0h0m1-2h0m0 2h0m2-2h0m2 2h0m0-1h0m4 0h0m1 0h0m1 4h0m-1-1h0m0-1h0m0 0h0m0 0h0m-3 1h0m-3 0h0m-1 0h0m-1-1h0m-1 0h0m-3 2h0m-1-2h0m0 0h0m-1 2h0m0-2h0m-3 2h0m0-1h0m-2 1h0m-1 0h0m-3 0h0m0-2h0m0 2h0m0 0h0m-1-1h0m-1-1h0m0 1h0m-1-1h0m0 2h0m0 0h0m-3-2h0m0 2h0m0-1h0m0 0h0m-1 1h0m0-2h0m0 4h0m0 0h0m1 1h0m0-2h0m2 0h0m1 2h0m1-1h0m1 0h0m4 0h0m1-1h0m1 0h0m1 1h0m0-1h0m0 0h0m0 1h0m1 1h0m0-1h0m5 0h0m1 0h0m2 0h0m1 0h0m0 1h0m1-1h0m2 1h0m0 0h0m1 0h0m1 0h0m0-1h0m1-1h0m1 2h0m1 1h0m0 0h0m-1 1h0m-1-1h0m0 0h0m-1 2h0m-1 0h0m0-1h0m0 0h0m-2 0h0m-2-1h0m-2 0h0m0 2h0m-3-1h0m-1 1h0m-5-1h0m0 1h0m-1 0h0m-3-1h0m0-1h0m0 0h0m-2 1h0m-1 0h0m-2 0h0m0 0h0m0 1h0m-2-1h0m-1-1h0m0 0h0m0 4h0m1-1h0m1 2h0m0-2h0m1 0h0m1 2h0m1-1h0m1-1h0m0 0h0m1 0h0m1 0h0m0 1h0m1 1h0m2-2h0m2 0h0m2 2h0m2 0h0m1-2h0m1 2h0m1-2h0m2 2h0m1-1h0m3 1h0m0-2h0m1 1h0m2 0h0m1 3h0m-1-1h0m0 2h0m-4-1h0m-1 1h0m-1-1h0m-1 1h0m0-1h0m-7 1h0m-1-1h0m-3 0h0m-2 1h0m-1-2h0m-1 1h0m-1 1h0m0-2h0m-2 1h0m-1 1h0m0-1h0m-1 1h0m-1-1h0m0 1h0m0-2h0m0 5h0m2-2h0m0 1h0m2-1h0m0 1h0m2 1h0m2 0h0m0-2h0m2 1h0m2 1h0m3-2h0m3 1h0m1 0h0m3-1h0m0 0h0m0 0h0m1 1h0m1 1h0m1-1h0m4 2h0m0 2h0m-1-1h0m0 0h0m-2 1h0m0-2h0m-1 0h0m-2 2h0m0-1h0m-1 0h0m-1 1h0m0-1h0m-1 1h0m-1-1h0m-1 1h0m-4 0h0m-5 0h0m-2-2h0m-1 0h0m-1 1h0m-1-1h0m-2 2h0m0-1h0m-1-1h0m0 2h0m-1-1h0m1 2h0m0 2h0m1 0h0m0-2h0m2 2h0m0-2h0m3 1h0m1 0h0m0 0h0m0 0h0m2 1h0m1-2h0m0 0h0m1 0h0m0 2h0m1 0h0m1-1h0m2 1h0m0 0h0m1 0h0m0-1h0m0-1h0m1 0h0m2 0h0m0 1h0m0 1h0m1 0h0m2-2h0m3 0h0m2 2h0m0 0h0m0 0h0m1 0h0m-2 2h0m0 0h0m0-1h0m-5 0h0m-1 1h0m-7 0h0m0-1h0m-1 2h0m0-2h0m-1 2h0m-1-1h0m-1 1h0m-3 0h0m-1-1h0m-1 0h0m-1 1h0m-1 2h0m2-1h0m1 2h0m1-1h0m6-1h0m1 0h0m0 0h0m4 0h0m1 0h0m0 2h0m0-2h0m4 1h0m1 0h0m1-1h0m1 1h0m1 1h0m1-2h0m0 1h0m1-1h0m-1 3h0m0 1h0m-2 0h0m0 1h0m-2-1h0m-2 0h0m-3 0h0m0-1h0m-3 1h0m-1-1h0m0 2h0m0-1h0m0-1h0m0 0h0m-1 1h0m-2-1h0m-1 2h0m-2-2h0m-1 0h0m-2 1h0m0-1h0m-6 1h0" stroke="#a8a830" stroke-width="1.6" stroke-linecap="round" stroke-opacity="0.5" transform="scale(0.5)"/>
<path d="M995 344h0m1 0h0m5-1h0m1 1h0m0 0h0m7 0h0m7-1h0m1 0h0m0 1h0m2 0h0m3 2h0m-2 1h0m-8-2h0m-7 1h0m-4-1h0m-1 1h0m-3 0h0m1 2h0m2 0h0m4 0h0m2 1h0m2 0h0m1 1h0m0 0h0m1-2h0m1 1h0m6-1h0m6 0h0m-3 5h0m-1 0h0m-3-2h0m-2 0h0m0 2h0m0-1h0m-2 1h0m0-2h0m-5 1h0m-2-1h0m-5 0h0m-4 0h0m-1 0h0m2 4h0m2-1h0m6 1h0m4 1h0m3-2h0m0 0h0m1 2h0m2-1h0m5-1h0m0 1h0m0 3h0m-5 0h0m-1-1h0m0 1h0m-4 0h0m-2 0h0m-1 0h0m-11 0h0m-1 1h0m-1 1h0m1 2h0m2-2h0m0 1h0m1 0h0m2 0h0m5-1h0m0 0h0m3 1h0m3 0h0m4 1h0m3 0h0m0-2h0m2 2h0m2 0h0m3-2h0m0 1h0m-6 3h0m0-1h0m-2 0h0m-4 0h0m-4 1h0m-1 0h0m-1 0h0m-2 1h0m-5-2h0m0 2h0m-2-1h0m-3-1h0m0 2h0m-1 1h0m3 2h0m6-2h0m4 2h0m1-1h0m11 1h0m0 0h0m1-1h0m1-1h0m1 0h0m1 0h0m-3 3h0m-4 1h0m0-1h0m0 1h0m-1 1h0m-9 0h0m-1 0h0m-2-2h0m-4 0h0m-2 1h0m0-1h0m-1 4h0m2-1h0m3 1h0m1 0h0m2 1h0m1 0h0m0-1h0m1 0h0m2-1h0m7 1h0m6-1h0m1 0h0m0 1h0m2 4h0m-2-2h0m0 0h0m-1 2h0m-7 0h0m0-2h0m-1 2h0m-2-1h0m-1-1h0m-3 2h0m-13 3h0m0-2h0m3 2h0m0 0h0m2 0h0m0-2h0m10 0h0m1 2h0m1-1h0m2 1h0m6-1h0m6-1h0m-2 3h0m-4 2h0m-1-2h0m0 2h0m0 0h0m-1 0h0m-6 0h0m0 0h0m-3-1h0m-2 1h0m-2 0h0m-10-1h0m3 4h0m0-2h0m1 2h0m1-2h0m7 0h0m4 1h0m9-1h0m2 1h0m1 1h0m2 0h0m1 3h0m-2-1h0m0 0h0m0 0h0m0 1h0m-2-1h0m-4 0h0m-3-1h0m-4 0h0m0 2h0m-2-1h0m0 1h0m-8-2h0m-1 1h0m-2 2h0m3 1h0m6-1h0m3 1h0m0-1h0m0 1h0m1 0h0m4 0h0m1 1h0m7-2h0m3 2h0m-2 2h0m-2-1h0m-3 1h0m-1 1h0m-1-1h0m-1 0h0m-2-1h0m-3 1h0m0-1h0m-2 2h0m-2 0h0m0-2h0m-1 2h0m-1-2h0m-4 2h0m-4-1h0m0 0h0m0-1h0m-1 5h0m10-1h0m1 1h0m0-1h0m9 0h0m1 0h0m0 1h0m6 0h0m3-2h0m-7 4h0m-2 0h0m-6-1h0m-4 2h0m-2 0h0m-3 0h0m-4 0h0m0 0h0m0 0h0m-1 0h0m-1 2h0m11-1h0m0 1h0m3 0h0m1-1h0m2 1h0m0 1h0m3-2h0m3 2h0m2-2h0m1 1h0m1-1h0m-11 4h0m-3 0h0m-6-1h0m0 0h0m-2 1h0m-4 0h0m0 0h0" stroke="#eeeeb0" stroke-width="1.6" stroke-linecap="round" stroke-opacity="0.8" transform="scale(0.5)"/>
<ellipse cx="476.8" cy="192.3" rx="13.0" ry="7.0" transform="rotate(-35 476.8 192.3)" fill="#a890dc" opacity="0.5249999999999999" filter="url(#b1)"/>
<path d="M972 354h0m1 3h0m-3 2h0m-8 0h0m-7 3h0m2 0h0m20-2h0m0 4h0m-5 1h0m-10 0h0m-1-1h0m-3 0h0m0 1h0m-3 2h0m1-1h0m3 0h0m1 1h0m1 0h0m0-1h0m2 1h0m1 0h0m2-1h0m2 1h0m1 1h0m0-2h0m4 1h0m1-1h0m6 4h0m-3 0h0m-1 1h0m-2 0h0m-4-2h0m-1 2h0m-6-2h0m0 0h0m-3 2h0m0 0h0m-1-2h0m0 0h0m0 2h0m-3 0h0m-3-1h0m-9 0h0m-2-1h0m-2 2h0m-3 2h0m1 1h0m7-2h0m1 2h0m2-2h0m8 0h0m1 1h0m0-1h0m0 2h0m1 0h0m1-1h0m1 0h0m1-1h0m0 1h0m0 0h0m1-1h0m0 2h0m2-2h0m0 2h0m0-2h0m0 0h0m1 1h0m0 1h0m4 0h0m2-1h0m1 1h0m2-2h0m1 0h0m0 1h0m9 4h0m-8-1h0m-1-1h0m-1 2h0m-4 0h0m-2-2h0m-2 0h0m-1 0h0m-2 0h0m0 1h0m0 0h0m0 0h0m0-1h0m-1 1h0m-1-1h0m0 1h0m0 1h0m0-1h0m-1 0h0m0 1h0m0-1h0m-1 0h0m0-1h0m-1 2h0m0-2h0m-1 1h0m0 1h0m0-2h0m0 2h0m-1-1h0m-1 0h0m0-1h0m0 0h0m-1 0h0m0 0h0m0 0h0m0 0h0m-2 1h0m-1 1h0m0-2h0m-1 0h0m0 1h0m-1 0h0m-4-1h0m0 1h0m-1 1h0m-1-1h0m0-1h0m-13 0h0m2 5h0m0-2h0m7 1h0m0 1h0m3-1h0m1 1h0m1-1h0m2 1h0m1-1h0m1 1h0m0-2h0m0 2h0m1-2h0m0 2h0m0-2h0m0 1h0m1-1h0m0 2h0m1-1h0m0-1h0m1 1h0m1 1h0m0-1h0m1 1h0m0 0h0m1-2h0m0 2h0m1 0h0m1-1h0m0 1h0m0-1h0m2 1h0m0-2h0m2 0h0m1 2h0m0 0h0m0 0h0m1-1h0m0-1h0m1 1h0m0-1h0m2 2h0m0-2h0m0 1h0m0-1h0m1 2h0m1-2h0m1 0h0m1 0h0m4 1h0m1 0h0m1-1h0m1 0h0m17 1h0m-15 2h0m-2 0h0m-4 0h0m-2 1h0m-1-1h0m-1 2h0m0-1h0m-1 0h0m-1 0h0m-1 0h0m-1 1h0m-1-1h0m-1 1h0m0-2h0m0 1h0m-1-1h0m0 0h0m-2 0h0m0 0h0m0 1h0m-1 0h0m-2 1h0m-1-2h0m0 0h0m0 1h0m0 0h0m-1 0h0m0 1h0m0-1h0m0-1h0m-1 2h0m0-1h0m0 1h0m-1-1h0m-1-1h0m0 0h0m0 0h0m0 0h0m-1 2h0m0-1h0m0 1h0m0-1h0m0 1h0m0 0h0m0-1h0m0 1h0m0 0h0m-1-1h0m0 1h0m-1-2h0m-1 2h0m-3-2h0m0 0h0m-1 1h0m0 1h0m-1 0h0m0-1h0m-1 0h0m-1 1h0m0-1h0m-2 1h0m-1-2h0m0 1h0m0 1h0m-3-2h0m-11 5h0m4-1h0m10 1h0m3 0h0m0-2h0m1 1h0m0 1h0m1 0h0m0-2h0m0 2h0m1 0h0m1-2h0m0 1h0m0-1h0m0 0h0m1 1h0m0 0h0m0 0h0m0-1h0m0 2h0m1 0h0m0-2h0m0 2h0m2-1h0m0 0h0m0-1h0m0 1h0m1 1h0m0 0h0m0-2h0m1 0h0m0 2h0m0 0h0m0-1h0m1 1h0m1-1h0m0 1h0m0 0h0m0-1h0m0-1h0m0 1h0m1 0h0m0-1h0m0 1h0m1 1h0m1-1h0m0 1h0m0-1h0m0 0h0m1 0h0m0 1h0m0 0h0m0-1h0m0 1h0m1 0h0m0-1h0m0 0h0m0 0h0m0 1h0m1-1h0m1 1h0m0-2h0m1 2h0m1-2h0m0 0h0m1 1h0m1-1h0m1 1h0m1 1h0m3-1h0m2 1h0m2-2h0m3 1h0m2 4h0m-2-2h0m-2 0h0m-2 1h0m-4 1h0m-1-1h0m-2-1h0m-1 1h0m0 0h0m0 0h0m0 1h0m-1-1h0m-1 1h0m0 0h0m0 0h0m0-1h0m-1 0h0m0 0h0m0 1h0m-1 0h0m0-2h0m-2 1h0m0 0h0m0 0h0m0 1h0m0 0h0m0 0h0m0 0h0m0 0h0m-1-1h0m-1 1h0m0-2h0m-1 1h0m-1 0h0m0 1h0m-1-2h0m0 1h0m0 0h0m0-1h0m0 0h0m-1 0h0m0 1h0m0-1h0m-1 1h0m0 1h0m0-2h0m-1 1h0m0 1h0m0 0h0m0 0h0m-1-1h0m0 1h0m0 0h0m-1-1h0m0 0h0m0 1h0m-1 0h0m0-1h0m0-1h0m-1 2h0m0-1h0m0 1h0m-1-1h0m-1 0h0m0 1h0m0-2h0m-1 1h0m0 1h0m-1-2h0m0 2h0m0 0h0m-1-1h0m0-1h0m-1 1h0m0 0h0m0 1h0m-3-2h0m-1 0h0m-6 1h0m-1-1h0m-1 2h0m-4-1h0m2 3h0m9 1h0m1-1h0m0 1h0m2-1h0m0-1h0m3 0h0m0 2h0m0-2h0m1 1h0m0 1h0m0-2h0m1 1h0m0 1h0m0-2h0m0 1h0m1-1h0m1 1h0m0 1h0m2-2h0m0 0h0m0 2h0m1-1h0m0 0h0m0-1h0m1 1h0m1 0h0m0-1h0m1 0h0m1 2h0m0-2h0m0 2h0m0-2h0m0 0h0m0 0h0m1 2h0m0-1h0m0-1h0m0 1h0m0-1h0m1 1h0m0 0h0m0-1h0m1 0h0m0 2h0m1-2h0m0 0h0m1 1h0m0 0h0m1-1h0m0 0h0m0 1h0m0-1h0m1 0h0m0 0h0m2 0h0m1 2h0m0-1h0m0-1h0m1 2h0m0-1h0m1-1h0m1 1h0m4 0h0m-6 2h0m-1 2h0m-1-1h0m-3-1h0m-2 1h0m-1 0h0m0-1h0m-1 0h0m-2 1h0m-1 0h0m-1 1h0m-1-2h0m0 1h0m0 1h0m0-1h0m0-1h0m-1 0h0m-1 1h0m0 1h0m0 0h0m0-2h0m-2 2h0m-1 0h0m0-2h0m-1 1h0m0 0h0m-1-1h0m-1 2h0m0-1h0m0 1h0m0-1h0m-1 0h0m-3 0h0m0 0h0m-2-1h0m-2 1h0m0 0h0m-5-1h0m3 3h0m2 2h0m4 0h0m2-2h0m0 0h0m3 1h0m1-1h0m1 1h0m1-1h0m0 0h0m1 2h0m0-1h0m2-1h0m1 1h0m0 0h0m0 1h0m1 0h0m1-2h0m0 0h0m1 2h0m0 0h0m0-2h0m1 1h0m1 1h0m0-2h0m1 1h0m0-1h0m5 2h0m0-1h0m1 1h0m4 0h0m2-1h0m3 3h0m-10-1h0m-9 2h0m-1 0h0m-3 0h0m-6 0h0m0 0h0m-3-1h0m-2 1h0m-1 0h0m-1-2h0m-2 0h0m-1 0h0m0 1h0m4 2h0m2 0h0m3 0h0m2 2h0m1 0h0m0-1h0m2 0h0m3-1h0m2 1h0m8 0h0m-8 2h0m-4 0h0m-13 1h0m-4-1h0m18 3h0" stroke="#8a5ec8" stroke-width="1.8" stroke-linecap="round" stroke-opacity="0.6" transform="scale(0.5)"/>
<path d="M963 369h0m-5 4h0m3-1h0m1 2h0m2-1h0m0 1h0m0-2h0m0 1h0m1-1h0m8 0h0m-1 3h0m-3 1h0m-6 1h0m-5-2h0m-9 0h0m-1 0h0m-3 2h0m8 1h0m1 2h0m0-2h0m1 1h0m1 0h0m2-1h0m1 2h0m7-2h0m1 1h0m7 0h0m-6 2h0m-1 0h0m0 0h0m-2 0h0m-1 2h0m-4-1h0m-1 1h0m0-1h0m-1 1h0m0 0h0m-3-2h0m-3 1h0m0 0h0m-2-1h0m-1 1h0m-1-1h0m-2 0h0m-3 0h0m-8 4h0m19 1h0m1 0h0m3 0h0m1-2h0m0 0h0m1 0h0m11 1h0m1 2h0m-12 0h0m-2 0h0m-2 0h0m0 0h0m0 1h0m-2-1h0m-2 2h0m-7-2h0m-3 2h0m-2-2h0m-1 0h0m-5 3h0m3 1h0m7 0h0m1-1h0m3 0h0m1 1h0m5 1h0m1-2h0m2 2h0m2-2h0m0 1h0m3-1h0m1 1h0m2 0h0m0-1h0m1 2h0m-2 2h0m0 0h0m-6 1h0m-8-2h0m-3 1h0m0 1h0m-3-2h0m-1 1h0m0-1h0m-2 1h0m-1 1h0m0 0h0m-1-1h0m-3 1h0m3 2h0m9 0h0m0 1h0m12 3h0m-5-1h0m-6 0h0m-10 1h0m5 3h0m-4 1h0m5 6h0" stroke="#ffffff" stroke-width="1.6" stroke-linecap="round" stroke-opacity="0.5" transform="scale(0.5)"/>
<polygon points="72.5,344.0 78.0,341.0 86.0,341.5 91.5,345.0 93.0,367.7 72.5,367.7" fill="#cacaca" opacity="0.7" filter="url(#b1)"/>
<polygon points="72.5,352.0 88.0,350.0 90.0,367.7 72.5,367.7" fill="#b4b4b4" opacity="0.6" filter="url(#b1)"/>
<path d="M159 683h0m-7 3h0m1-1h0m2 1h0m3-2h0m3 1h0m4 1h0m3-1h0m2 0h0m4-1h0m3 2h0m2 2h0m-2-1h0m-3 0h0m-1 1h0m-4 0h0m-2-1h0m-7 2h0m-1-2h0m-4 1h0m-1 0h0m0-1h0m-1 0h0m-1 2h0m-1-2h0m-3 2h0m-1-1h0m0-1h0m-1 2h0m0 1h0m3 2h0m3-2h0m1 1h0m1-1h0m5 1h0m0 0h0m2-1h0m0 0h0m1 0h0m1 2h0m1-1h0m2 1h0m2 0h0m0-1h0m0 0h0m1 0h0m2 1h0m0 0h0m1 0h0m0-1h0m0-1h0m3 2h0m1-2h0m1 2h0m5 1h0m-2 2h0m-2-2h0m0 0h0m-2 0h0m0 0h0m-2 1h0m-1 1h0m-3-2h0m0 2h0m-3-2h0m-1 0h0m-1 2h0m0-2h0m0 1h0m0-1h0m-2 0h0m-2 2h0m0-1h0m-1 0h0m-6 1h0m-1-2h0m-1 2h0m0-1h0m0-1h0m-1 0h0m-1 2h0m0-2h0m0 1h0m-1 0h0m-2 2h0m1 0h0m0 2h0m1-1h0m0-1h0m1 2h0m2-1h0m3 0h0m1 1h0m0-1h0m4-1h0m1 2h0m1-1h0m2 1h0m0-2h0m4 2h0m3-2h0m0 1h0m2-1h0m4 2h0m0-1h0m1 1h0m4-2h0m1 0h0m0 0h0m0 5h0m0-2h0m-1 1h0m-5-1h0m0 2h0m-1-2h0m-3 1h0m-1 0h0m-1-1h0m-2 1h0m-4 0h0m-1 0h0m0 1h0m0-1h0m-3-1h0m-1 1h0m-1-1h0m-1 2h0m-1-2h0m-1 0h0m-2 0h0m0 2h0m-3-1h0m-1 0h0m-1 1h0m-2-1h0m0 0h0m-1 3h0m2 0h0m1 0h0m2-1h0m0 2h0m4 0h0m3-2h0m0 0h0m6 1h0m0 0h0m0 1h0m1 0h0m2-1h0m0-1h0m3 2h0m3-1h0m3 1h0m1-1h0m0 1h0m2-2h0m1 1h0m0 0h0m0 1h0m4 3h0m-3-2h0m-2 1h0m-4-1h0m-2 1h0m-1 1h0m-2-1h0m-1 0h0m-1-1h0m-1 2h0m-4-1h0m-1 0h0m0 0h0m-1 1h0m-1-2h0m0 2h0m-1-1h0m-3-1h0m-2 1h0m-4-1h0m-1 1h0m0 0h0m0 1h0m-2-2h0m-1 0h0m-1 5h0m2 0h0m1-2h0m1 2h0m6 0h0m0-1h0m0 0h0m1 0h0m0 0h0m1 1h0m1-2h0m1 1h0m2 1h0m0-2h0m1 2h0m3-2h0m1 1h0m2-1h0m1 1h0m3 1h0m1-2h0m1 1h0m1 1h0m0 0h0m1-2h0m1 1h0m1 0h0m0 0h0m1 1h0m0 0h0m1-2h0m1 2h0m2 0h0m0 0h0m0 0h0m-1 2h0m0-1h0m-2 0h0m-1 0h0m0 0h0m-1 2h0m-2-1h0m-2 0h0m-2-1h0m0 2h0m-1 0h0m-4-2h0m0 0h0m-3 2h0m-1 0h0m-1 0h0m-1 0h0m0-1h0m-2 0h0m-1-1h0m-1 0h0m-3 2h0m-4-1h0m-2-1h0m0 1h0m0 1h0m-3 2h0m1 0h0m2-1h0m1 2h0m0 0h0m1-1h0m1 1h0m1-1h0m1 1h0m1 0h0m1-2h0m1 0h0m1 0h0m0 1h0m0 1h0m2-1h0m1-1h0m1 0h0m1 2h0m2-2h0m1 1h0m2 1h0m2-1h0m4-1h0m0 2h0m1-1h0m4 0h0m0 1h0m2 0h0m0-1h0m0 1h0m0-2h0m0 0h0m1 2h0m1 0h0m3 1h0m-1 0h0m-3 1h0m0-1h0m-1 0h0m0 2h0m-2-1h0m-8-1h0m-1 1h0m0 1h0m-2 0h0m-3-2h0m-2 2h0m-1-1h0m-2 1h0m-5-1h0m0 1h0m-1 0h0m-1-2h0m-1 0h0m-6 0h0m0 5h0m3-2h0m0 1h0m1 0h0m1 0h0m1 1h0m1-1h0m1-1h0m0 2h0m1-2h0m3 1h0m2 1h0m1-1h0m0-1h0m1 1h0m1 1h0m1-1h0m2 0h0m0 1h0m1-2h0m0 1h0m0 0h0m0 1h0m1-2h0m2 0h0m1 1h0m0 1h0m0-2h0m0 1h0m2 1h0m0 0h0m0-2h0m2 0h0m1 1h0m1 0h0m2 0h0m4-1h0m1 4h0m-1 0h0m-2-1h0m-6 0h0m0 0h0m-1 2h0m0-2h0m-4 0h0m0 2h0m-1 0h0m-1 0h0m-2-1h0m-2-1h0m-2 1h0m-1 1h0m0-1h0m-2-1h0m0 0h0m0 1h0m-1 0h0m0 1h0m0-1h0m-8-1h0m0 0h0m-3 1h0m0-1h0m3 4h0m1 0h0m1-1h0m2 0h0m1 0h0m1 1h0m2 0h0m1 0h0m2-1h0m1 0h0m0 2h0m0 0h0m3 0h0m1 0h0m1-2h0m1 2h0m1-1h0m2-1h0m0 0h0m5 0h0m1 2h0m1-2h0m1 1h0m4 1h0m2-1h0m0 0h0m1-1h0m-4 3h0m0 0h0m0 1h0m-1 1h0m-1-2h0m-1 1h0m0 0h0m-5 1h0m-4-2h0m0 1h0m-1 0h0m-4 0h0m-1 1h0m-1-2h0m-4 1h0m0-1h0m-4 2h0m0-2h0m-2 1h0m-1 0h0m0-1h0m-1 0h0m-3 0h0m-2 2h0m4 1h0m0 0h0m3 0h0m0 1h0m1 0h0m1 1h0m7-1h0m4-1h0m1 2h0m2-2h0m3 0h0m2 1h0m5-1h0m1 0h0m0 0h0m5 2h0m1-2h0" stroke="#a0a0a0" stroke-width="1.6" stroke-linecap="round" stroke-opacity="0.45" transform="scale(0.5)"/>
<polygon points="88.0,343.0 97.0,345.0 100.0,367.7 88.0,367.7" fill="#dedede" opacity="0.6" filter="url(#b2)"/>
<path d="M181 667h0m2 0h0m8-1h0m6 0h0m4 5h0m-5-1h0m-5-1h0m-1 0h0m-6 2h0m-23-2h0m-15 5h0m5 0h0m14-1h0m11 0h0m22-1h0m-3 4h0m-19 1h0m-6-1h0m-4 0h0m-4-1h0m-2 1h0m-1-1h0m-11 0h0m22 5h0m24-2h0m-1 4h0m-5-1h0m-2 2h0m-7-2h0m-4 1h0m-2 1h0m-1-2h0m-2 1h0m-5 0h0m-6-1h0m-4 1h0m-8 1h0m-1-2h0m-1 5h0m0 0h0m11-1h0m1-1h0m1 0h0m10 1h0m15-1h0m0 0h0m12 1h0m5 0h0m0 4h0m-2-2h0m-2 2h0m-1 0h0m-6 0h0m-45 3h0m21-1h0m9 0h0m5-1h0m9 2h0m3-2h0m-19 3h0m0 2h0m-7-2h0m-9 2h0m-7 0h0m-4 0h0m15 3h0m8 0h0m0-1h0m6 1h0m3-1h0m9-1h0m15 2h0m0 1h0m-19 2h0m-1-1h0m-8-1h0m-11 1h0m-3-1h0m-2 0h0m-2 1h0m-7 1h0m-1 2h0m3 0h0m1-1h0m15 0h0m9 2h0m6-2h0m12 1h0m9 3h0m-2 1h0m-6-1h0m-1-1h0m-9 2h0m-24-1h0m-3 0h0m0 1h0m-1-2h0m-9 1h0m-3 1h0m4 1h0m14 0h0m29 1h0m9-1h0m-3 5h0m-20-1h0m-6 1h0m-22 0h0m-1 0h0m-2-1h0m10 2h0m10 1h0m10-1h0m3 2h0m17 1h0m0 2h0m-5-1h0m-3 0h0m-14 1h0m-9-1h0m-9-1h0m-7 2h0m-1 1h0m8 1h0m9 1h0m14-1h0m16 0h0m2-1h0m4 5h0m-1-1h0m-31 0h0m-5 1h0m-5-1h0m-7 4h0m7-1h0m2 1h0m19-2h0m2 2h0m4-1h0m13-1h0m0 3h0m-4 1h0m-6-1h0m-2 0h0m-2 0h0m-1 1h0m-6 1h0m-1-1h0m-2-1h0m-3 0h0m-8 0h0m-6 0h0m-8 2h0m-3-1h0m7 2h0m33 0h0" stroke="#c8c8c8" stroke-width="1.6" stroke-linecap="round" stroke-opacity="0.6" transform="scale(0.5)"/>
<path d="M153 615h0m24 4h0m46-1h0m-40 8h0m26 0h0m1 0h0m1-2h0m12 5h0m-33 0h0m-20-1h0m-11 1h0m-30 3h0m33 0h0m11-1h0m4 0h0m5-1h0m4 0h0m17 0h0m6 1h0m-3 3h0m-1 0h0m-7 1h0m-2 0h0m-23 0h0m0-2h0m-9 2h0m-3 3h0m3-1h0m1-1h0m9 1h0m1 1h0m0 0h0m4-2h0m3 0h0m1 2h0m0-1h0m1-1h0m4 2h0m1-2h0m4 0h0m1 1h0m1 1h0m1-2h0m3 1h0m2 1h0m5-1h0m9-1h0m2 1h0m12-1h0m-11 3h0m-7 1h0m-5-1h0m-4 2h0m-7-2h0m-2 2h0m-2-1h0m-2 1h0m-3-2h0m-15 0h0m-2 0h0m-5 1h0m-3-1h0m-13 1h0m6 2h0m9 2h0m2 0h0m3-2h0m0 2h0m1-1h0m10 1h0m6-1h0m3 1h0m2 0h0m4-1h0m2-1h0m33 3h0m-19 2h0m-12 0h0m-8-2h0m-3 2h0m-3 0h0m-1 0h0m-1-2h0m-2 0h0m-2 2h0m-7-1h0m-1 1h0m-5 0h0m-18 2h0m3 1h0m2-2h0m13 0h0m1 1h0m2 1h0m6-1h0m1-1h0m12 0h0m1 0h0m4 1h0m3 1h0m3 0h0m0 0h0m1 0h0m1-1h0m2 1h0m3-1h0m17-1h0m-2 4h0m-11 1h0m-1 0h0m-7-2h0m-4 0h0m-4 0h0m-5 2h0m-2-2h0m-5 1h0m0 1h0m-1-1h0m-2 1h0m-4-1h0m-33 3h0m12 0h0m23-1h0m1 2h0m9-1h0m2-1h0m13 3h0m0 2h0m-3-2h0m-4 2h0m-4-1h0m-1-1h0m-12 0h0m-2 2h0m-4-1h0m0-1h0m-3 1h0m-14 1h0m-6 3h0m21-1h0m15 0h0m14 0h0m0 0h0m5 1h0m1-2h0m1 0h0m8 0h0m5 3h0m-19 1h0m-2 0h0m-2-1h0m-6 0h0m-27 2h0m-6-2h0m-4 2h0m23 1h0m25 0h0m-18 3h0m2 3h0m21 1h0" stroke="#f8cc98" stroke-width="1.6" stroke-linecap="round" stroke-opacity="0.6" transform="scale(0.5)"/>
<ellipse cx="97.0" cy="321.5" rx="9.0" ry="5.5" transform="rotate(5 97.0 321.5)" fill="#f6a24c" opacity="0.9" filter="url(#b1)"/>
<ellipse cx="109.0" cy="323.5" rx="7.5" ry="7.5" transform="rotate(0 109.0 323.5)" fill="#f59a40" opacity="0.9" filter="url(#b1)"/>
<ellipse cx="108.0" cy="331.0" rx="3.0" ry="4.0" transform="rotate(0 108.0 331.0)" fill="#f59a40" opacity="0.81" filter="url(#b1)"/>
<path d="M200 620h0m17 1h0m-19 1h0m-12 4h0m21-1h0m2 0h0m0-1h0m12 1h0m4 0h0m11 3h0m-5 0h0m-5 1h0m0-2h0m-9 2h0m-5 0h0m-1-1h0m-5 0h0m-3 1h0m-1-1h0m-2-1h0m0 1h0m-5-1h0m-23 4h0m12 0h0m0 0h0m10 1h0m0-1h0m1 0h0m2 1h0m2 0h0m3-2h0m3 1h0m0-1h0m2 1h0m0-1h0m1 1h0m3 0h0m9 0h0m3-1h0m4 0h0m0 5h0m-2-2h0m-1 0h0m-1 1h0m-3 1h0m-1-2h0m0 2h0m-1-2h0m-2 2h0m-3-1h0m-1 0h0m-1-1h0m0 0h0m-2 2h0m-2 0h0m-3-2h0m-1 1h0m-1 1h0m-1 0h0m-3-1h0m0 1h0m0 0h0m0-2h0m-1 0h0m-1 1h0m-3-1h0m0 2h0m-1-1h0m-1 1h0m-5-1h0m-14 4h0m6-2h0m2 1h0m2 0h0m7 1h0m3-2h0m0 2h0m2 0h0m1-1h0m1 0h0m0 0h0m2 1h0m0-1h0m1 1h0m0-2h0m0 2h0m1-2h0m2 2h0m1-1h0m0 0h0m1 0h0m1-1h0m1 0h0m0 1h0m1 0h0m3 0h0m2 0h0m1-1h0m0 0h0m1 0h0m0 0h0m1 0h0m1 2h0m0 0h0m1 0h0m1-1h0m1-1h0m2 2h0m1-2h0m4 2h0m7 0h0m2 3h0m-7-2h0m0 0h0m-5 0h0m0 0h0m-1 1h0m-3-1h0m0 2h0m-3 0h0m0-1h0m0 0h0m-1 0h0m-1 1h0m-1-2h0m0 2h0m-2 0h0m0 0h0m0-2h0m-1 0h0m0 0h0m-1 1h0m0 0h0m0 0h0m-1 0h0m0-1h0m0 0h0m0 2h0m-2-2h0m-1 2h0m-1-2h0m-1 1h0m0 1h0m-1-1h0m0-1h0m-1 2h0m0-1h0m0 1h0m0 0h0m0-1h0m-2 0h0m0-1h0m0 1h0m-1 1h0m0-1h0m0-1h0m-1 0h0m0 0h0m-1 1h0m0-1h0m-1 2h0m-1-2h0m0 0h0m0 1h0m-1 0h0m0 1h0m-1-1h0m0 1h0m-2-1h0m-2 1h0m-1-2h0m0 2h0m0-1h0m-1 1h0m0 0h0m-1 0h0m-2-2h0m-1 1h0m-4 1h0m-11 0h0m8 1h0m2 2h0m0-2h0m1 1h0m1 1h0m3-1h0m2 1h0m1-2h0m0 0h0m0 2h0m1 0h0m0 0h0m3-1h0m1-1h0m1 0h0m0 1h0m0 0h0m0 0h0m1-1h0m0 1h0m3 1h0m0 0h0m0-2h0m0 2h0m1-2h0m0 1h0m0-1h0m1 0h0m1 1h0m0-1h0m0 0h0m0 2h0m0-1h0m1 0h0m0-1h0m0 0h0m1 2h0m0-2h0m0 0h0m2 0h0m0 1h0m0 1h0m1-1h0m0 0h0m0 1h0m1-1h0m0 0h0m0 0h0m0-1h0m1 0h0m0 2h0m1-2h0m0 1h0m1 0h0m1 0h0m0 1h0m1-1h0m1 1h0m1 0h0m2-1h0m0 0h0m0 0h0m1 0h0m0-1h0m1 2h0m1-2h0m1 1h0m0 1h0m0-2h0m1 0h0m2 0h0m1 2h0m1-2h0m1 2h0m1-1h0m11 3h0m-3 0h0m-1-1h0m-5 2h0m-6 0h0m-1-2h0m-1 2h0m-1-1h0m0 0h0m0 1h0m0 0h0m-1-1h0m-1 1h0m0-1h0m-1 0h0m0-1h0m-1 1h0m-1-1h0m-1 2h0m0-2h0m-1 2h0m-1 0h0m0 0h0m-1 0h0m-1-2h0m0 1h0m0 0h0m-1 0h0m0 0h0m-1-1h0m0 1h0m-1-1h0m0 2h0m0 0h0m-1 0h0m0-1h0m0 1h0m-1 0h0m0 0h0m0-1h0m0 1h0m-1 0h0m0-1h0m-1 1h0m0 0h0m-1 0h0m0-2h0m-1 0h0m-1 1h0m0-1h0m-1 1h0m0 0h0m0-1h0m-1 1h0m0 1h0m-1-1h0m0-1h0m0 1h0m-6 1h0m0-1h0m-1 0h0m-1 0h0m0 1h0m0 0h0m-1-1h0m0 0h0m0 0h0m-1-1h0m-1 1h0m-2 0h0m-1-1h0m-3 2h0m0-1h0m-1-1h0m-7 1h0m-2 2h0m4 2h0m6-1h0m8 1h0m0-1h0m1 1h0m0-2h0m2 1h0m1 0h0m2 0h0m2 1h0m1 0h0m0-1h0m1 1h0m0-1h0m0 0h0m1 1h0m1-2h0m1 2h0m0-1h0m0 0h0m0 0h0m0-1h0m0 0h0m0 1h0m2 1h0m2-1h0m0-1h0m0 0h0m1 0h0m0 1h0m1 1h0m1-2h0m1 2h0m1-1h0m1-1h0m0 1h0m1 0h0m0 0h0m1-1h0m1 0h0m0 0h0m1 0h0m0 0h0m0 2h0m1-1h0m1-1h0m0 1h0m0-1h0m2 1h0m1 0h0m1 0h0m1-1h0m4 2h0m4-2h0m10 1h0m-4 4h0m-6-1h0m-4-1h0m-2 0h0m0 0h0m-2 0h0m0 1h0m-4 1h0m-1-2h0m-2 2h0m-1-2h0m0 0h0m-1 0h0m0 0h0m-2 2h0m-1-2h0m-1 1h0m-1 1h0m-1-2h0m0 2h0m0 0h0m0-2h0m-2 1h0m-1 1h0m-3 0h0m-1-1h0m0-1h0m-1 0h0m0 2h0m0-1h0m-2-1h0m-1 1h0m-1-1h0m-1 1h0m-3-1h0m-4 2h0m-1-2h0m-4 1h0m-3 0h0m-3 4h0m3-2h0m7 1h0m2-1h0m1 2h0m1-2h0m2 2h0m0-1h0m2-1h0m3 0h0m0 0h0m0 0h0m2 1h0m1 0h0m1 0h0m2-1h0m1 1h0m0 0h0m1-1h0m0 1h0m0-1h0m1 0h0m1 1h0m0-1h0m1 2h0m0-1h0m2-1h0m4 1h0m1-1h0m3 0h0m1 2h0m0 0h0m1-2h0m2 1h0m0 1h0m3 0h0m1 0h0m1 0h0m3-1h0m15 2h0m-7 1h0m0 0h0m-1 1h0m-9-2h0m-9 0h0m-2 0h0m-1 2h0m0 0h0m-1-1h0m-1 0h0m-2-1h0m-1 1h0m-2 0h0m-3 1h0m-3-1h0m-2-1h0m0 1h0m-2 0h0m-1 0h0m-3-1h0m-10 3h0m18 1h0m13-1h0m13 2h0m-8 3h0m-2-2h0m-2 1h0m-3-1h0m-2 1h0m-12 0h0m-4 0h0m7 3h0m8-1h0m3 6h0" stroke="#f39030" stroke-width="1.8" stroke-linecap="round" stroke-opacity="0.5" transform="scale(0.5)"/>
<path d="M214 662h0m1 0h0m0 0h0m1-1h0m2 4h0m-2 0h0m-1 0h0m0 0h0m-1 0h0m0 0h0m-3 1h0m1 1h0m1-1h0m0 1h0m2 0h0m0-1h0m1 1h0m1 1h0m0-2h0m1 3h0m-2 1h0m0-1h0m-1 0h0m0 0h0m-1 0h0m0 0h0m0 0h0m0 1h0m-1 1h0m0 0h0m-1 2h0m0 1h0m1-2h0m0 2h0m0-1h0m0 1h0m1-1h0m0-1h0m0 0h0m1 2h0m2-2h0m-1 5h0m0-2h0m-1 0h0m0 1h0m-1 1h0m-1-2h0m-1 0h0m0 1h0m0 3h0m1 0h0m2 0h0m1-1h0m1 1h0m-1 2h0m0 1h0m0 0h0m-1 0h0m-3 4h0m2-1h0m0 0h0m1-1h0m0 1h0m1 2h0m-1 2h0m-1-1h0m0 1h0m0-2h0m-1 2h0m-1-2h0m0 4h0m1 0h0m1 1h0m0-1h0m1-1h0m2 2h0m0-2h0m1 5h0m-1-1h0m-1 0h0m0 0h0m-1 0h0m-1-1h0m0 2h0m-1-2h0m0 0h0m-1 2h0m2 3h0m0 0h0m1 0h0m0-2h0m1 4h0m0 0h0m0-1h0m-2 2h0m0-2h0m-1 0h0m0 1h0m0 0h0m-1 0h0m1 2h0m1 0h0m1 1h0m0 0h0m0 0h0m1 0h0m1-1h0m1 5h0m-2 0h0m0-1h0m0 0h0m-1-1h0m-1 2h0m0 0h0m0-1h0m-1-1h0m0 1h0m0 0h0m-1-1h0m-1 4h0m3 0h0m0-1h0m1 1h0m0 1h0m0-2h0m1 0h0m1 0h0m-1 3h0m-1 2h0m-1 0h0m0-2h0m-1 4h0m1 0h0m0 0h0m1 0h0m0-1h0m1 0h0m1 0h0m0 4h0m0 0h0m-1-1h0m0 1h0m-1 0h0m-1 0h0m0 1h0m0-1h0m0 1h0m-1-2h0m-2 5h0m1 0h0m0 0h0m1-2h0m1 2h0m1-1h0m0-1h0m1 0h0m-1 3h0m0 1h0m-2-1h0m0 1h0" stroke="#f0a050" stroke-width="1.6" stroke-linecap="round" stroke-opacity="0.6" transform="scale(0.5)"/>
<polygon points="338.3,344.0 343.8,341.0 351.8,341.5 357.3,345.0 358.8,367.7 338.3,367.7" fill="#cacaca" opacity="0.7" filter="url(#b1)"/>
<polygon points="338.3,352.0 353.8,350.0 355.8,367.7 338.3,367.7" fill="#b4b4b4" opacity="0.6" filter="url(#b1)"/>
<path d="M701 683h0m-2 0h0m-11 0h0m-1 0h0m-7 3h0m4 0h0m1-2h0m4 2h0m3 0h0m1-1h0m0 0h0m4 1h0m3-2h0m0 2h0m2-1h0m3-1h0m0 2h0m3 0h0m3 3h0m0 0h0m-1 0h0m0-1h0m-1 1h0m0 0h0m-1-2h0m-2 0h0m0 2h0m-1-2h0m-3 0h0m-1 1h0m0-1h0m-1 0h0m0 2h0m-4 0h0m-4-1h0m0-1h0m-1 0h0m0 2h0m-1-2h0m-3 2h0m0-1h0m-1-1h0m0 2h0m-2-2h0m-2 0h0m-1 2h0m0-2h0m0 0h0m-1 2h0m-2-1h0m-1 2h0m0 0h0m1 0h0m9 0h0m1 1h0m0 0h0m3 1h0m4-2h0m3 2h0m1 0h0m1-2h0m0 0h0m4 0h0m5 0h0m3 2h0m1-1h0m1 0h0m-1 4h0m0-1h0m-4 0h0m-2 1h0m-2-2h0m-1 0h0m0 2h0m0-2h0m0 0h0m-1 1h0m0 1h0m0-1h0m-3 0h0m0 0h0m-1 1h0m0-2h0m0 1h0m-1 0h0m-2 0h0m-2 0h0m0-1h0m-2 2h0m-1 0h0m0 0h0m-1 0h0m-2-1h0m-3 1h0m-1-1h0m-2 1h0m-3-1h0m0 1h0m6 3h0m4 0h0m0-1h0m0-1h0m1 2h0m0-1h0m3 1h0m3 0h0m6 0h0m1-2h0m4 2h0m1-1h0m1 0h0m0 1h0m0 0h0m1-1h0m0-1h0m5 0h0m0 0h0m0 3h0m-1 2h0m-2 0h0m0-2h0m0 0h0m-2 2h0m-1-1h0m0 0h0m-1 1h0m-2-2h0m-1 0h0m0 1h0m-1 0h0m-1-1h0m-1 0h0m0 2h0m-1-1h0m-1 1h0m-2-2h0m0 2h0m-1-2h0m-1 0h0m-3 2h0m0-2h0m-1 1h0m0-1h0m0 1h0m-2 0h0m-1-1h0m-1 1h0m-3 0h0m0 0h0m-1-1h0m0 0h0m-1 2h0m-1 0h0m-2-2h0m-3 5h0m2 0h0m0-1h0m1 0h0m1 1h0m1-2h0m1 1h0m1 0h0m0-1h0m6 0h0m3 0h0m0 0h0m0 1h0m2 0h0m2 0h0m1 1h0m3 0h0m4 0h0m0-2h0m1 0h0m0 1h0m5 0h0m1 1h0m2-2h0m0 2h0m0-2h0m0 0h0m1 4h0m-1 0h0m-1 1h0m-2-1h0m-1 1h0m0 0h0m-3-2h0m-1 0h0m-1 0h0m-5 1h0m-3 1h0m-3-2h0m0 1h0m-1 1h0m-3 0h0m-2-2h0m-3 2h0m0 0h0m-3 0h0m0-1h0m-1-1h0m-3 0h0m-1 3h0m6 0h0m1 0h0m2 2h0m2 0h0m2-2h0m1 1h0m1 1h0m1-2h0m4 2h0m3-1h0m1 1h0m1 0h0m1-2h0m1 0h0m1 0h0m0 0h0m1 2h0m0 0h0m2 0h0m0-2h0m0 2h0m1 0h0m1-2h0m1 1h0m1 0h0m0 1h0m0-1h0m0 0h0m1 0h0m0 0h0m0-1h0m0 1h0m3 4h0m-2-1h0m-2 1h0m0 0h0m-1-1h0m-4 0h0m0 1h0m-6-2h0m-1 0h0m-2 0h0m-2 2h0m-1-2h0m0 2h0m0-2h0m0 1h0m-2-1h0m0 0h0m-1 0h0m0 1h0m-1-1h0m0 1h0m-1-1h0m-2 1h0m-1-1h0m-1 1h0m-1 0h0m0 0h0m-2-1h0m0 2h0m-3-1h0m0-1h0m-2 2h0m0-2h0m-1 5h0m1-1h0m1 0h0m3 1h0m2-2h0m1 2h0m1-2h0m5 1h0m0-1h0m2 2h0m2-1h0m2 0h0m0 0h0m2-1h0m1 0h0m7 0h0m1 1h0m4-1h0m2 0h0m2 0h0m-2 5h0m-1-1h0m-3 1h0m0-2h0m0 0h0m-1 1h0m-1 0h0m-3 0h0m0 1h0m-1-2h0m0 0h0m-4 1h0m-2 0h0m0-1h0m-2 1h0m-1 1h0m0 0h0m-1-1h0m-2 1h0m-4-2h0m-1 0h0m-2 2h0m-1 0h0m-3-1h0m-2 0h0m-1 4h0m0-2h0m3 0h0m2 2h0m1-2h0m0 1h0m4-1h0m3 0h0m1 1h0m0 1h0m0-1h0m2 1h0m1 0h0m4-2h0m1 1h0m0-1h0m0 2h0m1 0h0m1 0h0m3 0h0m0-1h0m0-1h0m0 2h0m1-2h0m0 1h0m2 1h0m1 0h0m0-1h0m4 1h0m0-1h0m1-1h0m1 1h0m0 3h0m-4 0h0m-1 0h0m-3 1h0m0 0h0m-1 0h0m0-2h0m-1 1h0m0 1h0m0-2h0m-1 0h0m-2 2h0m-1-2h0m0 2h0m-3-1h0m-2 1h0m-1 0h0m-4 0h0m0-1h0m-1 1h0m-2-1h0m0-1h0m-5 0h0m-3 1h0m-3-1h0m0 0h0m0 5h0m0-1h0m1 1h0m7-2h0m0 0h0m1 2h0m0-1h0m3 0h0m1-1h0m2 0h0m1 2h0m0 0h0m1-2h0m2 1h0m1 0h0m3-1h0m1 0h0m4 2h0m2-2h0m2 1h0m5 0h0m3 2h0m-3 1h0m0 0h0m0 0h0m-1 1h0m-2-2h0m0 1h0m-3 1h0m-3-1h0m0-1h0m-1 0h0m-5 0h0m0 2h0m-1-1h0m-1 0h0m-6-1h0m-2 2h0m-4-1h0m0-1h0m-3 0h0m0 0h0m-1 0h0m-2 0h0m0 1h0m0-1h0m-1 2h0m0-1h0m0-1h0m0 4h0m2-1h0m0 0h0m1 0h0m5 2h0m0-1h0m4 0h0m8 0h0m1 0h0m1 1h0m3-1h0m1 1h0m0-1h0m2-1h0m4 2h0m2-1h0m0 0h0m4 0h0" stroke="#a0a0a0" stroke-width="1.6" stroke-linecap="round" stroke-opacity="0.45" transform="scale(0.5)"/>
<polygon points="353.8,343.0 362.8,345.0 365.8,367.7 353.8,367.7" fill="#dedede" opacity="0.6" filter="url(#b2)"/>
<path d="M732 664h0m-31 4h0m3 0h0m12 0h0m13 2h0m-3-1h0m-10 1h0m-17-1h0m-18 1h0m-5 1h0m2 3h0m4-2h0m7 2h0m0-1h0m11-1h0m9 1h0m0 0h0m4-1h0m0 1h0m10 1h0m8 0h0m-12 3h0m-2-1h0m-8 1h0m-10 0h0m-6-2h0m-6 1h0m0 0h0m-11 1h0m10 1h0m4 1h0m12-1h0m5 2h0m3-2h0m9 2h0m10 0h0m-6 1h0m-9 1h0m-2 1h0m-8 0h0m-3-2h0m-8 1h0m0-1h0m-17 2h0m5 1h0m26 1h0m5-1h0m2 2h0m6 0h0m10-2h0m-16 4h0m-2 1h0m-2 0h0m-4-1h0m-1 0h0m-6 1h0m0-1h0m-14 2h0m15 2h0m9-2h0m17 1h0m6 0h0m-2 2h0m-11 2h0m0-1h0m-4 0h0m-1 1h0m-20 0h0m-11 0h0m0 0h0m12 2h0m4 1h0m19 0h0m8-1h0m6 2h0m-7 0h0m-16 1h0m-5-1h0m-10 2h0m-8 2h0m3 1h0m13 0h0m2-2h0m4 2h0m1 0h0m8 0h0m6 0h0m8-2h0m1 5h0m-13-1h0m-4-1h0m-8 2h0m-3-1h0m-15 1h0m-2 0h0m-6-2h0m-1 4h0m22 0h0m3-1h0m1 2h0m4-2h0m13 1h0m9 1h0m-4 3h0m-10 0h0m-9 0h0m-14 0h0m-2-1h0m-5-1h0m-10 3h0m17 1h0m1 0h0m8 0h0m0 0h0m15 0h0m12 0h0m-20 4h0m-2-1h0m-7 0h0m-7 0h0m-6 1h0m-1-1h0m-8 1h0m-1-2h0m0 4h0m14-1h0m5 0h0m3 1h0m18 1h0m5-1h0m-1 3h0m-13 0h0m-14 1h0m-2 0h0m-2 0h0m-8 1h0m4 2h0m4 0h0m27 3h0m0-2h0m-10 2h0m-5-1h0m-10 1h0m-1 0h0m-1-1h0m-10 1h0m-3-2h0m-3 5h0m0 0h0m20-1h0m5-1h0m2 1h0m1-1h0m5 0h0m4 1h0m3-1h0m1 0h0m15 1h0m1 0h0" stroke="#c8c8c8" stroke-width="1.6" stroke-linecap="round" stroke-opacity="0.6" transform="scale(0.5)"/>
<path d="M711 600h0m28 7h0m23 10h0m-57 0h0m12 2h0m6 0h0m-14 7h0m23 2h0m-6 1h0m-7-1h0m-5-1h0m-15 1h0m8 3h0m0 1h0m1-1h0m4-1h0m21 5h0m-1 0h0m0-1h0m-1 0h0m-1 0h0m-1-1h0m-4 0h0m-2 0h0m-2 2h0m-3-2h0m-14 1h0m-8-1h0m-4 0h0m-1 1h0m-10-1h0m-2 4h0m17 1h0m4-2h0m2 0h0m0 0h0m5 2h0m3 0h0m0 0h0m3 0h0m3-2h0m7 2h0m1-2h0m27 0h0m2 3h0m-1 0h0m-18 1h0m-9 0h0m0 0h0m-1 1h0m-8-1h0m-1 1h0m-1-2h0m-26 2h0m-13 0h0m16 1h0m4 1h0m6 1h0m0 0h0m8-2h0m1 1h0m1 0h0m4 1h0m0 0h0m7-2h0m1 2h0m1-2h0m4 0h0m3 2h0m1-2h0m4 0h0m9 3h0m-3 0h0m-9 2h0m-1-1h0m0-1h0m-2 0h0m-14 2h0m-2 0h0m0 0h0m0 0h0m-17-1h0m-9 1h0m-15 2h0m5-1h0m15 0h0m2 0h0m8 1h0m1-1h0m0 0h0m8 2h0m10 0h0m0-2h0m1 1h0m1 1h0m1-2h0m3 0h0m9 2h0m0-2h0m2 2h0m7-1h0m10-1h0m-1 5h0m-1 0h0m-4 0h0m-3-2h0m-15 0h0m-3 1h0m-2-1h0m-2 1h0m0-1h0m0 1h0m-9-1h0m-2 2h0m-1-2h0m-3 1h0m-4 0h0m-3 1h0m-1 0h0m-9-1h0m-2 1h0m-5-1h0m9 4h0m0-1h0m9-1h0m9 0h0m1 0h0m1 2h0m4-1h0m4 1h0m2-1h0m0 1h0m4-2h0m3 2h0m4-1h0m11-1h0m-11 3h0m-6 1h0m-11-1h0m-6 0h0m-5 0h0m-1 0h0m-3 1h0m-5-1h0m-12 2h0m-3 2h0m19 1h0m4 0h0m6-1h0m44-1h0m-5 4h0m-29 0h0m-19 1h0m-8 2h0m29-1h0m7 0h0m3 2h0m8-2h0m-15 7h0" stroke="#f8cc98" stroke-width="1.6" stroke-linecap="round" stroke-opacity="0.6" transform="scale(0.5)"/>
<ellipse cx="362.8" cy="321.5" rx="9.0" ry="5.5" transform="rotate(5 362.8 321.5)" fill="#f6a24c" opacity="0.75" filter="url(#b1)"/>
<ellipse cx="374.8" cy="323.5" rx="7.5" ry="7.5" transform="rotate(0 374.8 323.5)" fill="#f59a40" opacity="0.75" filter="url(#b1)"/>
<ellipse cx="373.8" cy="331.0" rx="3.0" ry="4.0" transform="rotate(0 373.8 331.0)" fill="#f59a40" opacity="0.675" filter="url(#b1)"/>
<path d="M737 620h0m23 2h0m-8 1h0m-11-1h0m-10 3h0m12 0h0m21 4h0m-31-2h0m-2 1h0m-24 3h0m17 0h0m6 1h0m0-2h0m0 1h0m1-1h0m0 1h0m1 0h0m2 0h0m3-1h0m0 2h0m0-2h0m5 2h0m1-1h0m3 0h0m6 0h0m4 0h0m12 4h0m-9 0h0m0-1h0m-1-1h0m-1 1h0m-2 0h0m-3 0h0m-6-1h0m-3 2h0m0-1h0m-4 1h0m0 0h0m-1-1h0m-1 1h0m0 0h0m-2 0h0m-1 0h0m-1-1h0m-1-1h0m0 1h0m-2-1h0m-2 2h0m0-1h0m-1-1h0m-4 1h0m-1 1h0m-1-2h0m-4 1h0m-1 1h0m-7 3h0m1-1h0m4 1h0m0-1h0m4-1h0m1 0h0m1 2h0m1-2h0m0 1h0m3 0h0m0 0h0m2 0h0m3-1h0m1 2h0m0-1h0m2 1h0m0 0h0m1 0h0m0-1h0m1 1h0m1 0h0m3-1h0m1 1h0m0-1h0m1 0h0m2 0h0m0 0h0m0-1h0m1 1h0m3 1h0m1-2h0m0 2h0m1-1h0m0 1h0m3-1h0m0 1h0m3 0h0m5 0h0m0-2h0m2 0h0m4 2h0m-5 2h0m-2 1h0m-1 0h0m-3 0h0m-3 0h0m-2-1h0m0-1h0m0 2h0m0 0h0m-1-1h0m0-1h0m-3 1h0m-2-1h0m0 2h0m-2-2h0m0 2h0m-1-1h0m0 0h0m0 1h0m-1-2h0m0 0h0m-2 1h0m0 0h0m-1 1h0m-3-2h0m0 0h0m-2 2h0m0 0h0m-1-1h0m0-1h0m-1 0h0m-1 2h0m-1-2h0m-1 0h0m-2 2h0m-4-2h0m-2 2h0m0 0h0m0-1h0m-5-1h0m0 2h0m-16 1h0m4 2h0m12 0h0m3-2h0m4 2h0m1-1h0m5-1h0m0 2h0m2-1h0m0 0h0m2-1h0m0 0h0m1 1h0m2 0h0m1-1h0m1 2h0m1-2h0m0 2h0m0-1h0m1 0h0m1-1h0m1 1h0m1 1h0m1-1h0m1-1h0m1 0h0m1 2h0m1 0h0m1 0h0m0 0h0m0-2h0m4 0h0m1 1h0m0 1h0m0-2h0m3 0h0m5 1h0m1 1h0m0 0h0m5-1h0m4 0h0m10 4h0m-5-2h0m-16 0h0m-2 1h0m-2 1h0m0-1h0m0-1h0m-1 0h0m0 0h0m-3 0h0m-1 1h0m-1 0h0m-1-1h0m0 0h0m-2 2h0m0-1h0m-1-1h0m-1 2h0m0 0h0m-2-2h0m-1 0h0m0 0h0m0 2h0m-2-2h0m0 1h0m-2 0h0m0-1h0m0 1h0m0 1h0m-1-2h0m0 0h0m-1 0h0m0 0h0m-1 0h0m0 2h0m-2-1h0m-1 0h0m-1 1h0m0 0h0m-2-2h0m0 1h0m-1 0h0m0 0h0m-1 1h0m-1-1h0m-1 0h0m-1 1h0m-1-1h0m0 1h0m0 0h0m-1-1h0m-1 1h0m-3-2h0m-1 2h0m0-2h0m-2 2h0m-1-2h0m-4 2h0m0 0h0m-3-1h0m-7 4h0m9-1h0m1 0h0m1 1h0m3-1h0m7-1h0m0 0h0m1 2h0m1-1h0m0 0h0m1 0h0m0-1h0m2 0h0m0 1h0m1 0h0m1-1h0m0 2h0m0-1h0m1 0h0m1-1h0m2 2h0m2 0h0m2-2h0m1 2h0m1-1h0m0 1h0m0-1h0m1 0h0m0 1h0m0-2h0m1 1h0m0-1h0m0 0h0m0 2h0m1 0h0m0 0h0m1-1h0m0 1h0m1-2h0m0 1h0m0 1h0m0 0h0m2-1h0m0-1h0m1 2h0m1-1h0m4-1h0m0 0h0m1 1h0m1-1h0m0 0h0m1 0h0m2 2h0m1-2h0m0 1h0m1 0h0m8 2h0m-4 2h0m-2-1h0m0 1h0m-2-2h0m-2 0h0m-1 2h0m0-2h0m-1 2h0m-2-2h0m-3 0h0m-2 0h0m-2 0h0m-1 0h0m0 0h0m-1 2h0m-1-1h0m0 0h0m-2-1h0m-1 0h0m0 1h0m-1 1h0m-1 0h0m0 0h0m-3 0h0m-1-2h0m-2 1h0m-1 1h0m0-1h0m-1 1h0m-1-2h0m-1 1h0m-1 0h0m-3 0h0m-2 1h0m-1-1h0m-1 0h0m-2 0h0m-2-1h0m-1 1h0m-1 0h0m-8 3h0m9-1h0m3 2h0m8-2h0m1 1h0m4 0h0m1 0h0m1-1h0m0 1h0m1 1h0m4-2h0m3 0h0m1 2h0m0-2h0m4 0h0m2 1h0m1-1h0m3 2h0m1-2h0m1 1h0m0-1h0m0 2h0m6-2h0m-11 4h0m-1 0h0m-5-1h0m-4 0h0m-1 1h0m-2 0h0m-1 1h0m-4-2h0m-2 0h0m-21 4h0m20 1h0m2 0h0m2-1h0m4 0h0m1-1h0m1 2h0m10-1h0m19-1h0m-47 4h0m18 3h0m7 1h0m13 5h0" stroke="#f39030" stroke-width="1.8" stroke-linecap="round" stroke-opacity="0.5" transform="scale(0.5)"/>
<path d="M746 661h0m1 1h0m1 0h0m1 1h0m-1 0h0m0 0h0m-1 0h0m-1 0h0m-2 5h0m0-1h0m0-1h0m1 0h0m0 2h0m1-1h0m0 0h0m1 1h0m0-2h0m1 2h0m0 0h0m2 2h0m-2 1h0m-1-1h0m-2-1h0m-1 0h0m-1 1h0m-1 1h0m1 3h0m1-1h0m1 1h0m0 0h0m1 0h0m0-2h0m0 2h0m1 0h0m0 0h0m1-1h0m0-1h0m2 5h0m-3-1h0m-1 0h0m0-1h0m0 0h0m0 1h0m-2 2h0m1 0h0m2 1h0m1-1h0m1 5h0m-1-2h0m-1 2h0m-2 0h0m0-1h0m-3 0h0m3 3h0m1 1h0m1 0h0m1-2h0m0 1h0m0-1h0m0 5h0m-1-1h0m0 0h0m0-1h0m-1 0h0m0 0h0m-1 2h0m0-2h0m0 2h0m-1 1h0m1 2h0m0-2h0m1 0h0m1 1h0m0 1h0m0-2h0m0 0h0m0 1h0m1 0h0m1 1h0m0 3h0m-1-2h0m0 1h0m-1 0h0m0-1h0m0 0h0m-1 2h0m0-2h0m-1 0h0m-1 1h0m0 2h0m1 0h0m0 1h0m1 0h0m1 1h0m0 0h0m0 0h0m0-2h0m2 1h0m0 3h0m-3-1h0m0 0h0m-2 5h0m0 0h0m1-2h0m1 2h0m0 0h0m1-2h0m0 2h0m1-1h0m0 0h0m-1 4h0m0 0h0m0-1h0m-1 0h0m-1 0h0m0 4h0m1-1h0m1 1h0m0 0h0m0-2h0m0 1h0m3-1h0m0 5h0m0 0h0m0-2h0m-2 2h0m0-2h0m-1 1h0m0 1h0m-1-1h0m-1 1h0m0-1h0m-1 0h0m0 3h0m0 0h0m3-1h0m0 0h0m0 0h0m1 2h0m0 0h0m1 0h0m0 3h0m-2-2h0m-1 0h0m-1 0h0m0 1h0m-1 2h0m2 2h0m1-2h0m0 1h0m0 0h0m1 0h0m0-1h0m1 1h0m0-1h0m-1 3h0m-1 1h0m-1-1h0m-1 0h0m-1 0h0" stroke="#f0a050" stroke-width="1.6" stroke-linecap="round" stroke-opacity="0.6" transform="scale(0.5)"/>
<text x="1.20" y="13.50" font-size="16.6" text-anchor="start" font-weight="bold" fill="#111" >A</text>
<text x="33.60" y="21.90" font-size="9.9" text-anchor="start" font-weight="bold" fill="#111" >botrocetin t = 0 min</text>
<text x="299.00" y="21.90" font-size="9.9" text-anchor="start" font-weight="bold" fill="#111" >botrocetin t = 5 min</text>
<rect x="33.00" y="28.75" width="92.50" height="89.20" fill="none" stroke="#555" stroke-width="1"/>
<path d="M33.00 28.75V117.95H125.50" fill="none" stroke="#111" stroke-width="1.3"/>
<path d="M30.80 35.75H33.00M30.80 55.75H33.00M30.80 76.75H33.00M30.80 98.55H33.00M30.80 108.65H33.00M31.80 49.73H33.00M31.80 46.21H33.00M31.80 43.71H33.00M31.80 41.77H33.00M31.80 40.19H33.00M31.80 38.85H33.00M31.80 37.69H33.00M31.80 36.67H33.00M31.80 70.43H33.00M31.80 66.73H33.00M31.80 64.11H33.00M31.80 62.07H33.00M31.80 60.41H33.00M31.80 59.00H33.00M31.80 57.79H33.00M31.80 56.71H33.00M31.80 91.99H33.00M31.80 88.15H33.00M31.80 85.43H33.00M31.80 83.31H33.00M31.80 81.59H33.00M31.80 80.13H33.00M31.80 78.86H33.00M31.80 77.75H33.00M31.80 105.32H33.00M31.80 101.98H33.00M31.80 111.68H33.00M31.80 114.71H33.00M43.50 117.95V120.15M53.30 117.95V120.15M75.30 117.95V120.15M96.80 117.95V120.15M118.00 117.95V120.15M59.92 117.95V119.15M63.80 117.95V119.15M66.55 117.95V119.15M68.68 117.95V119.15M70.42 117.95V119.15M71.89 117.95V119.15M73.17 117.95V119.15M74.29 117.95V119.15M81.77 117.95V119.15M85.56 117.95V119.15M88.24 117.95V119.15M90.33 117.95V119.15M92.03 117.95V119.15M93.47 117.95V119.15M94.72 117.95V119.15M95.82 117.95V119.15M103.18 117.95V119.15M106.91 117.95V119.15M109.56 117.95V119.15M111.62 117.95V119.15M113.30 117.95V119.15M114.72 117.95V119.15M115.95 117.95V119.15M117.03 117.95V119.15M46.73 117.95V119.15M49.97 117.95V119.15M40.56 117.95V119.15M37.62 117.95V119.15" stroke="#111" stroke-width="0.8" fill="none"/>
<text x="29.60" y="37.35" font-size="5.8" text-anchor="end" fill="#111" class="h">10<tspan font-size="4.8" dy="-2.5">5</tspan></text>
<text x="29.60" y="57.35" font-size="5.8" text-anchor="end" fill="#111" class="h">10<tspan font-size="4.8" dy="-2.5">4</tspan></text>
<text x="29.60" y="78.35" font-size="5.8" text-anchor="end" fill="#111" class="h">10<tspan font-size="4.8" dy="-2.5">3</tspan></text>
<text x="29.60" y="100.15" font-size="5.8" text-anchor="end" fill="#111" class="h">10<tspan font-size="4.8" dy="-2.5">2</tspan></text>
<text x="29.20" y="110.45" font-size="5.6" text-anchor="end" fill="#111" class="h">0</text>
<text x="43.50" y="127.35" font-size="5.6" text-anchor="middle" fill="#111" class="h">0</text>
<text x="50.40" y="127.35" font-size="5.8" text-anchor="start" fill="#111" class="h">10<tspan font-size="4.8" dy="-2.5">2</tspan></text>
<text x="72.40" y="127.35" font-size="5.8" text-anchor="start" fill="#111" class="h">10<tspan font-size="4.8" dy="-2.5">3</tspan></text>
<text x="93.90" y="127.35" font-size="5.8" text-anchor="start" fill="#111" class="h">10<tspan font-size="4.8" dy="-2.5">4</tspan></text>
<text x="115.10" y="127.35" font-size="5.8" text-anchor="start" fill="#111" class="h">10<tspan font-size="4.8" dy="-2.5">5</tspan></text>
<text x="81.60" y="138.15" font-size="9.9" text-anchor="middle" font-weight="normal" fill="#1a1a1a" class="h">Forward Scatter</text>
<text x="0" y="0" font-size="9.5" text-anchor="middle" fill="#1a1a1a" class="h" transform="translate(17.00,70.65) rotate(-90)">Side Scatter</text>
<rect x="158.00" y="28.75" width="92.50" height="89.20" fill="none" stroke="#555" stroke-width="1"/>
<path d="M158.00 28.75V117.95H250.50" fill="none" stroke="#111" stroke-width="1.3"/>
<path d="M155.80 35.75H158.00M155.80 55.75H158.00M155.80 76.75H158.00M155.80 98.55H158.00M155.80 108.65H158.00M156.80 49.73H158.00M156.80 46.21H158.00M156.80 43.71H158.00M156.80 41.77H158.00M156.80 40.19H158.00M156.80 38.85H158.00M156.80 37.69H158.00M156.80 36.67H158.00M156.80 70.43H158.00M156.80 66.73H158.00M156.80 64.11H158.00M156.80 62.07H158.00M156.80 60.41H158.00M156.80 59.00H158.00M156.80 57.79H158.00M156.80 56.71H158.00M156.80 91.99H158.00M156.80 88.15H158.00M156.80 85.43H158.00M156.80 83.31H158.00M156.80 81.59H158.00M156.80 80.13H158.00M156.80 78.86H158.00M156.80 77.75H158.00M156.80 105.32H158.00M156.80 101.98H158.00M156.80 111.68H158.00M156.80 114.71H158.00M168.50 117.95V120.15M178.30 117.95V120.15M200.30 117.95V120.15M221.80 117.95V120.15M243.00 117.95V120.15M184.92 117.95V119.15M188.80 117.95V119.15M191.55 117.95V119.15M193.68 117.95V119.15M195.42 117.95V119.15M196.89 117.95V119.15M198.17 117.95V119.15M199.29 117.95V119.15M206.77 117.95V119.15M210.56 117.95V119.15M213.24 117.95V119.15M215.33 117.95V119.15M217.03 117.95V119.15M218.47 117.95V119.15M219.72 117.95V119.15M220.82 117.95V119.15M228.18 117.95V119.15M231.91 117.95V119.15M234.56 117.95V119.15M236.62 117.95V119.15M238.30 117.95V119.15M239.72 117.95V119.15M240.95 117.95V119.15M242.03 117.95V119.15M171.73 117.95V119.15M174.97 117.95V119.15M165.56 117.95V119.15M162.62 117.95V119.15" stroke="#111" stroke-width="0.8" fill="none"/>
<text x="154.60" y="37.35" font-size="5.8" text-anchor="end" fill="#111" class="h">10<tspan font-size="4.8" dy="-2.5">5</tspan></text>
<text x="154.60" y="57.35" font-size="5.8" text-anchor="end" fill="#111" class="h">10<tspan font-size="4.8" dy="-2.5">4</tspan></text>
<text x="154.60" y="78.35" font-size="5.8" text-anchor="end" fill="#111" class="h">10<tspan font-size="4.8" dy="-2.5">3</tspan></text>
<text x="154.60" y="100.15" font-size="5.8" text-anchor="end" fill="#111" class="h">10<tspan font-size="4.8" dy="-2.5">2</tspan></text>
<text x="154.20" y="110.45" font-size="5.6" text-anchor="end" fill="#111" class="h">0</text>
<text x="168.50" y="127.35" font-size="5.6" text-anchor="middle" fill="#111" class="h">0</text>
<text x="175.40" y="127.35" font-size="5.8" text-anchor="start" fill="#111" class="h">10<tspan font-size="4.8" dy="-2.5">2</tspan></text>
<text x="197.40" y="127.35" font-size="5.8" text-anchor="start" fill="#111" class="h">10<tspan font-size="4.8" dy="-2.5">3</tspan></text>
<text x="218.90" y="127.35" font-size="5.8" text-anchor="start" fill="#111" class="h">10<tspan font-size="4.8" dy="-2.5">4</tspan></text>
<text x="240.10" y="127.35" font-size="5.8" text-anchor="start" fill="#111" class="h">10<tspan font-size="4.8" dy="-2.5">5</tspan></text>
<text x="203.70" y="138.15" font-size="9.9" text-anchor="middle" font-weight="normal" fill="#1a1a1a" class="h">CD9 APC</text>
<text x="0" y="0" font-size="9.5" text-anchor="middle" fill="#1a1a1a" class="h" transform="translate(142.00,70.65) rotate(-90)">CD9 PE</text>
<rect x="298.80" y="28.75" width="92.50" height="89.20" fill="none" stroke="#555" stroke-width="1"/>
<path d="M298.80 28.75V117.95H391.30" fill="none" stroke="#111" stroke-width="1.3"/>
<path d="M296.60 35.75H298.80M296.60 55.75H298.80M296.60 76.75H298.80M296.60 98.55H298.80M296.60 108.65H298.80M297.60 49.73H298.80M297.60 46.21H298.80M297.60 43.71H298.80M297.60 41.77H298.80M297.60 40.19H298.80M297.60 38.85H298.80M297.60 37.69H298.80M297.60 36.67H298.80M297.60 70.43H298.80M297.60 66.73H298.80M297.60 64.11H298.80M297.60 62.07H298.80M297.60 60.41H298.80M297.60 59.00H298.80M297.60 57.79H298.80M297.60 56.71H298.80M297.60 91.99H298.80M297.60 88.15H298.80M297.60 85.43H298.80M297.60 83.31H298.80M297.60 81.59H298.80M297.60 80.13H298.80M297.60 78.86H298.80M297.60 77.75H298.80M297.60 105.32H298.80M297.60 101.98H298.80M297.60 111.68H298.80M297.60 114.71H298.80M309.30 117.95V120.15M319.10 117.95V120.15M341.10 117.95V120.15M362.60 117.95V120.15M383.80 117.95V120.15M325.72 117.95V119.15M329.60 117.95V119.15M332.35 117.95V119.15M334.48 117.95V119.15M336.22 117.95V119.15M337.69 117.95V119.15M338.97 117.95V119.15M340.09 117.95V119.15M347.57 117.95V119.15M351.36 117.95V119.15M354.04 117.95V119.15M356.13 117.95V119.15M357.83 117.95V119.15M359.27 117.95V119.15M360.52 117.95V119.15M361.62 117.95V119.15M368.98 117.95V119.15M372.71 117.95V119.15M375.36 117.95V119.15M377.42 117.95V119.15M379.10 117.95V119.15M380.52 117.95V119.15M381.75 117.95V119.15M382.83 117.95V119.15M312.53 117.95V119.15M315.77 117.95V119.15M306.36 117.95V119.15M303.42 117.95V119.15" stroke="#111" stroke-width="0.8" fill="none"/>
<text x="295.40" y="37.35" font-size="5.8" text-anchor="end" fill="#111" class="h">10<tspan font-size="4.8" dy="-2.5">5</tspan></text>
<text x="295.40" y="57.35" font-size="5.8" text-anchor="end" fill="#111" class="h">10<tspan font-size="4.8" dy="-2.5">4</tspan></text>
<text x="295.40" y="78.35" font-size="5.8" text-anchor="end" fill="#111" class="h">10<tspan font-size="4.8" dy="-2.5">3</tspan></text>
<text x="295.40" y="100.15" font-size="5.8" text-anchor="end" fill="#111" class="h">10<tspan font-size="4.8" dy="-2.5">2</tspan></text>
<text x="295.00" y="110.45" font-size="5.6" text-anchor="end" fill="#111" class="h">0</text>
<text x="309.30" y="127.35" font-size="5.6" text-anchor="middle" fill="#111" class="h">0</text>
<text x="316.20" y="127.35" font-size="5.8" text-anchor="start" fill="#111" class="h">10<tspan font-size="4.8" dy="-2.5">2</tspan></text>
<text x="338.20" y="127.35" font-size="5.8" text-anchor="start" fill="#111" class="h">10<tspan font-size="4.8" dy="-2.5">3</tspan></text>
<text x="359.70" y="127.35" font-size="5.8" text-anchor="start" fill="#111" class="h">10<tspan font-size="4.8" dy="-2.5">4</tspan></text>
<text x="380.90" y="127.35" font-size="5.8" text-anchor="start" fill="#111" class="h">10<tspan font-size="4.8" dy="-2.5">5</tspan></text>
<text x="347.40" y="138.15" font-size="9.9" text-anchor="middle" font-weight="normal" fill="#1a1a1a" class="h">Forward Scatter</text>
<text x="0" y="0" font-size="9.5" text-anchor="middle" fill="#1a1a1a" class="h" transform="translate(282.80,70.65) rotate(-90)">Side Scatter</text>
<rect x="423.60" y="28.75" width="92.50" height="89.20" fill="none" stroke="#555" stroke-width="1"/>
<path d="M423.60 28.75V117.95H516.10" fill="none" stroke="#111" stroke-width="1.3"/>
<path d="M421.40 35.75H423.60M421.40 55.75H423.60M421.40 76.75H423.60M421.40 98.55H423.60M421.40 108.65H423.60M422.40 49.73H423.60M422.40 46.21H423.60M422.40 43.71H423.60M422.40 41.77H423.60M422.40 40.19H423.60M422.40 38.85H423.60M422.40 37.69H423.60M422.40 36.67H423.60M422.40 70.43H423.60M422.40 66.73H423.60M422.40 64.11H423.60M422.40 62.07H423.60M422.40 60.41H423.60M422.40 59.00H423.60M422.40 57.79H423.60M422.40 56.71H423.60M422.40 91.99H423.60M422.40 88.15H423.60M422.40 85.43H423.60M422.40 83.31H423.60M422.40 81.59H423.60M422.40 80.13H423.60M422.40 78.86H423.60M422.40 77.75H423.60M422.40 105.32H423.60M422.40 101.98H423.60M422.40 111.68H423.60M422.40 114.71H423.60M434.10 117.95V120.15M443.90 117.95V120.15M465.90 117.95V120.15M487.40 117.95V120.15M508.60 117.95V120.15M450.52 117.95V119.15M454.40 117.95V119.15M457.15 117.95V119.15M459.28 117.95V119.15M461.02 117.95V119.15M462.49 117.95V119.15M463.77 117.95V119.15M464.89 117.95V119.15M472.37 117.95V119.15M476.16 117.95V119.15M478.84 117.95V119.15M480.93 117.95V119.15M482.63 117.95V119.15M484.07 117.95V119.15M485.32 117.95V119.15M486.42 117.95V119.15M493.78 117.95V119.15M497.51 117.95V119.15M500.16 117.95V119.15M502.22 117.95V119.15M503.90 117.95V119.15M505.32 117.95V119.15M506.55 117.95V119.15M507.63 117.95V119.15M437.33 117.95V119.15M440.57 117.95V119.15M431.16 117.95V119.15M428.22 117.95V119.15" stroke="#111" stroke-width="0.8" fill="none"/>
<text x="420.20" y="37.35" font-size="5.8" text-anchor="end" fill="#111" class="h">10<tspan font-size="4.8" dy="-2.5">5</tspan></text>
<text x="420.20" y="57.35" font-size="5.8" text-anchor="end" fill="#111" class="h">10<tspan font-size="4.8" dy="-2.5">4</tspan></text>
<text x="420.20" y="78.35" font-size="5.8" text-anchor="end" fill="#111" class="h">10<tspan font-size="4.8" dy="-2.5">3</tspan></text>
<text x="420.20" y="100.15" font-size="5.8" text-anchor="end" fill="#111" class="h">10<tspan font-size="4.8" dy="-2.5">2</tspan></text>
<text x="419.80" y="110.45" font-size="5.6" text-anchor="end" fill="#111" class="h">0</text>
<text x="434.10" y="127.35" font-size="5.6" text-anchor="middle" fill="#111" class="h">0</text>
<text x="441.00" y="127.35" font-size="5.8" text-anchor="start" fill="#111" class="h">10<tspan font-size="4.8" dy="-2.5">2</tspan></text>
<text x="463.00" y="127.35" font-size="5.8" text-anchor="start" fill="#111" class="h">10<tspan font-size="4.8" dy="-2.5">3</tspan></text>
<text x="484.50" y="127.35" font-size="5.8" text-anchor="start" fill="#111" class="h">10<tspan font-size="4.8" dy="-2.5">4</tspan></text>
<text x="505.70" y="127.35" font-size="5.8" text-anchor="start" fill="#111" class="h">10<tspan font-size="4.8" dy="-2.5">5</tspan></text>
<text x="469.30" y="138.15" font-size="9.9" text-anchor="middle" font-weight="normal" fill="#1a1a1a" class="h">CD9 APC</text>
<text x="0" y="0" font-size="9.5" text-anchor="middle" fill="#1a1a1a" class="h" transform="translate(407.60,70.65) rotate(-90)">CD9 PE</text>
<rect x="33.00" y="154.40" width="92.50" height="89.20" fill="none" stroke="#555" stroke-width="1"/>
<path d="M33.00 154.40V243.60H125.50" fill="none" stroke="#111" stroke-width="1.3"/>
<path d="M30.80 161.40H33.00M30.80 181.40H33.00M30.80 202.40H33.00M30.80 224.20H33.00M30.80 234.30H33.00M31.80 175.38H33.00M31.80 171.86H33.00M31.80 169.36H33.00M31.80 167.42H33.00M31.80 165.84H33.00M31.80 164.50H33.00M31.80 163.34H33.00M31.80 162.32H33.00M31.80 196.08H33.00M31.80 192.38H33.00M31.80 189.76H33.00M31.80 187.72H33.00M31.80 186.06H33.00M31.80 184.65H33.00M31.80 183.44H33.00M31.80 182.36H33.00M31.80 217.64H33.00M31.80 213.80H33.00M31.80 211.08H33.00M31.80 208.96H33.00M31.80 207.24H33.00M31.80 205.78H33.00M31.80 204.51H33.00M31.80 203.40H33.00M31.80 230.97H33.00M31.80 227.63H33.00M31.80 237.33H33.00M31.80 240.36H33.00M43.50 243.60V245.80M53.30 243.60V245.80M75.30 243.60V245.80M96.80 243.60V245.80M118.00 243.60V245.80M59.92 243.60V244.80M63.80 243.60V244.80M66.55 243.60V244.80M68.68 243.60V244.80M70.42 243.60V244.80M71.89 243.60V244.80M73.17 243.60V244.80M74.29 243.60V244.80M81.77 243.60V244.80M85.56 243.60V244.80M88.24 243.60V244.80M90.33 243.60V244.80M92.03 243.60V244.80M93.47 243.60V244.80M94.72 243.60V244.80M95.82 243.60V244.80M103.18 243.60V244.80M106.91 243.60V244.80M109.56 243.60V244.80M111.62 243.60V244.80M113.30 243.60V244.80M114.72 243.60V244.80M115.95 243.60V244.80M117.03 243.60V244.80M46.73 243.60V244.80M49.97 243.60V244.80M40.56 243.60V244.80M37.62 243.60V244.80" stroke="#111" stroke-width="0.8" fill="none"/>
<text x="29.60" y="163.00" font-size="5.8" text-anchor="end" fill="#111" class="h">10<tspan font-size="4.8" dy="-2.5">5</tspan></text>
<text x="29.60" y="183.00" font-size="5.8" text-anchor="end" fill="#111" class="h">10<tspan font-size="4.8" dy="-2.5">4</tspan></text>
<text x="29.60" y="204.00" font-size="5.8" text-anchor="end" fill="#111" class="h">10<tspan font-size="4.8" dy="-2.5">3</tspan></text>
<text x="29.60" y="225.80" font-size="5.8" text-anchor="end" fill="#111" class="h">10<tspan font-size="4.8" dy="-2.5">2</tspan></text>
<text x="29.20" y="236.10" font-size="5.6" text-anchor="end" fill="#111" class="h">0</text>
<text x="43.50" y="253.00" font-size="5.6" text-anchor="middle" fill="#111" class="h">0</text>
<text x="50.40" y="253.00" font-size="5.8" text-anchor="start" fill="#111" class="h">10<tspan font-size="4.8" dy="-2.5">2</tspan></text>
<text x="72.40" y="253.00" font-size="5.8" text-anchor="start" fill="#111" class="h">10<tspan font-size="4.8" dy="-2.5">3</tspan></text>
<text x="93.90" y="253.00" font-size="5.8" text-anchor="start" fill="#111" class="h">10<tspan font-size="4.8" dy="-2.5">4</tspan></text>
<text x="115.10" y="253.00" font-size="5.8" text-anchor="start" fill="#111" class="h">10<tspan font-size="4.8" dy="-2.5">5</tspan></text>
<text x="81.60" y="263.80" font-size="9.9" text-anchor="middle" font-weight="normal" fill="#1a1a1a" class="h">Forward Scatter</text>
<text x="0" y="0" font-size="9.5" text-anchor="start" fill="#1a1a1a" class="h" transform="translate(17.00,215.80) rotate(-90)">CD9 PE</text>
<rect x="158.00" y="154.40" width="92.50" height="89.20" fill="none" stroke="#555" stroke-width="1"/>
<path d="M158.00 154.40V243.60H250.50" fill="none" stroke="#111" stroke-width="1.3"/>
<path d="M155.80 161.40H158.00M155.80 181.40H158.00M155.80 202.40H158.00M155.80 224.20H158.00M155.80 234.30H158.00M156.80 175.38H158.00M156.80 171.86H158.00M156.80 169.36H158.00M156.80 167.42H158.00M156.80 165.84H158.00M156.80 164.50H158.00M156.80 163.34H158.00M156.80 162.32H158.00M156.80 196.08H158.00M156.80 192.38H158.00M156.80 189.76H158.00M156.80 187.72H158.00M156.80 186.06H158.00M156.80 184.65H158.00M156.80 183.44H158.00M156.80 182.36H158.00M156.80 217.64H158.00M156.80 213.80H158.00M156.80 211.08H158.00M156.80 208.96H158.00M156.80 207.24H158.00M156.80 205.78H158.00M156.80 204.51H158.00M156.80 203.40H158.00M156.80 230.97H158.00M156.80 227.63H158.00M156.80 237.33H158.00M156.80 240.36H158.00M168.50 243.60V245.80M178.30 243.60V245.80M200.30 243.60V245.80M221.80 243.60V245.80M243.00 243.60V245.80M184.92 243.60V244.80M188.80 243.60V244.80M191.55 243.60V244.80M193.68 243.60V244.80M195.42 243.60V244.80M196.89 243.60V244.80M198.17 243.60V244.80M199.29 243.60V244.80M206.77 243.60V244.80M210.56 243.60V244.80M213.24 243.60V244.80M215.33 243.60V244.80M217.03 243.60V244.80M218.47 243.60V244.80M219.72 243.60V244.80M220.82 243.60V244.80M228.18 243.60V244.80M231.91 243.60V244.80M234.56 243.60V244.80M236.62 243.60V244.80M238.30 243.60V244.80M239.72 243.60V244.80M240.95 243.60V244.80M242.03 243.60V244.80M171.73 243.60V244.80M174.97 243.60V244.80M165.56 243.60V244.80M162.62 243.60V244.80" stroke="#111" stroke-width="0.8" fill="none"/>
<text x="154.60" y="163.00" font-size="5.8" text-anchor="end" fill="#111" class="h">10<tspan font-size="4.8" dy="-2.5">5</tspan></text>
<text x="154.60" y="183.00" font-size="5.8" text-anchor="end" fill="#111" class="h">10<tspan font-size="4.8" dy="-2.5">4</tspan></text>
<text x="154.60" y="204.00" font-size="5.8" text-anchor="end" fill="#111" class="h">10<tspan font-size="4.8" dy="-2.5">3</tspan></text>
<text x="154.60" y="225.80" font-size="5.8" text-anchor="end" fill="#111" class="h">10<tspan font-size="4.8" dy="-2.5">2</tspan></text>
<text x="154.20" y="236.10" font-size="5.6" text-anchor="end" fill="#111" class="h">0</text>
<text x="168.50" y="253.00" font-size="5.6" text-anchor="middle" fill="#111" class="h">0</text>
<text x="175.40" y="253.00" font-size="5.8" text-anchor="start" fill="#111" class="h">10<tspan font-size="4.8" dy="-2.5">2</tspan></text>
<text x="197.40" y="253.00" font-size="5.8" text-anchor="start" fill="#111" class="h">10<tspan font-size="4.8" dy="-2.5">3</tspan></text>
<text x="218.90" y="253.00" font-size="5.8" text-anchor="start" fill="#111" class="h">10<tspan font-size="4.8" dy="-2.5">4</tspan></text>
<text x="240.10" y="253.00" font-size="5.8" text-anchor="start" fill="#111" class="h">10<tspan font-size="4.8" dy="-2.5">5</tspan></text>
<text x="206.60" y="263.80" font-size="9.9" text-anchor="middle" font-weight="normal" fill="#1a1a1a" class="h">Forward Scatter</text>
<text x="0" y="0" font-size="9.5" text-anchor="start" fill="#1a1a1a" class="h" transform="translate(142.00,215.80) rotate(-90)">CD9 APC</text>
<rect x="298.80" y="154.40" width="92.50" height="89.20" fill="none" stroke="#555" stroke-width="1"/>
<path d="M298.80 154.40V243.60H391.30" fill="none" stroke="#111" stroke-width="1.3"/>
<path d="M296.60 161.40H298.80M296.60 181.40H298.80M296.60 202.40H298.80M296.60 224.20H298.80M296.60 234.30H298.80M297.60 175.38H298.80M297.60 171.86H298.80M297.60 169.36H298.80M297.60 167.42H298.80M297.60 165.84H298.80M297.60 164.50H298.80M297.60 163.34H298.80M297.60 162.32H298.80M297.60 196.08H298.80M297.60 192.38H298.80M297.60 189.76H298.80M297.60 187.72H298.80M297.60 186.06H298.80M297.60 184.65H298.80M297.60 183.44H298.80M297.60 182.36H298.80M297.60 217.64H298.80M297.60 213.80H298.80M297.60 211.08H298.80M297.60 208.96H298.80M297.60 207.24H298.80M297.60 205.78H298.80M297.60 204.51H298.80M297.60 203.40H298.80M297.60 230.97H298.80M297.60 227.63H298.80M297.60 237.33H298.80M297.60 240.36H298.80M309.30 243.60V245.80M319.10 243.60V245.80M341.10 243.60V245.80M362.60 243.60V245.80M383.80 243.60V245.80M325.72 243.60V244.80M329.60 243.60V244.80M332.35 243.60V244.80M334.48 243.60V244.80M336.22 243.60V244.80M337.69 243.60V244.80M338.97 243.60V244.80M340.09 243.60V244.80M347.57 243.60V244.80M351.36 243.60V244.80M354.04 243.60V244.80M356.13 243.60V244.80M357.83 243.60V244.80M359.27 243.60V244.80M360.52 243.60V244.80M361.62 243.60V244.80M368.98 243.60V244.80M372.71 243.60V244.80M375.36 243.60V244.80M377.42 243.60V244.80M379.10 243.60V244.80M380.52 243.60V244.80M381.75 243.60V244.80M382.83 243.60V244.80M312.53 243.60V244.80M315.77 243.60V244.80M306.36 243.60V244.80M303.42 243.60V244.80" stroke="#111" stroke-width="0.8" fill="none"/>
<text x="295.40" y="163.00" font-size="5.8" text-anchor="end" fill="#111" class="h">10<tspan font-size="4.8" dy="-2.5">5</tspan></text>
<text x="295.40" y="183.00" font-size="5.8" text-anchor="end" fill="#111" class="h">10<tspan font-size="4.8" dy="-2.5">4</tspan></text>
<text x="295.40" y="204.00" font-size="5.8" text-anchor="end" fill="#111" class="h">10<tspan font-size="4.8" dy="-2.5">3</tspan></text>
<text x="295.40" y="225.80" font-size="5.8" text-anchor="end" fill="#111" class="h">10<tspan font-size="4.8" dy="-2.5">2</tspan></text>
<text x="295.00" y="236.10" font-size="5.6" text-anchor="end" fill="#111" class="h">0</text>
<text x="309.30" y="253.00" font-size="5.6" text-anchor="middle" fill="#111" class="h">0</text>
<text x="316.20" y="253.00" font-size="5.8" text-anchor="start" fill="#111" class="h">10<tspan font-size="4.8" dy="-2.5">2</tspan></text>
<text x="338.20" y="253.00" font-size="5.8" text-anchor="start" fill="#111" class="h">10<tspan font-size="4.8" dy="-2.5">3</tspan></text>
<text x="359.70" y="253.00" font-size="5.8" text-anchor="start" fill="#111" class="h">10<tspan font-size="4.8" dy="-2.5">4</tspan></text>
<text x="380.90" y="253.00" font-size="5.8" text-anchor="start" fill="#111" class="h">10<tspan font-size="4.8" dy="-2.5">5</tspan></text>
<text x="347.40" y="263.80" font-size="9.9" text-anchor="middle" font-weight="normal" fill="#1a1a1a" class="h">Forward Scatter</text>
<text x="0" y="0" font-size="9.5" text-anchor="start" fill="#1a1a1a" class="h" transform="translate(282.80,215.80) rotate(-90)">CD9 PE</text>
<rect x="423.60" y="154.40" width="92.50" height="89.20" fill="none" stroke="#555" stroke-width="1"/>
<path d="M423.60 154.40V243.60H516.10" fill="none" stroke="#111" stroke-width="1.3"/>
<path d="M421.40 161.40H423.60M421.40 181.40H423.60M421.40 202.40H423.60M421.40 224.20H423.60M421.40 234.30H423.60M422.40 175.38H423.60M422.40 171.86H423.60M422.40 169.36H423.60M422.40 167.42H423.60M422.40 165.84H423.60M422.40 164.50H423.60M422.40 163.34H423.60M422.40 162.32H423.60M422.40 196.08H423.60M422.40 192.38H423.60M422.40 189.76H423.60M422.40 187.72H423.60M422.40 186.06H423.60M422.40 184.65H423.60M422.40 183.44H423.60M422.40 182.36H423.60M422.40 217.64H423.60M422.40 213.80H423.60M422.40 211.08H423.60M422.40 208.96H423.60M422.40 207.24H423.60M422.40 205.78H423.60M422.40 204.51H423.60M422.40 203.40H423.60M422.40 230.97H423.60M422.40 227.63H423.60M422.40 237.33H423.60M422.40 240.36H423.60M434.10 243.60V245.80M443.90 243.60V245.80M465.90 243.60V245.80M487.40 243.60V245.80M508.60 243.60V245.80M450.52 243.60V244.80M454.40 243.60V244.80M457.15 243.60V244.80M459.28 243.60V244.80M461.02 243.60V244.80M462.49 243.60V244.80M463.77 243.60V244.80M464.89 243.60V244.80M472.37 243.60V244.80M476.16 243.60V244.80M478.84 243.60V244.80M480.93 243.60V244.80M482.63 243.60V244.80M484.07 243.60V244.80M485.32 243.60V244.80M486.42 243.60V244.80M493.78 243.60V244.80M497.51 243.60V244.80M500.16 243.60V244.80M502.22 243.60V244.80M503.90 243.60V244.80M505.32 243.60V244.80M506.55 243.60V244.80M507.63 243.60V244.80M437.33 243.60V244.80M440.57 243.60V244.80M431.16 243.60V244.80M428.22 243.60V244.80" stroke="#111" stroke-width="0.8" fill="none"/>
<text x="420.20" y="163.00" font-size="5.8" text-anchor="end" fill="#111" class="h">10<tspan font-size="4.8" dy="-2.5">5</tspan></text>
<text x="420.20" y="183.00" font-size="5.8" text-anchor="end" fill="#111" class="h">10<tspan font-size="4.8" dy="-2.5">4</tspan></text>
<text x="420.20" y="204.00" font-size="5.8" text-anchor="end" fill="#111" class="h">10<tspan font-size="4.8" dy="-2.5">3</tspan></text>
<text x="420.20" y="225.80" font-size="5.8" text-anchor="end" fill="#111" class="h">10<tspan font-size="4.8" dy="-2.5">2</tspan></text>
<text x="419.80" y="236.10" font-size="5.6" text-anchor="end" fill="#111" class="h">0</text>
<text x="434.10" y="253.00" font-size="5.6" text-anchor="middle" fill="#111" class="h">0</text>
<text x="441.00" y="253.00" font-size="5.8" text-anchor="start" fill="#111" class="h">10<tspan font-size="4.8" dy="-2.5">2</tspan></text>
<text x="463.00" y="253.00" font-size="5.8" text-anchor="start" fill="#111" class="h">10<tspan font-size="4.8" dy="-2.5">3</tspan></text>
<text x="484.50" y="253.00" font-size="5.8" text-anchor="start" fill="#111" class="h">10<tspan font-size="4.8" dy="-2.5">4</tspan></text>
<text x="505.70" y="253.00" font-size="5.8" text-anchor="start" fill="#111" class="h">10<tspan font-size="4.8" dy="-2.5">5</tspan></text>
<text x="472.20" y="263.80" font-size="9.9" text-anchor="middle" font-weight="normal" fill="#1a1a1a" class="h">Forward Scatter</text>
<text x="0" y="0" font-size="9.5" text-anchor="start" fill="#1a1a1a" class="h" transform="translate(407.60,215.80) rotate(-90)">CD9 APC</text>
<rect x="32.80" y="278.50" width="91.20" height="89.20" fill="none" stroke="#555" stroke-width="1"/>
<path d="M32.80 278.50V367.70H124.00" fill="none" stroke="#111" stroke-width="1.3"/>
<path d="M30.60 285.50H32.80M30.60 305.50H32.80M30.60 326.50H32.80M30.60 348.30H32.80M30.60 358.40H32.80M31.60 299.48H32.80M31.60 295.96H32.80M31.60 293.46H32.80M31.60 291.52H32.80M31.60 289.94H32.80M31.60 288.60H32.80M31.60 287.44H32.80M31.60 286.42H32.80M31.60 320.18H32.80M31.60 316.48H32.80M31.60 313.86H32.80M31.60 311.82H32.80M31.60 310.16H32.80M31.60 308.75H32.80M31.60 307.54H32.80M31.60 306.46H32.80M31.60 341.74H32.80M31.60 337.90H32.80M31.60 335.18H32.80M31.60 333.06H32.80M31.60 331.34H32.80M31.60 329.88H32.80M31.60 328.61H32.80M31.60 327.50H32.80M31.60 355.07H32.80M31.60 351.73H32.80M31.60 361.43H32.80M31.60 364.46H32.80M43.15 367.70V369.90M52.81 367.70V369.90M74.51 367.70V369.90M95.70 367.70V369.90M116.61 367.70V369.90M59.34 367.70V368.90M63.16 367.70V368.90M65.87 367.70V368.90M67.98 367.70V368.90M69.69 367.70V368.90M71.15 367.70V368.90M72.40 367.70V368.90M73.51 367.70V368.90M80.89 367.70V368.90M84.62 367.70V368.90M87.27 367.70V368.90M89.32 367.70V368.90M91.00 367.70V368.90M92.42 367.70V368.90M93.65 367.70V368.90M94.73 367.70V368.90M102.00 367.70V368.90M105.68 367.70V368.90M108.29 367.70V368.90M110.31 367.70V368.90M111.97 367.70V368.90M113.37 367.70V368.90M114.58 367.70V368.90M115.65 367.70V368.90M46.34 367.70V368.90M49.53 367.70V368.90M40.25 367.70V368.90M37.36 367.70V368.90" stroke="#111" stroke-width="0.8" fill="none"/>
<text x="29.40" y="287.10" font-size="5.8" text-anchor="end" fill="#111" class="h">10<tspan font-size="4.8" dy="-2.5">5</tspan></text>
<text x="29.40" y="307.10" font-size="5.8" text-anchor="end" fill="#111" class="h">10<tspan font-size="4.8" dy="-2.5">4</tspan></text>
<text x="29.40" y="328.10" font-size="5.8" text-anchor="end" fill="#111" class="h">10<tspan font-size="4.8" dy="-2.5">3</tspan></text>
<text x="29.40" y="349.90" font-size="5.8" text-anchor="end" fill="#111" class="h">10<tspan font-size="4.8" dy="-2.5">2</tspan></text>
<text x="29.00" y="360.20" font-size="5.6" text-anchor="end" fill="#111" class="h">0</text>
<text x="43.15" y="377.10" font-size="5.6" text-anchor="middle" fill="#111" class="h">0</text>
<text x="49.91" y="377.10" font-size="5.8" text-anchor="start" fill="#111" class="h">10<tspan font-size="4.8" dy="-2.5">2</tspan></text>
<text x="71.61" y="377.10" font-size="5.8" text-anchor="start" fill="#111" class="h">10<tspan font-size="4.8" dy="-2.5">3</tspan></text>
<text x="92.80" y="377.10" font-size="5.8" text-anchor="start" fill="#111" class="h">10<tspan font-size="4.8" dy="-2.5">4</tspan></text>
<text x="113.71" y="377.10" font-size="5.8" text-anchor="start" fill="#111" class="h">10<tspan font-size="4.8" dy="-2.5">5</tspan></text>
<text x="80.72" y="387.90" font-size="9.9" text-anchor="middle" font-weight="normal" fill="#1a1a1a" class="h">Forward Scatter</text>
<text x="0" y="0" font-size="10.0" text-anchor="middle" fill="#1a1a1a" class="h" transform="translate(16.80,322.90) rotate(-90)">Ter119 PerCPCy5.5</text>
<rect x="297.80" y="278.50" width="91.20" height="89.20" fill="none" stroke="#555" stroke-width="1"/>
<path d="M297.80 278.50V367.70H389.00" fill="none" stroke="#111" stroke-width="1.3"/>
<path d="M295.60 285.50H297.80M295.60 305.50H297.80M295.60 326.50H297.80M295.60 348.30H297.80M295.60 358.40H297.80M296.60 299.48H297.80M296.60 295.96H297.80M296.60 293.46H297.80M296.60 291.52H297.80M296.60 289.94H297.80M296.60 288.60H297.80M296.60 287.44H297.80M296.60 286.42H297.80M296.60 320.18H297.80M296.60 316.48H297.80M296.60 313.86H297.80M296.60 311.82H297.80M296.60 310.16H297.80M296.60 308.75H297.80M296.60 307.54H297.80M296.60 306.46H297.80M296.60 341.74H297.80M296.60 337.90H297.80M296.60 335.18H297.80M296.60 333.06H297.80M296.60 331.34H297.80M296.60 329.88H297.80M296.60 328.61H297.80M296.60 327.50H297.80M296.60 355.07H297.80M296.60 351.73H297.80M296.60 361.43H297.80M296.60 364.46H297.80M308.15 367.70V369.90M317.81 367.70V369.90M339.51 367.70V369.90M360.70 367.70V369.90M381.61 367.70V369.90M324.34 367.70V368.90M328.16 367.70V368.90M330.87 367.70V368.90M332.98 367.70V368.90M334.69 367.70V368.90M336.15 367.70V368.90M337.40 367.70V368.90M338.51 367.70V368.90M345.89 367.70V368.90M349.62 367.70V368.90M352.27 367.70V368.90M354.32 367.70V368.90M356.00 367.70V368.90M357.42 367.70V368.90M358.65 367.70V368.90M359.73 367.70V368.90M367.00 367.70V368.90M370.68 367.70V368.90M373.29 367.70V368.90M375.31 367.70V368.90M376.97 367.70V368.90M378.37 367.70V368.90M379.58 367.70V368.90M380.65 367.70V368.90M311.34 367.70V368.90M314.53 367.70V368.90M305.25 367.70V368.90M302.36 367.70V368.90" stroke="#111" stroke-width="0.8" fill="none"/>
<text x="294.40" y="287.10" font-size="5.8" text-anchor="end" fill="#111" class="h">10<tspan font-size="4.8" dy="-2.5">5</tspan></text>
<text x="294.40" y="307.10" font-size="5.8" text-anchor="end" fill="#111" class="h">10<tspan font-size="4.8" dy="-2.5">4</tspan></text>
<text x="294.40" y="328.10" font-size="5.8" text-anchor="end" fill="#111" class="h">10<tspan font-size="4.8" dy="-2.5">3</tspan></text>
<text x="294.40" y="349.90" font-size="5.8" text-anchor="end" fill="#111" class="h">10<tspan font-size="4.8" dy="-2.5">2</tspan></text>
<text x="294.00" y="360.20" font-size="5.6" text-anchor="end" fill="#111" class="h">0</text>
<text x="308.15" y="377.10" font-size="5.6" text-anchor="middle" fill="#111" class="h">0</text>
<text x="314.91" y="377.10" font-size="5.8" text-anchor="start" fill="#111" class="h">10<tspan font-size="4.8" dy="-2.5">2</tspan></text>
<text x="336.61" y="377.10" font-size="5.8" text-anchor="start" fill="#111" class="h">10<tspan font-size="4.8" dy="-2.5">3</tspan></text>
<text x="357.80" y="377.10" font-size="5.8" text-anchor="start" fill="#111" class="h">10<tspan font-size="4.8" dy="-2.5">4</tspan></text>
<text x="378.71" y="377.10" font-size="5.8" text-anchor="start" fill="#111" class="h">10<tspan font-size="4.8" dy="-2.5">5</tspan></text>
<text x="345.72" y="387.90" font-size="9.9" text-anchor="middle" font-weight="normal" fill="#1a1a1a" class="h">Forward Scatter</text>
<text x="0" y="0" font-size="10.0" text-anchor="middle" fill="#1a1a1a" class="h" transform="translate(281.80,322.90) rotate(-90)">Ter119 PerCPCy5.5</text>
<path d="M200.60 28.75V117.95M158.00 70.75H250.50" stroke="#333" stroke-width="1.1" fill="none"/>
<path d="M466.20 28.75V117.95M423.60 70.75H516.10" stroke="#333" stroke-width="1.1" fill="none"/>
<text x="249.90" y="23.05" font-size="9.0" text-anchor="end" font-weight="normal" fill="#222" >Total</text>
<text x="515.50" y="23.05" font-size="9.0" text-anchor="end" font-weight="normal" fill="#222" >Total</text>
<text x="124.00" y="151.50" font-size="9.3" text-anchor="end" font-weight="normal" fill="#222" >PE</text>
<text x="389.80" y="151.50" font-size="9.3" text-anchor="end" font-weight="normal" fill="#222" >PE</text>
<text x="249.50" y="151.50" font-size="9.3" text-anchor="end" font-weight="normal" fill="#222" >APC</text>
<text x="515.10" y="151.50" font-size="9.3" text-anchor="end" font-weight="normal" fill="#222" >APC</text>
<text x="123.30" y="275.60" font-size="9.3" text-anchor="end" font-weight="normal" fill="#222" >Q3</text>
<text x="388.50" y="275.60" font-size="9.3" text-anchor="end" font-weight="normal" fill="#222" >Q3</text>
<text x="161.80" y="40.05" font-size="9.4" text-anchor="start" font-weight="bold" fill="#111" >PE</text>
<text x="245.50" y="40.05" font-size="9.4" text-anchor="end" font-weight="bold" fill="#111" >Q2</text>
<text x="162.50" y="114.05" font-size="9.4" text-anchor="start" font-weight="bold" fill="#111" >Q3</text>
<text x="245.50" y="114.05" font-size="9.4" text-anchor="end" font-weight="bold" fill="#111" >APC</text>
<text x="427.40" y="40.05" font-size="9.4" text-anchor="start" font-weight="bold" fill="#111" >PE</text>
<text x="511.10" y="40.05" font-size="9.4" text-anchor="end" font-weight="bold" fill="#111" >Q2</text>
<text x="428.10" y="114.05" font-size="9.4" text-anchor="start" font-weight="bold" fill="#111" >Q3</text>
<text x="511.10" y="114.05" font-size="9.4" text-anchor="end" font-weight="bold" fill="#111" >APC</text>
<text x="303.50" y="39.80" font-size="8.75" text-anchor="start" font-weight="normal" fill="#222" >aggregates</text>
<polygon points="350.70,34.80 350.70,41.30 355.40,38.05" fill="#3a5a9a"/>
<text x="305.80" y="57.40" font-size="8.75" text-anchor="start" font-weight="normal" fill="#222" >plasma</text>
<polygon points="327.10,59.00 327.10,66.70 331.20,62.85" fill="#8a8a8a"/>
<polygon points="323.80,78.00 330.20,78.40 329.80,83.40" fill="#8e8ea4" stroke="#555" stroke-width="0.5"/>
<polygon points="331.80,80.40 338.00,80.00 337.60,85.80" fill="#b02030" stroke="#701018" stroke-width="0.5"/>
<text x="320.80" y="96.90" font-size="9.0" text-anchor="start" font-weight="normal" fill="#222" >PLTs</text>
<polygon points="363.40,65.00 371.20,65.00 367.30,61.40" fill="none" stroke="#a08060" stroke-width="1.1"/>
<polygon points="376.50,61.70 384.40,61.70 380.50,57.90" fill="#8a9a40" stroke="#5a6030" stroke-width="0.5"/>
<text x="367.40" y="72.30" font-size="9.0" text-anchor="middle" font-weight="normal" fill="#222" >d</text>
<text x="381.10" y="67.60" font-size="9.0" text-anchor="middle" font-weight="normal" fill="#222" >p</text>
<text x="372.00" y="82.10" font-size="9.2" text-anchor="middle" font-weight="normal" fill="#222" >RBCs</text>
<text x="59.60" y="169.60" font-size="9.3" text-anchor="start" font-weight="bold" fill="#111" >Q1</text>
<polygon points="64.60,177.00 71.00,172.00 71.00,177.00" fill="#9a1c2c"/>
<polygon points="109.00,203.20 115.00,203.20 112.00,199.20" fill="#8a9060" stroke="#4a4a30" stroke-width="0.6"/>
<text x="108.30" y="212.90" font-size="8.7" text-anchor="middle" font-weight="normal" fill="#333" >pRBCs</text>
<text x="325.20" y="169.60" font-size="9.3" text-anchor="start" font-weight="bold" fill="#111" >Q1</text>
<polygon points="330.20,177.00 336.60,172.00 336.60,177.00" fill="#9a1c2c"/>
<polygon points="374.60,203.20 380.60,203.20 377.60,199.20" fill="#8a9060" stroke="#4a4a30" stroke-width="0.6"/>
<text x="373.90" y="212.90" font-size="8.7" text-anchor="middle" font-weight="normal" fill="#333" >pRBCs</text>
<text x="185.00" y="180.30" font-size="9.3" text-anchor="start" font-weight="bold" fill="#111" >Q4</text>
<polygon points="193.60,188.50 197.30,182.30 199.20,188.50" fill="#9088a8" stroke="#404048" stroke-width="0.5"/>
<polygon points="231.60,209.80 238.00,209.80 234.80,205.80" fill="#8a9060" stroke="#4a4a30" stroke-width="0.6"/>
<text x="233.40" y="218.90" font-size="8.7" text-anchor="middle" font-weight="normal" fill="#333" >pRBCs</text>
<text x="450.40" y="180.30" font-size="9.3" text-anchor="start" font-weight="bold" fill="#111" >Q4</text>
<polygon points="459.00,188.50 462.70,182.30 464.60,188.50" fill="#9088a8" stroke="#404048" stroke-width="0.5"/>
<polygon points="497.00,209.80 503.40,209.80 500.20,205.80" fill="#8a9060" stroke="#4a4a30" stroke-width="0.6"/>
<text x="498.80" y="218.90" font-size="8.7" text-anchor="middle" font-weight="normal" fill="#333" >pRBCs</text>
<text x="80.00" y="309.00" font-size="8.8" text-anchor="start" font-weight="normal" fill="#333" >dRBCs</text>
<text x="37.80" y="360.30" font-size="8.8" text-anchor="start" font-weight="normal" fill="#333" >Plasma</text>
<text x="345.80" y="309.00" font-size="8.8" text-anchor="start" font-weight="normal" fill="#333" >dRBCs</text>
<text x="303.60" y="360.30" font-size="8.8" text-anchor="start" font-weight="normal" fill="#333" >Plasma</text>
<rect x="1.50" y="403.00" width="8.4" height="7.8" fill="#e4202c"/>
<text x="14.50" y="410.30" font-size="10.1" text-anchor="start" font-weight="normal" fill="#222" >Q1: CD9-PE labeled PLTs</text>
<rect x="1.50" y="418.50" width="8.4" height="7.8" fill="#3f6fbf"/>
<text x="14.50" y="425.80" font-size="10.1" text-anchor="start" font-weight="normal" fill="#222" >Q2: Aggregates (double-color)</text>
<rect x="160.50" y="403.00" width="8.4" height="7.8" fill="#9a9a9a"/>
<text x="173.50" y="410.30" font-size="10.1" text-anchor="start" font-weight="normal" fill="#222" >Q3: Plasma/Other blood components</text>
<rect x="160.50" y="418.50" width="8.4" height="7.8" fill="#a488c8"/>
<text x="173.50" y="425.80" font-size="10.1" text-anchor="start" font-weight="normal" fill="#222" >Q4: CD9-APC labeled PLTs</text>
<rect x="343.70" y="403.00" width="8.4" height="7.8" fill="#fcb57a"/>
<text x="356.70" y="410.30" font-size="10.1" text-anchor="start" font-weight="normal" fill="#222" >Ter119-PerCPCy5.5 labeled dRBCs</text>
<rect x="343.70" y="418.50" width="8.4" height="7.8" fill="#a9aa34"/>
<text x="356.70" y="425.80" font-size="10.1" text-anchor="start" font-weight="normal" fill="#222" >CD9-PE/CD9-APC labeled pRBCs</text>
<text x="0.80" y="465.20" font-size="16" text-anchor="start" font-weight="bold" fill="#111" >B</text>
<path d="M67.80 455.28V740.60H371.20" stroke="#808080" stroke-width="1.2" fill="none"/>
<text x="56.40" y="744.90" font-size="12.2" text-anchor="end" font-weight="normal" fill="#222" >0</text>
<text x="56.40" y="697.78" font-size="12.2" text-anchor="end" font-weight="normal" fill="#222" >10</text>
<text x="56.40" y="650.66" font-size="12.2" text-anchor="end" font-weight="normal" fill="#222" >20</text>
<text x="56.40" y="603.54" font-size="12.2" text-anchor="end" font-weight="normal" fill="#222" >30</text>
<text x="56.40" y="556.42" font-size="12.2" text-anchor="end" font-weight="normal" fill="#222" >40</text>
<text x="56.40" y="509.30" font-size="12.2" text-anchor="end" font-weight="normal" fill="#222" >50</text>
<text x="56.40" y="462.18" font-size="12.2" text-anchor="end" font-weight="normal" fill="#222" >60</text>
<text x="67.80" y="765.20" font-size="12.2" text-anchor="middle" font-weight="normal" fill="#222" >0</text>
<text x="127.96" y="765.20" font-size="12.2" text-anchor="middle" font-weight="normal" fill="#222" >2</text>
<text x="188.12" y="765.20" font-size="12.2" text-anchor="middle" font-weight="normal" fill="#222" >4</text>
<text x="248.28" y="765.20" font-size="12.2" text-anchor="middle" font-weight="normal" fill="#222" >6</text>
<text x="308.44" y="765.20" font-size="12.2" text-anchor="middle" font-weight="normal" fill="#222" >8</text>
<text x="368.60" y="765.20" font-size="12.2" text-anchor="middle" font-weight="normal" fill="#222" >10</text>
<text x="217.60" y="784.60" font-size="13.9" text-anchor="middle" font-weight="bold" fill="#111" >time (min)</text>
<text x="0" y="0" font-size="13.9" font-weight="bold" text-anchor="middle" fill="#111" transform="translate(31.2,604.5) rotate(-90)">% double-colored events</text>
<polyline points="67.80,709.97 82.84,707.62 97.88,705.73 112.52,701.02 127.96,697.25 216.30,690.42 290.80,688.01 365.80,678.40" fill="none" stroke="#222" stroke-width="1.15"/>
<polyline points="67.80,709.97 81.34,707.62 96.08,701.02 110.32,691.60 125.36,684.53 214.40,644.48 290.20,628.69 364.00,547.88" fill="none" stroke="#222" stroke-width="1.15"/>
<polyline points="67.80,709.97 82.04,703.85 98.38,706.20 110.82,691.12 127.56,685.47 216.90,629.87 290.70,623.04 366.10,607.72" fill="none" stroke="#222" stroke-width="1.15"/>
<polyline points="67.80,709.97 80.84,706.20 95.78,700.08 110.22,692.07 125.66,684.53 215.70,664.27 289.80,653.90 364.90,643.77" fill="none" stroke="#222" stroke-width="1.15"/>
<polyline points="67.80,709.97 84.24,708.56 99.78,702.43 114.22,694.19 129.16,687.83 218.50,534.21 293.00,587.93 368.00,574.50" fill="none" stroke="#222" stroke-width="1.15"/>
<path d="M216.30 690.42V688.06M212.40 688.06H220.20" stroke="#222" stroke-width="1.1" fill="none"/>
<path d="M290.80 688.01V684.72M286.90 684.72H294.70" stroke="#222" stroke-width="1.1" fill="none"/>
<path d="M365.80 678.40V673.45M361.90 673.45H369.70" stroke="#222" stroke-width="1.1" fill="none"/>
<path d="M96.08 701.02V699.13M92.18 699.13H99.98" stroke="#222" stroke-width="1.1" fill="none"/>
<path d="M125.36 684.53V682.64M121.46 682.64H129.26" stroke="#222" stroke-width="1.1" fill="none"/>
<path d="M290.20 628.69V615.03M286.30 615.03H294.10" stroke="#222" stroke-width="1.1" fill="none"/>
<path d="M364.00 547.88V518.43M360.10 518.43H367.90" stroke="#222" stroke-width="1.1" fill="none"/>
<path d="M82.04 703.85V698.66M78.14 698.66H85.94" stroke="#222" stroke-width="1.1" fill="none"/>
<path d="M216.90 629.87V627.04M213.00 627.04H220.80" stroke="#222" stroke-width="1.1" fill="none"/>
<path d="M290.70 623.04V612.43M286.80 612.43H294.60" stroke="#222" stroke-width="1.1" fill="none"/>
<path d="M366.10 607.72V599.00M362.20 599.00H370.00" stroke="#222" stroke-width="1.1" fill="none"/>
<path d="M80.84 706.20V704.32M76.94 704.32H84.74" stroke="#222" stroke-width="1.1" fill="none"/>
<path d="M125.66 684.53V682.64M121.76 682.64H129.56" stroke="#222" stroke-width="1.1" fill="none"/>
<path d="M215.70 664.27V661.91M211.80 661.91H219.60" stroke="#222" stroke-width="1.1" fill="none"/>
<path d="M289.80 653.90V647.30M285.90 647.30H293.70" stroke="#222" stroke-width="1.1" fill="none"/>
<path d="M364.90 643.77V635.05M361.00 635.05H368.80" stroke="#222" stroke-width="1.1" fill="none"/>
<path d="M218.50 534.21V506.88M214.60 506.88H222.40" stroke="#222" stroke-width="1.1" fill="none"/>
<path d="M293.00 587.93V555.42M289.10 555.42H296.90" stroke="#222" stroke-width="1.1" fill="none"/>
<path d="M368.00 574.50V540.10M364.10 540.10H371.90" stroke="#222" stroke-width="1.1" fill="none"/>
<circle cx="67.80" cy="709.97" r="3.7" fill="#c8c8c8" stroke="#222" stroke-width="0.8"/>
<circle cx="82.84" cy="707.62" r="3.7" fill="#c8c8c8" stroke="#222" stroke-width="0.8"/>
<circle cx="97.88" cy="705.73" r="3.7" fill="#c8c8c8" stroke="#222" stroke-width="0.8"/>
<circle cx="112.52" cy="701.02" r="3.7" fill="#c8c8c8" stroke="#222" stroke-width="0.8"/>
<circle cx="127.96" cy="697.25" r="3.7" fill="#c8c8c8" stroke="#222" stroke-width="0.8"/>
<circle cx="216.30" cy="690.42" r="3.7" fill="#c8c8c8" stroke="#222" stroke-width="0.8"/>
<circle cx="290.80" cy="688.01" r="3.7" fill="#c8c8c8" stroke="#222" stroke-width="0.8"/>
<circle cx="365.80" cy="678.40" r="3.7" fill="#c8c8c8" stroke="#222" stroke-width="0.8"/>
<rect x="64.10" y="706.27" width="7.4" height="7.4" fill="#dcb088" stroke="#222" stroke-width="0.8"/>
<rect x="77.64" y="703.92" width="7.4" height="7.4" fill="#dcb088" stroke="#222" stroke-width="0.8"/>
<rect x="92.38" y="697.32" width="7.4" height="7.4" fill="#dcb088" stroke="#222" stroke-width="0.8"/>
<rect x="106.62" y="687.90" width="7.4" height="7.4" fill="#dcb088" stroke="#222" stroke-width="0.8"/>
<rect x="121.66" y="680.83" width="7.4" height="7.4" fill="#dcb088" stroke="#222" stroke-width="0.8"/>
<rect x="210.70" y="640.78" width="7.4" height="7.4" fill="#dcb088" stroke="#222" stroke-width="0.8"/>
<rect x="286.50" y="624.99" width="7.4" height="7.4" fill="#dcb088" stroke="#222" stroke-width="0.8"/>
<rect x="360.30" y="544.18" width="7.4" height="7.4" fill="#dcb088" stroke="#222" stroke-width="0.8"/>
<rect x="64.10" y="706.27" width="7.4" height="7.4" fill="#000" stroke="#222" stroke-width="0.8"/>
<rect x="78.34" y="700.15" width="7.4" height="7.4" fill="#000" stroke="#222" stroke-width="0.8"/>
<rect x="94.68" y="702.50" width="7.4" height="7.4" fill="#000" stroke="#222" stroke-width="0.8"/>
<rect x="107.12" y="687.42" width="7.4" height="7.4" fill="#000" stroke="#222" stroke-width="0.8"/>
<rect x="123.86" y="681.77" width="7.4" height="7.4" fill="#000" stroke="#222" stroke-width="0.8"/>
<rect x="213.20" y="626.17" width="7.4" height="7.4" fill="#000" stroke="#222" stroke-width="0.8"/>
<rect x="287.00" y="619.34" width="7.4" height="7.4" fill="#000" stroke="#222" stroke-width="0.8"/>
<rect x="362.40" y="604.02" width="7.4" height="7.4" fill="#000" stroke="#222" stroke-width="0.8"/>
<circle cx="67.80" cy="709.97" r="3.7" fill="#f7a030" stroke="#222" stroke-width="0.8"/>
<circle cx="80.84" cy="706.20" r="3.7" fill="#f7a030" stroke="#222" stroke-width="0.8"/>
<circle cx="95.78" cy="700.08" r="3.7" fill="#f7a030" stroke="#222" stroke-width="0.8"/>
<circle cx="110.22" cy="692.07" r="3.7" fill="#f7a030" stroke="#222" stroke-width="0.8"/>
<circle cx="125.66" cy="684.53" r="3.7" fill="#f7a030" stroke="#222" stroke-width="0.8"/>
<circle cx="215.70" cy="664.27" r="3.7" fill="#f7a030" stroke="#222" stroke-width="0.8"/>
<circle cx="289.80" cy="653.90" r="3.7" fill="#f7a030" stroke="#222" stroke-width="0.8"/>
<circle cx="364.90" cy="643.77" r="3.7" fill="#f7a030" stroke="#222" stroke-width="0.8"/>
<circle cx="67.80" cy="709.97" r="3.7" fill="#c8283a" stroke="#222" stroke-width="0.8"/>
<circle cx="84.24" cy="708.56" r="3.7" fill="#c8283a" stroke="#222" stroke-width="0.8"/>
<circle cx="99.78" cy="702.43" r="3.7" fill="#c8283a" stroke="#222" stroke-width="0.8"/>
<circle cx="114.22" cy="694.19" r="3.7" fill="#c8283a" stroke="#222" stroke-width="0.8"/>
<circle cx="129.16" cy="687.83" r="3.7" fill="#c8283a" stroke="#222" stroke-width="0.8"/>
<circle cx="218.50" cy="534.21" r="3.7" fill="#c8283a" stroke="#222" stroke-width="0.8"/>
<circle cx="293.00" cy="587.93" r="3.7" fill="#c8283a" stroke="#222" stroke-width="0.8"/>
<circle cx="368.00" cy="574.50" r="3.7" fill="#c8283a" stroke="#222" stroke-width="0.8"/>
<path d="M217.70 457.40L217.70 454.00M217.70 457.40L220.93 456.35M217.70 457.40L219.70 460.15M217.70 457.40L215.70 460.15M217.70 457.40L214.47 456.35" stroke="#111" stroke-width="1.5" fill="none"/>
<path d="M217.70 466.00L217.70 462.60M217.70 466.00L220.93 464.95M217.70 466.00L219.70 468.75M217.70 466.00L215.70 468.75M217.70 466.00L214.47 464.95" stroke="#eba232" stroke-width="1.5" fill="none"/>
<path d="M217.70 483.50L217.70 480.10M217.70 483.50L220.93 482.45M217.70 483.50L219.70 486.25M217.70 483.50L215.70 486.25M217.70 483.50L214.47 482.45" stroke="#a83048" stroke-width="1.5" fill="none"/>
<path d="M292.60 457.40L292.60 454.00M292.60 457.40L295.83 456.35M292.60 457.40L294.60 460.15M292.60 457.40L290.60 460.15M292.60 457.40L289.37 456.35" stroke="#111" stroke-width="1.5" fill="none"/>
<path d="M292.60 466.00L292.60 462.60M292.60 466.00L295.83 464.95M292.60 466.00L294.60 468.75M292.60 466.00L290.60 468.75M292.60 466.00L289.37 464.95" stroke="#eba232" stroke-width="1.5" fill="none"/>
<path d="M292.60 474.60L292.60 471.20M292.60 474.60L295.83 473.55M292.60 474.60L294.60 477.35M292.60 474.60L290.60 477.35M292.60 474.60L289.37 473.55" stroke="#ddb494" stroke-width="1.5" fill="none"/>
<path d="M292.60 483.50L292.60 480.10M292.60 483.50L295.83 482.45M292.60 483.50L294.60 486.25M292.60 483.50L290.60 486.25M292.60 483.50L289.37 482.45" stroke="#a83048" stroke-width="1.5" fill="none"/>
<path d="M365.40 457.40L365.40 454.00M365.40 457.40L368.63 456.35M365.40 457.40L367.40 460.15M365.40 457.40L363.40 460.15M365.40 457.40L362.17 456.35" stroke="#111" stroke-width="1.5" fill="none"/>
<path d="M365.40 466.00L365.40 462.60M365.40 466.00L368.63 464.95M365.40 466.00L367.40 468.75M365.40 466.00L363.40 468.75M365.40 466.00L362.17 464.95" stroke="#eba232" stroke-width="1.5" fill="none"/>
<path d="M365.40 474.60L365.40 471.20M365.40 474.60L368.63 473.55M365.40 474.60L367.40 477.35M365.40 474.60L363.40 477.35M365.40 474.60L362.17 473.55" stroke="#ddb494" stroke-width="1.5" fill="none"/>
<path d="M365.40 483.50L365.40 480.10M365.40 483.50L368.63 482.45M365.40 483.50L367.40 486.25M365.40 483.50L363.40 486.25M365.40 483.50L362.17 482.45" stroke="#a83048" stroke-width="1.5" fill="none"/>
<rect x="404.30" y="569.30" width="7.4" height="7.4" fill="#000" stroke="#222" stroke-width="0.8"/>
<text x="421.90" y="576.90" font-size="11.0" text-anchor="start" font-weight="normal" fill="#222" >PMA</text>
<circle cx="408.0" cy="596.50" r="3.6" fill="#f7a030" stroke="#222" stroke-width="0.8"/>
<text x="421.90" y="600.40" font-size="11.0" text-anchor="start" font-weight="normal" fill="#222" >Collagen</text>
<rect x="404.30" y="616.10" width="7.4" height="7.4" fill="#dcb088" stroke="#222" stroke-width="0.8"/>
<text x="421.90" y="623.70" font-size="11.0" text-anchor="start" font-weight="normal" fill="#222" >Aggretin A</text>
<circle cx="408.0" cy="643.10" r="3.6" fill="#c8283a" stroke="#222" stroke-width="0.8"/>
<text x="421.90" y="647.00" font-size="11.0" text-anchor="start" font-weight="normal" fill="#222" >Botrocetin</text>
<circle cx="408.0" cy="666.30" r="3.6" fill="#c8c8c8" stroke="#222" stroke-width="0.8"/>
<text x="421.90" y="670.20" font-size="11.0" text-anchor="start" font-weight="normal" fill="#222" >No stimulus</text>
</svg></body></html>
